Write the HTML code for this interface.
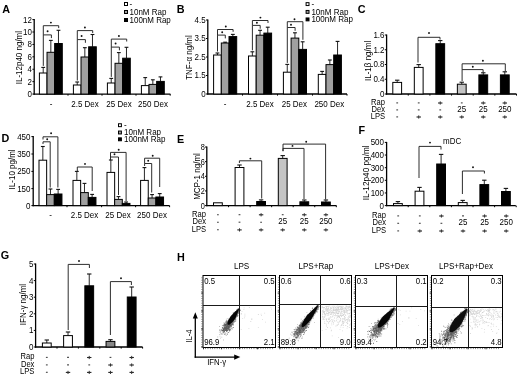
<!DOCTYPE html>
<html><head><meta charset="utf-8"><style>
html,body{margin:0;padding:0;background:#fff;width:520px;height:374px;overflow:hidden}
svg{display:block;font-family:"Liberation Sans",sans-serif;will-change:transform}
</style></head><body>
<svg width="520" height="374" viewBox="0 0 520 374" font-family="Liberation Sans, sans-serif" fill="#000"><text transform="translate(2.20,12.60) scale(1,1.0)" font-size="10.8" text-anchor="start" font-weight="bold" >A</text>
<line x1="34.20" y1="19.10" x2="34.20" y2="94.66" stroke="#000" stroke-width="1.3"/>
<line x1="32.40" y1="19.60" x2="34.20" y2="19.60" stroke="#000" stroke-width="1"/>
<text transform="translate(31.90,22.50) scale(1,1.15)" font-size="8" text-anchor="end" >12</text>
<line x1="32.40" y1="32.01" x2="34.20" y2="32.01" stroke="#000" stroke-width="1"/>
<text transform="translate(31.90,34.91) scale(1,1.15)" font-size="8" text-anchor="end" >10</text>
<line x1="32.40" y1="44.42" x2="34.20" y2="44.42" stroke="#000" stroke-width="1"/>
<text transform="translate(31.90,47.32) scale(1,1.15)" font-size="8" text-anchor="end" >8</text>
<line x1="32.40" y1="56.83" x2="34.20" y2="56.83" stroke="#000" stroke-width="1"/>
<text transform="translate(31.90,59.73) scale(1,1.15)" font-size="8" text-anchor="end" >6</text>
<line x1="32.40" y1="69.24" x2="34.20" y2="69.24" stroke="#000" stroke-width="1"/>
<text transform="translate(31.90,72.14) scale(1,1.15)" font-size="8" text-anchor="end" >4</text>
<line x1="32.40" y1="81.65" x2="34.20" y2="81.65" stroke="#000" stroke-width="1"/>
<text transform="translate(31.90,84.55) scale(1,1.15)" font-size="8" text-anchor="end" >2</text>
<line x1="32.40" y1="94.06" x2="34.20" y2="94.06" stroke="#000" stroke-width="1"/>
<text transform="translate(31.90,96.96) scale(1,1.15)" font-size="8" text-anchor="end" >0</text>
<line x1="33.60" y1="94.06" x2="170.40" y2="94.06" stroke="#000" stroke-width="1.3"/>
<line x1="68.00" y1="94.06" x2="68.00" y2="95.66" stroke="#000" stroke-width="1"/>
<line x1="102.00" y1="94.06" x2="102.00" y2="95.66" stroke="#000" stroke-width="1"/>
<line x1="136.00" y1="94.06" x2="136.00" y2="95.66" stroke="#000" stroke-width="1"/>
<line x1="170.20" y1="94.06" x2="170.20" y2="95.66" stroke="#000" stroke-width="1"/>
<line x1="43.21" y1="73.00" x2="43.21" y2="67.40" stroke="#111" stroke-width="0.9"/>
<line x1="41.31" y1="67.40" x2="45.12" y2="67.40" stroke="#111" stroke-width="1.1"/>
<rect x="39.40" y="73.00" width="7.63" height="21.06" fill="#fff" stroke="#000" stroke-width="1"/>
<line x1="50.84" y1="52.30" x2="50.84" y2="40.40" stroke="#111" stroke-width="0.9"/>
<line x1="48.94" y1="40.40" x2="52.75" y2="40.40" stroke="#111" stroke-width="1.1"/>
<rect x="47.03" y="52.30" width="7.63" height="41.76" fill="#a0a0a0" stroke="#000" stroke-width="1"/>
<line x1="58.47" y1="43.50" x2="58.47" y2="30.30" stroke="#111" stroke-width="0.9"/>
<line x1="56.57" y1="30.30" x2="60.38" y2="30.30" stroke="#111" stroke-width="1.1"/>
<rect x="54.66" y="43.50" width="7.63" height="50.56" fill="#000" stroke="#000" stroke-width="1"/>
<line x1="77.22" y1="85.00" x2="77.22" y2="82.00" stroke="#111" stroke-width="0.9"/>
<line x1="75.31" y1="82.00" x2="79.12" y2="82.00" stroke="#111" stroke-width="1.1"/>
<rect x="73.40" y="85.00" width="7.63" height="9.06" fill="#fff" stroke="#000" stroke-width="1"/>
<line x1="84.84" y1="57.00" x2="84.84" y2="47.70" stroke="#111" stroke-width="0.9"/>
<line x1="82.94" y1="47.70" x2="86.75" y2="47.70" stroke="#111" stroke-width="1.1"/>
<rect x="81.03" y="57.00" width="7.63" height="37.06" fill="#a0a0a0" stroke="#000" stroke-width="1"/>
<line x1="92.48" y1="46.80" x2="92.48" y2="34.50" stroke="#111" stroke-width="0.9"/>
<line x1="90.57" y1="34.50" x2="94.38" y2="34.50" stroke="#111" stroke-width="1.1"/>
<rect x="88.66" y="46.80" width="7.63" height="47.26" fill="#000" stroke="#000" stroke-width="1"/>
<line x1="111.22" y1="83.00" x2="111.22" y2="78.40" stroke="#111" stroke-width="0.9"/>
<line x1="109.31" y1="78.40" x2="113.12" y2="78.40" stroke="#111" stroke-width="1.1"/>
<rect x="107.40" y="83.00" width="7.63" height="11.06" fill="#fff" stroke="#000" stroke-width="1"/>
<line x1="118.84" y1="63.30" x2="118.84" y2="52.60" stroke="#111" stroke-width="0.9"/>
<line x1="116.94" y1="52.60" x2="120.75" y2="52.60" stroke="#111" stroke-width="1.1"/>
<rect x="115.03" y="63.30" width="7.63" height="30.76" fill="#a0a0a0" stroke="#000" stroke-width="1"/>
<line x1="126.48" y1="58.20" x2="126.48" y2="47.30" stroke="#111" stroke-width="0.9"/>
<line x1="124.57" y1="47.30" x2="128.38" y2="47.30" stroke="#111" stroke-width="1.1"/>
<rect x="122.66" y="58.20" width="7.63" height="35.86" fill="#000" stroke="#000" stroke-width="1"/>
<line x1="145.22" y1="85.60" x2="145.22" y2="77.60" stroke="#111" stroke-width="0.9"/>
<line x1="143.31" y1="77.60" x2="147.12" y2="77.60" stroke="#111" stroke-width="1.1"/>
<rect x="141.40" y="85.60" width="7.63" height="8.46" fill="#fff" stroke="#000" stroke-width="1"/>
<line x1="152.84" y1="84.40" x2="152.84" y2="79.80" stroke="#111" stroke-width="0.9"/>
<line x1="150.94" y1="79.80" x2="154.75" y2="79.80" stroke="#111" stroke-width="1.1"/>
<rect x="149.03" y="84.40" width="7.63" height="9.66" fill="#a0a0a0" stroke="#000" stroke-width="1"/>
<line x1="160.47" y1="81.40" x2="160.47" y2="76.90" stroke="#111" stroke-width="0.9"/>
<line x1="158.57" y1="76.90" x2="162.38" y2="76.90" stroke="#111" stroke-width="1.1"/>
<rect x="156.66" y="81.40" width="7.63" height="12.66" fill="#000" stroke="#000" stroke-width="1"/>
<polyline points="43.30,65.90 43.30,34.90 51.40,34.90 51.40,38.10" fill="none" stroke="#222" stroke-width="0.95"/>
<circle cx="47.60" cy="31.30" r="0.95" fill="#111"/>
<polyline points="43.30,34.90 43.30,25.70 58.70,25.70 58.70,28.10" fill="none" stroke="#222" stroke-width="0.95"/>
<circle cx="50.90" cy="22.60" r="0.95" fill="#111"/>
<polyline points="77.30,80.50 77.30,39.60 85.40,39.60 85.40,42.80" fill="none" stroke="#222" stroke-width="0.95"/>
<circle cx="81.60" cy="36.00" r="0.95" fill="#111"/>
<polyline points="77.30,39.60 77.30,30.60 92.70,30.60 92.70,33.00" fill="none" stroke="#222" stroke-width="0.95"/>
<circle cx="84.90" cy="27.50" r="0.95" fill="#111"/>
<polyline points="111.30,76.90 111.30,47.10 119.40,47.10 119.40,50.30" fill="none" stroke="#222" stroke-width="0.95"/>
<circle cx="115.60" cy="43.50" r="0.95" fill="#111"/>
<polyline points="111.30,47.10 111.30,39.10 126.70,39.10 126.70,41.50" fill="none" stroke="#222" stroke-width="0.95"/>
<circle cx="118.90" cy="36.00" r="0.95" fill="#111"/>
<text transform="translate(51.00,107.30) scale(1,1.15)" font-size="8" text-anchor="middle" >-</text>
<text transform="translate(85.00,107.30) scale(1,1.15)" font-size="8" text-anchor="middle" >2.5 Dex</text>
<text transform="translate(119.00,107.30) scale(1,1.15)" font-size="8" text-anchor="middle" >25 Dex</text>
<text transform="translate(153.00,107.30) scale(1,1.15)" font-size="8" text-anchor="middle" >250 Dex</text>
<text x="0" y="0" font-size="8" text-anchor="middle" transform="translate(18.30,57.60) rotate(-90) scale(1,1.15)" dominant-baseline="central">IL-12p40 ng/ml</text>
<rect x="124.50" y="2.50" width="3" height="3" fill="#fff" stroke="#000" stroke-width="1"/>
<text transform="translate(129.50,6.90) scale(1,1.15)" font-size="8" text-anchor="start" >-</text>
<rect x="124.50" y="10.50" width="3" height="3" fill="#a0a0a0" stroke="#000" stroke-width="1"/>
<text transform="translate(129.50,14.90) scale(1,1.15)" font-size="8" text-anchor="start" >10nM Rap</text>
<rect x="124.50" y="18.50" width="3" height="3" fill="#000" stroke="#000" stroke-width="1"/>
<text transform="translate(129.50,22.90) scale(1,1.15)" font-size="8" text-anchor="start" >100nM Rap</text>
<text transform="translate(176.80,13.30) scale(1,1.0)" font-size="10.8" text-anchor="start" font-weight="bold" >B</text>
<line x1="207.80" y1="19.50" x2="207.80" y2="94.60" stroke="#000" stroke-width="1.3"/>
<line x1="206.00" y1="20.00" x2="207.80" y2="20.00" stroke="#000" stroke-width="1"/>
<text transform="translate(205.70,22.90) scale(1,1.15)" font-size="8" text-anchor="end" >4.5</text>
<line x1="206.00" y1="38.50" x2="207.80" y2="38.50" stroke="#000" stroke-width="1"/>
<text transform="translate(205.70,41.40) scale(1,1.15)" font-size="8" text-anchor="end" >3.5</text>
<line x1="206.00" y1="57.00" x2="207.80" y2="57.00" stroke="#000" stroke-width="1"/>
<text transform="translate(205.70,59.90) scale(1,1.15)" font-size="8" text-anchor="end" >2.5</text>
<line x1="206.00" y1="75.50" x2="207.80" y2="75.50" stroke="#000" stroke-width="1"/>
<text transform="translate(205.70,78.40) scale(1,1.15)" font-size="8" text-anchor="end" >1.5</text>
<line x1="206.00" y1="94.00" x2="207.80" y2="94.00" stroke="#000" stroke-width="1"/>
<text transform="translate(205.70,96.90) scale(1,1.15)" font-size="8" text-anchor="end" >0</text>
<line x1="207.20" y1="94.00" x2="347.00" y2="94.00" stroke="#000" stroke-width="1.3"/>
<line x1="242.50" y1="94.00" x2="242.50" y2="95.60" stroke="#000" stroke-width="1"/>
<line x1="277.50" y1="94.00" x2="277.50" y2="95.60" stroke="#000" stroke-width="1"/>
<line x1="312.50" y1="94.00" x2="312.50" y2="95.60" stroke="#000" stroke-width="1"/>
<line x1="347.00" y1="94.00" x2="347.00" y2="95.60" stroke="#000" stroke-width="1"/>
<line x1="217.45" y1="55.00" x2="217.45" y2="53.00" stroke="#111" stroke-width="0.9"/>
<line x1="215.52" y1="53.00" x2="219.38" y2="53.00" stroke="#111" stroke-width="1.1"/>
<rect x="213.60" y="55.00" width="7.70" height="39.00" fill="#fff" stroke="#000" stroke-width="1"/>
<line x1="225.15" y1="43.00" x2="225.15" y2="42.20" stroke="#111" stroke-width="0.9"/>
<line x1="223.22" y1="42.20" x2="227.07" y2="42.20" stroke="#111" stroke-width="1.1"/>
<rect x="221.30" y="43.00" width="7.70" height="51.00" fill="#a0a0a0" stroke="#000" stroke-width="1"/>
<line x1="232.85" y1="36.60" x2="232.85" y2="34.40" stroke="#111" stroke-width="0.9"/>
<line x1="230.92" y1="34.40" x2="234.78" y2="34.40" stroke="#111" stroke-width="1.1"/>
<rect x="229.00" y="36.60" width="7.70" height="57.40" fill="#000" stroke="#000" stroke-width="1"/>
<line x1="252.35" y1="56.00" x2="252.35" y2="51.80" stroke="#111" stroke-width="0.9"/>
<line x1="250.42" y1="51.80" x2="254.28" y2="51.80" stroke="#111" stroke-width="1.1"/>
<rect x="248.50" y="56.00" width="7.70" height="38.00" fill="#fff" stroke="#000" stroke-width="1"/>
<line x1="260.05" y1="35.20" x2="260.05" y2="30.30" stroke="#111" stroke-width="0.9"/>
<line x1="258.12" y1="30.30" x2="261.98" y2="30.30" stroke="#111" stroke-width="1.1"/>
<rect x="256.20" y="35.20" width="7.70" height="58.80" fill="#a0a0a0" stroke="#000" stroke-width="1"/>
<line x1="267.75" y1="33.10" x2="267.75" y2="27.20" stroke="#111" stroke-width="0.9"/>
<line x1="265.82" y1="27.20" x2="269.68" y2="27.20" stroke="#111" stroke-width="1.1"/>
<rect x="263.90" y="33.10" width="7.70" height="60.90" fill="#000" stroke="#000" stroke-width="1"/>
<line x1="287.25" y1="72.20" x2="287.25" y2="64.40" stroke="#111" stroke-width="0.9"/>
<line x1="285.32" y1="64.40" x2="289.18" y2="64.40" stroke="#111" stroke-width="1.1"/>
<rect x="283.40" y="72.20" width="7.70" height="21.80" fill="#fff" stroke="#000" stroke-width="1"/>
<line x1="294.95" y1="38.10" x2="294.95" y2="32.80" stroke="#111" stroke-width="0.9"/>
<line x1="293.02" y1="32.80" x2="296.88" y2="32.80" stroke="#111" stroke-width="1.1"/>
<rect x="291.10" y="38.10" width="7.70" height="55.90" fill="#a0a0a0" stroke="#000" stroke-width="1"/>
<line x1="302.65" y1="49.40" x2="302.65" y2="41.80" stroke="#111" stroke-width="0.9"/>
<line x1="300.72" y1="41.80" x2="304.57" y2="41.80" stroke="#111" stroke-width="1.1"/>
<rect x="298.80" y="49.40" width="7.70" height="44.60" fill="#000" stroke="#000" stroke-width="1"/>
<line x1="322.15" y1="74.40" x2="322.15" y2="71.40" stroke="#111" stroke-width="0.9"/>
<line x1="320.22" y1="71.40" x2="324.07" y2="71.40" stroke="#111" stroke-width="1.1"/>
<rect x="318.30" y="74.40" width="7.70" height="19.60" fill="#fff" stroke="#000" stroke-width="1"/>
<line x1="329.85" y1="64.60" x2="329.85" y2="60.00" stroke="#111" stroke-width="0.9"/>
<line x1="327.92" y1="60.00" x2="331.77" y2="60.00" stroke="#111" stroke-width="1.1"/>
<rect x="326.00" y="64.60" width="7.70" height="29.40" fill="#a0a0a0" stroke="#000" stroke-width="1"/>
<line x1="337.55" y1="55.00" x2="337.55" y2="41.40" stroke="#111" stroke-width="0.9"/>
<line x1="335.62" y1="41.40" x2="339.47" y2="41.40" stroke="#111" stroke-width="1.1"/>
<rect x="333.70" y="55.00" width="7.70" height="39.00" fill="#000" stroke="#000" stroke-width="1"/>
<polyline points="217.50,51.50 217.50,35.10 225.30,35.10 225.30,38.40" fill="none" stroke="#222" stroke-width="0.95"/>
<circle cx="222.20" cy="32.20" r="0.95" fill="#111"/>
<polyline points="217.50,35.10 217.50,29.50 233.10,29.50 233.10,31.80" fill="none" stroke="#222" stroke-width="0.95"/>
<circle cx="225.80" cy="26.50" r="0.95" fill="#111"/>
<polyline points="252.40,50.30 252.40,25.40 260.20,25.40 260.20,28.70" fill="none" stroke="#222" stroke-width="0.95"/>
<circle cx="256.90" cy="22.70" r="0.95" fill="#111"/>
<polyline points="252.40,25.40 252.40,20.50 268.00,20.50 268.00,23.00" fill="none" stroke="#222" stroke-width="0.95"/>
<circle cx="260.40" cy="17.60" r="0.95" fill="#111"/>
<polyline points="287.30,62.90 287.30,27.50 295.10,27.50 295.10,30.80" fill="none" stroke="#222" stroke-width="0.95"/>
<circle cx="291.00" cy="24.80" r="0.95" fill="#111"/>
<polyline points="287.30,27.50 287.30,21.70 302.90,21.70 302.90,39.80" fill="none" stroke="#222" stroke-width="0.95"/>
<circle cx="294.50" cy="19.20" r="0.95" fill="#111"/>
<text transform="translate(225.00,106.80) scale(1,1.15)" font-size="8" text-anchor="middle" >-</text>
<text transform="translate(260.00,106.80) scale(1,1.15)" font-size="8" text-anchor="middle" >2.5 Dex</text>
<text transform="translate(294.40,106.80) scale(1,1.15)" font-size="8" text-anchor="middle" >25 Dex</text>
<text transform="translate(329.30,106.80) scale(1,1.15)" font-size="8" text-anchor="middle" >250 Dex</text>
<text x="0" y="0" font-size="8" text-anchor="middle" transform="translate(188.70,57.50) rotate(-90) scale(1,1.15)" dominant-baseline="central">TNF-α ng/ml</text>
<rect x="306.10" y="2.65" width="2.9" height="2.9" fill="#fff" stroke="#000" stroke-width="1"/>
<text transform="translate(311.40,7.00) scale(1,1.15)" font-size="8.05" text-anchor="start" >-</text>
<rect x="306.10" y="10.45" width="2.9" height="2.9" fill="#a0a0a0" stroke="#000" stroke-width="1"/>
<text transform="translate(311.40,14.80) scale(1,1.15)" font-size="8.05" text-anchor="start" >10nM Rap</text>
<rect x="306.10" y="17.95" width="2.9" height="2.9" fill="#000" stroke="#000" stroke-width="1"/>
<text transform="translate(311.40,22.30) scale(1,1.15)" font-size="8.05" text-anchor="start" >100nM Rap</text>
<text transform="translate(357.80,12.80) scale(1,1.0)" font-size="10.8" text-anchor="start" font-weight="bold" >C</text>
<line x1="386.60" y1="34.50" x2="386.60" y2="94.60" stroke="#000" stroke-width="1.3"/>
<line x1="384.80" y1="35.00" x2="386.60" y2="35.00" stroke="#000" stroke-width="1"/>
<text transform="translate(384.50,37.90) scale(1,1.15)" font-size="8" text-anchor="end" >1.6</text>
<line x1="384.80" y1="49.75" x2="386.60" y2="49.75" stroke="#000" stroke-width="1"/>
<text transform="translate(384.50,52.65) scale(1,1.15)" font-size="8" text-anchor="end" >1.2</text>
<line x1="384.80" y1="64.50" x2="386.60" y2="64.50" stroke="#000" stroke-width="1"/>
<text transform="translate(384.50,67.40) scale(1,1.15)" font-size="8" text-anchor="end" >0.8</text>
<line x1="384.80" y1="79.25" x2="386.60" y2="79.25" stroke="#000" stroke-width="1"/>
<text transform="translate(384.50,82.15) scale(1,1.15)" font-size="8" text-anchor="end" >0.4</text>
<line x1="384.80" y1="94.00" x2="386.60" y2="94.00" stroke="#000" stroke-width="1"/>
<text transform="translate(384.50,96.90) scale(1,1.15)" font-size="8" text-anchor="end" >0</text>
<line x1="386.00" y1="94.00" x2="516.50" y2="94.00" stroke="#000" stroke-width="1.3"/>
<line x1="408.25" y1="94.00" x2="408.25" y2="95.60" stroke="#000" stroke-width="1"/>
<line x1="429.90" y1="94.00" x2="429.90" y2="95.60" stroke="#000" stroke-width="1"/>
<line x1="451.55" y1="94.00" x2="451.55" y2="95.60" stroke="#000" stroke-width="1"/>
<line x1="473.20" y1="94.00" x2="473.20" y2="95.60" stroke="#000" stroke-width="1"/>
<line x1="494.85" y1="94.00" x2="494.85" y2="95.60" stroke="#000" stroke-width="1"/>
<line x1="516.50" y1="94.00" x2="516.50" y2="95.60" stroke="#000" stroke-width="1"/>
<line x1="397.20" y1="82.40" x2="397.20" y2="80.20" stroke="#111" stroke-width="0.9"/>
<line x1="395.00" y1="80.20" x2="399.40" y2="80.20" stroke="#111" stroke-width="1.1"/>
<rect x="392.80" y="82.40" width="8.80" height="11.60" fill="#fff" stroke="#000" stroke-width="1"/>
<line x1="418.72" y1="67.40" x2="418.72" y2="64.60" stroke="#111" stroke-width="0.9"/>
<line x1="416.52" y1="64.60" x2="420.92" y2="64.60" stroke="#111" stroke-width="1.1"/>
<rect x="414.32" y="67.40" width="8.80" height="26.60" fill="#fff" stroke="#000" stroke-width="1"/>
<line x1="440.24" y1="43.70" x2="440.24" y2="40.60" stroke="#111" stroke-width="0.9"/>
<line x1="438.04" y1="40.60" x2="442.44" y2="40.60" stroke="#111" stroke-width="1.1"/>
<rect x="435.84" y="43.70" width="8.80" height="50.30" fill="#000" stroke="#000" stroke-width="1"/>
<line x1="461.76" y1="84.20" x2="461.76" y2="82.20" stroke="#111" stroke-width="0.9"/>
<line x1="459.56" y1="82.20" x2="463.96" y2="82.20" stroke="#111" stroke-width="1.1"/>
<rect x="457.36" y="84.20" width="8.80" height="9.80" fill="#c4c4c4" stroke="#000" stroke-width="1"/>
<line x1="483.28" y1="74.90" x2="483.28" y2="72.80" stroke="#111" stroke-width="0.9"/>
<line x1="481.08" y1="72.80" x2="485.48" y2="72.80" stroke="#111" stroke-width="1.1"/>
<rect x="478.88" y="74.90" width="8.80" height="19.10" fill="#000" stroke="#000" stroke-width="1"/>
<line x1="504.80" y1="74.90" x2="504.80" y2="71.80" stroke="#111" stroke-width="0.9"/>
<line x1="502.60" y1="71.80" x2="507.00" y2="71.80" stroke="#111" stroke-width="1.1"/>
<rect x="500.40" y="74.90" width="8.80" height="19.10" fill="#000" stroke="#000" stroke-width="1"/>
<polyline points="418.00,62.50 418.00,37.30 440.00,37.30 440.00,39.60" fill="none" stroke="#222" stroke-width="0.95"/>
<circle cx="429.00" cy="33.00" r="0.95" fill="#111"/>
<polyline points="462.10,81.00 462.10,69.60 483.10,69.60 483.10,72.60" fill="none" stroke="#222" stroke-width="0.95"/>
<circle cx="472.80" cy="66.70" r="0.95" fill="#111"/>
<polyline points="462.10,69.60 462.10,63.80 505.30,63.80 505.30,71.20" fill="none" stroke="#222" stroke-width="0.95"/>
<circle cx="482.90" cy="60.70" r="0.95" fill="#111"/>
<text transform="translate(385.00,104.80) scale(1,1.15)" font-size="7.6" text-anchor="end" >Rap</text>
<text transform="translate(385.00,111.80) scale(1,1.15)" font-size="7.6" text-anchor="end" >Dex</text>
<text transform="translate(385.00,118.80) scale(1,1.15)" font-size="7.6" text-anchor="end" >LPS</text>
<line x1="396.30" y1="102.90" x2="398.10" y2="102.90" stroke="#444" stroke-width="1.1"/>
<line x1="417.82" y1="102.90" x2="419.62" y2="102.90" stroke="#444" stroke-width="1.1"/>
<line x1="438.04" y1="103.00" x2="442.44" y2="103.00" stroke="#222" stroke-width="1.1"/>
<line x1="440.24" y1="101.40" x2="440.24" y2="104.60" stroke="#333" stroke-width="1.0"/>
<line x1="460.86" y1="102.90" x2="462.66" y2="102.90" stroke="#444" stroke-width="1.1"/>
<line x1="481.08" y1="103.00" x2="485.48" y2="103.00" stroke="#222" stroke-width="1.1"/>
<line x1="483.28" y1="101.40" x2="483.28" y2="104.60" stroke="#333" stroke-width="1.0"/>
<line x1="502.60" y1="103.00" x2="507.00" y2="103.00" stroke="#222" stroke-width="1.1"/>
<line x1="504.80" y1="101.40" x2="504.80" y2="104.60" stroke="#333" stroke-width="1.0"/>
<line x1="396.30" y1="109.90" x2="398.10" y2="109.90" stroke="#444" stroke-width="1.1"/>
<line x1="417.82" y1="109.90" x2="419.62" y2="109.90" stroke="#444" stroke-width="1.1"/>
<line x1="439.34" y1="109.90" x2="441.14" y2="109.90" stroke="#444" stroke-width="1.1"/>
<text transform="translate(461.76,111.90) scale(1,1.15)" font-size="8.0" text-anchor="middle" >25</text>
<text transform="translate(483.28,111.90) scale(1,1.15)" font-size="8.0" text-anchor="middle" >25</text>
<text transform="translate(504.80,111.90) scale(1,1.15)" font-size="8.0" text-anchor="middle" >250</text>
<line x1="396.30" y1="116.90" x2="398.10" y2="116.90" stroke="#444" stroke-width="1.1"/>
<line x1="416.52" y1="117.00" x2="420.92" y2="117.00" stroke="#222" stroke-width="1.1"/>
<line x1="418.72" y1="115.40" x2="418.72" y2="118.60" stroke="#333" stroke-width="1.0"/>
<line x1="438.04" y1="117.00" x2="442.44" y2="117.00" stroke="#222" stroke-width="1.1"/>
<line x1="440.24" y1="115.40" x2="440.24" y2="118.60" stroke="#333" stroke-width="1.0"/>
<line x1="459.56" y1="117.00" x2="463.96" y2="117.00" stroke="#222" stroke-width="1.1"/>
<line x1="461.76" y1="115.40" x2="461.76" y2="118.60" stroke="#333" stroke-width="1.0"/>
<line x1="481.08" y1="117.00" x2="485.48" y2="117.00" stroke="#222" stroke-width="1.1"/>
<line x1="483.28" y1="115.40" x2="483.28" y2="118.60" stroke="#333" stroke-width="1.0"/>
<line x1="502.60" y1="117.00" x2="507.00" y2="117.00" stroke="#222" stroke-width="1.1"/>
<line x1="504.80" y1="115.40" x2="504.80" y2="118.60" stroke="#333" stroke-width="1.0"/>
<text x="0" y="0" font-size="8" text-anchor="middle" transform="translate(367.80,60.90) rotate(-90) scale(1,1.15)" dominant-baseline="central">IL-1β ng/ml</text>
<text transform="translate(1.50,141.50) scale(1,1.0)" font-size="10.8" text-anchor="start" font-weight="bold" >D</text>
<line x1="33.20" y1="136.10" x2="33.20" y2="206.20" stroke="#000" stroke-width="1.3"/>
<line x1="31.40" y1="136.60" x2="33.20" y2="136.60" stroke="#000" stroke-width="1"/>
<text transform="translate(30.50,139.50) scale(1,1.15)" font-size="8" text-anchor="end" >450</text>
<line x1="31.40" y1="154.00" x2="33.20" y2="154.00" stroke="#000" stroke-width="1"/>
<text transform="translate(30.50,156.90) scale(1,1.15)" font-size="8" text-anchor="end" >350</text>
<line x1="31.40" y1="171.40" x2="33.20" y2="171.40" stroke="#000" stroke-width="1"/>
<text transform="translate(30.50,174.30) scale(1,1.15)" font-size="8" text-anchor="end" >250</text>
<line x1="31.40" y1="188.60" x2="33.20" y2="188.60" stroke="#000" stroke-width="1"/>
<text transform="translate(30.50,191.50) scale(1,1.15)" font-size="8" text-anchor="end" >150</text>
<line x1="31.40" y1="205.60" x2="33.20" y2="205.60" stroke="#000" stroke-width="1"/>
<text transform="translate(30.50,208.50) scale(1,1.15)" font-size="8" text-anchor="end" >0</text>
<line x1="32.60" y1="205.60" x2="169.60" y2="205.60" stroke="#000" stroke-width="1.3"/>
<line x1="67.00" y1="205.60" x2="67.00" y2="207.20" stroke="#000" stroke-width="1"/>
<line x1="101.60" y1="205.60" x2="101.60" y2="207.20" stroke="#000" stroke-width="1"/>
<line x1="135.60" y1="205.60" x2="135.60" y2="207.20" stroke="#000" stroke-width="1"/>
<line x1="169.60" y1="205.60" x2="169.60" y2="207.20" stroke="#000" stroke-width="1"/>
<line x1="42.83" y1="160.20" x2="42.83" y2="146.50" stroke="#111" stroke-width="0.9"/>
<line x1="40.91" y1="146.50" x2="44.74" y2="146.50" stroke="#111" stroke-width="1.1"/>
<rect x="39.00" y="160.20" width="7.65" height="45.40" fill="#fff" stroke="#000" stroke-width="1"/>
<line x1="50.48" y1="194.60" x2="50.48" y2="189.00" stroke="#111" stroke-width="0.9"/>
<line x1="48.56" y1="189.00" x2="52.39" y2="189.00" stroke="#111" stroke-width="1.1"/>
<rect x="46.65" y="194.60" width="7.65" height="11.00" fill="#a0a0a0" stroke="#000" stroke-width="1"/>
<line x1="58.12" y1="194.00" x2="58.12" y2="189.40" stroke="#111" stroke-width="0.9"/>
<line x1="56.21" y1="189.40" x2="60.04" y2="189.40" stroke="#111" stroke-width="1.1"/>
<rect x="54.30" y="194.00" width="7.65" height="11.60" fill="#000" stroke="#000" stroke-width="1"/>
<line x1="76.83" y1="180.40" x2="76.83" y2="171.40" stroke="#111" stroke-width="0.9"/>
<line x1="74.91" y1="171.40" x2="78.74" y2="171.40" stroke="#111" stroke-width="1.1"/>
<rect x="73.00" y="180.40" width="7.65" height="25.20" fill="#fff" stroke="#000" stroke-width="1"/>
<line x1="84.48" y1="192.60" x2="84.48" y2="183.40" stroke="#111" stroke-width="0.9"/>
<line x1="82.56" y1="183.40" x2="86.39" y2="183.40" stroke="#111" stroke-width="1.1"/>
<rect x="80.65" y="192.60" width="7.65" height="13.00" fill="#a0a0a0" stroke="#000" stroke-width="1"/>
<line x1="92.12" y1="197.40" x2="92.12" y2="194.40" stroke="#111" stroke-width="0.9"/>
<line x1="90.21" y1="194.40" x2="94.04" y2="194.40" stroke="#111" stroke-width="1.1"/>
<rect x="88.30" y="197.40" width="7.65" height="8.20" fill="#000" stroke="#000" stroke-width="1"/>
<line x1="110.83" y1="172.40" x2="110.83" y2="160.00" stroke="#111" stroke-width="0.9"/>
<line x1="108.91" y1="160.00" x2="112.74" y2="160.00" stroke="#111" stroke-width="1.1"/>
<rect x="107.00" y="172.40" width="7.65" height="33.20" fill="#fff" stroke="#000" stroke-width="1"/>
<line x1="118.48" y1="199.40" x2="118.48" y2="196.60" stroke="#111" stroke-width="0.9"/>
<line x1="116.56" y1="196.60" x2="120.39" y2="196.60" stroke="#111" stroke-width="1.1"/>
<rect x="114.65" y="199.40" width="7.65" height="6.20" fill="#a0a0a0" stroke="#000" stroke-width="1"/>
<line x1="126.12" y1="203.40" x2="126.12" y2="202.00" stroke="#111" stroke-width="0.9"/>
<line x1="124.21" y1="202.00" x2="128.04" y2="202.00" stroke="#111" stroke-width="1.1"/>
<rect x="122.30" y="203.40" width="7.65" height="2.20" fill="#000" stroke="#000" stroke-width="1"/>
<line x1="144.42" y1="180.40" x2="144.42" y2="167.60" stroke="#111" stroke-width="0.9"/>
<line x1="142.51" y1="167.60" x2="146.34" y2="167.60" stroke="#111" stroke-width="1.1"/>
<rect x="140.60" y="180.40" width="7.65" height="25.20" fill="#fff" stroke="#000" stroke-width="1"/>
<line x1="152.07" y1="198.00" x2="152.07" y2="194.60" stroke="#111" stroke-width="0.9"/>
<line x1="150.16" y1="194.60" x2="153.99" y2="194.60" stroke="#111" stroke-width="1.1"/>
<rect x="148.25" y="198.00" width="7.65" height="7.60" fill="#a0a0a0" stroke="#000" stroke-width="1"/>
<line x1="159.72" y1="197.00" x2="159.72" y2="193.60" stroke="#111" stroke-width="0.9"/>
<line x1="157.81" y1="193.60" x2="161.64" y2="193.60" stroke="#111" stroke-width="1.1"/>
<rect x="155.90" y="197.00" width="7.65" height="8.60" fill="#000" stroke="#000" stroke-width="1"/>
<polyline points="43.00,144.00 43.00,141.80 50.20,141.80 50.20,187.50" fill="none" stroke="#222" stroke-width="0.95"/>
<circle cx="47.20" cy="139.30" r="0.95" fill="#111"/>
<polyline points="43.00,139.50 43.00,136.80 57.90,136.80 57.90,187.50" fill="none" stroke="#222" stroke-width="0.95"/>
<circle cx="51.10" cy="133.30" r="0.95" fill="#111"/>
<polyline points="77.30,171.00 77.30,167.00 92.20,167.00 92.20,191.00" fill="none" stroke="#222" stroke-width="0.95"/>
<circle cx="85.00" cy="163.90" r="0.95" fill="#111"/>
<polyline points="110.50,160.00 110.50,157.00 118.50,157.00 118.50,195.00" fill="none" stroke="#222" stroke-width="0.95"/>
<circle cx="114.50" cy="154.30" r="0.95" fill="#111"/>
<polyline points="110.50,157.00 110.50,152.40 126.10,152.40 126.10,201.00" fill="none" stroke="#222" stroke-width="0.95"/>
<circle cx="118.70" cy="149.80" r="0.95" fill="#111"/>
<polyline points="144.60,166.00 144.60,163.50 151.70,163.50 151.70,192.50" fill="none" stroke="#222" stroke-width="0.95"/>
<circle cx="148.20" cy="160.80" r="0.95" fill="#111"/>
<polyline points="144.60,163.50 144.60,158.20 159.70,158.20 159.70,187.00" fill="none" stroke="#222" stroke-width="0.95"/>
<circle cx="152.70" cy="155.80" r="0.95" fill="#111"/>
<text transform="translate(50.50,217.80) scale(1,1.15)" font-size="8" text-anchor="middle" >-</text>
<text transform="translate(84.50,217.80) scale(1,1.15)" font-size="8" text-anchor="middle" >2.5 Dex</text>
<text transform="translate(118.00,217.80) scale(1,1.15)" font-size="8" text-anchor="middle" >25 Dex</text>
<text transform="translate(152.00,217.80) scale(1,1.15)" font-size="8" text-anchor="middle" >250 Dex</text>
<text x="0" y="0" font-size="8" text-anchor="middle" transform="translate(11.50,169.40) rotate(-90) scale(1,1.15)" dominant-baseline="central">IL-10 pg/ml</text>
<rect x="118.50" y="123.75" width="2.9" height="2.9" fill="#fff" stroke="#000" stroke-width="1"/>
<text transform="translate(124.00,128.10) scale(1,1.15)" font-size="8.05" text-anchor="start" >-</text>
<rect x="118.50" y="131.05" width="2.9" height="2.9" fill="#a0a0a0" stroke="#000" stroke-width="1"/>
<text transform="translate(124.00,135.40) scale(1,1.15)" font-size="8.05" text-anchor="start" >10nM Rap</text>
<rect x="118.50" y="137.85" width="2.9" height="2.9" fill="#000" stroke="#000" stroke-width="1"/>
<text transform="translate(124.00,142.20) scale(1,1.15)" font-size="8.05" text-anchor="start" >100nM Rap</text>
<text transform="translate(177.00,142.50) scale(1,1.0)" font-size="10.8" text-anchor="start" font-weight="bold" >E</text>
<line x1="206.80" y1="146.50" x2="206.80" y2="206.20" stroke="#000" stroke-width="1.3"/>
<line x1="205.00" y1="147.00" x2="206.80" y2="147.00" stroke="#000" stroke-width="1"/>
<text transform="translate(204.90,149.90) scale(1,1.15)" font-size="7.4" text-anchor="end" >8</text>
<line x1="205.00" y1="161.65" x2="206.80" y2="161.65" stroke="#000" stroke-width="1"/>
<text transform="translate(204.90,164.55) scale(1,1.15)" font-size="7.4" text-anchor="end" >6</text>
<line x1="205.00" y1="176.30" x2="206.80" y2="176.30" stroke="#000" stroke-width="1"/>
<text transform="translate(204.90,179.20) scale(1,1.15)" font-size="7.4" text-anchor="end" >4</text>
<line x1="205.00" y1="190.95" x2="206.80" y2="190.95" stroke="#000" stroke-width="1"/>
<text transform="translate(204.90,193.85) scale(1,1.15)" font-size="7.4" text-anchor="end" >2</text>
<line x1="205.00" y1="205.60" x2="206.80" y2="205.60" stroke="#000" stroke-width="1"/>
<text transform="translate(204.90,208.50) scale(1,1.15)" font-size="7.4" text-anchor="end" >0</text>
<line x1="206.20" y1="205.60" x2="336.50" y2="205.60" stroke="#000" stroke-width="1.3"/>
<line x1="228.55" y1="205.60" x2="228.55" y2="207.20" stroke="#000" stroke-width="1"/>
<line x1="250.10" y1="205.60" x2="250.10" y2="207.20" stroke="#000" stroke-width="1"/>
<line x1="271.65" y1="205.60" x2="271.65" y2="207.20" stroke="#000" stroke-width="1"/>
<line x1="293.20" y1="205.60" x2="293.20" y2="207.20" stroke="#000" stroke-width="1"/>
<line x1="314.75" y1="205.60" x2="314.75" y2="207.20" stroke="#000" stroke-width="1"/>
<line x1="336.30" y1="205.60" x2="336.30" y2="207.20" stroke="#000" stroke-width="1"/>
<rect x="213.50" y="202.80" width="8.80" height="2.80" fill="#fff" stroke="#000" stroke-width="1"/>
<line x1="239.50" y1="167.50" x2="239.50" y2="165.00" stroke="#111" stroke-width="0.9"/>
<line x1="237.30" y1="165.00" x2="241.70" y2="165.00" stroke="#111" stroke-width="1.1"/>
<rect x="235.10" y="167.50" width="8.80" height="38.10" fill="#fff" stroke="#000" stroke-width="1"/>
<line x1="261.10" y1="201.50" x2="261.10" y2="199.90" stroke="#111" stroke-width="0.9"/>
<line x1="258.90" y1="199.90" x2="263.30" y2="199.90" stroke="#111" stroke-width="1.1"/>
<rect x="256.70" y="201.50" width="8.80" height="4.10" fill="#000" stroke="#000" stroke-width="1"/>
<line x1="282.70" y1="158.40" x2="282.70" y2="155.60" stroke="#111" stroke-width="0.9"/>
<line x1="280.50" y1="155.60" x2="284.90" y2="155.60" stroke="#111" stroke-width="1.1"/>
<rect x="278.30" y="158.40" width="8.80" height="47.20" fill="#c4c4c4" stroke="#000" stroke-width="1"/>
<line x1="304.30" y1="201.80" x2="304.30" y2="200.00" stroke="#111" stroke-width="0.9"/>
<line x1="302.10" y1="200.00" x2="306.50" y2="200.00" stroke="#111" stroke-width="1.1"/>
<rect x="299.90" y="201.80" width="8.80" height="3.80" fill="#000" stroke="#000" stroke-width="1"/>
<line x1="325.90" y1="202.00" x2="325.90" y2="200.00" stroke="#111" stroke-width="0.9"/>
<line x1="323.70" y1="200.00" x2="328.10" y2="200.00" stroke="#111" stroke-width="1.1"/>
<rect x="321.50" y="202.00" width="8.80" height="3.60" fill="#000" stroke="#000" stroke-width="1"/>
<polyline points="239.40,163.00 239.40,160.80 261.70,160.80 261.70,198.50" fill="none" stroke="#222" stroke-width="0.95"/>
<circle cx="250.40" cy="158.60" r="0.95" fill="#111"/>
<polyline points="283.00,151.00 283.00,148.40 304.00,148.40 304.00,199.00" fill="none" stroke="#222" stroke-width="0.95"/>
<circle cx="292.50" cy="145.90" r="0.95" fill="#111"/>
<polyline points="283.00,151.30 283.00,144.10 325.60,144.10 325.60,199.50" fill="none" stroke="#222" stroke-width="0.95"/>
<circle cx="306.20" cy="141.70" r="0.95" fill="#111"/>
<text transform="translate(206.00,216.60) scale(1,1.15)" font-size="7.6" text-anchor="end" >Rap</text>
<text transform="translate(206.00,224.10) scale(1,1.15)" font-size="7.6" text-anchor="end" >Dex</text>
<text transform="translate(206.00,231.70) scale(1,1.15)" font-size="7.6" text-anchor="end" >LPS</text>
<line x1="217.00" y1="214.70" x2="218.80" y2="214.70" stroke="#444" stroke-width="1.1"/>
<line x1="238.60" y1="214.70" x2="240.40" y2="214.70" stroke="#444" stroke-width="1.1"/>
<line x1="258.90" y1="214.80" x2="263.30" y2="214.80" stroke="#222" stroke-width="1.1"/>
<line x1="261.10" y1="213.20" x2="261.10" y2="216.40" stroke="#333" stroke-width="1.0"/>
<line x1="281.80" y1="214.70" x2="283.60" y2="214.70" stroke="#444" stroke-width="1.1"/>
<line x1="302.10" y1="214.80" x2="306.50" y2="214.80" stroke="#222" stroke-width="1.1"/>
<line x1="304.30" y1="213.20" x2="304.30" y2="216.40" stroke="#333" stroke-width="1.0"/>
<line x1="323.70" y1="214.80" x2="328.10" y2="214.80" stroke="#222" stroke-width="1.1"/>
<line x1="325.90" y1="213.20" x2="325.90" y2="216.40" stroke="#333" stroke-width="1.0"/>
<line x1="217.00" y1="222.20" x2="218.80" y2="222.20" stroke="#444" stroke-width="1.1"/>
<line x1="238.60" y1="222.20" x2="240.40" y2="222.20" stroke="#444" stroke-width="1.1"/>
<line x1="260.20" y1="222.20" x2="262.00" y2="222.20" stroke="#444" stroke-width="1.1"/>
<text transform="translate(282.70,224.20) scale(1,1.15)" font-size="8.0" text-anchor="middle" >25</text>
<text transform="translate(304.30,224.20) scale(1,1.15)" font-size="8.0" text-anchor="middle" >25</text>
<text transform="translate(325.90,224.20) scale(1,1.15)" font-size="8.0" text-anchor="middle" >250</text>
<line x1="217.00" y1="229.80" x2="218.80" y2="229.80" stroke="#444" stroke-width="1.1"/>
<line x1="237.30" y1="229.90" x2="241.70" y2="229.90" stroke="#222" stroke-width="1.1"/>
<line x1="239.50" y1="228.30" x2="239.50" y2="231.50" stroke="#333" stroke-width="1.0"/>
<line x1="258.90" y1="229.90" x2="263.30" y2="229.90" stroke="#222" stroke-width="1.1"/>
<line x1="261.10" y1="228.30" x2="261.10" y2="231.50" stroke="#333" stroke-width="1.0"/>
<line x1="280.50" y1="229.90" x2="284.90" y2="229.90" stroke="#222" stroke-width="1.1"/>
<line x1="282.70" y1="228.30" x2="282.70" y2="231.50" stroke="#333" stroke-width="1.0"/>
<line x1="302.10" y1="229.90" x2="306.50" y2="229.90" stroke="#222" stroke-width="1.1"/>
<line x1="304.30" y1="228.30" x2="304.30" y2="231.50" stroke="#333" stroke-width="1.0"/>
<line x1="323.70" y1="229.90" x2="328.10" y2="229.90" stroke="#222" stroke-width="1.1"/>
<line x1="325.90" y1="228.30" x2="325.90" y2="231.50" stroke="#333" stroke-width="1.0"/>
<text x="0" y="0" font-size="8" text-anchor="middle" transform="translate(197.10,176.50) rotate(-90) scale(1,1.15)" dominant-baseline="central">MCP-1 ng/ml</text>
<text transform="translate(358.50,134.00) scale(1,1.0)" font-size="10.8" text-anchor="start" font-weight="bold" >F</text>
<line x1="386.60" y1="141.90" x2="386.60" y2="206.20" stroke="#000" stroke-width="1.3"/>
<line x1="384.80" y1="142.40" x2="386.60" y2="142.40" stroke="#000" stroke-width="1"/>
<text transform="translate(384.00,145.30) scale(1,1.15)" font-size="8" text-anchor="end" >500</text>
<line x1="384.80" y1="155.04" x2="386.60" y2="155.04" stroke="#000" stroke-width="1"/>
<text transform="translate(384.00,157.94) scale(1,1.15)" font-size="8" text-anchor="end" >400</text>
<line x1="384.80" y1="167.68" x2="386.60" y2="167.68" stroke="#000" stroke-width="1"/>
<text transform="translate(384.00,170.58) scale(1,1.15)" font-size="8" text-anchor="end" >300</text>
<line x1="384.80" y1="180.32" x2="386.60" y2="180.32" stroke="#000" stroke-width="1"/>
<text transform="translate(384.00,183.22) scale(1,1.15)" font-size="8" text-anchor="end" >200</text>
<line x1="384.80" y1="192.96" x2="386.60" y2="192.96" stroke="#000" stroke-width="1"/>
<text transform="translate(384.00,195.86) scale(1,1.15)" font-size="8" text-anchor="end" >100</text>
<line x1="384.80" y1="205.60" x2="386.60" y2="205.60" stroke="#000" stroke-width="1"/>
<text transform="translate(384.00,208.50) scale(1,1.15)" font-size="8" text-anchor="end" >0</text>
<line x1="386.00" y1="205.60" x2="515.80" y2="205.60" stroke="#000" stroke-width="1.3"/>
<line x1="408.20" y1="205.60" x2="408.20" y2="207.20" stroke="#000" stroke-width="1"/>
<line x1="429.80" y1="205.60" x2="429.80" y2="207.20" stroke="#000" stroke-width="1"/>
<line x1="451.40" y1="205.60" x2="451.40" y2="207.20" stroke="#000" stroke-width="1"/>
<line x1="473.00" y1="205.60" x2="473.00" y2="207.20" stroke="#000" stroke-width="1"/>
<line x1="494.60" y1="205.60" x2="494.60" y2="207.20" stroke="#000" stroke-width="1"/>
<line x1="516.20" y1="205.60" x2="516.20" y2="207.20" stroke="#000" stroke-width="1"/>
<line x1="397.90" y1="203.60" x2="397.90" y2="201.60" stroke="#111" stroke-width="0.9"/>
<line x1="395.70" y1="201.60" x2="400.10" y2="201.60" stroke="#111" stroke-width="1.1"/>
<rect x="393.50" y="203.60" width="8.80" height="2.00" fill="#fff" stroke="#000" stroke-width="1"/>
<line x1="419.50" y1="191.20" x2="419.50" y2="187.40" stroke="#111" stroke-width="0.9"/>
<line x1="417.30" y1="187.40" x2="421.70" y2="187.40" stroke="#111" stroke-width="1.1"/>
<rect x="415.10" y="191.20" width="8.80" height="14.40" fill="#fff" stroke="#000" stroke-width="1"/>
<line x1="441.10" y1="164.00" x2="441.10" y2="154.40" stroke="#111" stroke-width="0.9"/>
<line x1="438.90" y1="154.40" x2="443.30" y2="154.40" stroke="#111" stroke-width="1.1"/>
<rect x="436.70" y="164.00" width="8.80" height="41.60" fill="#000" stroke="#000" stroke-width="1"/>
<line x1="462.70" y1="202.60" x2="462.70" y2="200.40" stroke="#111" stroke-width="0.9"/>
<line x1="460.50" y1="200.40" x2="464.90" y2="200.40" stroke="#111" stroke-width="1.1"/>
<rect x="458.30" y="202.60" width="8.80" height="3.00" fill="#fff" stroke="#000" stroke-width="1"/>
<line x1="484.30" y1="184.60" x2="484.30" y2="180.20" stroke="#111" stroke-width="0.9"/>
<line x1="482.10" y1="180.20" x2="486.50" y2="180.20" stroke="#111" stroke-width="1.1"/>
<rect x="479.90" y="184.60" width="8.80" height="21.00" fill="#000" stroke="#000" stroke-width="1"/>
<line x1="505.90" y1="191.50" x2="505.90" y2="188.40" stroke="#111" stroke-width="0.9"/>
<line x1="503.70" y1="188.40" x2="508.10" y2="188.40" stroke="#111" stroke-width="1.1"/>
<rect x="501.50" y="191.50" width="8.80" height="14.10" fill="#000" stroke="#000" stroke-width="1"/>
<polyline points="419.00,178.00 419.00,146.40 441.00,146.40 441.00,149.50" fill="none" stroke="#222" stroke-width="0.95"/>
<circle cx="430.00" cy="142.60" r="0.95" fill="#111"/>
<polyline points="462.40,194.00 462.40,171.00 484.40,171.00 484.40,173.50" fill="none" stroke="#222" stroke-width="0.95"/>
<circle cx="473.00" cy="167.20" r="0.95" fill="#111"/>
<text transform="translate(443.00,144.20) scale(1,1.15)" font-size="8" text-anchor="start" >mDC</text>
<text transform="translate(386.00,217.80) scale(1,1.15)" font-size="7.6" text-anchor="end" >Rap</text>
<text transform="translate(386.00,225.20) scale(1,1.15)" font-size="7.6" text-anchor="end" >Dex</text>
<text transform="translate(386.00,232.80) scale(1,1.15)" font-size="7.6" text-anchor="end" >LPS</text>
<line x1="397.30" y1="215.90" x2="399.10" y2="215.90" stroke="#444" stroke-width="1.1"/>
<line x1="418.90" y1="215.90" x2="420.70" y2="215.90" stroke="#444" stroke-width="1.1"/>
<line x1="439.20" y1="216.00" x2="443.60" y2="216.00" stroke="#222" stroke-width="1.1"/>
<line x1="441.40" y1="214.40" x2="441.40" y2="217.60" stroke="#333" stroke-width="1.0"/>
<line x1="462.10" y1="215.90" x2="463.90" y2="215.90" stroke="#444" stroke-width="1.1"/>
<line x1="482.40" y1="216.00" x2="486.80" y2="216.00" stroke="#222" stroke-width="1.1"/>
<line x1="484.60" y1="214.40" x2="484.60" y2="217.60" stroke="#333" stroke-width="1.0"/>
<line x1="504.00" y1="216.00" x2="508.40" y2="216.00" stroke="#222" stroke-width="1.1"/>
<line x1="506.20" y1="214.40" x2="506.20" y2="217.60" stroke="#333" stroke-width="1.0"/>
<line x1="397.30" y1="223.30" x2="399.10" y2="223.30" stroke="#444" stroke-width="1.1"/>
<line x1="418.90" y1="223.30" x2="420.70" y2="223.30" stroke="#444" stroke-width="1.1"/>
<line x1="440.50" y1="223.30" x2="442.30" y2="223.30" stroke="#444" stroke-width="1.1"/>
<text transform="translate(463.00,225.30) scale(1,1.15)" font-size="8.0" text-anchor="middle" >25</text>
<text transform="translate(484.60,225.30) scale(1,1.15)" font-size="8.0" text-anchor="middle" >25</text>
<text transform="translate(506.20,225.30) scale(1,1.15)" font-size="8.0" text-anchor="middle" >250</text>
<line x1="397.30" y1="230.90" x2="399.10" y2="230.90" stroke="#444" stroke-width="1.1"/>
<line x1="417.60" y1="231.00" x2="422.00" y2="231.00" stroke="#222" stroke-width="1.1"/>
<line x1="419.80" y1="229.40" x2="419.80" y2="232.60" stroke="#333" stroke-width="1.0"/>
<line x1="439.20" y1="231.00" x2="443.60" y2="231.00" stroke="#222" stroke-width="1.1"/>
<line x1="441.40" y1="229.40" x2="441.40" y2="232.60" stroke="#333" stroke-width="1.0"/>
<line x1="460.80" y1="231.00" x2="465.20" y2="231.00" stroke="#222" stroke-width="1.1"/>
<line x1="463.00" y1="229.40" x2="463.00" y2="232.60" stroke="#333" stroke-width="1.0"/>
<line x1="482.40" y1="231.00" x2="486.80" y2="231.00" stroke="#222" stroke-width="1.1"/>
<line x1="484.60" y1="229.40" x2="484.60" y2="232.60" stroke="#333" stroke-width="1.0"/>
<line x1="504.00" y1="231.00" x2="508.40" y2="231.00" stroke="#222" stroke-width="1.1"/>
<line x1="506.20" y1="229.40" x2="506.20" y2="232.60" stroke="#333" stroke-width="1.0"/>
<text x="0" y="0" font-size="8.25" text-anchor="middle" transform="translate(365.40,172.80) rotate(-90) scale(1,1.15)" dominant-baseline="central">IL-12p40 pg/ml</text>
<text transform="translate(0.80,259.00) scale(1,1.0)" font-size="10.8" text-anchor="start" font-weight="bold" >G</text>
<line x1="35.60" y1="263.50" x2="35.60" y2="347.60" stroke="#000" stroke-width="1.3"/>
<line x1="33.80" y1="264.00" x2="35.60" y2="264.00" stroke="#000" stroke-width="1"/>
<text transform="translate(33.50,266.90) scale(1,1.15)" font-size="8" text-anchor="end" >5</text>
<line x1="33.80" y1="280.60" x2="35.60" y2="280.60" stroke="#000" stroke-width="1"/>
<text transform="translate(33.50,283.50) scale(1,1.15)" font-size="8" text-anchor="end" >4</text>
<line x1="33.80" y1="297.20" x2="35.60" y2="297.20" stroke="#000" stroke-width="1"/>
<text transform="translate(33.50,300.10) scale(1,1.15)" font-size="8" text-anchor="end" >3</text>
<line x1="33.80" y1="313.80" x2="35.60" y2="313.80" stroke="#000" stroke-width="1"/>
<text transform="translate(33.50,316.70) scale(1,1.15)" font-size="8" text-anchor="end" >2</text>
<line x1="33.80" y1="330.40" x2="35.60" y2="330.40" stroke="#000" stroke-width="1"/>
<text transform="translate(33.50,333.30) scale(1,1.15)" font-size="8" text-anchor="end" >1</text>
<line x1="33.80" y1="347.00" x2="35.60" y2="347.00" stroke="#000" stroke-width="1"/>
<text transform="translate(33.50,349.90) scale(1,1.15)" font-size="8" text-anchor="end" >0</text>
<line x1="35.00" y1="347.00" x2="142.60" y2="347.00" stroke="#000" stroke-width="1.3"/>
<line x1="57.00" y1="347.00" x2="57.00" y2="348.60" stroke="#000" stroke-width="1"/>
<line x1="78.40" y1="347.00" x2="78.40" y2="348.60" stroke="#000" stroke-width="1"/>
<line x1="99.80" y1="347.00" x2="99.80" y2="348.60" stroke="#000" stroke-width="1"/>
<line x1="121.20" y1="347.00" x2="121.20" y2="348.60" stroke="#000" stroke-width="1"/>
<line x1="142.60" y1="347.00" x2="142.60" y2="348.60" stroke="#000" stroke-width="1"/>
<line x1="46.80" y1="343.00" x2="46.80" y2="340.00" stroke="#111" stroke-width="0.9"/>
<line x1="44.60" y1="340.00" x2="49.00" y2="340.00" stroke="#111" stroke-width="1.1"/>
<rect x="42.40" y="343.00" width="8.80" height="4.00" fill="#fff" stroke="#000" stroke-width="1"/>
<line x1="68.02" y1="335.60" x2="68.02" y2="332.00" stroke="#111" stroke-width="0.9"/>
<line x1="65.82" y1="332.00" x2="70.22" y2="332.00" stroke="#111" stroke-width="1.1"/>
<rect x="63.62" y="335.60" width="8.80" height="11.40" fill="#fff" stroke="#000" stroke-width="1"/>
<line x1="89.24" y1="285.80" x2="89.24" y2="274.00" stroke="#111" stroke-width="0.9"/>
<line x1="87.04" y1="274.00" x2="91.44" y2="274.00" stroke="#111" stroke-width="1.1"/>
<rect x="84.84" y="285.80" width="8.80" height="61.20" fill="#000" stroke="#000" stroke-width="1"/>
<line x1="110.46" y1="341.40" x2="110.46" y2="339.70" stroke="#111" stroke-width="0.9"/>
<line x1="108.26" y1="339.70" x2="112.66" y2="339.70" stroke="#111" stroke-width="1.1"/>
<rect x="106.06" y="341.40" width="8.80" height="5.60" fill="#888" stroke="#000" stroke-width="1"/>
<line x1="131.68" y1="297.00" x2="131.68" y2="287.00" stroke="#111" stroke-width="0.9"/>
<line x1="129.48" y1="287.00" x2="133.88" y2="287.00" stroke="#111" stroke-width="1.1"/>
<rect x="127.28" y="297.00" width="8.80" height="50.00" fill="#000" stroke="#000" stroke-width="1"/>
<polyline points="68.20,330.00 68.20,264.40 89.40,264.40 89.40,268.00" fill="none" stroke="#222" stroke-width="0.95"/>
<circle cx="79.00" cy="261.00" r="0.95" fill="#111"/>
<polyline points="110.40,335.00 110.40,281.60 131.40,281.60 131.40,285.00" fill="none" stroke="#222" stroke-width="0.95"/>
<circle cx="121.00" cy="278.20" r="0.95" fill="#111"/>
<text transform="translate(34.40,359.30) scale(1,1.15)" font-size="7.6" text-anchor="end" >Rap</text>
<text transform="translate(34.40,366.80) scale(1,1.15)" font-size="7.6" text-anchor="end" >Dex</text>
<text transform="translate(34.40,374.20) scale(1,1.15)" font-size="7.6" text-anchor="end" >LPS</text>
<line x1="45.90" y1="357.40" x2="47.70" y2="357.40" stroke="#444" stroke-width="1.1"/>
<line x1="67.12" y1="357.40" x2="68.92" y2="357.40" stroke="#444" stroke-width="1.1"/>
<line x1="87.04" y1="357.50" x2="91.44" y2="357.50" stroke="#222" stroke-width="1.1"/>
<line x1="89.24" y1="355.90" x2="89.24" y2="359.10" stroke="#333" stroke-width="1.0"/>
<line x1="109.56" y1="357.40" x2="111.36" y2="357.40" stroke="#444" stroke-width="1.1"/>
<line x1="129.48" y1="357.50" x2="133.88" y2="357.50" stroke="#222" stroke-width="1.1"/>
<line x1="131.68" y1="355.90" x2="131.68" y2="359.10" stroke="#333" stroke-width="1.0"/>
<line x1="45.90" y1="364.90" x2="47.70" y2="364.90" stroke="#444" stroke-width="1.1"/>
<line x1="67.12" y1="364.90" x2="68.92" y2="364.90" stroke="#444" stroke-width="1.1"/>
<line x1="88.34" y1="364.90" x2="90.14" y2="364.90" stroke="#444" stroke-width="1.1"/>
<line x1="108.26" y1="365.00" x2="112.66" y2="365.00" stroke="#222" stroke-width="1.1"/>
<line x1="110.46" y1="363.40" x2="110.46" y2="366.60" stroke="#333" stroke-width="1.0"/>
<line x1="129.48" y1="365.00" x2="133.88" y2="365.00" stroke="#222" stroke-width="1.1"/>
<line x1="131.68" y1="363.40" x2="131.68" y2="366.60" stroke="#333" stroke-width="1.0"/>
<line x1="45.90" y1="372.30" x2="47.70" y2="372.30" stroke="#444" stroke-width="1.1"/>
<line x1="65.82" y1="372.40" x2="70.22" y2="372.40" stroke="#222" stroke-width="1.1"/>
<line x1="68.02" y1="370.80" x2="68.02" y2="374.00" stroke="#333" stroke-width="1.0"/>
<line x1="87.04" y1="372.40" x2="91.44" y2="372.40" stroke="#222" stroke-width="1.1"/>
<line x1="89.24" y1="370.80" x2="89.24" y2="374.00" stroke="#333" stroke-width="1.0"/>
<line x1="108.26" y1="372.40" x2="112.66" y2="372.40" stroke="#222" stroke-width="1.1"/>
<line x1="110.46" y1="370.80" x2="110.46" y2="374.00" stroke="#333" stroke-width="1.0"/>
<line x1="129.48" y1="372.40" x2="133.88" y2="372.40" stroke="#222" stroke-width="1.1"/>
<line x1="131.68" y1="370.80" x2="131.68" y2="374.00" stroke="#333" stroke-width="1.0"/>
<text x="0" y="0" font-size="8" text-anchor="middle" transform="translate(23.20,304.50) rotate(-90) scale(1,1.15)" dominant-baseline="central">IFN-γ ng/ml</text>
<text transform="translate(177.00,260.50) scale(1,1.0)" font-size="10.8" text-anchor="start" font-weight="bold" >H</text>
<defs><filter id="bl" x="-50%" y="-50%" width="200%" height="200%"><feGaussianBlur stdDeviation="0.55"/></filter></defs>
<path d="M227.5 327.7h0.8v0.8h-0.8zM226.6 326.7h0.8v0.8h-0.8zM229.0 322.4h0.8v0.8h-0.8zM228.2 320.5h0.8v0.8h-0.8zM223.9 327.0h0.8v0.8h-0.8zM224.5 328.6h0.8v0.8h-0.8zM232.0 319.7h0.8v0.8h-0.8zM227.8 326.4h0.8v0.8h-0.8zM227.9 325.7h0.8v0.8h-0.8zM230.0 324.5h0.8v0.8h-0.8zM230.4 324.6h0.8v0.8h-0.8zM223.4 330.2h0.8v0.8h-0.8zM224.3 327.1h0.8v0.8h-0.8zM226.6 322.9h0.8v0.8h-0.8zM233.7 318.2h0.8v0.8h-0.8zM224.4 324.1h0.8v0.8h-0.8zM222.3 330.0h0.8v0.8h-0.8zM225.5 329.8h0.8v0.8h-0.8zM228.6 325.7h0.8v0.8h-0.8zM228.7 327.4h0.8v0.8h-0.8zM228.9 324.8h0.8v0.8h-0.8zM226.6 328.5h0.8v0.8h-0.8zM225.3 326.8h0.8v0.8h-0.8zM224.3 327.2h0.8v0.8h-0.8zM229.9 321.4h0.8v0.8h-0.8zM226.0 323.9h0.8v0.8h-0.8zM228.1 323.3h0.8v0.8h-0.8zM231.8 319.9h0.8v0.8h-0.8zM229.5 322.4h0.8v0.8h-0.8zM229.2 322.9h0.8v0.8h-0.8zM228.0 327.8h0.8v0.8h-0.8zM225.7 329.7h0.8v0.8h-0.8zM219.0 333.9h0.8v0.8h-0.8zM225.0 328.6h0.8v0.8h-0.8zM222.5 331.5h0.8v0.8h-0.8zM231.2 317.6h0.8v0.8h-0.8zM230.0 329.4h0.8v0.8h-0.8zM230.6 316.3h0.8v0.8h-0.8zM227.2 328.0h0.8v0.8h-0.8zM234.4 318.6h0.8v0.8h-0.8zM225.8 335.1h0.8v0.8h-0.8zM221.9 325.5h0.8v0.8h-0.8zM228.2 327.3h0.8v0.8h-0.8zM224.6 327.4h0.8v0.8h-0.8zM226.3 327.6h0.8v0.8h-0.8zM231.3 317.9h0.8v0.8h-0.8zM224.2 328.6h0.8v0.8h-0.8zM225.4 327.8h0.8v0.8h-0.8zM219.1 326.1h0.8v0.8h-0.8zM228.5 322.8h0.8v0.8h-0.8zM233.6 322.2h0.8v0.8h-0.8zM225.0 324.2h0.8v0.8h-0.8zM231.0 321.7h0.8v0.8h-0.8zM231.1 324.7h0.8v0.8h-0.8zM231.6 319.0h0.8v0.8h-0.8zM229.0 323.8h0.8v0.8h-0.8zM228.1 319.8h0.8v0.8h-0.8zM221.4 336.8h0.8v0.8h-0.8zM230.1 317.3h0.8v0.8h-0.8zM219.6 330.0h0.8v0.8h-0.8zM230.1 321.7h0.8v0.8h-0.8zM232.8 316.2h0.8v0.8h-0.8zM234.1 321.5h0.8v0.8h-0.8zM224.2 328.6h0.8v0.8h-0.8zM234.9 317.1h0.8v0.8h-0.8zM223.2 339.6h0.8v0.8h-0.8zM225.8 321.2h0.8v0.8h-0.8zM221.4 333.6h0.8v0.8h-0.8zM229.1 321.7h0.8v0.8h-0.8zM228.8 322.3h0.8v0.8h-0.8zM223.8 330.4h0.8v0.8h-0.8zM221.6 329.7h0.8v0.8h-0.8zM230.4 321.9h0.8v0.8h-0.8zM229.9 320.6h0.8v0.8h-0.8zM234.5 318.4h0.8v0.8h-0.8zM233.6 314.8h0.8v0.8h-0.8zM228.3 320.0h0.8v0.8h-0.8zM224.1 328.6h0.8v0.8h-0.8zM232.3 323.6h0.8v0.8h-0.8zM230.7 320.5h0.8v0.8h-0.8zM227.9 325.3h0.8v0.8h-0.8zM225.1 324.1h0.8v0.8h-0.8zM225.4 332.4h0.8v0.8h-0.8zM226.5 329.6h0.8v0.8h-0.8zM226.2 326.5h0.8v0.8h-0.8zM223.2 329.0h0.8v0.8h-0.8zM231.2 320.3h0.8v0.8h-0.8zM226.3 327.7h0.8v0.8h-0.8zM224.5 334.3h0.8v0.8h-0.8zM225.3 327.8h0.8v0.8h-0.8zM229.0 323.5h0.8v0.8h-0.8zM227.7 324.0h0.8v0.8h-0.8zM229.7 323.2h0.8v0.8h-0.8zM220.0 337.8h0.8v0.8h-0.8zM223.9 327.0h0.8v0.8h-0.8zM228.9 320.6h0.8v0.8h-0.8zM233.2 325.3h0.8v0.8h-0.8zM232.0 328.8h0.8v0.8h-0.8zM226.6 324.2h0.8v0.8h-0.8zM220.6 333.1h0.8v0.8h-0.8zM223.0 329.8h0.8v0.8h-0.8zM225.7 324.5h0.8v0.8h-0.8zM228.1 323.5h0.8v0.8h-0.8zM230.0 322.5h0.8v0.8h-0.8zM229.1 329.3h0.8v0.8h-0.8zM230.9 323.6h0.8v0.8h-0.8zM224.6 323.1h0.8v0.8h-0.8zM230.6 321.5h0.8v0.8h-0.8zM229.6 324.8h0.8v0.8h-0.8zM228.4 321.0h0.8v0.8h-0.8zM229.3 325.2h0.8v0.8h-0.8zM232.6 320.9h0.8v0.8h-0.8zM226.1 330.6h0.8v0.8h-0.8zM235.1 317.4h0.8v0.8h-0.8zM226.8 325.3h0.8v0.8h-0.8zM226.3 324.5h0.8v0.8h-0.8zM233.1 320.5h0.8v0.8h-0.8zM228.5 323.7h0.8v0.8h-0.8zM234.5 315.9h0.8v0.8h-0.8zM231.3 316.9h0.8v0.8h-0.8zM224.2 324.7h0.8v0.8h-0.8zM220.6 333.9h0.8v0.8h-0.8zM230.2 325.1h0.8v0.8h-0.8zM228.0 321.3h0.8v0.8h-0.8zM226.4 327.0h0.8v0.8h-0.8zM232.5 319.2h0.8v0.8h-0.8zM222.4 333.8h0.8v0.8h-0.8zM227.2 333.9h0.8v0.8h-0.8zM224.7 333.0h0.8v0.8h-0.8zM232.7 319.2h0.8v0.8h-0.8zM227.8 319.8h0.8v0.8h-0.8zM229.0 324.2h0.8v0.8h-0.8zM228.7 321.3h0.8v0.8h-0.8zM222.4 329.9h0.8v0.8h-0.8zM232.9 318.5h0.8v0.8h-0.8zM229.1 329.9h0.8v0.8h-0.8zM226.6 323.7h0.8v0.8h-0.8zM222.2 331.7h0.8v0.8h-0.8zM223.6 328.3h0.8v0.8h-0.8zM229.5 329.0h0.8v0.8h-0.8zM220.7 333.1h0.8v0.8h-0.8zM229.2 325.8h0.8v0.8h-0.8zM219.6 335.8h0.8v0.8h-0.8zM225.3 330.0h0.8v0.8h-0.8zM226.8 326.5h0.8v0.8h-0.8zM227.1 332.4h0.8v0.8h-0.8zM221.9 333.6h0.8v0.8h-0.8zM223.7 327.7h0.8v0.8h-0.8zM228.1 322.0h0.8v0.8h-0.8zM231.0 319.7h0.8v0.8h-0.8zM228.6 320.5h0.8v0.8h-0.8zM224.8 333.4h0.8v0.8h-0.8zM227.8 327.6h0.8v0.8h-0.8zM232.3 318.8h0.8v0.8h-0.8zM222.6 328.8h0.8v0.8h-0.8zM229.8 323.1h0.8v0.8h-0.8zM223.0 332.1h0.8v0.8h-0.8zM218.9 331.7h0.8v0.8h-0.8zM227.1 328.8h0.8v0.8h-0.8zM227.4 323.0h0.8v0.8h-0.8zM228.2 324.2h0.8v0.8h-0.8zM228.6 329.1h0.8v0.8h-0.8zM229.7 323.7h0.8v0.8h-0.8zM230.1 321.0h0.8v0.8h-0.8zM229.6 324.0h0.8v0.8h-0.8zM220.8 330.4h0.8v0.8h-0.8zM229.2 324.9h0.8v0.8h-0.8zM235.5 320.0h0.8v0.8h-0.8zM222.7 332.5h0.8v0.8h-0.8zM232.5 322.8h0.8v0.8h-0.8zM224.2 331.3h0.8v0.8h-0.8zM224.3 327.1h0.8v0.8h-0.8zM232.5 323.0h0.8v0.8h-0.8zM227.3 324.2h0.8v0.8h-0.8zM228.6 324.3h0.8v0.8h-0.8zM227.9 328.1h0.8v0.8h-0.8zM223.9 327.5h0.8v0.8h-0.8zM232.6 320.9h0.8v0.8h-0.8zM230.0 324.1h0.8v0.8h-0.8zM226.9 322.8h0.8v0.8h-0.8zM231.6 318.4h0.8v0.8h-0.8zM230.1 324.1h0.8v0.8h-0.8zM235.4 320.9h0.8v0.8h-0.8zM225.3 324.1h0.8v0.8h-0.8zM229.5 320.3h0.8v0.8h-0.8zM230.9 319.0h0.8v0.8h-0.8zM229.2 324.3h0.8v0.8h-0.8zM233.1 319.2h0.8v0.8h-0.8zM227.1 321.8h0.8v0.8h-0.8zM224.9 327.8h0.8v0.8h-0.8zM229.4 322.0h0.8v0.8h-0.8zM223.1 327.5h0.8v0.8h-0.8zM221.8 327.6h0.8v0.8h-0.8zM229.8 325.3h0.8v0.8h-0.8zM220.8 329.4h0.8v0.8h-0.8zM224.7 329.6h0.8v0.8h-0.8zM227.7 326.3h0.8v0.8h-0.8zM228.7 323.8h0.8v0.8h-0.8zM228.1 328.5h0.8v0.8h-0.8zM225.8 327.5h0.8v0.8h-0.8zM227.8 324.1h0.8v0.8h-0.8zM228.4 323.3h0.8v0.8h-0.8zM223.6 332.6h0.8v0.8h-0.8zM225.9 329.8h0.8v0.8h-0.8zM228.0 324.0h0.8v0.8h-0.8zM227.9 321.4h0.8v0.8h-0.8zM232.7 318.6h0.8v0.8h-0.8zM227.4 325.3h0.8v0.8h-0.8zM229.7 325.6h0.8v0.8h-0.8zM225.4 324.0h0.8v0.8h-0.8zM225.9 328.4h0.8v0.8h-0.8zM233.1 320.4h0.8v0.8h-0.8zM226.0 329.5h0.8v0.8h-0.8zM225.1 321.4h0.8v0.8h-0.8zM233.9 313.2h0.8v0.8h-0.8zM237.3 315.8h0.8v0.8h-0.8zM217.4 336.6h0.8v0.8h-0.8zM224.6 327.1h0.8v0.8h-0.8zM225.7 330.1h0.8v0.8h-0.8zM233.3 319.8h0.8v0.8h-0.8zM225.9 326.4h0.8v0.8h-0.8zM224.5 330.2h0.8v0.8h-0.8zM225.4 328.7h0.8v0.8h-0.8zM232.2 320.6h0.8v0.8h-0.8zM226.8 327.0h0.8v0.8h-0.8zM229.6 322.7h0.8v0.8h-0.8zM224.5 332.5h0.8v0.8h-0.8zM235.7 313.5h0.8v0.8h-0.8zM233.0 312.6h0.8v0.8h-0.8zM229.9 322.0h0.8v0.8h-0.8zM228.4 323.9h0.8v0.8h-0.8zM225.2 325.2h0.8v0.8h-0.8zM232.1 320.4h0.8v0.8h-0.8zM229.7 323.3h0.8v0.8h-0.8zM229.1 330.0h0.8v0.8h-0.8zM234.9 314.9h0.8v0.8h-0.8zM225.7 326.4h0.8v0.8h-0.8zM222.3 327.9h0.8v0.8h-0.8zM231.5 321.0h0.8v0.8h-0.8zM226.2 325.7h0.8v0.8h-0.8zM225.9 327.1h0.8v0.8h-0.8zM227.5 318.0h0.8v0.8h-0.8zM227.2 324.6h0.8v0.8h-0.8zM230.5 320.2h0.8v0.8h-0.8zM227.3 322.3h0.8v0.8h-0.8zM225.8 330.1h0.8v0.8h-0.8zM227.4 325.4h0.8v0.8h-0.8zM224.6 325.1h0.8v0.8h-0.8zM225.9 318.7h0.8v0.8h-0.8zM232.7 322.7h0.8v0.8h-0.8zM227.4 330.0h0.8v0.8h-0.8zM222.9 331.0h0.8v0.8h-0.8zM227.7 322.7h0.8v0.8h-0.8zM228.5 326.7h0.8v0.8h-0.8zM226.0 321.2h0.8v0.8h-0.8zM226.6 325.8h0.8v0.8h-0.8zM227.7 318.3h0.8v0.8h-0.8zM226.1 328.6h0.8v0.8h-0.8zM228.6 325.9h0.8v0.8h-0.8zM221.9 330.5h0.8v0.8h-0.8z" fill="#000" fill-opacity="0.3"/>
<path d="M257.9 314.1h0.8v0.8h-0.8zM243.7 307.4h0.8v0.8h-0.8zM248.5 328.2h0.8v0.8h-0.8zM241.6 310.9h0.8v0.8h-0.8zM243.5 309.3h0.8v0.8h-0.8zM251.0 318.7h0.8v0.8h-0.8zM260.7 313.8h0.8v0.8h-0.8zM250.4 321.1h0.8v0.8h-0.8zM240.9 313.1h0.8v0.8h-0.8zM251.5 318.6h0.8v0.8h-0.8zM261.0 315.3h0.8v0.8h-0.8zM244.5 315.6h0.8v0.8h-0.8zM251.5 318.9h0.8v0.8h-0.8zM242.3 317.9h0.8v0.8h-0.8zM241.0 313.8h0.8v0.8h-0.8zM244.5 313.7h0.8v0.8h-0.8zM248.9 307.1h0.8v0.8h-0.8zM264.3 312.8h0.8v0.8h-0.8zM262.2 319.2h0.8v0.8h-0.8zM240.8 329.2h0.8v0.8h-0.8zM265.0 321.7h0.8v0.8h-0.8zM240.8 313.6h0.8v0.8h-0.8zM271.0 308.7h0.8v0.8h-0.8zM244.0 317.4h0.8v0.8h-0.8zM257.9 326.9h0.8v0.8h-0.8zM270.5 307.0h0.8v0.8h-0.8z" fill="#000" fill-opacity="0.18"/>
<polygon points="239.20,308.30 238.56,308.67 238.01,309.10 237.47,309.54 236.95,309.99 236.44,310.45 235.93,310.91 235.43,311.37 234.93,311.84 234.44,312.31 233.95,312.79 233.47,313.26 232.98,313.74 232.50,314.21 232.02,314.69 231.54,315.17 231.09,315.68 230.72,316.23 230.36,316.79 230.01,317.36 229.68,317.94 229.35,318.52 229.03,319.12 228.73,319.72 228.45,320.33 228.18,320.96 227.94,321.60 227.73,322.27 227.56,322.96 227.48,323.71 227.86,324.79 227.86,324.79 229.00,324.76 229.67,324.41 230.26,324.01 230.80,323.57 231.32,323.11 231.81,322.64 232.28,322.16 232.73,321.66 233.18,321.16 233.60,320.64 234.02,320.12 234.43,319.59 234.83,319.05 235.21,318.51 235.52,317.91 235.80,317.29 236.07,316.67 236.35,316.05 236.62,315.43 236.89,314.80 237.15,314.18 237.42,313.55 237.68,312.92 237.93,312.29 238.18,311.65 238.43,311.01 238.66,310.36 238.88,309.70 239.08,309.03 239.20,308.30" fill="#0a0a0a" filter="url(#bl)"/>
<path d="M237.5 311.0h0.9v0.9h-0.9zM235.4 314.4h0.9v0.9h-0.9zM232.7 315.8h0.9v0.9h-0.9zM237.9 309.9h0.9v0.9h-0.9zM229.6 320.9h0.9v0.9h-0.9zM225.0 325.1h0.9v0.9h-0.9zM229.2 324.0h0.9v0.9h-0.9zM230.1 321.9h0.9v0.9h-0.9zM235.3 313.1h0.9v0.9h-0.9zM224.9 325.3h0.9v0.9h-0.9zM228.6 321.3h0.9v0.9h-0.9zM238.1 309.4h0.9v0.9h-0.9zM234.6 312.7h0.9v0.9h-0.9zM234.7 315.9h0.9v0.9h-0.9zM224.1 330.0h0.9v0.9h-0.9zM228.1 321.0h0.9v0.9h-0.9zM225.9 320.3h0.9v0.9h-0.9zM234.5 315.0h0.9v0.9h-0.9zM238.9 309.4h0.9v0.9h-0.9zM229.4 326.4h0.9v0.9h-0.9zM227.4 321.7h0.9v0.9h-0.9zM234.6 318.8h0.9v0.9h-0.9zM228.9 327.9h0.9v0.9h-0.9zM231.3 319.2h0.9v0.9h-0.9zM224.0 330.7h0.9v0.9h-0.9zM235.0 314.6h0.9v0.9h-0.9zM237.3 311.3h0.9v0.9h-0.9zM238.3 309.5h0.9v0.9h-0.9zM235.3 314.9h0.9v0.9h-0.9zM225.0 327.2h0.9v0.9h-0.9zM228.6 321.5h0.9v0.9h-0.9zM236.1 316.0h0.9v0.9h-0.9zM228.9 321.7h0.9v0.9h-0.9zM236.6 312.3h0.9v0.9h-0.9zM234.4 316.5h0.9v0.9h-0.9zM234.9 315.3h0.9v0.9h-0.9zM231.6 316.4h0.9v0.9h-0.9zM232.9 318.4h0.9v0.9h-0.9zM222.3 330.3h0.9v0.9h-0.9zM227.2 330.1h0.9v0.9h-0.9zM233.8 314.1h0.9v0.9h-0.9zM237.8 309.3h0.9v0.9h-0.9zM237.4 311.2h0.9v0.9h-0.9zM237.2 310.8h0.9v0.9h-0.9zM233.6 313.1h0.9v0.9h-0.9zM226.5 325.4h0.9v0.9h-0.9zM234.7 313.9h0.9v0.9h-0.9zM228.7 320.7h0.9v0.9h-0.9zM238.1 310.0h0.9v0.9h-0.9zM235.5 314.0h0.9v0.9h-0.9zM237.8 308.3h0.9v0.9h-0.9zM229.2 323.1h0.9v0.9h-0.9zM240.0 309.9h0.9v0.9h-0.9zM229.2 323.5h0.9v0.9h-0.9zM237.7 311.5h0.9v0.9h-0.9zM231.9 319.7h0.9v0.9h-0.9zM235.9 311.6h0.9v0.9h-0.9zM233.1 316.0h0.9v0.9h-0.9zM231.4 319.2h0.9v0.9h-0.9zM238.1 308.7h0.9v0.9h-0.9zM236.1 313.0h0.9v0.9h-0.9zM228.2 332.1h0.9v0.9h-0.9zM224.8 326.2h0.9v0.9h-0.9zM236.8 312.2h0.9v0.9h-0.9zM237.8 312.4h0.9v0.9h-0.9zM232.7 321.1h0.9v0.9h-0.9zM225.7 324.1h0.9v0.9h-0.9zM225.7 326.8h0.9v0.9h-0.9zM238.1 312.1h0.9v0.9h-0.9zM227.9 320.7h0.9v0.9h-0.9zM228.8 321.7h0.9v0.9h-0.9zM228.9 325.0h0.9v0.9h-0.9zM236.5 310.3h0.9v0.9h-0.9zM231.4 322.2h0.9v0.9h-0.9zM230.0 323.9h0.9v0.9h-0.9zM236.1 309.6h0.9v0.9h-0.9zM230.6 327.8h0.9v0.9h-0.9zM230.2 322.4h0.9v0.9h-0.9zM226.4 324.6h0.9v0.9h-0.9zM236.9 312.6h0.9v0.9h-0.9zM237.8 310.8h0.9v0.9h-0.9zM228.2 321.9h0.9v0.9h-0.9zM231.9 324.2h0.9v0.9h-0.9zM232.4 316.1h0.9v0.9h-0.9zM239.1 309.1h0.9v0.9h-0.9zM230.3 320.7h0.9v0.9h-0.9zM234.1 316.0h0.9v0.9h-0.9zM234.7 317.4h0.9v0.9h-0.9zM229.5 319.9h0.9v0.9h-0.9zM235.5 312.5h0.9v0.9h-0.9zM230.7 320.8h0.9v0.9h-0.9zM226.7 328.3h0.9v0.9h-0.9zM230.5 321.1h0.9v0.9h-0.9zM230.0 320.8h0.9v0.9h-0.9zM229.8 323.7h0.9v0.9h-0.9zM232.1 318.7h0.9v0.9h-0.9zM224.6 328.5h0.9v0.9h-0.9zM234.7 315.7h0.9v0.9h-0.9zM235.5 311.7h0.9v0.9h-0.9zM225.7 326.4h0.9v0.9h-0.9zM229.0 324.0h0.9v0.9h-0.9zM228.0 322.7h0.9v0.9h-0.9zM229.4 325.2h0.9v0.9h-0.9zM225.9 326.6h0.9v0.9h-0.9zM234.0 316.9h0.9v0.9h-0.9zM237.3 311.9h0.9v0.9h-0.9zM231.7 316.2h0.9v0.9h-0.9zM239.1 309.1h0.9v0.9h-0.9zM237.7 309.2h0.9v0.9h-0.9zM230.4 329.4h0.9v0.9h-0.9zM235.0 311.9h0.9v0.9h-0.9zM237.4 310.4h0.9v0.9h-0.9zM228.9 322.4h0.9v0.9h-0.9zM230.1 323.4h0.9v0.9h-0.9zM231.3 319.2h0.9v0.9h-0.9zM228.0 325.7h0.9v0.9h-0.9zM229.2 326.5h0.9v0.9h-0.9zM231.5 322.9h0.9v0.9h-0.9zM230.9 322.6h0.9v0.9h-0.9zM228.8 322.6h0.9v0.9h-0.9zM238.0 310.9h0.9v0.9h-0.9zM237.4 311.1h0.9v0.9h-0.9zM237.1 311.9h0.9v0.9h-0.9zM226.6 327.6h0.9v0.9h-0.9zM234.4 313.4h0.9v0.9h-0.9zM235.2 311.7h0.9v0.9h-0.9zM236.9 311.5h0.9v0.9h-0.9zM227.2 321.7h0.9v0.9h-0.9zM232.7 315.5h0.9v0.9h-0.9zM229.0 321.2h0.9v0.9h-0.9zM226.0 327.8h0.9v0.9h-0.9zM230.5 324.8h0.9v0.9h-0.9zM234.9 313.7h0.9v0.9h-0.9zM230.9 319.9h0.9v0.9h-0.9zM236.3 310.4h0.9v0.9h-0.9zM226.4 328.3h0.9v0.9h-0.9zM236.4 313.5h0.9v0.9h-0.9zM237.8 311.3h0.9v0.9h-0.9zM225.5 324.4h0.9v0.9h-0.9zM229.0 323.7h0.9v0.9h-0.9zM234.5 313.6h0.9v0.9h-0.9zM233.7 316.3h0.9v0.9h-0.9zM232.9 315.9h0.9v0.9h-0.9zM234.7 314.7h0.9v0.9h-0.9zM238.9 309.0h0.9v0.9h-0.9zM232.7 316.3h0.9v0.9h-0.9zM231.4 323.2h0.9v0.9h-0.9zM228.6 322.1h0.9v0.9h-0.9zM223.8 326.4h0.9v0.9h-0.9zM223.0 329.9h0.9v0.9h-0.9zM231.7 322.2h0.9v0.9h-0.9zM224.8 326.3h0.9v0.9h-0.9zM229.4 320.9h0.9v0.9h-0.9zM231.7 323.9h0.9v0.9h-0.9zM229.3 324.6h0.9v0.9h-0.9zM237.7 310.8h0.9v0.9h-0.9zM229.0 327.2h0.9v0.9h-0.9zM229.6 323.6h0.9v0.9h-0.9zM231.8 321.7h0.9v0.9h-0.9zM230.6 320.9h0.9v0.9h-0.9zM223.5 328.7h0.9v0.9h-0.9zM238.3 309.8h0.9v0.9h-0.9zM229.4 318.8h0.9v0.9h-0.9zM229.9 321.7h0.9v0.9h-0.9zM231.6 319.0h0.9v0.9h-0.9zM230.3 320.1h0.9v0.9h-0.9zM230.8 319.8h0.9v0.9h-0.9zM232.6 317.1h0.9v0.9h-0.9zM231.8 318.9h0.9v0.9h-0.9zM229.6 324.3h0.9v0.9h-0.9zM234.5 316.1h0.9v0.9h-0.9zM226.4 324.3h0.9v0.9h-0.9zM220.2 331.6h0.9v0.9h-0.9zM226.1 324.1h0.9v0.9h-0.9zM236.9 311.9h0.9v0.9h-0.9zM225.3 324.5h0.9v0.9h-0.9zM233.0 316.4h0.9v0.9h-0.9zM231.0 326.2h0.9v0.9h-0.9zM227.8 324.2h0.9v0.9h-0.9zM237.7 308.3h0.9v0.9h-0.9zM234.5 316.7h0.9v0.9h-0.9zM235.1 313.8h0.9v0.9h-0.9zM228.1 320.2h0.9v0.9h-0.9zM225.5 323.3h0.9v0.9h-0.9zM223.4 328.9h0.9v0.9h-0.9zM235.2 314.9h0.9v0.9h-0.9zM230.2 322.7h0.9v0.9h-0.9zM235.8 312.6h0.9v0.9h-0.9zM228.3 325.7h0.9v0.9h-0.9zM234.6 311.6h0.9v0.9h-0.9zM238.1 312.3h0.9v0.9h-0.9zM223.1 329.8h0.9v0.9h-0.9zM229.3 319.8h0.9v0.9h-0.9zM226.8 322.0h0.9v0.9h-0.9zM230.5 319.8h0.9v0.9h-0.9zM227.6 324.3h0.9v0.9h-0.9zM224.9 326.4h0.9v0.9h-0.9zM236.0 313.3h0.9v0.9h-0.9zM234.9 320.6h0.9v0.9h-0.9zM233.5 317.5h0.9v0.9h-0.9zM236.5 311.6h0.9v0.9h-0.9zM229.4 322.6h0.9v0.9h-0.9zM225.5 328.2h0.9v0.9h-0.9zM236.5 311.2h0.9v0.9h-0.9zM236.1 312.1h0.9v0.9h-0.9zM231.7 316.5h0.9v0.9h-0.9zM235.5 315.6h0.9v0.9h-0.9zM235.1 314.5h0.9v0.9h-0.9zM228.3 323.2h0.9v0.9h-0.9zM234.9 317.2h0.9v0.9h-0.9zM237.1 313.5h0.9v0.9h-0.9zM236.7 316.1h0.9v0.9h-0.9zM225.8 327.2h0.9v0.9h-0.9zM231.6 319.6h0.9v0.9h-0.9zM230.4 320.5h0.9v0.9h-0.9zM233.5 313.7h0.9v0.9h-0.9zM228.7 321.6h0.9v0.9h-0.9zM237.4 311.0h0.9v0.9h-0.9zM230.2 318.0h0.9v0.9h-0.9zM229.0 322.9h0.9v0.9h-0.9zM239.1 309.6h0.9v0.9h-0.9zM224.2 323.4h0.9v0.9h-0.9zM227.6 323.8h0.9v0.9h-0.9zM232.4 318.5h0.9v0.9h-0.9zM233.9 317.0h0.9v0.9h-0.9zM234.7 314.5h0.9v0.9h-0.9zM234.8 312.6h0.9v0.9h-0.9zM230.5 324.5h0.9v0.9h-0.9zM237.6 313.0h0.9v0.9h-0.9zM229.1 323.6h0.9v0.9h-0.9zM234.4 316.8h0.9v0.9h-0.9zM228.9 322.3h0.9v0.9h-0.9zM227.0 327.1h0.9v0.9h-0.9zM236.4 314.5h0.9v0.9h-0.9zM229.7 320.3h0.9v0.9h-0.9zM229.3 322.7h0.9v0.9h-0.9zM227.2 321.1h0.9v0.9h-0.9zM236.6 312.0h0.9v0.9h-0.9zM230.5 322.7h0.9v0.9h-0.9zM234.6 315.0h0.9v0.9h-0.9zM227.0 326.6h0.9v0.9h-0.9zM236.4 311.6h0.9v0.9h-0.9zM238.4 309.6h0.9v0.9h-0.9zM228.0 321.4h0.9v0.9h-0.9zM229.2 320.7h0.9v0.9h-0.9zM229.6 323.3h0.9v0.9h-0.9zM224.3 329.0h0.9v0.9h-0.9zM235.3 314.5h0.9v0.9h-0.9zM235.6 312.7h0.9v0.9h-0.9zM226.5 321.7h0.9v0.9h-0.9zM233.8 313.1h0.9v0.9h-0.9zM228.3 327.2h0.9v0.9h-0.9zM235.3 316.8h0.9v0.9h-0.9zM233.9 313.4h0.9v0.9h-0.9zM225.4 327.7h0.9v0.9h-0.9zM228.2 325.2h0.9v0.9h-0.9zM238.0 309.3h0.9v0.9h-0.9zM227.7 323.0h0.9v0.9h-0.9zM229.6 323.8h0.9v0.9h-0.9zM226.0 322.9h0.9v0.9h-0.9zM234.9 312.0h0.9v0.9h-0.9zM230.0 326.4h0.9v0.9h-0.9zM237.7 313.0h0.9v0.9h-0.9zM227.6 322.5h0.9v0.9h-0.9zM234.7 315.4h0.9v0.9h-0.9zM228.2 322.2h0.9v0.9h-0.9zM223.0 329.1h0.9v0.9h-0.9zM231.7 320.2h0.9v0.9h-0.9zM229.8 320.0h0.9v0.9h-0.9zM236.9 311.6h0.9v0.9h-0.9zM239.0 309.4h0.9v0.9h-0.9zM234.0 312.6h0.9v0.9h-0.9zM228.5 324.0h0.9v0.9h-0.9zM233.3 316.0h0.9v0.9h-0.9zM229.1 322.4h0.9v0.9h-0.9zM233.2 318.7h0.9v0.9h-0.9zM231.3 320.4h0.9v0.9h-0.9zM229.3 323.7h0.9v0.9h-0.9zM229.8 319.0h0.9v0.9h-0.9zM236.4 312.4h0.9v0.9h-0.9zM227.8 327.4h0.9v0.9h-0.9zM229.0 324.3h0.9v0.9h-0.9zM236.2 311.9h0.9v0.9h-0.9zM229.8 319.8h0.9v0.9h-0.9zM224.6 325.7h0.9v0.9h-0.9zM237.2 314.1h0.9v0.9h-0.9zM236.2 311.0h0.9v0.9h-0.9zM230.2 325.4h0.9v0.9h-0.9zM235.2 311.9h0.9v0.9h-0.9zM227.1 326.3h0.9v0.9h-0.9zM232.2 318.0h0.9v0.9h-0.9zM236.2 311.3h0.9v0.9h-0.9zM233.0 318.1h0.9v0.9h-0.9zM235.9 313.9h0.9v0.9h-0.9zM226.0 325.1h0.9v0.9h-0.9zM231.0 321.1h0.9v0.9h-0.9zM234.9 314.8h0.9v0.9h-0.9zM231.7 318.1h0.9v0.9h-0.9zM228.1 326.5h0.9v0.9h-0.9zM228.3 322.9h0.9v0.9h-0.9zM233.6 317.8h0.9v0.9h-0.9zM224.7 326.3h0.9v0.9h-0.9zM231.3 319.8h0.9v0.9h-0.9zM238.5 308.4h0.9v0.9h-0.9zM231.4 324.4h0.9v0.9h-0.9zM236.6 310.6h0.9v0.9h-0.9zM234.5 318.0h0.9v0.9h-0.9zM234.1 319.4h0.9v0.9h-0.9zM233.2 316.1h0.9v0.9h-0.9zM228.4 322.3h0.9v0.9h-0.9zM233.0 315.6h0.9v0.9h-0.9zM239.1 311.5h0.9v0.9h-0.9zM225.7 328.5h0.9v0.9h-0.9zM231.3 324.3h0.9v0.9h-0.9zM224.4 328.9h0.9v0.9h-0.9zM228.8 323.0h0.9v0.9h-0.9zM225.2 327.6h0.9v0.9h-0.9zM235.2 315.1h0.9v0.9h-0.9zM234.5 314.2h0.9v0.9h-0.9zM226.4 326.2h0.9v0.9h-0.9zM231.2 320.4h0.9v0.9h-0.9zM228.9 320.7h0.9v0.9h-0.9zM231.4 317.6h0.9v0.9h-0.9zM235.3 315.6h0.9v0.9h-0.9zM230.3 324.0h0.9v0.9h-0.9zM232.1 317.9h0.9v0.9h-0.9zM236.4 312.2h0.9v0.9h-0.9zM238.2 312.1h0.9v0.9h-0.9zM237.4 310.0h0.9v0.9h-0.9zM233.7 315.0h0.9v0.9h-0.9zM238.7 309.3h0.9v0.9h-0.9zM228.3 323.6h0.9v0.9h-0.9zM234.7 317.1h0.9v0.9h-0.9zM227.2 322.1h0.9v0.9h-0.9zM225.0 329.7h0.9v0.9h-0.9zM231.0 325.4h0.9v0.9h-0.9zM228.2 322.9h0.9v0.9h-0.9zM228.1 323.5h0.9v0.9h-0.9zM231.2 320.4h0.9v0.9h-0.9zM229.9 322.7h0.9v0.9h-0.9zM232.0 315.2h0.9v0.9h-0.9zM226.4 324.7h0.9v0.9h-0.9zM235.1 313.2h0.9v0.9h-0.9zM228.9 322.9h0.9v0.9h-0.9zM227.4 326.7h0.9v0.9h-0.9zM224.6 326.8h0.9v0.9h-0.9zM228.9 319.5h0.9v0.9h-0.9zM232.5 317.3h0.9v0.9h-0.9zM229.5 324.4h0.9v0.9h-0.9zM229.8 322.7h0.9v0.9h-0.9zM232.8 312.5h0.9v0.9h-0.9zM228.8 322.8h0.9v0.9h-0.9zM223.1 329.7h0.9v0.9h-0.9zM230.9 317.5h0.9v0.9h-0.9zM228.2 324.4h0.9v0.9h-0.9zM237.4 310.9h0.9v0.9h-0.9zM229.6 321.0h0.9v0.9h-0.9zM226.0 325.8h0.9v0.9h-0.9zM227.7 325.0h0.9v0.9h-0.9zM238.1 310.4h0.9v0.9h-0.9zM232.2 317.3h0.9v0.9h-0.9zM232.9 318.6h0.9v0.9h-0.9zM227.6 325.0h0.9v0.9h-0.9zM231.7 318.0h0.9v0.9h-0.9zM228.8 326.4h0.9v0.9h-0.9zM239.2 309.0h0.9v0.9h-0.9zM233.2 319.3h0.9v0.9h-0.9zM229.2 323.1h0.9v0.9h-0.9zM228.0 321.4h0.9v0.9h-0.9zM236.2 312.1h0.9v0.9h-0.9zM229.3 319.6h0.9v0.9h-0.9zM227.1 324.7h0.9v0.9h-0.9zM228.8 327.9h0.9v0.9h-0.9zM227.5 324.2h0.9v0.9h-0.9zM238.1 309.1h0.9v0.9h-0.9zM229.4 327.3h0.9v0.9h-0.9zM230.1 321.6h0.9v0.9h-0.9zM231.1 321.8h0.9v0.9h-0.9zM236.4 312.1h0.9v0.9h-0.9zM235.4 313.8h0.9v0.9h-0.9zM231.4 320.1h0.9v0.9h-0.9zM235.0 315.8h0.9v0.9h-0.9zM229.7 322.4h0.9v0.9h-0.9zM226.6 327.1h0.9v0.9h-0.9zM226.1 327.1h0.9v0.9h-0.9zM229.4 318.9h0.9v0.9h-0.9zM230.4 322.6h0.9v0.9h-0.9zM235.7 311.7h0.9v0.9h-0.9zM231.3 323.6h0.9v0.9h-0.9zM233.0 323.5h0.9v0.9h-0.9zM227.7 327.8h0.9v0.9h-0.9zM230.0 322.7h0.9v0.9h-0.9zM230.4 316.9h0.9v0.9h-0.9zM238.2 308.7h0.9v0.9h-0.9zM229.5 323.2h0.9v0.9h-0.9zM238.3 309.1h0.9v0.9h-0.9zM231.5 322.5h0.9v0.9h-0.9zM224.4 328.0h0.9v0.9h-0.9zM229.3 320.5h0.9v0.9h-0.9zM232.1 323.6h0.9v0.9h-0.9zM227.1 326.4h0.9v0.9h-0.9zM236.7 309.6h0.9v0.9h-0.9zM228.8 327.3h0.9v0.9h-0.9zM231.0 320.5h0.9v0.9h-0.9zM230.5 319.9h0.9v0.9h-0.9zM235.7 313.6h0.9v0.9h-0.9zM235.9 312.9h0.9v0.9h-0.9zM228.3 322.4h0.9v0.9h-0.9zM232.1 318.7h0.9v0.9h-0.9zM225.4 327.8h0.9v0.9h-0.9zM231.8 321.2h0.9v0.9h-0.9zM235.9 311.4h0.9v0.9h-0.9zM222.8 328.5h0.9v0.9h-0.9zM238.7 308.5h0.9v0.9h-0.9zM222.4 328.5h0.9v0.9h-0.9zM230.5 320.8h0.9v0.9h-0.9zM234.7 316.9h0.9v0.9h-0.9zM227.0 321.8h0.9v0.9h-0.9zM236.9 312.1h0.9v0.9h-0.9zM233.4 319.2h0.9v0.9h-0.9zM231.3 321.2h0.9v0.9h-0.9zM232.1 320.0h0.9v0.9h-0.9zM228.6 321.6h0.9v0.9h-0.9zM228.8 321.7h0.9v0.9h-0.9zM229.3 322.4h0.9v0.9h-0.9zM234.5 314.2h0.9v0.9h-0.9zM233.8 317.1h0.9v0.9h-0.9zM229.8 326.2h0.9v0.9h-0.9zM234.7 313.1h0.9v0.9h-0.9zM224.5 329.8h0.9v0.9h-0.9zM231.5 321.0h0.9v0.9h-0.9zM238.8 311.3h0.9v0.9h-0.9zM236.6 311.3h0.9v0.9h-0.9zM231.2 319.2h0.9v0.9h-0.9zM236.7 312.6h0.9v0.9h-0.9zM233.0 316.3h0.9v0.9h-0.9zM227.7 322.9h0.9v0.9h-0.9zM220.8 329.4h0.9v0.9h-0.9zM233.5 313.6h0.9v0.9h-0.9zM229.1 324.8h0.9v0.9h-0.9zM226.5 325.1h0.9v0.9h-0.9zM238.4 309.0h0.9v0.9h-0.9zM231.1 321.1h0.9v0.9h-0.9zM230.9 321.8h0.9v0.9h-0.9zM229.5 326.5h0.9v0.9h-0.9zM227.7 328.9h0.9v0.9h-0.9zM227.6 327.2h0.9v0.9h-0.9zM225.3 324.6h0.9v0.9h-0.9zM229.4 320.4h0.9v0.9h-0.9zM231.4 321.7h0.9v0.9h-0.9zM226.1 324.7h0.9v0.9h-0.9zM227.0 327.0h0.9v0.9h-0.9zM235.6 315.9h0.9v0.9h-0.9zM233.7 319.1h0.9v0.9h-0.9zM225.2 326.7h0.9v0.9h-0.9zM226.4 330.0h0.9v0.9h-0.9zM224.4 325.9h0.9v0.9h-0.9zM230.4 320.4h0.9v0.9h-0.9zM228.9 323.4h0.9v0.9h-0.9zM233.5 317.1h0.9v0.9h-0.9zM229.7 320.6h0.9v0.9h-0.9zM230.3 324.1h0.9v0.9h-0.9zM233.1 320.1h0.9v0.9h-0.9zM227.2 322.8h0.9v0.9h-0.9zM238.5 309.5h0.9v0.9h-0.9zM233.7 314.5h0.9v0.9h-0.9zM232.1 319.7h0.9v0.9h-0.9zM230.4 319.5h0.9v0.9h-0.9zM229.5 322.7h0.9v0.9h-0.9zM228.5 322.7h0.9v0.9h-0.9zM230.2 320.2h0.9v0.9h-0.9zM234.3 318.1h0.9v0.9h-0.9zM229.9 324.2h0.9v0.9h-0.9zM224.7 327.9h0.9v0.9h-0.9zM234.1 317.7h0.9v0.9h-0.9zM231.6 322.4h0.9v0.9h-0.9zM233.8 313.6h0.9v0.9h-0.9zM234.5 315.2h0.9v0.9h-0.9zM227.9 325.1h0.9v0.9h-0.9zM233.3 315.5h0.9v0.9h-0.9zM232.8 318.8h0.9v0.9h-0.9zM229.3 322.1h0.9v0.9h-0.9zM226.5 322.6h0.9v0.9h-0.9zM231.3 322.2h0.9v0.9h-0.9zM227.5 325.2h0.9v0.9h-0.9zM229.6 324.0h0.9v0.9h-0.9zM237.4 310.7h0.9v0.9h-0.9zM236.3 310.3h0.9v0.9h-0.9zM228.3 325.8h0.9v0.9h-0.9zM232.0 321.4h0.9v0.9h-0.9zM226.6 330.4h0.9v0.9h-0.9zM224.6 324.9h0.9v0.9h-0.9zM233.3 321.5h0.9v0.9h-0.9zM235.6 312.3h0.9v0.9h-0.9zM237.7 310.9h0.9v0.9h-0.9zM237.4 310.8h0.9v0.9h-0.9zM235.4 317.5h0.9v0.9h-0.9zM230.7 322.0h0.9v0.9h-0.9zM234.0 317.9h0.9v0.9h-0.9zM235.9 316.0h0.9v0.9h-0.9zM224.1 328.0h0.9v0.9h-0.9zM224.5 328.8h0.9v0.9h-0.9zM226.7 327.7h0.9v0.9h-0.9zM230.4 321.2h0.9v0.9h-0.9zM223.9 329.3h0.9v0.9h-0.9zM228.1 320.1h0.9v0.9h-0.9zM235.4 316.9h0.9v0.9h-0.9zM234.6 315.5h0.9v0.9h-0.9zM232.8 316.9h0.9v0.9h-0.9zM230.7 323.3h0.9v0.9h-0.9zM233.0 316.0h0.9v0.9h-0.9zM231.8 322.9h0.9v0.9h-0.9zM235.9 313.7h0.9v0.9h-0.9zM225.0 328.7h0.9v0.9h-0.9zM227.2 323.0h0.9v0.9h-0.9zM236.4 313.6h0.9v0.9h-0.9zM236.2 311.0h0.9v0.9h-0.9zM228.6 322.3h0.9v0.9h-0.9zM233.5 318.8h0.9v0.9h-0.9zM231.4 322.9h0.9v0.9h-0.9zM232.8 319.5h0.9v0.9h-0.9zM230.3 320.0h0.9v0.9h-0.9zM230.4 320.2h0.9v0.9h-0.9zM230.0 323.8h0.9v0.9h-0.9zM229.0 326.9h0.9v0.9h-0.9zM236.3 313.6h0.9v0.9h-0.9zM231.8 318.2h0.9v0.9h-0.9zM224.5 328.1h0.9v0.9h-0.9zM237.5 310.3h0.9v0.9h-0.9zM230.7 321.1h0.9v0.9h-0.9zM232.7 317.7h0.9v0.9h-0.9zM225.6 328.5h0.9v0.9h-0.9zM238.1 310.3h0.9v0.9h-0.9zM239.1 309.0h0.9v0.9h-0.9zM229.8 317.8h0.9v0.9h-0.9zM227.6 320.5h0.9v0.9h-0.9zM238.9 308.9h0.9v0.9h-0.9zM229.3 322.4h0.9v0.9h-0.9zM227.9 326.2h0.9v0.9h-0.9zM230.7 317.9h0.9v0.9h-0.9zM229.7 329.3h0.9v0.9h-0.9zM228.0 322.9h0.9v0.9h-0.9zM227.5 325.3h0.9v0.9h-0.9zM228.0 325.7h0.9v0.9h-0.9zM230.2 319.1h0.9v0.9h-0.9zM237.5 308.9h0.9v0.9h-0.9zM234.2 318.4h0.9v0.9h-0.9zM229.9 320.4h0.9v0.9h-0.9zM232.9 319.0h0.9v0.9h-0.9zM231.5 321.3h0.9v0.9h-0.9zM229.1 326.9h0.9v0.9h-0.9zM237.5 309.0h0.9v0.9h-0.9zM229.3 324.6h0.9v0.9h-0.9zM224.2 327.8h0.9v0.9h-0.9zM235.4 315.9h0.9v0.9h-0.9zM228.9 320.5h0.9v0.9h-0.9zM226.5 330.6h0.9v0.9h-0.9zM239.0 308.7h0.9v0.9h-0.9zM229.1 320.3h0.9v0.9h-0.9zM223.1 329.9h0.9v0.9h-0.9zM227.5 328.6h0.9v0.9h-0.9zM229.3 321.3h0.9v0.9h-0.9zM231.2 320.5h0.9v0.9h-0.9zM230.1 320.6h0.9v0.9h-0.9zM230.3 319.6h0.9v0.9h-0.9zM229.2 324.3h0.9v0.9h-0.9zM237.0 313.0h0.9v0.9h-0.9zM228.8 326.7h0.9v0.9h-0.9zM230.3 320.9h0.9v0.9h-0.9zM230.4 323.0h0.9v0.9h-0.9zM230.5 321.4h0.9v0.9h-0.9zM236.8 311.4h0.9v0.9h-0.9zM227.8 327.5h0.9v0.9h-0.9zM232.6 316.0h0.9v0.9h-0.9zM238.0 309.0h0.9v0.9h-0.9zM232.3 318.4h0.9v0.9h-0.9zM224.5 326.0h0.9v0.9h-0.9zM233.2 316.4h0.9v0.9h-0.9zM226.7 324.2h0.9v0.9h-0.9zM236.8 313.0h0.9v0.9h-0.9zM231.5 317.3h0.9v0.9h-0.9zM229.2 330.7h0.9v0.9h-0.9zM238.5 309.1h0.9v0.9h-0.9zM238.1 309.2h0.9v0.9h-0.9zM232.6 324.0h0.9v0.9h-0.9zM224.7 325.5h0.9v0.9h-0.9zM237.4 310.3h0.9v0.9h-0.9zM226.2 323.4h0.9v0.9h-0.9zM225.4 329.7h0.9v0.9h-0.9zM233.0 314.7h0.9v0.9h-0.9zM223.0 331.6h0.9v0.9h-0.9zM235.0 313.9h0.9v0.9h-0.9zM226.2 331.0h0.9v0.9h-0.9zM231.1 321.0h0.9v0.9h-0.9zM230.3 320.0h0.9v0.9h-0.9zM225.5 324.0h0.9v0.9h-0.9zM233.3 318.1h0.9v0.9h-0.9zM225.5 326.4h0.9v0.9h-0.9zM238.0 310.8h0.9v0.9h-0.9zM237.4 310.8h0.9v0.9h-0.9zM224.2 329.6h0.9v0.9h-0.9zM238.3 309.0h0.9v0.9h-0.9zM226.7 322.5h0.9v0.9h-0.9zM235.6 316.4h0.9v0.9h-0.9zM228.2 322.2h0.9v0.9h-0.9zM236.3 314.5h0.9v0.9h-0.9zM230.6 320.3h0.9v0.9h-0.9zM235.7 311.4h0.9v0.9h-0.9zM237.1 310.6h0.9v0.9h-0.9zM226.7 323.5h0.9v0.9h-0.9zM235.8 312.6h0.9v0.9h-0.9zM234.5 316.6h0.9v0.9h-0.9zM226.8 320.7h0.9v0.9h-0.9zM227.2 320.8h0.9v0.9h-0.9zM225.7 324.6h0.9v0.9h-0.9zM236.1 312.4h0.9v0.9h-0.9zM222.4 325.2h0.9v0.9h-0.9zM235.9 313.1h0.9v0.9h-0.9zM223.7 328.9h0.9v0.9h-0.9zM226.3 322.0h0.9v0.9h-0.9zM237.4 310.7h0.9v0.9h-0.9zM230.9 321.9h0.9v0.9h-0.9zM229.5 322.7h0.9v0.9h-0.9zM232.5 317.1h0.9v0.9h-0.9zM227.1 326.5h0.9v0.9h-0.9zM238.4 310.2h0.9v0.9h-0.9zM229.6 322.3h0.9v0.9h-0.9zM233.0 318.4h0.9v0.9h-0.9zM238.0 312.5h0.9v0.9h-0.9zM232.7 320.9h0.9v0.9h-0.9zM229.4 320.4h0.9v0.9h-0.9zM229.2 320.9h0.9v0.9h-0.9zM230.5 323.4h0.9v0.9h-0.9zM229.8 322.1h0.9v0.9h-0.9zM227.1 327.2h0.9v0.9h-0.9zM232.3 317.5h0.9v0.9h-0.9zM234.5 317.3h0.9v0.9h-0.9zM231.0 319.3h0.9v0.9h-0.9zM227.6 327.3h0.9v0.9h-0.9zM229.2 320.0h0.9v0.9h-0.9zM228.4 321.1h0.9v0.9h-0.9zM233.7 317.0h0.9v0.9h-0.9zM238.4 308.7h0.9v0.9h-0.9zM238.0 310.2h0.9v0.9h-0.9zM229.8 320.8h0.9v0.9h-0.9zM227.6 325.0h0.9v0.9h-0.9zM232.7 317.4h0.9v0.9h-0.9zM229.8 318.2h0.9v0.9h-0.9zM224.4 328.1h0.9v0.9h-0.9zM233.6 316.2h0.9v0.9h-0.9zM237.9 310.7h0.9v0.9h-0.9zM229.5 321.6h0.9v0.9h-0.9zM232.9 317.4h0.9v0.9h-0.9zM228.0 322.1h0.9v0.9h-0.9zM230.5 321.8h0.9v0.9h-0.9zM233.5 313.8h0.9v0.9h-0.9zM236.9 312.6h0.9v0.9h-0.9zM232.9 314.3h0.9v0.9h-0.9zM227.3 323.4h0.9v0.9h-0.9zM235.1 317.7h0.9v0.9h-0.9zM226.8 327.3h0.9v0.9h-0.9zM233.1 318.9h0.9v0.9h-0.9zM233.6 314.7h0.9v0.9h-0.9zM237.9 308.4h0.9v0.9h-0.9zM221.2 329.6h0.9v0.9h-0.9zM227.0 321.7h0.9v0.9h-0.9zM233.6 319.5h0.9v0.9h-0.9zM232.0 319.2h0.9v0.9h-0.9zM226.1 329.3h0.9v0.9h-0.9zM234.8 315.6h0.9v0.9h-0.9zM227.2 323.4h0.9v0.9h-0.9zM224.3 326.9h0.9v0.9h-0.9zM229.6 322.4h0.9v0.9h-0.9zM233.0 316.6h0.9v0.9h-0.9zM235.6 312.9h0.9v0.9h-0.9zM235.9 313.0h0.9v0.9h-0.9zM229.6 321.2h0.9v0.9h-0.9zM231.4 321.2h0.9v0.9h-0.9zM232.8 320.5h0.9v0.9h-0.9zM228.4 326.6h0.9v0.9h-0.9zM236.5 311.9h0.9v0.9h-0.9zM235.0 314.6h0.9v0.9h-0.9zM230.0 321.9h0.9v0.9h-0.9zM233.9 317.7h0.9v0.9h-0.9zM228.4 325.4h0.9v0.9h-0.9zM237.4 309.1h0.9v0.9h-0.9zM228.4 323.6h0.9v0.9h-0.9zM234.4 315.4h0.9v0.9h-0.9zM229.5 323.8h0.9v0.9h-0.9zM225.7 325.6h0.9v0.9h-0.9zM233.4 320.1h0.9v0.9h-0.9zM232.5 322.0h0.9v0.9h-0.9zM228.2 324.1h0.9v0.9h-0.9zM231.0 321.7h0.9v0.9h-0.9zM232.4 323.8h0.9v0.9h-0.9zM232.0 321.2h0.9v0.9h-0.9zM230.4 323.7h0.9v0.9h-0.9zM227.6 322.5h0.9v0.9h-0.9zM235.0 316.2h0.9v0.9h-0.9zM231.6 319.9h0.9v0.9h-0.9zM234.1 314.0h0.9v0.9h-0.9zM229.9 320.2h0.9v0.9h-0.9zM237.6 311.9h0.9v0.9h-0.9zM238.1 311.3h0.9v0.9h-0.9zM230.0 323.3h0.9v0.9h-0.9zM228.5 320.5h0.9v0.9h-0.9zM236.3 316.4h0.9v0.9h-0.9zM227.2 325.7h0.9v0.9h-0.9zM232.4 315.3h0.9v0.9h-0.9zM229.5 324.7h0.9v0.9h-0.9zM233.9 316.8h0.9v0.9h-0.9zM233.6 318.4h0.9v0.9h-0.9zM229.7 323.7h0.9v0.9h-0.9zM235.9 315.0h0.9v0.9h-0.9zM234.8 318.5h0.9v0.9h-0.9zM231.2 322.8h0.9v0.9h-0.9zM226.4 324.2h0.9v0.9h-0.9zM230.4 321.2h0.9v0.9h-0.9zM234.2 312.6h0.9v0.9h-0.9zM238.0 310.4h0.9v0.9h-0.9zM231.5 324.1h0.9v0.9h-0.9zM227.2 328.0h0.9v0.9h-0.9zM236.8 313.7h0.9v0.9h-0.9zM237.1 311.5h0.9v0.9h-0.9zM230.2 322.9h0.9v0.9h-0.9zM228.6 324.4h0.9v0.9h-0.9zM231.3 321.2h0.9v0.9h-0.9zM234.7 312.6h0.9v0.9h-0.9zM231.5 321.4h0.9v0.9h-0.9zM234.4 316.7h0.9v0.9h-0.9zM232.9 327.0h0.9v0.9h-0.9zM235.2 315.3h0.9v0.9h-0.9zM237.3 311.0h0.9v0.9h-0.9zM237.5 311.4h0.9v0.9h-0.9zM231.9 322.4h0.9v0.9h-0.9zM239.4 309.2h0.9v0.9h-0.9zM227.6 321.4h0.9v0.9h-0.9zM237.2 311.2h0.9v0.9h-0.9zM228.1 327.0h0.9v0.9h-0.9zM235.3 314.8h0.9v0.9h-0.9zM232.3 324.2h0.9v0.9h-0.9zM233.7 319.0h0.9v0.9h-0.9zM237.6 308.7h0.9v0.9h-0.9zM230.5 323.2h0.9v0.9h-0.9zM227.2 322.2h0.9v0.9h-0.9zM233.1 317.1h0.9v0.9h-0.9zM235.0 314.7h0.9v0.9h-0.9zM230.6 322.7h0.9v0.9h-0.9zM230.6 320.8h0.9v0.9h-0.9zM236.6 311.2h0.9v0.9h-0.9zM226.9 322.6h0.9v0.9h-0.9zM234.0 317.3h0.9v0.9h-0.9zM237.3 310.2h0.9v0.9h-0.9zM228.0 322.8h0.9v0.9h-0.9zM236.0 313.0h0.9v0.9h-0.9zM227.7 325.9h0.9v0.9h-0.9zM225.8 325.7h0.9v0.9h-0.9zM225.8 325.4h0.9v0.9h-0.9zM225.9 327.0h0.9v0.9h-0.9zM231.9 320.1h0.9v0.9h-0.9zM228.0 322.8h0.9v0.9h-0.9zM235.0 311.0h0.9v0.9h-0.9zM237.7 310.7h0.9v0.9h-0.9zM230.5 323.1h0.9v0.9h-0.9zM233.0 318.3h0.9v0.9h-0.9zM228.7 321.3h0.9v0.9h-0.9zM235.5 312.4h0.9v0.9h-0.9zM229.1 320.6h0.9v0.9h-0.9zM235.9 313.6h0.9v0.9h-0.9zM229.7 321.5h0.9v0.9h-0.9zM230.9 318.1h0.9v0.9h-0.9zM233.0 315.8h0.9v0.9h-0.9zM238.4 309.7h0.9v0.9h-0.9zM230.7 319.1h0.9v0.9h-0.9zM233.5 314.0h0.9v0.9h-0.9zM229.5 321.6h0.9v0.9h-0.9zM238.9 309.2h0.9v0.9h-0.9zM229.9 324.0h0.9v0.9h-0.9zM232.3 318.9h0.9v0.9h-0.9zM230.5 323.3h0.9v0.9h-0.9zM237.1 309.9h0.9v0.9h-0.9zM230.3 325.7h0.9v0.9h-0.9zM238.4 309.1h0.9v0.9h-0.9zM234.5 314.2h0.9v0.9h-0.9zM236.0 313.6h0.9v0.9h-0.9zM230.8 324.6h0.9v0.9h-0.9zM235.0 315.7h0.9v0.9h-0.9zM227.9 324.7h0.9v0.9h-0.9zM228.7 326.0h0.9v0.9h-0.9zM230.2 322.0h0.9v0.9h-0.9zM237.9 310.4h0.9v0.9h-0.9zM223.5 324.3h0.9v0.9h-0.9zM223.7 328.0h0.9v0.9h-0.9zM230.6 319.8h0.9v0.9h-0.9zM229.9 323.8h0.9v0.9h-0.9zM229.9 323.4h0.9v0.9h-0.9zM232.0 320.6h0.9v0.9h-0.9zM232.4 319.9h0.9v0.9h-0.9zM233.1 316.2h0.9v0.9h-0.9zM226.3 322.7h0.9v0.9h-0.9zM227.1 326.2h0.9v0.9h-0.9zM226.5 329.6h0.9v0.9h-0.9zM238.8 309.9h0.9v0.9h-0.9zM234.4 314.8h0.9v0.9h-0.9zM230.6 318.9h0.9v0.9h-0.9zM226.7 324.3h0.9v0.9h-0.9zM233.5 315.0h0.9v0.9h-0.9zM230.1 322.5h0.9v0.9h-0.9zM233.9 317.9h0.9v0.9h-0.9zM229.1 319.1h0.9v0.9h-0.9zM232.9 319.5h0.9v0.9h-0.9zM229.0 322.5h0.9v0.9h-0.9zM235.5 314.4h0.9v0.9h-0.9zM238.4 309.6h0.9v0.9h-0.9zM227.1 327.3h0.9v0.9h-0.9zM233.9 315.7h0.9v0.9h-0.9zM237.1 311.1h0.9v0.9h-0.9zM227.7 325.0h0.9v0.9h-0.9zM227.1 322.3h0.9v0.9h-0.9zM234.0 316.2h0.9v0.9h-0.9zM237.1 311.6h0.9v0.9h-0.9zM229.1 325.5h0.9v0.9h-0.9zM230.8 321.7h0.9v0.9h-0.9zM237.9 311.0h0.9v0.9h-0.9zM230.3 320.2h0.9v0.9h-0.9zM233.0 318.9h0.9v0.9h-0.9zM227.1 326.8h0.9v0.9h-0.9zM228.3 328.8h0.9v0.9h-0.9zM236.8 311.3h0.9v0.9h-0.9zM233.9 317.6h0.9v0.9h-0.9zM230.2 321.4h0.9v0.9h-0.9zM232.0 318.1h0.9v0.9h-0.9zM231.8 324.7h0.9v0.9h-0.9zM230.4 321.1h0.9v0.9h-0.9zM236.1 313.4h0.9v0.9h-0.9zM227.5 323.6h0.9v0.9h-0.9zM225.5 327.4h0.9v0.9h-0.9zM236.9 311.5h0.9v0.9h-0.9zM223.7 330.8h0.9v0.9h-0.9zM228.8 326.5h0.9v0.9h-0.9zM233.1 319.5h0.9v0.9h-0.9zM234.4 315.4h0.9v0.9h-0.9zM228.7 330.0h0.9v0.9h-0.9zM236.7 313.8h0.9v0.9h-0.9zM236.6 311.4h0.9v0.9h-0.9zM237.5 314.9h0.9v0.9h-0.9zM223.8 325.0h0.9v0.9h-0.9zM233.6 319.4h0.9v0.9h-0.9zM233.1 319.9h0.9v0.9h-0.9zM227.0 322.5h0.9v0.9h-0.9zM230.8 320.1h0.9v0.9h-0.9zM235.2 313.8h0.9v0.9h-0.9zM232.0 319.2h0.9v0.9h-0.9zM238.4 310.1h0.9v0.9h-0.9zM235.3 315.5h0.9v0.9h-0.9zM233.4 317.6h0.9v0.9h-0.9zM229.2 322.1h0.9v0.9h-0.9zM237.5 310.2h0.9v0.9h-0.9zM233.9 317.2h0.9v0.9h-0.9zM234.4 316.6h0.9v0.9h-0.9zM237.9 310.4h0.9v0.9h-0.9zM231.9 317.1h0.9v0.9h-0.9zM233.9 315.1h0.9v0.9h-0.9zM231.7 320.4h0.9v0.9h-0.9zM219.3 329.5h0.9v0.9h-0.9zM222.7 328.2h0.9v0.9h-0.9zM236.4 310.7h0.9v0.9h-0.9zM227.1 322.8h0.9v0.9h-0.9zM235.6 311.7h0.9v0.9h-0.9zM239.1 309.0h0.9v0.9h-0.9zM231.9 319.8h0.9v0.9h-0.9zM231.4 323.5h0.9v0.9h-0.9zM231.0 323.9h0.9v0.9h-0.9zM223.9 325.8h0.9v0.9h-0.9zM231.8 321.0h0.9v0.9h-0.9zM236.4 315.3h0.9v0.9h-0.9zM225.4 330.1h0.9v0.9h-0.9zM231.6 317.2h0.9v0.9h-0.9zM223.7 325.3h0.9v0.9h-0.9zM224.7 329.5h0.9v0.9h-0.9zM229.3 321.0h0.9v0.9h-0.9zM237.5 310.2h0.9v0.9h-0.9zM227.0 324.5h0.9v0.9h-0.9zM230.5 318.3h0.9v0.9h-0.9zM236.9 310.5h0.9v0.9h-0.9zM228.7 321.3h0.9v0.9h-0.9zM237.1 315.1h0.9v0.9h-0.9zM232.5 315.6h0.9v0.9h-0.9zM237.9 312.0h0.9v0.9h-0.9zM230.0 324.3h0.9v0.9h-0.9zM237.0 310.8h0.9v0.9h-0.9zM230.0 322.4h0.9v0.9h-0.9zM236.9 312.1h0.9v0.9h-0.9zM228.6 324.1h0.9v0.9h-0.9zM236.2 314.9h0.9v0.9h-0.9zM235.0 313.9h0.9v0.9h-0.9zM233.0 317.6h0.9v0.9h-0.9zM228.3 323.6h0.9v0.9h-0.9zM237.7 311.0h0.9v0.9h-0.9zM234.3 316.7h0.9v0.9h-0.9zM235.3 319.0h0.9v0.9h-0.9zM227.2 322.3h0.9v0.9h-0.9zM225.6 324.5h0.9v0.9h-0.9zM231.3 321.4h0.9v0.9h-0.9zM231.4 321.4h0.9v0.9h-0.9zM225.8 329.8h0.9v0.9h-0.9zM231.0 320.4h0.9v0.9h-0.9zM231.3 321.6h0.9v0.9h-0.9zM237.8 309.2h0.9v0.9h-0.9zM234.7 313.0h0.9v0.9h-0.9zM236.5 312.4h0.9v0.9h-0.9zM235.2 313.9h0.9v0.9h-0.9zM229.1 326.1h0.9v0.9h-0.9zM235.6 313.1h0.9v0.9h-0.9zM238.4 309.7h0.9v0.9h-0.9zM229.5 329.7h0.9v0.9h-0.9zM230.2 323.4h0.9v0.9h-0.9zM237.8 309.6h0.9v0.9h-0.9zM227.0 329.7h0.9v0.9h-0.9zM228.1 320.8h0.9v0.9h-0.9zM233.3 315.7h0.9v0.9h-0.9zM239.0 309.1h0.9v0.9h-0.9zM236.3 312.8h0.9v0.9h-0.9zM237.3 312.0h0.9v0.9h-0.9zM227.5 328.9h0.9v0.9h-0.9zM229.8 318.9h0.9v0.9h-0.9zM230.8 321.3h0.9v0.9h-0.9zM227.9 323.4h0.9v0.9h-0.9zM232.4 316.2h0.9v0.9h-0.9zM229.8 321.4h0.9v0.9h-0.9zM226.9 328.1h0.9v0.9h-0.9zM229.9 322.4h0.9v0.9h-0.9zM238.4 309.2h0.9v0.9h-0.9zM227.9 322.0h0.9v0.9h-0.9zM236.4 312.6h0.9v0.9h-0.9zM231.6 327.5h0.9v0.9h-0.9zM233.6 318.9h0.9v0.9h-0.9zM227.8 323.8h0.9v0.9h-0.9zM237.4 310.8h0.9v0.9h-0.9zM230.2 324.4h0.9v0.9h-0.9zM232.6 316.8h0.9v0.9h-0.9zM230.1 323.0h0.9v0.9h-0.9zM225.9 323.1h0.9v0.9h-0.9zM228.7 326.0h0.9v0.9h-0.9zM225.8 328.4h0.9v0.9h-0.9zM233.0 316.4h0.9v0.9h-0.9zM234.1 316.1h0.9v0.9h-0.9zM228.9 326.1h0.9v0.9h-0.9zM225.0 323.9h0.9v0.9h-0.9zM238.6 309.0h0.9v0.9h-0.9zM232.9 317.0h0.9v0.9h-0.9zM229.5 323.4h0.9v0.9h-0.9zM230.7 319.6h0.9v0.9h-0.9zM227.3 325.0h0.9v0.9h-0.9zM223.6 322.5h0.9v0.9h-0.9zM233.3 319.1h0.9v0.9h-0.9zM234.4 312.8h0.9v0.9h-0.9zM223.5 327.6h0.9v0.9h-0.9zM233.8 319.7h0.9v0.9h-0.9zM231.9 316.5h0.9v0.9h-0.9zM227.6 321.6h0.9v0.9h-0.9zM236.6 312.7h0.9v0.9h-0.9zM234.3 315.2h0.9v0.9h-0.9zM227.2 327.4h0.9v0.9h-0.9zM228.9 322.5h0.9v0.9h-0.9zM228.3 320.8h0.9v0.9h-0.9zM226.0 322.7h0.9v0.9h-0.9zM227.1 323.4h0.9v0.9h-0.9zM228.6 321.6h0.9v0.9h-0.9zM233.1 314.8h0.9v0.9h-0.9zM229.0 321.8h0.9v0.9h-0.9zM228.4 319.0h0.9v0.9h-0.9zM223.3 325.5h0.9v0.9h-0.9zM227.7 324.4h0.9v0.9h-0.9zM225.8 321.6h0.9v0.9h-0.9zM231.1 319.8h0.9v0.9h-0.9zM237.3 311.3h0.9v0.9h-0.9zM229.8 323.1h0.9v0.9h-0.9zM226.7 333.5h0.9v0.9h-0.9zM236.2 312.0h0.9v0.9h-0.9zM235.0 317.3h0.9v0.9h-0.9zM234.3 315.1h0.9v0.9h-0.9zM228.8 326.0h0.9v0.9h-0.9zM232.2 315.0h0.9v0.9h-0.9zM233.9 314.8h0.9v0.9h-0.9zM229.7 318.9h0.9v0.9h-0.9zM238.2 310.6h0.9v0.9h-0.9zM226.5 328.1h0.9v0.9h-0.9zM224.9 325.3h0.9v0.9h-0.9zM237.8 311.8h0.9v0.9h-0.9zM237.7 309.3h0.9v0.9h-0.9zM232.8 317.0h0.9v0.9h-0.9zM239.1 309.0h0.9v0.9h-0.9zM234.4 317.9h0.9v0.9h-0.9zM223.9 331.4h0.9v0.9h-0.9zM228.7 322.1h0.9v0.9h-0.9zM229.7 324.3h0.9v0.9h-0.9zM237.1 310.6h0.9v0.9h-0.9zM224.8 329.0h0.9v0.9h-0.9zM226.1 323.4h0.9v0.9h-0.9zM236.3 312.2h0.9v0.9h-0.9zM226.2 325.8h0.9v0.9h-0.9zM233.9 320.9h0.9v0.9h-0.9zM233.0 319.1h0.9v0.9h-0.9zM226.2 322.4h0.9v0.9h-0.9zM229.7 326.1h0.9v0.9h-0.9zM227.9 324.4h0.9v0.9h-0.9zM226.7 330.5h0.9v0.9h-0.9zM232.4 316.0h0.9v0.9h-0.9zM229.7 324.3h0.9v0.9h-0.9zM229.6 322.8h0.9v0.9h-0.9zM225.4 322.1h0.9v0.9h-0.9zM232.6 320.6h0.9v0.9h-0.9zM237.6 310.9h0.9v0.9h-0.9zM230.7 321.2h0.9v0.9h-0.9zM230.3 321.1h0.9v0.9h-0.9zM228.6 328.1h0.9v0.9h-0.9zM224.8 324.3h0.9v0.9h-0.9zM235.9 315.2h0.9v0.9h-0.9zM228.1 325.9h0.9v0.9h-0.9zM235.8 312.1h0.9v0.9h-0.9zM228.2 327.7h0.9v0.9h-0.9zM234.9 314.8h0.9v0.9h-0.9zM230.0 324.6h0.9v0.9h-0.9zM230.5 320.9h0.9v0.9h-0.9zM230.1 323.7h0.9v0.9h-0.9zM234.4 313.8h0.9v0.9h-0.9zM234.4 314.1h0.9v0.9h-0.9zM238.3 309.5h0.9v0.9h-0.9zM231.5 319.8h0.9v0.9h-0.9zM229.1 320.7h0.9v0.9h-0.9zM231.8 318.1h0.9v0.9h-0.9zM231.2 321.2h0.9v0.9h-0.9zM228.0 323.9h0.9v0.9h-0.9zM235.3 314.4h0.9v0.9h-0.9zM233.0 319.2h0.9v0.9h-0.9zM228.1 322.2h0.9v0.9h-0.9zM228.0 322.0h0.9v0.9h-0.9zM224.4 333.9h0.9v0.9h-0.9zM237.7 309.3h0.9v0.9h-0.9zM228.8 321.3h0.9v0.9h-0.9zM229.4 322.5h0.9v0.9h-0.9zM234.3 315.9h0.9v0.9h-0.9zM231.3 322.3h0.9v0.9h-0.9zM228.2 327.7h0.9v0.9h-0.9zM229.7 321.0h0.9v0.9h-0.9zM229.4 325.5h0.9v0.9h-0.9zM233.5 320.2h0.9v0.9h-0.9zM228.4 322.5h0.9v0.9h-0.9zM229.8 320.8h0.9v0.9h-0.9zM238.0 310.0h0.9v0.9h-0.9zM233.1 320.0h0.9v0.9h-0.9zM228.5 323.7h0.9v0.9h-0.9zM229.6 320.6h0.9v0.9h-0.9zM228.9 329.3h0.9v0.9h-0.9zM235.5 313.8h0.9v0.9h-0.9zM228.1 324.9h0.9v0.9h-0.9zM235.8 312.2h0.9v0.9h-0.9zM230.8 321.6h0.9v0.9h-0.9zM238.8 309.6h0.9v0.9h-0.9zM223.0 330.2h0.9v0.9h-0.9zM238.7 309.6h0.9v0.9h-0.9zM235.9 315.0h0.9v0.9h-0.9zM234.9 314.1h0.9v0.9h-0.9zM223.2 324.7h0.9v0.9h-0.9zM238.7 309.6h0.9v0.9h-0.9zM231.9 316.6h0.9v0.9h-0.9zM235.9 312.7h0.9v0.9h-0.9zM229.0 321.9h0.9v0.9h-0.9zM230.7 324.1h0.9v0.9h-0.9zM228.5 321.3h0.9v0.9h-0.9zM224.3 324.1h0.9v0.9h-0.9zM232.1 317.4h0.9v0.9h-0.9zM231.3 324.3h0.9v0.9h-0.9zM232.6 319.5h0.9v0.9h-0.9zM227.4 323.6h0.9v0.9h-0.9zM222.0 327.1h0.9v0.9h-0.9zM237.1 309.6h0.9v0.9h-0.9zM227.7 329.2h0.9v0.9h-0.9zM228.5 321.9h0.9v0.9h-0.9zM227.0 325.1h0.9v0.9h-0.9zM223.1 330.0h0.9v0.9h-0.9zM237.0 312.5h0.9v0.9h-0.9zM237.6 311.2h0.9v0.9h-0.9zM227.6 320.6h0.9v0.9h-0.9zM229.4 320.1h0.9v0.9h-0.9zM235.1 314.5h0.9v0.9h-0.9zM225.7 324.2h0.9v0.9h-0.9zM234.2 315.8h0.9v0.9h-0.9zM228.4 320.3h0.9v0.9h-0.9zM227.6 321.7h0.9v0.9h-0.9zM226.1 328.8h0.9v0.9h-0.9zM235.3 314.0h0.9v0.9h-0.9zM229.3 320.3h0.9v0.9h-0.9zM228.0 327.8h0.9v0.9h-0.9zM237.9 311.1h0.9v0.9h-0.9zM229.0 322.0h0.9v0.9h-0.9zM227.5 321.8h0.9v0.9h-0.9zM229.2 327.0h0.9v0.9h-0.9zM222.1 330.0h0.9v0.9h-0.9z" fill="#000" fill-opacity="0.5"/>
<rect x="203.00" y="275.50" width="72.50" height="72.00" fill="none" stroke="#000" stroke-width="1"/>
<line x1="239.50" y1="275.50" x2="239.50" y2="347.50" stroke="#1a1a1a" stroke-width="1"/>
<line x1="203.00" y1="305.50" x2="275.50" y2="305.50" stroke="#1a1a1a" stroke-width="1"/>
<line x1="201.90" y1="277.50" x2="201.90" y2="347.50" stroke="#333" stroke-width="0.9" stroke-dasharray="0.7 1.6"/>
<line x1="203.00" y1="348.60" x2="273.50" y2="348.60" stroke="#333" stroke-width="0.9" stroke-dasharray="0.7 1.6"/>
<line x1="201.20" y1="347.00" x2="203.00" y2="347.00" stroke="#222" stroke-width="0.9"/>
<line x1="203.50" y1="347.50" x2="203.50" y2="349.30" stroke="#222" stroke-width="0.9"/>
<line x1="201.20" y1="329.00" x2="203.00" y2="329.00" stroke="#222" stroke-width="0.9"/>
<line x1="221.50" y1="347.50" x2="221.50" y2="349.30" stroke="#222" stroke-width="0.9"/>
<line x1="201.20" y1="311.00" x2="203.00" y2="311.00" stroke="#222" stroke-width="0.9"/>
<line x1="239.50" y1="347.50" x2="239.50" y2="349.30" stroke="#222" stroke-width="0.9"/>
<line x1="201.20" y1="293.00" x2="203.00" y2="293.00" stroke="#222" stroke-width="0.9"/>
<line x1="257.50" y1="347.50" x2="257.50" y2="349.30" stroke="#222" stroke-width="0.9"/>
<text transform="translate(241.60,269.30) scale(1,1.15)" font-size="8.1" text-anchor="middle" >LPS</text>
<text transform="translate(204.20,283.80) scale(1,1.15)" font-size="7.8" text-anchor="start" >0.5</text>
<text transform="translate(274.70,283.80) scale(1,1.15)" font-size="7.8" text-anchor="end" >0.5</text>
<text transform="translate(204.20,344.80) scale(1,1.15)" font-size="7.8" text-anchor="start" >96.9</text>
<text transform="translate(274.70,344.80) scale(1,1.15)" font-size="7.8" text-anchor="end" >2.1</text>
<path d="M304.0 319.1h0.8v0.8h-0.8zM296.9 333.1h0.8v0.8h-0.8zM299.6 335.7h0.8v0.8h-0.8zM287.5 342.7h0.8v0.8h-0.8zM295.2 327.6h0.8v0.8h-0.8zM291.8 345.7h0.8v0.8h-0.8zM303.7 330.5h0.8v0.8h-0.8zM302.9 327.4h0.8v0.8h-0.8zM296.9 333.7h0.8v0.8h-0.8zM307.3 317.5h0.8v0.8h-0.8zM302.1 323.4h0.8v0.8h-0.8zM308.9 320.8h0.8v0.8h-0.8zM303.8 325.7h0.8v0.8h-0.8zM300.6 326.2h0.8v0.8h-0.8zM298.3 330.9h0.8v0.8h-0.8zM300.5 329.9h0.8v0.8h-0.8zM309.4 318.7h0.8v0.8h-0.8zM303.7 325.7h0.8v0.8h-0.8zM310.6 317.2h0.8v0.8h-0.8zM304.9 326.2h0.8v0.8h-0.8zM303.0 325.7h0.8v0.8h-0.8zM296.8 330.5h0.8v0.8h-0.8zM305.1 320.7h0.8v0.8h-0.8zM302.4 326.6h0.8v0.8h-0.8zM294.1 334.6h0.8v0.8h-0.8zM301.4 331.4h0.8v0.8h-0.8zM300.5 324.9h0.8v0.8h-0.8zM305.8 324.7h0.8v0.8h-0.8zM305.5 321.5h0.8v0.8h-0.8zM300.8 318.7h0.8v0.8h-0.8zM300.7 328.0h0.8v0.8h-0.8zM302.5 324.3h0.8v0.8h-0.8zM299.3 331.3h0.8v0.8h-0.8zM301.2 323.9h0.8v0.8h-0.8zM299.0 328.1h0.8v0.8h-0.8zM301.7 328.9h0.8v0.8h-0.8zM297.6 330.0h0.8v0.8h-0.8zM300.9 328.1h0.8v0.8h-0.8zM298.2 334.7h0.8v0.8h-0.8zM298.9 331.3h0.8v0.8h-0.8zM298.8 328.1h0.8v0.8h-0.8zM307.8 319.4h0.8v0.8h-0.8zM300.6 327.8h0.8v0.8h-0.8zM292.0 342.4h0.8v0.8h-0.8zM298.7 328.1h0.8v0.8h-0.8zM308.6 315.0h0.8v0.8h-0.8zM297.9 333.8h0.8v0.8h-0.8zM302.9 327.7h0.8v0.8h-0.8zM296.1 336.8h0.8v0.8h-0.8zM308.1 321.1h0.8v0.8h-0.8zM303.9 323.7h0.8v0.8h-0.8zM298.9 327.3h0.8v0.8h-0.8zM308.6 316.9h0.8v0.8h-0.8zM302.0 326.6h0.8v0.8h-0.8zM304.5 324.7h0.8v0.8h-0.8zM296.5 330.1h0.8v0.8h-0.8zM307.0 318.5h0.8v0.8h-0.8zM303.9 321.8h0.8v0.8h-0.8zM304.7 327.9h0.8v0.8h-0.8zM304.0 323.7h0.8v0.8h-0.8zM294.0 332.4h0.8v0.8h-0.8zM295.7 334.5h0.8v0.8h-0.8zM299.1 331.5h0.8v0.8h-0.8zM295.7 338.0h0.8v0.8h-0.8zM303.7 321.0h0.8v0.8h-0.8zM306.8 319.3h0.8v0.8h-0.8zM294.7 335.2h0.8v0.8h-0.8zM297.5 331.9h0.8v0.8h-0.8zM301.5 331.6h0.8v0.8h-0.8zM293.4 339.0h0.8v0.8h-0.8zM302.3 325.5h0.8v0.8h-0.8zM295.2 336.7h0.8v0.8h-0.8zM299.4 326.5h0.8v0.8h-0.8zM298.2 333.0h0.8v0.8h-0.8zM302.0 326.4h0.8v0.8h-0.8zM306.2 324.8h0.8v0.8h-0.8zM306.3 325.6h0.8v0.8h-0.8zM292.7 342.0h0.8v0.8h-0.8zM301.1 334.4h0.8v0.8h-0.8zM300.4 322.9h0.8v0.8h-0.8zM304.2 329.2h0.8v0.8h-0.8zM305.5 327.7h0.8v0.8h-0.8zM307.4 313.9h0.8v0.8h-0.8zM302.0 325.8h0.8v0.8h-0.8zM296.1 336.9h0.8v0.8h-0.8zM299.5 329.6h0.8v0.8h-0.8zM304.8 324.1h0.8v0.8h-0.8zM308.7 322.8h0.8v0.8h-0.8zM298.5 333.1h0.8v0.8h-0.8zM312.2 307.0h0.8v0.8h-0.8zM301.3 328.2h0.8v0.8h-0.8zM297.9 340.4h0.8v0.8h-0.8zM302.2 329.6h0.8v0.8h-0.8zM297.7 328.6h0.8v0.8h-0.8zM301.6 330.3h0.8v0.8h-0.8zM300.3 325.9h0.8v0.8h-0.8zM296.8 331.9h0.8v0.8h-0.8zM301.2 330.8h0.8v0.8h-0.8zM301.6 331.6h0.8v0.8h-0.8zM301.7 328.6h0.8v0.8h-0.8zM297.3 328.7h0.8v0.8h-0.8zM299.0 328.0h0.8v0.8h-0.8zM302.6 327.8h0.8v0.8h-0.8zM297.8 332.6h0.8v0.8h-0.8zM306.5 320.7h0.8v0.8h-0.8zM300.7 326.9h0.8v0.8h-0.8zM299.8 332.1h0.8v0.8h-0.8zM300.8 335.2h0.8v0.8h-0.8zM294.9 340.4h0.8v0.8h-0.8zM296.4 329.4h0.8v0.8h-0.8zM305.2 328.0h0.8v0.8h-0.8zM306.2 321.6h0.8v0.8h-0.8zM297.9 328.1h0.8v0.8h-0.8zM303.1 326.5h0.8v0.8h-0.8zM301.9 327.0h0.8v0.8h-0.8zM306.4 322.6h0.8v0.8h-0.8zM302.7 323.0h0.8v0.8h-0.8zM303.8 325.6h0.8v0.8h-0.8zM290.9 341.1h0.8v0.8h-0.8zM302.0 336.5h0.8v0.8h-0.8zM299.1 328.9h0.8v0.8h-0.8zM298.7 330.8h0.8v0.8h-0.8zM305.3 327.6h0.8v0.8h-0.8zM297.5 334.3h0.8v0.8h-0.8zM306.6 315.3h0.8v0.8h-0.8zM296.2 338.4h0.8v0.8h-0.8zM297.7 339.7h0.8v0.8h-0.8zM300.5 331.4h0.8v0.8h-0.8zM299.4 327.9h0.8v0.8h-0.8zM295.6 333.4h0.8v0.8h-0.8zM298.6 328.1h0.8v0.8h-0.8zM304.8 321.8h0.8v0.8h-0.8zM304.9 326.8h0.8v0.8h-0.8zM299.3 328.2h0.8v0.8h-0.8zM296.3 329.4h0.8v0.8h-0.8zM306.9 325.0h0.8v0.8h-0.8zM298.7 325.6h0.8v0.8h-0.8zM310.5 316.4h0.8v0.8h-0.8zM301.2 326.4h0.8v0.8h-0.8zM303.0 325.3h0.8v0.8h-0.8zM300.6 333.2h0.8v0.8h-0.8zM303.3 328.8h0.8v0.8h-0.8zM298.0 328.6h0.8v0.8h-0.8zM296.6 336.9h0.8v0.8h-0.8zM300.0 325.4h0.8v0.8h-0.8zM306.5 312.0h0.8v0.8h-0.8zM306.0 318.4h0.8v0.8h-0.8zM300.3 331.6h0.8v0.8h-0.8zM300.0 329.7h0.8v0.8h-0.8zM310.0 313.5h0.8v0.8h-0.8zM293.3 331.3h0.8v0.8h-0.8zM303.8 326.0h0.8v0.8h-0.8zM302.3 330.5h0.8v0.8h-0.8zM299.2 330.0h0.8v0.8h-0.8zM304.9 324.8h0.8v0.8h-0.8zM285.3 344.3h0.8v0.8h-0.8zM298.2 327.0h0.8v0.8h-0.8zM299.9 336.5h0.8v0.8h-0.8zM295.5 334.3h0.8v0.8h-0.8zM291.4 340.8h0.8v0.8h-0.8zM299.0 329.6h0.8v0.8h-0.8zM303.4 332.0h0.8v0.8h-0.8zM294.5 340.2h0.8v0.8h-0.8zM293.1 334.5h0.8v0.8h-0.8zM300.5 330.3h0.8v0.8h-0.8zM303.1 328.6h0.8v0.8h-0.8zM305.0 325.9h0.8v0.8h-0.8zM293.4 338.8h0.8v0.8h-0.8zM302.8 324.8h0.8v0.8h-0.8zM300.3 329.5h0.8v0.8h-0.8zM290.0 333.8h0.8v0.8h-0.8zM302.9 324.4h0.8v0.8h-0.8zM302.1 325.1h0.8v0.8h-0.8zM314.2 321.9h0.8v0.8h-0.8zM299.0 332.2h0.8v0.8h-0.8zM302.2 326.1h0.8v0.8h-0.8zM300.4 332.7h0.8v0.8h-0.8zM305.1 322.3h0.8v0.8h-0.8zM297.1 324.0h0.8v0.8h-0.8zM300.3 329.2h0.8v0.8h-0.8zM296.8 332.6h0.8v0.8h-0.8zM301.8 325.1h0.8v0.8h-0.8zM312.9 316.7h0.8v0.8h-0.8zM301.2 323.1h0.8v0.8h-0.8zM302.9 330.0h0.8v0.8h-0.8zM307.2 321.6h0.8v0.8h-0.8zM300.9 327.5h0.8v0.8h-0.8zM293.5 336.6h0.8v0.8h-0.8zM300.0 329.5h0.8v0.8h-0.8zM294.1 340.5h0.8v0.8h-0.8zM300.2 324.8h0.8v0.8h-0.8zM302.3 326.1h0.8v0.8h-0.8zM293.9 335.5h0.8v0.8h-0.8zM306.6 324.8h0.8v0.8h-0.8zM296.2 329.6h0.8v0.8h-0.8zM300.6 326.7h0.8v0.8h-0.8zM296.2 336.3h0.8v0.8h-0.8zM296.3 334.6h0.8v0.8h-0.8zM303.4 327.9h0.8v0.8h-0.8zM303.7 329.7h0.8v0.8h-0.8zM308.4 323.0h0.8v0.8h-0.8zM300.0 330.1h0.8v0.8h-0.8zM299.5 334.3h0.8v0.8h-0.8zM300.9 327.3h0.8v0.8h-0.8zM294.6 339.8h0.8v0.8h-0.8zM301.1 328.2h0.8v0.8h-0.8zM288.8 337.7h0.8v0.8h-0.8zM307.5 319.5h0.8v0.8h-0.8zM299.5 330.7h0.8v0.8h-0.8zM300.2 325.9h0.8v0.8h-0.8zM307.6 321.3h0.8v0.8h-0.8zM297.1 334.2h0.8v0.8h-0.8zM305.5 326.2h0.8v0.8h-0.8zM295.7 337.1h0.8v0.8h-0.8zM305.8 319.8h0.8v0.8h-0.8zM299.0 330.8h0.8v0.8h-0.8zM301.2 330.7h0.8v0.8h-0.8zM303.9 320.4h0.8v0.8h-0.8zM302.2 323.2h0.8v0.8h-0.8zM305.0 325.6h0.8v0.8h-0.8zM305.3 330.4h0.8v0.8h-0.8zM298.6 331.5h0.8v0.8h-0.8zM301.7 328.6h0.8v0.8h-0.8zM299.9 332.5h0.8v0.8h-0.8zM308.7 325.7h0.8v0.8h-0.8zM299.3 330.3h0.8v0.8h-0.8zM300.5 323.5h0.8v0.8h-0.8zM301.6 331.5h0.8v0.8h-0.8zM305.4 323.2h0.8v0.8h-0.8zM304.0 330.4h0.8v0.8h-0.8zM298.7 332.0h0.8v0.8h-0.8zM299.3 325.0h0.8v0.8h-0.8zM294.7 338.4h0.8v0.8h-0.8zM302.8 327.8h0.8v0.8h-0.8zM309.8 313.1h0.8v0.8h-0.8zM305.9 321.1h0.8v0.8h-0.8zM305.9 327.8h0.8v0.8h-0.8zM299.6 331.1h0.8v0.8h-0.8zM297.1 329.8h0.8v0.8h-0.8zM305.9 320.3h0.8v0.8h-0.8zM304.8 331.1h0.8v0.8h-0.8zM307.7 324.5h0.8v0.8h-0.8zM305.8 318.1h0.8v0.8h-0.8zM296.6 332.7h0.8v0.8h-0.8zM296.1 332.4h0.8v0.8h-0.8zM294.4 332.0h0.8v0.8h-0.8zM301.2 332.4h0.8v0.8h-0.8zM309.1 317.2h0.8v0.8h-0.8zM301.5 324.6h0.8v0.8h-0.8zM303.6 321.0h0.8v0.8h-0.8zM300.9 323.5h0.8v0.8h-0.8zM295.2 331.2h0.8v0.8h-0.8zM305.0 325.9h0.8v0.8h-0.8zM302.2 329.4h0.8v0.8h-0.8zM308.7 320.6h0.8v0.8h-0.8zM302.4 331.1h0.8v0.8h-0.8zM297.3 332.8h0.8v0.8h-0.8zM300.7 333.6h0.8v0.8h-0.8zM299.1 328.1h0.8v0.8h-0.8z" fill="#000" fill-opacity="0.3"/>
<path d="M349.8 308.7h0.8v0.8h-0.8zM330.3 306.7h0.8v0.8h-0.8zM324.7 314.0h0.8v0.8h-0.8zM336.7 317.3h0.8v0.8h-0.8zM323.4 318.2h0.8v0.8h-0.8zM342.6 313.8h0.8v0.8h-0.8zM341.6 313.4h0.8v0.8h-0.8zM337.6 311.8h0.8v0.8h-0.8zM326.1 319.6h0.8v0.8h-0.8zM331.6 313.2h0.8v0.8h-0.8zM337.4 315.9h0.8v0.8h-0.8zM342.8 315.3h0.8v0.8h-0.8zM338.5 306.0h0.8v0.8h-0.8zM322.4 307.2h0.8v0.8h-0.8zM350.4 307.8h0.8v0.8h-0.8zM348.1 308.8h0.8v0.8h-0.8zM346.7 310.3h0.8v0.8h-0.8zM330.8 310.4h0.8v0.8h-0.8zM339.9 319.2h0.8v0.8h-0.8zM343.7 307.6h0.8v0.8h-0.8zM338.2 324.3h0.8v0.8h-0.8zM344.1 309.6h0.8v0.8h-0.8zM334.5 312.0h0.8v0.8h-0.8zM333.1 323.6h0.8v0.8h-0.8zM342.1 315.0h0.8v0.8h-0.8zM336.8 325.3h0.8v0.8h-0.8zM324.1 311.3h0.8v0.8h-0.8zM333.0 310.3h0.8v0.8h-0.8zM337.0 316.9h0.8v0.8h-0.8zM330.1 308.0h0.8v0.8h-0.8zM332.5 320.2h0.8v0.8h-0.8zM348.9 327.1h0.8v0.8h-0.8zM330.6 320.8h0.8v0.8h-0.8zM337.4 313.0h0.8v0.8h-0.8zM324.3 311.3h0.8v0.8h-0.8zM337.1 321.8h0.8v0.8h-0.8zM333.2 310.0h0.8v0.8h-0.8zM330.6 308.5h0.8v0.8h-0.8zM346.4 306.9h0.8v0.8h-0.8zM346.7 327.8h0.8v0.8h-0.8zM341.1 315.8h0.8v0.8h-0.8zM333.9 317.7h0.8v0.8h-0.8zM337.8 311.7h0.8v0.8h-0.8zM347.0 312.5h0.8v0.8h-0.8zM321.9 310.9h0.8v0.8h-0.8zM344.7 314.2h0.8v0.8h-0.8zM324.3 317.2h0.8v0.8h-0.8zM324.3 313.1h0.8v0.8h-0.8zM336.3 311.2h0.8v0.8h-0.8zM349.8 310.3h0.8v0.8h-0.8zM323.9 318.9h0.8v0.8h-0.8zM338.7 305.9h0.8v0.8h-0.8zM344.1 311.3h0.8v0.8h-0.8zM349.7 313.6h0.8v0.8h-0.8zM349.1 321.2h0.8v0.8h-0.8zM343.0 323.3h0.8v0.8h-0.8zM345.4 311.0h0.8v0.8h-0.8zM340.6 308.6h0.8v0.8h-0.8zM332.4 311.0h0.8v0.8h-0.8zM332.1 316.5h0.8v0.8h-0.8zM331.0 319.0h0.8v0.8h-0.8zM350.3 308.8h0.8v0.8h-0.8zM332.1 306.8h0.8v0.8h-0.8zM324.4 314.5h0.8v0.8h-0.8zM333.9 308.4h0.8v0.8h-0.8zM346.7 319.3h0.8v0.8h-0.8zM335.3 308.4h0.8v0.8h-0.8zM335.9 313.3h0.8v0.8h-0.8zM337.7 307.6h0.8v0.8h-0.8zM336.4 309.1h0.8v0.8h-0.8zM337.2 309.9h0.8v0.8h-0.8zM345.2 308.7h0.8v0.8h-0.8zM348.8 306.9h0.8v0.8h-0.8zM326.4 307.8h0.8v0.8h-0.8zM341.2 307.5h0.8v0.8h-0.8zM326.6 306.2h0.8v0.8h-0.8zM344.0 315.9h0.8v0.8h-0.8zM335.2 314.3h0.8v0.8h-0.8zM337.6 310.5h0.8v0.8h-0.8zM330.7 311.7h0.8v0.8h-0.8zM326.2 307.4h0.8v0.8h-0.8zM338.4 315.0h0.8v0.8h-0.8zM323.1 318.4h0.8v0.8h-0.8zM341.9 320.6h0.8v0.8h-0.8zM331.3 322.7h0.8v0.8h-0.8zM335.2 310.6h0.8v0.8h-0.8zM330.8 316.8h0.8v0.8h-0.8zM341.7 318.8h0.8v0.8h-0.8zM331.1 313.8h0.8v0.8h-0.8zM335.8 320.4h0.8v0.8h-0.8zM341.2 311.1h0.8v0.8h-0.8zM335.0 309.7h0.8v0.8h-0.8zM326.7 308.0h0.8v0.8h-0.8zM327.8 311.5h0.8v0.8h-0.8zM332.5 319.0h0.8v0.8h-0.8zM348.1 306.3h0.8v0.8h-0.8zM327.8 313.0h0.8v0.8h-0.8zM326.6 310.9h0.8v0.8h-0.8zM329.9 317.5h0.8v0.8h-0.8zM345.5 310.3h0.8v0.8h-0.8zM340.0 314.9h0.8v0.8h-0.8zM341.4 309.6h0.8v0.8h-0.8zM333.2 307.1h0.8v0.8h-0.8zM349.1 315.5h0.8v0.8h-0.8zM324.8 315.7h0.8v0.8h-0.8zM344.5 311.9h0.8v0.8h-0.8zM333.4 312.8h0.8v0.8h-0.8zM337.4 305.6h0.8v0.8h-0.8zM326.1 312.4h0.8v0.8h-0.8zM342.2 330.5h0.8v0.8h-0.8zM349.5 307.0h0.8v0.8h-0.8zM347.2 323.4h0.8v0.8h-0.8zM322.5 312.0h0.8v0.8h-0.8zM326.1 325.6h0.8v0.8h-0.8zM340.2 308.6h0.8v0.8h-0.8zM340.3 315.2h0.8v0.8h-0.8zM326.6 309.6h0.8v0.8h-0.8zM338.4 306.3h0.8v0.8h-0.8zM347.1 310.5h0.8v0.8h-0.8zM339.1 311.4h0.8v0.8h-0.8zM339.2 311.4h0.8v0.8h-0.8zM330.6 308.8h0.8v0.8h-0.8zM341.1 311.5h0.8v0.8h-0.8zM338.6 307.4h0.8v0.8h-0.8zM336.7 309.1h0.8v0.8h-0.8zM337.7 308.3h0.8v0.8h-0.8zM327.9 311.6h0.8v0.8h-0.8zM331.5 307.9h0.8v0.8h-0.8zM340.7 312.4h0.8v0.8h-0.8zM322.8 319.2h0.8v0.8h-0.8zM337.0 313.2h0.8v0.8h-0.8zM325.6 328.9h0.8v0.8h-0.8zM334.0 309.5h0.8v0.8h-0.8zM338.6 315.9h0.8v0.8h-0.8zM323.2 311.2h0.8v0.8h-0.8zM347.4 313.6h0.8v0.8h-0.8zM330.9 309.9h0.8v0.8h-0.8zM327.9 323.0h0.8v0.8h-0.8zM333.6 313.3h0.8v0.8h-0.8zM339.9 311.8h0.8v0.8h-0.8zM322.9 307.7h0.8v0.8h-0.8zM343.5 312.2h0.8v0.8h-0.8zM322.2 316.5h0.8v0.8h-0.8zM322.4 313.0h0.8v0.8h-0.8zM340.2 318.0h0.8v0.8h-0.8zM350.3 312.0h0.8v0.8h-0.8zM322.1 315.8h0.8v0.8h-0.8zM349.4 325.2h0.8v0.8h-0.8zM323.2 306.9h0.8v0.8h-0.8zM346.2 312.4h0.8v0.8h-0.8zM334.4 306.6h0.8v0.8h-0.8zM324.3 311.6h0.8v0.8h-0.8zM342.6 308.9h0.8v0.8h-0.8zM327.5 310.6h0.8v0.8h-0.8zM342.9 318.4h0.8v0.8h-0.8zM349.2 309.8h0.8v0.8h-0.8zM334.1 320.0h0.8v0.8h-0.8zM347.7 313.2h0.8v0.8h-0.8zM339.8 320.6h0.8v0.8h-0.8zM330.2 327.5h0.8v0.8h-0.8zM349.2 319.9h0.8v0.8h-0.8zM332.4 312.1h0.8v0.8h-0.8zM346.3 319.1h0.8v0.8h-0.8zM345.3 315.1h0.8v0.8h-0.8zM345.1 308.3h0.8v0.8h-0.8zM341.3 325.2h0.8v0.8h-0.8zM322.8 310.5h0.8v0.8h-0.8zM322.1 309.9h0.8v0.8h-0.8zM346.3 306.5h0.8v0.8h-0.8zM324.8 310.8h0.8v0.8h-0.8zM326.3 310.3h0.8v0.8h-0.8zM344.0 310.0h0.8v0.8h-0.8zM339.7 314.7h0.8v0.8h-0.8zM338.5 316.8h0.8v0.8h-0.8zM338.1 309.3h0.8v0.8h-0.8zM336.0 318.5h0.8v0.8h-0.8zM325.5 313.6h0.8v0.8h-0.8zM342.3 320.7h0.8v0.8h-0.8zM338.2 312.8h0.8v0.8h-0.8zM332.9 309.1h0.8v0.8h-0.8zM338.1 308.0h0.8v0.8h-0.8zM347.4 309.7h0.8v0.8h-0.8zM343.9 310.2h0.8v0.8h-0.8zM345.4 325.1h0.8v0.8h-0.8zM327.9 308.0h0.8v0.8h-0.8zM332.4 321.5h0.8v0.8h-0.8zM335.6 306.9h0.8v0.8h-0.8zM331.4 312.2h0.8v0.8h-0.8zM334.8 312.9h0.8v0.8h-0.8zM329.0 321.1h0.8v0.8h-0.8zM333.1 307.2h0.8v0.8h-0.8zM341.5 307.0h0.8v0.8h-0.8zM349.5 305.6h0.8v0.8h-0.8zM331.0 329.7h0.8v0.8h-0.8zM328.5 312.7h0.8v0.8h-0.8zM323.9 307.1h0.8v0.8h-0.8zM346.6 311.0h0.8v0.8h-0.8zM337.5 313.2h0.8v0.8h-0.8zM337.4 307.6h0.8v0.8h-0.8zM327.5 313.0h0.8v0.8h-0.8zM335.5 325.8h0.8v0.8h-0.8zM329.3 309.5h0.8v0.8h-0.8zM337.6 308.3h0.8v0.8h-0.8zM341.1 316.2h0.8v0.8h-0.8zM331.6 312.2h0.8v0.8h-0.8zM343.7 321.9h0.8v0.8h-0.8zM340.0 320.1h0.8v0.8h-0.8zM327.8 311.6h0.8v0.8h-0.8zM345.5 319.8h0.8v0.8h-0.8zM323.9 312.6h0.8v0.8h-0.8zM336.1 309.6h0.8v0.8h-0.8zM347.1 320.9h0.8v0.8h-0.8zM344.3 311.5h0.8v0.8h-0.8zM330.7 312.6h0.8v0.8h-0.8zM336.3 312.1h0.8v0.8h-0.8zM337.9 308.5h0.8v0.8h-0.8zM346.2 310.8h0.8v0.8h-0.8zM327.1 313.0h0.8v0.8h-0.8zM350.1 323.4h0.8v0.8h-0.8zM333.3 308.1h0.8v0.8h-0.8zM349.3 306.3h0.8v0.8h-0.8zM328.3 322.0h0.8v0.8h-0.8zM327.1 309.2h0.8v0.8h-0.8zM343.9 310.6h0.8v0.8h-0.8zM333.0 305.7h0.8v0.8h-0.8zM324.6 314.6h0.8v0.8h-0.8zM343.6 307.2h0.8v0.8h-0.8zM336.8 324.3h0.8v0.8h-0.8zM327.4 309.7h0.8v0.8h-0.8zM348.3 315.7h0.8v0.8h-0.8zM337.8 313.4h0.8v0.8h-0.8zM327.4 308.5h0.8v0.8h-0.8zM328.2 311.9h0.8v0.8h-0.8zM340.2 313.2h0.8v0.8h-0.8zM339.1 320.7h0.8v0.8h-0.8zM345.9 322.0h0.8v0.8h-0.8zM337.3 315.6h0.8v0.8h-0.8zM340.7 306.6h0.8v0.8h-0.8zM334.4 320.9h0.8v0.8h-0.8zM343.1 310.2h0.8v0.8h-0.8zM331.3 308.3h0.8v0.8h-0.8zM343.9 319.6h0.8v0.8h-0.8zM338.3 306.9h0.8v0.8h-0.8zM342.9 310.9h0.8v0.8h-0.8zM336.4 315.5h0.8v0.8h-0.8zM343.9 316.2h0.8v0.8h-0.8zM330.1 310.8h0.8v0.8h-0.8zM339.5 305.9h0.8v0.8h-0.8zM329.3 312.3h0.8v0.8h-0.8zM347.7 319.0h0.8v0.8h-0.8zM343.5 321.1h0.8v0.8h-0.8zM330.4 306.7h0.8v0.8h-0.8zM348.7 305.9h0.8v0.8h-0.8zM340.7 314.7h0.8v0.8h-0.8zM336.9 313.4h0.8v0.8h-0.8zM341.7 310.9h0.8v0.8h-0.8zM340.4 326.8h0.8v0.8h-0.8zM324.2 314.2h0.8v0.8h-0.8zM331.4 324.4h0.8v0.8h-0.8zM342.8 318.7h0.8v0.8h-0.8zM324.2 321.4h0.8v0.8h-0.8zM346.2 305.7h0.8v0.8h-0.8zM342.2 323.5h0.8v0.8h-0.8zM336.1 320.2h0.8v0.8h-0.8zM350.4 315.9h0.8v0.8h-0.8zM349.4 320.1h0.8v0.8h-0.8zM341.7 312.7h0.8v0.8h-0.8zM334.2 317.4h0.8v0.8h-0.8zM328.8 305.6h0.8v0.8h-0.8zM330.2 316.3h0.8v0.8h-0.8zM342.5 321.5h0.8v0.8h-0.8zM342.2 318.5h0.8v0.8h-0.8zM341.6 306.3h0.8v0.8h-0.8zM321.8 330.3h0.8v0.8h-0.8zM328.5 314.7h0.8v0.8h-0.8zM336.1 312.3h0.8v0.8h-0.8zM345.9 309.1h0.8v0.8h-0.8zM322.8 310.9h0.8v0.8h-0.8zM347.0 322.6h0.8v0.8h-0.8zM330.0 314.3h0.8v0.8h-0.8zM335.6 309.5h0.8v0.8h-0.8zM349.2 320.0h0.8v0.8h-0.8zM325.5 309.7h0.8v0.8h-0.8zM321.7 305.9h0.8v0.8h-0.8zM345.9 310.2h0.8v0.8h-0.8zM329.8 320.0h0.8v0.8h-0.8zM328.1 309.5h0.8v0.8h-0.8zM342.8 310.6h0.8v0.8h-0.8zM324.3 316.6h0.8v0.8h-0.8zM346.1 308.6h0.8v0.8h-0.8zM342.3 318.3h0.8v0.8h-0.8zM332.5 311.7h0.8v0.8h-0.8zM343.6 311.9h0.8v0.8h-0.8zM338.8 310.4h0.8v0.8h-0.8zM336.3 311.1h0.8v0.8h-0.8zM322.1 316.0h0.8v0.8h-0.8zM326.2 308.5h0.8v0.8h-0.8zM347.6 317.0h0.8v0.8h-0.8zM345.1 317.5h0.8v0.8h-0.8zM331.8 335.5h0.8v0.8h-0.8zM340.3 313.6h0.8v0.8h-0.8zM333.8 313.2h0.8v0.8h-0.8zM349.3 306.7h0.8v0.8h-0.8zM331.6 313.2h0.8v0.8h-0.8zM341.2 309.6h0.8v0.8h-0.8zM347.4 307.9h0.8v0.8h-0.8zM350.2 311.4h0.8v0.8h-0.8zM343.2 325.0h0.8v0.8h-0.8zM325.4 306.3h0.8v0.8h-0.8zM339.8 309.4h0.8v0.8h-0.8zM341.8 322.4h0.8v0.8h-0.8zM323.9 313.3h0.8v0.8h-0.8zM340.0 306.6h0.8v0.8h-0.8zM334.1 317.5h0.8v0.8h-0.8zM339.5 308.9h0.8v0.8h-0.8zM347.6 307.1h0.8v0.8h-0.8zM327.8 313.4h0.8v0.8h-0.8zM325.6 318.6h0.8v0.8h-0.8zM326.0 323.7h0.8v0.8h-0.8zM333.1 322.0h0.8v0.8h-0.8zM349.9 316.8h0.8v0.8h-0.8zM350.3 306.7h0.8v0.8h-0.8zM329.8 309.0h0.8v0.8h-0.8zM337.1 313.1h0.8v0.8h-0.8zM336.3 306.2h0.8v0.8h-0.8zM342.0 308.4h0.8v0.8h-0.8zM332.2 309.7h0.8v0.8h-0.8zM324.8 308.9h0.8v0.8h-0.8zM345.2 308.7h0.8v0.8h-0.8zM347.3 322.9h0.8v0.8h-0.8zM346.4 310.3h0.8v0.8h-0.8zM341.2 311.2h0.8v0.8h-0.8zM324.5 323.1h0.8v0.8h-0.8zM323.3 312.3h0.8v0.8h-0.8zM348.3 307.5h0.8v0.8h-0.8zM344.0 309.8h0.8v0.8h-0.8zM341.1 306.8h0.8v0.8h-0.8zM326.6 313.0h0.8v0.8h-0.8zM329.3 318.4h0.8v0.8h-0.8zM336.4 310.3h0.8v0.8h-0.8zM340.7 325.2h0.8v0.8h-0.8zM342.3 308.1h0.8v0.8h-0.8zM347.5 308.0h0.8v0.8h-0.8zM344.7 318.8h0.8v0.8h-0.8zM336.8 306.8h0.8v0.8h-0.8zM344.0 313.4h0.8v0.8h-0.8zM337.5 307.2h0.8v0.8h-0.8zM328.7 317.6h0.8v0.8h-0.8zM347.1 305.9h0.8v0.8h-0.8zM343.1 308.5h0.8v0.8h-0.8zM339.4 317.0h0.8v0.8h-0.8zM339.2 317.1h0.8v0.8h-0.8zM342.2 308.5h0.8v0.8h-0.8zM347.4 322.9h0.8v0.8h-0.8zM342.0 307.2h0.8v0.8h-0.8zM325.8 306.0h0.8v0.8h-0.8zM332.9 314.2h0.8v0.8h-0.8zM336.8 315.2h0.8v0.8h-0.8zM343.5 339.2h0.8v0.8h-0.8zM333.4 312.5h0.8v0.8h-0.8zM327.1 327.1h0.8v0.8h-0.8zM340.6 314.9h0.8v0.8h-0.8zM347.3 308.0h0.8v0.8h-0.8zM345.3 307.9h0.8v0.8h-0.8zM345.4 310.6h0.8v0.8h-0.8zM334.7 312.1h0.8v0.8h-0.8zM343.3 314.5h0.8v0.8h-0.8zM347.7 320.3h0.8v0.8h-0.8zM327.6 314.0h0.8v0.8h-0.8zM333.3 312.2h0.8v0.8h-0.8zM332.5 305.8h0.8v0.8h-0.8zM327.6 310.8h0.8v0.8h-0.8zM341.3 306.3h0.8v0.8h-0.8zM334.5 305.8h0.8v0.8h-0.8zM332.1 320.7h0.8v0.8h-0.8zM322.5 314.3h0.8v0.8h-0.8zM347.3 319.7h0.8v0.8h-0.8zM331.1 306.8h0.8v0.8h-0.8zM326.6 320.9h0.8v0.8h-0.8zM349.6 312.7h0.8v0.8h-0.8zM323.5 315.9h0.8v0.8h-0.8zM330.8 330.4h0.8v0.8h-0.8zM326.6 318.5h0.8v0.8h-0.8zM339.6 329.0h0.8v0.8h-0.8zM343.8 318.0h0.8v0.8h-0.8zM345.6 305.5h0.8v0.8h-0.8zM329.6 311.8h0.8v0.8h-0.8zM323.1 309.4h0.8v0.8h-0.8zM328.0 306.8h0.8v0.8h-0.8zM327.5 321.0h0.8v0.8h-0.8zM330.9 314.0h0.8v0.8h-0.8zM349.7 308.5h0.8v0.8h-0.8zM333.7 310.1h0.8v0.8h-0.8zM345.4 319.9h0.8v0.8h-0.8zM338.3 315.7h0.8v0.8h-0.8zM345.2 307.0h0.8v0.8h-0.8zM325.1 308.0h0.8v0.8h-0.8zM343.2 322.5h0.8v0.8h-0.8zM328.3 306.2h0.8v0.8h-0.8zM330.7 310.2h0.8v0.8h-0.8zM342.6 324.4h0.8v0.8h-0.8zM326.9 305.9h0.8v0.8h-0.8zM336.1 308.3h0.8v0.8h-0.8zM330.0 307.0h0.8v0.8h-0.8zM342.1 321.4h0.8v0.8h-0.8zM328.2 319.3h0.8v0.8h-0.8zM342.4 309.3h0.8v0.8h-0.8zM321.9 316.8h0.8v0.8h-0.8zM333.1 323.6h0.8v0.8h-0.8zM337.6 318.8h0.8v0.8h-0.8zM341.2 324.0h0.8v0.8h-0.8zM337.5 306.9h0.8v0.8h-0.8zM322.8 317.0h0.8v0.8h-0.8zM338.4 313.2h0.8v0.8h-0.8zM334.0 310.2h0.8v0.8h-0.8zM329.0 311.8h0.8v0.8h-0.8zM347.5 320.8h0.8v0.8h-0.8zM335.8 308.4h0.8v0.8h-0.8zM337.5 309.8h0.8v0.8h-0.8zM343.7 307.4h0.8v0.8h-0.8zM327.3 315.2h0.8v0.8h-0.8zM349.5 316.8h0.8v0.8h-0.8zM332.7 314.7h0.8v0.8h-0.8zM325.6 314.7h0.8v0.8h-0.8zM347.6 309.9h0.8v0.8h-0.8zM341.5 306.0h0.8v0.8h-0.8zM344.0 318.5h0.8v0.8h-0.8zM326.2 318.7h0.8v0.8h-0.8zM339.7 305.8h0.8v0.8h-0.8zM328.0 318.6h0.8v0.8h-0.8zM343.2 314.0h0.8v0.8h-0.8zM341.6 305.8h0.8v0.8h-0.8zM344.4 317.0h0.8v0.8h-0.8zM340.9 309.1h0.8v0.8h-0.8zM344.6 307.8h0.8v0.8h-0.8zM322.1 314.2h0.8v0.8h-0.8zM324.3 314.2h0.8v0.8h-0.8zM334.8 315.4h0.8v0.8h-0.8zM324.4 323.0h0.8v0.8h-0.8zM337.3 306.9h0.8v0.8h-0.8zM347.7 310.3h0.8v0.8h-0.8zM348.9 309.3h0.8v0.8h-0.8zM326.6 311.2h0.8v0.8h-0.8zM328.9 319.2h0.8v0.8h-0.8zM348.8 313.1h0.8v0.8h-0.8zM338.7 315.6h0.8v0.8h-0.8zM341.4 308.6h0.8v0.8h-0.8zM321.5 307.4h0.8v0.8h-0.8zM326.2 306.6h0.8v0.8h-0.8zM345.5 311.9h0.8v0.8h-0.8zM337.8 311.1h0.8v0.8h-0.8zM337.7 310.3h0.8v0.8h-0.8zM341.9 306.4h0.8v0.8h-0.8zM334.3 315.0h0.8v0.8h-0.8zM333.4 311.7h0.8v0.8h-0.8zM350.5 311.5h0.8v0.8h-0.8zM324.3 307.4h0.8v0.8h-0.8zM338.5 322.3h0.8v0.8h-0.8zM325.5 309.8h0.8v0.8h-0.8zM338.1 322.8h0.8v0.8h-0.8zM342.7 326.9h0.8v0.8h-0.8zM339.9 305.9h0.8v0.8h-0.8zM337.8 316.2h0.8v0.8h-0.8zM333.6 309.5h0.8v0.8h-0.8zM334.8 307.2h0.8v0.8h-0.8zM350.2 315.1h0.8v0.8h-0.8zM344.0 312.5h0.8v0.8h-0.8zM345.6 306.3h0.8v0.8h-0.8zM342.9 315.3h0.8v0.8h-0.8zM328.3 306.8h0.8v0.8h-0.8zM328.1 306.7h0.8v0.8h-0.8zM327.5 315.3h0.8v0.8h-0.8zM322.4 318.6h0.8v0.8h-0.8zM347.3 326.1h0.8v0.8h-0.8zM349.2 318.9h0.8v0.8h-0.8zM340.2 318.3h0.8v0.8h-0.8zM335.6 325.5h0.8v0.8h-0.8zM346.7 322.5h0.8v0.8h-0.8zM341.1 309.3h0.8v0.8h-0.8zM344.6 308.0h0.8v0.8h-0.8zM337.7 308.9h0.8v0.8h-0.8zM340.0 307.9h0.8v0.8h-0.8zM338.9 311.3h0.8v0.8h-0.8zM349.7 305.9h0.8v0.8h-0.8zM349.5 324.0h0.8v0.8h-0.8zM341.8 315.2h0.8v0.8h-0.8zM336.1 309.3h0.8v0.8h-0.8zM326.0 312.7h0.8v0.8h-0.8zM327.5 309.2h0.8v0.8h-0.8zM347.9 318.7h0.8v0.8h-0.8zM338.8 321.0h0.8v0.8h-0.8zM347.8 318.1h0.8v0.8h-0.8zM335.6 315.0h0.8v0.8h-0.8zM329.6 313.4h0.8v0.8h-0.8zM346.0 308.9h0.8v0.8h-0.8zM323.2 311.4h0.8v0.8h-0.8zM334.8 312.4h0.8v0.8h-0.8zM338.2 337.0h0.8v0.8h-0.8zM333.0 309.0h0.8v0.8h-0.8zM349.4 317.3h0.8v0.8h-0.8zM338.8 308.9h0.8v0.8h-0.8zM328.2 308.3h0.8v0.8h-0.8zM344.2 316.7h0.8v0.8h-0.8zM348.5 316.5h0.8v0.8h-0.8zM338.4 316.3h0.8v0.8h-0.8zM326.2 309.0h0.8v0.8h-0.8zM327.7 306.4h0.8v0.8h-0.8zM350.0 309.4h0.8v0.8h-0.8zM335.2 309.2h0.8v0.8h-0.8zM323.8 311.1h0.8v0.8h-0.8zM328.8 310.0h0.8v0.8h-0.8zM340.8 307.0h0.8v0.8h-0.8zM342.9 306.2h0.8v0.8h-0.8zM339.3 315.9h0.8v0.8h-0.8zM322.0 306.4h0.8v0.8h-0.8zM332.8 314.4h0.8v0.8h-0.8zM350.3 306.8h0.8v0.8h-0.8zM332.5 315.8h0.8v0.8h-0.8zM345.1 320.5h0.8v0.8h-0.8zM336.8 324.8h0.8v0.8h-0.8z" fill="#000" fill-opacity="0.18"/>
<polygon points="318.40,305.00 317.56,305.52 316.82,306.11 316.09,306.72 315.39,307.34 314.69,307.96 314.00,308.59 313.31,309.23 312.63,309.87 311.95,310.51 311.28,311.15 310.60,311.80 309.94,312.44 309.27,313.09 308.61,313.75 307.94,314.40 307.32,315.08 306.77,315.82 306.24,316.57 305.72,317.33 305.21,318.09 304.71,318.87 304.22,319.66 303.76,320.46 303.31,321.27 302.87,322.10 302.47,322.94 302.10,323.81 301.77,324.72 301.54,325.70 301.81,327.05 301.81,327.05 303.19,326.93 304.06,326.44 304.84,325.88 305.57,325.28 306.28,324.65 306.95,324.01 307.61,323.35 308.24,322.68 308.87,322.00 309.47,321.31 310.07,320.60 310.65,319.89 311.23,319.17 311.79,318.44 312.27,317.65 312.71,316.83 313.15,316.02 313.59,315.20 314.03,314.37 314.46,313.55 314.90,312.72 315.32,311.89 315.75,311.06 316.17,310.23 316.58,309.39 316.99,308.54 317.39,307.69 317.77,306.83 318.13,305.95 318.40,305.00" fill="#0a0a0a" filter="url(#bl)"/>
<path d="M305.7 320.5h0.9v0.9h-0.9zM303.2 325.6h0.9v0.9h-0.9zM302.9 323.8h0.9v0.9h-0.9zM304.6 320.7h0.9v0.9h-0.9zM301.7 327.3h0.9v0.9h-0.9zM308.1 320.3h0.9v0.9h-0.9zM310.1 319.4h0.9v0.9h-0.9zM317.8 307.0h0.9v0.9h-0.9zM313.7 311.5h0.9v0.9h-0.9zM298.8 325.2h0.9v0.9h-0.9zM301.7 328.8h0.9v0.9h-0.9zM301.0 327.3h0.9v0.9h-0.9zM301.5 324.4h0.9v0.9h-0.9zM311.5 311.8h0.9v0.9h-0.9zM298.5 330.5h0.9v0.9h-0.9zM313.7 311.9h0.9v0.9h-0.9zM297.4 329.1h0.9v0.9h-0.9zM301.9 327.2h0.9v0.9h-0.9zM316.6 308.0h0.9v0.9h-0.9zM312.2 315.7h0.9v0.9h-0.9zM310.1 319.1h0.9v0.9h-0.9zM306.7 319.0h0.9v0.9h-0.9zM308.6 318.2h0.9v0.9h-0.9zM301.7 325.3h0.9v0.9h-0.9zM303.2 322.4h0.9v0.9h-0.9zM304.6 318.1h0.9v0.9h-0.9zM313.8 311.9h0.9v0.9h-0.9zM310.6 314.0h0.9v0.9h-0.9zM308.3 323.3h0.9v0.9h-0.9zM301.5 337.8h0.9v0.9h-0.9zM301.1 325.7h0.9v0.9h-0.9zM317.6 305.8h0.9v0.9h-0.9zM296.8 336.9h0.9v0.9h-0.9zM294.6 331.5h0.9v0.9h-0.9zM317.1 308.1h0.9v0.9h-0.9zM301.7 323.4h0.9v0.9h-0.9zM309.2 316.0h0.9v0.9h-0.9zM308.2 318.9h0.9v0.9h-0.9zM306.1 326.7h0.9v0.9h-0.9zM297.2 331.6h0.9v0.9h-0.9zM313.7 311.4h0.9v0.9h-0.9zM299.3 330.2h0.9v0.9h-0.9zM299.9 329.7h0.9v0.9h-0.9zM308.1 320.1h0.9v0.9h-0.9zM306.7 320.6h0.9v0.9h-0.9zM306.5 319.0h0.9v0.9h-0.9zM313.0 310.0h0.9v0.9h-0.9zM308.3 319.2h0.9v0.9h-0.9zM307.5 319.8h0.9v0.9h-0.9zM317.7 305.6h0.9v0.9h-0.9zM315.3 307.9h0.9v0.9h-0.9zM299.9 330.6h0.9v0.9h-0.9zM303.9 323.7h0.9v0.9h-0.9zM311.4 313.6h0.9v0.9h-0.9zM305.9 320.2h0.9v0.9h-0.9zM305.1 325.7h0.9v0.9h-0.9zM303.2 320.9h0.9v0.9h-0.9zM304.2 322.5h0.9v0.9h-0.9zM318.7 306.2h0.9v0.9h-0.9zM303.0 323.2h0.9v0.9h-0.9zM306.5 318.0h0.9v0.9h-0.9zM314.4 307.3h0.9v0.9h-0.9zM306.2 317.5h0.9v0.9h-0.9zM314.5 309.9h0.9v0.9h-0.9zM298.9 325.3h0.9v0.9h-0.9zM304.7 318.6h0.9v0.9h-0.9zM305.9 321.6h0.9v0.9h-0.9zM315.8 307.3h0.9v0.9h-0.9zM306.0 322.0h0.9v0.9h-0.9zM298.6 330.9h0.9v0.9h-0.9zM311.6 312.9h0.9v0.9h-0.9zM310.4 320.3h0.9v0.9h-0.9zM307.4 318.8h0.9v0.9h-0.9zM301.4 326.9h0.9v0.9h-0.9zM317.2 308.5h0.9v0.9h-0.9zM316.0 307.7h0.9v0.9h-0.9zM315.3 308.9h0.9v0.9h-0.9zM316.4 306.4h0.9v0.9h-0.9zM309.7 314.2h0.9v0.9h-0.9zM315.0 310.3h0.9v0.9h-0.9zM308.6 319.9h0.9v0.9h-0.9zM301.4 328.8h0.9v0.9h-0.9zM304.3 324.1h0.9v0.9h-0.9zM304.6 323.1h0.9v0.9h-0.9zM303.2 324.0h0.9v0.9h-0.9zM305.6 319.6h0.9v0.9h-0.9zM314.6 309.4h0.9v0.9h-0.9zM302.3 325.3h0.9v0.9h-0.9zM303.7 324.3h0.9v0.9h-0.9zM308.2 319.0h0.9v0.9h-0.9zM306.6 320.7h0.9v0.9h-0.9zM315.4 311.0h0.9v0.9h-0.9zM300.1 325.8h0.9v0.9h-0.9zM297.5 333.2h0.9v0.9h-0.9zM306.8 326.0h0.9v0.9h-0.9zM315.8 311.0h0.9v0.9h-0.9zM315.6 310.5h0.9v0.9h-0.9zM310.9 314.2h0.9v0.9h-0.9zM303.5 331.6h0.9v0.9h-0.9zM308.9 320.4h0.9v0.9h-0.9zM303.2 324.8h0.9v0.9h-0.9zM301.8 323.7h0.9v0.9h-0.9zM303.5 326.4h0.9v0.9h-0.9zM301.7 323.8h0.9v0.9h-0.9zM311.9 308.0h0.9v0.9h-0.9zM301.9 324.2h0.9v0.9h-0.9zM306.6 318.4h0.9v0.9h-0.9zM305.1 322.3h0.9v0.9h-0.9zM308.7 318.0h0.9v0.9h-0.9zM305.8 319.1h0.9v0.9h-0.9zM313.0 309.4h0.9v0.9h-0.9zM314.9 307.4h0.9v0.9h-0.9zM308.8 317.2h0.9v0.9h-0.9zM315.6 309.0h0.9v0.9h-0.9zM312.7 316.0h0.9v0.9h-0.9zM295.5 329.7h0.9v0.9h-0.9zM306.2 326.8h0.9v0.9h-0.9zM317.1 306.3h0.9v0.9h-0.9zM313.8 311.5h0.9v0.9h-0.9zM302.1 324.6h0.9v0.9h-0.9zM305.9 323.6h0.9v0.9h-0.9zM305.3 325.2h0.9v0.9h-0.9zM314.8 310.8h0.9v0.9h-0.9zM302.7 320.4h0.9v0.9h-0.9zM317.8 307.6h0.9v0.9h-0.9zM304.0 324.9h0.9v0.9h-0.9zM300.8 326.1h0.9v0.9h-0.9zM310.1 316.3h0.9v0.9h-0.9zM304.1 326.4h0.9v0.9h-0.9zM304.3 323.7h0.9v0.9h-0.9zM307.7 319.5h0.9v0.9h-0.9zM303.7 326.0h0.9v0.9h-0.9zM302.4 328.5h0.9v0.9h-0.9zM302.9 324.8h0.9v0.9h-0.9zM297.7 330.5h0.9v0.9h-0.9zM304.5 326.3h0.9v0.9h-0.9zM297.4 331.2h0.9v0.9h-0.9zM313.6 310.6h0.9v0.9h-0.9zM316.5 308.6h0.9v0.9h-0.9zM308.5 316.9h0.9v0.9h-0.9zM305.0 324.0h0.9v0.9h-0.9zM303.3 324.4h0.9v0.9h-0.9zM317.9 305.9h0.9v0.9h-0.9zM303.9 325.8h0.9v0.9h-0.9zM301.5 331.7h0.9v0.9h-0.9zM307.5 326.5h0.9v0.9h-0.9zM306.5 321.4h0.9v0.9h-0.9zM302.1 332.0h0.9v0.9h-0.9zM306.2 322.7h0.9v0.9h-0.9zM310.2 316.7h0.9v0.9h-0.9zM301.4 326.4h0.9v0.9h-0.9zM315.4 309.0h0.9v0.9h-0.9zM314.0 310.9h0.9v0.9h-0.9zM301.2 327.9h0.9v0.9h-0.9zM302.8 324.1h0.9v0.9h-0.9zM310.1 316.2h0.9v0.9h-0.9zM312.3 314.5h0.9v0.9h-0.9zM316.7 307.1h0.9v0.9h-0.9zM317.3 307.8h0.9v0.9h-0.9zM307.2 322.7h0.9v0.9h-0.9zM302.5 323.4h0.9v0.9h-0.9zM304.1 324.9h0.9v0.9h-0.9zM307.5 319.8h0.9v0.9h-0.9zM306.7 320.0h0.9v0.9h-0.9zM294.2 333.0h0.9v0.9h-0.9zM306.3 319.3h0.9v0.9h-0.9zM302.3 328.6h0.9v0.9h-0.9zM308.4 319.5h0.9v0.9h-0.9zM309.3 317.6h0.9v0.9h-0.9zM308.2 318.4h0.9v0.9h-0.9zM309.1 315.8h0.9v0.9h-0.9zM296.3 333.2h0.9v0.9h-0.9zM314.3 312.0h0.9v0.9h-0.9zM304.8 321.6h0.9v0.9h-0.9zM308.3 319.4h0.9v0.9h-0.9zM315.5 308.5h0.9v0.9h-0.9zM297.4 334.9h0.9v0.9h-0.9zM309.9 316.9h0.9v0.9h-0.9zM297.1 328.8h0.9v0.9h-0.9zM317.1 306.2h0.9v0.9h-0.9zM314.5 307.6h0.9v0.9h-0.9zM315.6 309.9h0.9v0.9h-0.9zM311.2 316.5h0.9v0.9h-0.9zM304.7 328.4h0.9v0.9h-0.9zM317.2 307.0h0.9v0.9h-0.9zM310.6 315.4h0.9v0.9h-0.9zM312.0 311.1h0.9v0.9h-0.9zM306.9 320.0h0.9v0.9h-0.9zM305.0 325.5h0.9v0.9h-0.9zM303.4 325.9h0.9v0.9h-0.9zM308.3 318.6h0.9v0.9h-0.9zM300.3 327.7h0.9v0.9h-0.9zM308.8 318.4h0.9v0.9h-0.9zM317.0 306.8h0.9v0.9h-0.9zM317.8 307.9h0.9v0.9h-0.9zM316.4 307.2h0.9v0.9h-0.9zM306.3 321.3h0.9v0.9h-0.9zM316.1 307.4h0.9v0.9h-0.9zM304.9 322.3h0.9v0.9h-0.9zM315.3 308.9h0.9v0.9h-0.9zM316.8 308.4h0.9v0.9h-0.9zM302.2 324.8h0.9v0.9h-0.9zM297.5 327.2h0.9v0.9h-0.9zM305.2 326.5h0.9v0.9h-0.9zM301.1 324.7h0.9v0.9h-0.9zM302.8 327.4h0.9v0.9h-0.9zM301.2 323.6h0.9v0.9h-0.9zM313.4 309.9h0.9v0.9h-0.9zM310.3 314.7h0.9v0.9h-0.9zM302.3 327.2h0.9v0.9h-0.9zM300.6 329.8h0.9v0.9h-0.9zM304.7 321.8h0.9v0.9h-0.9zM302.3 326.6h0.9v0.9h-0.9zM308.7 321.2h0.9v0.9h-0.9zM302.4 321.5h0.9v0.9h-0.9zM300.7 325.6h0.9v0.9h-0.9zM312.9 312.9h0.9v0.9h-0.9zM303.5 323.8h0.9v0.9h-0.9zM306.8 317.4h0.9v0.9h-0.9zM305.3 325.5h0.9v0.9h-0.9zM296.9 333.9h0.9v0.9h-0.9zM302.0 329.1h0.9v0.9h-0.9zM304.6 320.0h0.9v0.9h-0.9zM310.7 317.2h0.9v0.9h-0.9zM303.0 321.2h0.9v0.9h-0.9zM301.2 329.2h0.9v0.9h-0.9zM304.2 328.5h0.9v0.9h-0.9zM294.6 334.3h0.9v0.9h-0.9zM311.9 315.5h0.9v0.9h-0.9zM296.3 332.6h0.9v0.9h-0.9zM314.6 310.8h0.9v0.9h-0.9zM311.6 311.1h0.9v0.9h-0.9zM316.8 306.7h0.9v0.9h-0.9zM306.2 320.4h0.9v0.9h-0.9zM304.3 320.9h0.9v0.9h-0.9zM301.6 323.5h0.9v0.9h-0.9zM308.0 317.9h0.9v0.9h-0.9zM301.7 321.9h0.9v0.9h-0.9zM317.4 308.3h0.9v0.9h-0.9zM311.5 316.1h0.9v0.9h-0.9zM304.9 323.9h0.9v0.9h-0.9zM313.0 313.3h0.9v0.9h-0.9zM303.1 326.9h0.9v0.9h-0.9zM297.2 332.1h0.9v0.9h-0.9zM307.4 320.5h0.9v0.9h-0.9zM305.1 322.1h0.9v0.9h-0.9zM302.4 324.6h0.9v0.9h-0.9zM302.1 328.8h0.9v0.9h-0.9zM298.5 331.6h0.9v0.9h-0.9zM306.4 319.5h0.9v0.9h-0.9zM313.2 312.4h0.9v0.9h-0.9zM298.4 327.7h0.9v0.9h-0.9zM306.0 317.8h0.9v0.9h-0.9zM298.7 337.6h0.9v0.9h-0.9zM304.9 324.8h0.9v0.9h-0.9zM305.5 320.5h0.9v0.9h-0.9zM303.9 324.1h0.9v0.9h-0.9zM303.9 323.7h0.9v0.9h-0.9zM298.8 332.3h0.9v0.9h-0.9zM303.7 325.1h0.9v0.9h-0.9zM302.3 329.7h0.9v0.9h-0.9zM300.8 326.0h0.9v0.9h-0.9zM310.6 316.3h0.9v0.9h-0.9zM312.7 312.4h0.9v0.9h-0.9zM302.9 327.8h0.9v0.9h-0.9zM309.5 315.6h0.9v0.9h-0.9zM297.3 331.6h0.9v0.9h-0.9zM297.8 332.4h0.9v0.9h-0.9zM307.1 320.7h0.9v0.9h-0.9zM291.6 331.8h0.9v0.9h-0.9zM316.3 306.9h0.9v0.9h-0.9zM306.1 322.0h0.9v0.9h-0.9zM308.7 319.0h0.9v0.9h-0.9zM302.6 321.9h0.9v0.9h-0.9zM314.6 309.2h0.9v0.9h-0.9zM299.4 331.0h0.9v0.9h-0.9zM316.4 306.9h0.9v0.9h-0.9zM313.7 312.3h0.9v0.9h-0.9zM311.3 314.5h0.9v0.9h-0.9zM309.2 316.8h0.9v0.9h-0.9zM315.3 309.7h0.9v0.9h-0.9zM317.1 307.1h0.9v0.9h-0.9zM299.0 331.5h0.9v0.9h-0.9zM312.3 314.8h0.9v0.9h-0.9zM314.9 308.0h0.9v0.9h-0.9zM302.2 326.7h0.9v0.9h-0.9zM303.6 327.5h0.9v0.9h-0.9zM299.8 331.4h0.9v0.9h-0.9zM314.6 312.4h0.9v0.9h-0.9zM302.6 324.4h0.9v0.9h-0.9zM305.1 323.1h0.9v0.9h-0.9zM306.8 322.5h0.9v0.9h-0.9zM304.8 325.9h0.9v0.9h-0.9zM316.5 307.9h0.9v0.9h-0.9zM301.9 327.6h0.9v0.9h-0.9zM311.6 316.0h0.9v0.9h-0.9zM302.8 328.0h0.9v0.9h-0.9zM299.9 332.2h0.9v0.9h-0.9zM312.8 314.0h0.9v0.9h-0.9zM302.4 328.7h0.9v0.9h-0.9zM313.3 314.3h0.9v0.9h-0.9zM312.5 310.1h0.9v0.9h-0.9zM304.3 321.5h0.9v0.9h-0.9zM314.2 308.7h0.9v0.9h-0.9zM305.1 321.6h0.9v0.9h-0.9zM313.6 310.5h0.9v0.9h-0.9zM306.2 327.6h0.9v0.9h-0.9zM309.4 318.6h0.9v0.9h-0.9zM304.6 325.1h0.9v0.9h-0.9zM300.0 327.4h0.9v0.9h-0.9zM305.6 324.2h0.9v0.9h-0.9zM310.6 318.9h0.9v0.9h-0.9zM317.1 306.5h0.9v0.9h-0.9zM301.9 328.1h0.9v0.9h-0.9zM315.5 309.3h0.9v0.9h-0.9zM308.7 324.1h0.9v0.9h-0.9zM304.2 326.5h0.9v0.9h-0.9zM314.2 310.0h0.9v0.9h-0.9zM297.0 333.7h0.9v0.9h-0.9zM314.9 308.9h0.9v0.9h-0.9zM297.5 328.8h0.9v0.9h-0.9zM298.7 327.7h0.9v0.9h-0.9zM302.6 329.1h0.9v0.9h-0.9zM304.4 325.7h0.9v0.9h-0.9zM304.2 325.4h0.9v0.9h-0.9zM299.4 332.5h0.9v0.9h-0.9zM316.1 309.6h0.9v0.9h-0.9zM304.4 321.0h0.9v0.9h-0.9zM302.2 326.6h0.9v0.9h-0.9zM304.9 321.0h0.9v0.9h-0.9zM309.3 322.3h0.9v0.9h-0.9zM295.3 331.2h0.9v0.9h-0.9zM312.8 313.6h0.9v0.9h-0.9zM303.5 323.5h0.9v0.9h-0.9zM305.4 318.6h0.9v0.9h-0.9zM306.5 321.1h0.9v0.9h-0.9zM307.5 317.1h0.9v0.9h-0.9zM312.6 310.1h0.9v0.9h-0.9zM293.3 333.8h0.9v0.9h-0.9zM296.3 329.5h0.9v0.9h-0.9zM305.3 325.0h0.9v0.9h-0.9zM301.5 323.2h0.9v0.9h-0.9zM313.1 310.6h0.9v0.9h-0.9zM306.6 324.9h0.9v0.9h-0.9zM306.1 319.9h0.9v0.9h-0.9zM297.7 330.2h0.9v0.9h-0.9zM298.6 326.7h0.9v0.9h-0.9zM310.6 311.7h0.9v0.9h-0.9zM306.9 323.3h0.9v0.9h-0.9zM299.9 329.4h0.9v0.9h-0.9zM307.9 324.3h0.9v0.9h-0.9zM315.4 307.2h0.9v0.9h-0.9zM296.9 329.4h0.9v0.9h-0.9zM305.1 327.5h0.9v0.9h-0.9zM308.7 318.9h0.9v0.9h-0.9zM314.2 310.5h0.9v0.9h-0.9zM316.9 307.3h0.9v0.9h-0.9zM301.4 328.1h0.9v0.9h-0.9zM311.1 315.3h0.9v0.9h-0.9zM305.8 326.3h0.9v0.9h-0.9zM315.8 308.1h0.9v0.9h-0.9zM310.8 316.1h0.9v0.9h-0.9zM314.9 308.3h0.9v0.9h-0.9zM303.3 325.0h0.9v0.9h-0.9zM301.0 321.8h0.9v0.9h-0.9zM297.0 334.6h0.9v0.9h-0.9zM308.3 319.3h0.9v0.9h-0.9zM315.6 306.7h0.9v0.9h-0.9zM304.8 323.2h0.9v0.9h-0.9zM306.3 323.1h0.9v0.9h-0.9zM300.6 329.6h0.9v0.9h-0.9zM305.3 323.3h0.9v0.9h-0.9zM316.7 308.8h0.9v0.9h-0.9zM312.2 312.8h0.9v0.9h-0.9zM306.9 321.6h0.9v0.9h-0.9zM305.3 327.6h0.9v0.9h-0.9zM294.3 333.7h0.9v0.9h-0.9zM300.2 332.5h0.9v0.9h-0.9zM317.2 305.7h0.9v0.9h-0.9zM316.4 308.1h0.9v0.9h-0.9zM301.5 323.5h0.9v0.9h-0.9zM304.6 318.7h0.9v0.9h-0.9zM308.5 319.4h0.9v0.9h-0.9zM303.2 322.3h0.9v0.9h-0.9zM302.9 325.3h0.9v0.9h-0.9zM316.6 304.6h0.9v0.9h-0.9zM315.2 309.9h0.9v0.9h-0.9zM303.0 327.8h0.9v0.9h-0.9zM304.1 320.1h0.9v0.9h-0.9zM301.6 326.4h0.9v0.9h-0.9zM303.1 325.4h0.9v0.9h-0.9zM308.2 316.3h0.9v0.9h-0.9zM304.0 329.1h0.9v0.9h-0.9zM315.6 310.1h0.9v0.9h-0.9zM302.8 320.7h0.9v0.9h-0.9zM302.6 322.1h0.9v0.9h-0.9zM312.3 311.5h0.9v0.9h-0.9zM300.0 324.3h0.9v0.9h-0.9zM297.3 328.7h0.9v0.9h-0.9zM315.1 308.0h0.9v0.9h-0.9zM304.4 316.4h0.9v0.9h-0.9zM306.1 324.2h0.9v0.9h-0.9zM308.1 321.3h0.9v0.9h-0.9zM312.0 312.4h0.9v0.9h-0.9zM315.9 308.9h0.9v0.9h-0.9zM308.8 317.4h0.9v0.9h-0.9zM309.8 317.7h0.9v0.9h-0.9zM311.8 314.0h0.9v0.9h-0.9zM311.6 314.2h0.9v0.9h-0.9zM306.2 320.9h0.9v0.9h-0.9zM315.6 306.5h0.9v0.9h-0.9zM312.8 314.0h0.9v0.9h-0.9zM306.0 318.0h0.9v0.9h-0.9zM304.9 322.0h0.9v0.9h-0.9zM303.9 325.3h0.9v0.9h-0.9zM316.9 307.2h0.9v0.9h-0.9zM301.8 329.5h0.9v0.9h-0.9zM303.0 324.3h0.9v0.9h-0.9zM315.9 308.8h0.9v0.9h-0.9zM299.7 330.9h0.9v0.9h-0.9zM317.9 306.8h0.9v0.9h-0.9zM305.4 323.2h0.9v0.9h-0.9zM301.7 323.9h0.9v0.9h-0.9zM316.2 307.3h0.9v0.9h-0.9zM304.3 327.3h0.9v0.9h-0.9zM309.2 320.3h0.9v0.9h-0.9zM303.3 323.4h0.9v0.9h-0.9zM315.0 310.3h0.9v0.9h-0.9zM307.0 319.2h0.9v0.9h-0.9zM302.1 324.6h0.9v0.9h-0.9zM299.7 326.6h0.9v0.9h-0.9zM303.1 324.6h0.9v0.9h-0.9zM307.4 314.9h0.9v0.9h-0.9zM310.4 315.9h0.9v0.9h-0.9zM315.5 309.7h0.9v0.9h-0.9zM305.8 323.3h0.9v0.9h-0.9zM295.8 337.3h0.9v0.9h-0.9zM316.1 308.0h0.9v0.9h-0.9zM304.9 326.6h0.9v0.9h-0.9zM296.2 332.8h0.9v0.9h-0.9zM298.8 329.2h0.9v0.9h-0.9zM309.2 317.5h0.9v0.9h-0.9zM306.1 324.3h0.9v0.9h-0.9zM301.3 324.3h0.9v0.9h-0.9zM317.3 305.0h0.9v0.9h-0.9zM299.7 331.2h0.9v0.9h-0.9zM303.3 325.3h0.9v0.9h-0.9zM308.2 319.7h0.9v0.9h-0.9zM318.1 306.8h0.9v0.9h-0.9zM298.3 335.1h0.9v0.9h-0.9zM293.9 334.2h0.9v0.9h-0.9zM306.9 324.3h0.9v0.9h-0.9zM316.4 310.5h0.9v0.9h-0.9zM311.1 315.7h0.9v0.9h-0.9zM308.1 316.9h0.9v0.9h-0.9zM314.7 311.8h0.9v0.9h-0.9zM307.8 319.1h0.9v0.9h-0.9zM310.1 316.6h0.9v0.9h-0.9zM296.0 333.8h0.9v0.9h-0.9zM305.4 325.7h0.9v0.9h-0.9zM312.5 313.3h0.9v0.9h-0.9zM297.9 330.6h0.9v0.9h-0.9zM304.8 322.4h0.9v0.9h-0.9zM312.5 311.1h0.9v0.9h-0.9zM306.5 321.0h0.9v0.9h-0.9zM306.8 322.2h0.9v0.9h-0.9zM305.6 325.7h0.9v0.9h-0.9zM301.4 326.4h0.9v0.9h-0.9zM317.0 305.6h0.9v0.9h-0.9zM300.2 323.9h0.9v0.9h-0.9zM313.2 312.6h0.9v0.9h-0.9zM305.9 321.9h0.9v0.9h-0.9zM314.8 311.6h0.9v0.9h-0.9zM305.2 318.7h0.9v0.9h-0.9zM306.8 323.0h0.9v0.9h-0.9zM302.4 325.1h0.9v0.9h-0.9zM315.9 308.9h0.9v0.9h-0.9zM296.6 337.7h0.9v0.9h-0.9zM297.5 335.0h0.9v0.9h-0.9zM301.5 328.7h0.9v0.9h-0.9zM302.1 329.7h0.9v0.9h-0.9zM313.9 310.5h0.9v0.9h-0.9zM312.1 313.5h0.9v0.9h-0.9zM306.2 321.0h0.9v0.9h-0.9zM308.1 319.8h0.9v0.9h-0.9zM308.2 319.7h0.9v0.9h-0.9zM301.4 325.6h0.9v0.9h-0.9zM300.5 330.1h0.9v0.9h-0.9zM309.3 317.3h0.9v0.9h-0.9zM307.8 318.5h0.9v0.9h-0.9zM303.5 324.9h0.9v0.9h-0.9zM313.9 312.3h0.9v0.9h-0.9zM296.8 326.4h0.9v0.9h-0.9zM302.3 321.1h0.9v0.9h-0.9zM309.2 317.7h0.9v0.9h-0.9zM300.7 327.5h0.9v0.9h-0.9zM308.1 326.9h0.9v0.9h-0.9zM311.9 313.0h0.9v0.9h-0.9zM308.0 318.0h0.9v0.9h-0.9zM313.7 314.6h0.9v0.9h-0.9zM299.1 329.1h0.9v0.9h-0.9zM310.0 313.9h0.9v0.9h-0.9zM310.9 314.9h0.9v0.9h-0.9zM316.6 307.3h0.9v0.9h-0.9zM312.1 314.9h0.9v0.9h-0.9zM306.1 330.0h0.9v0.9h-0.9zM310.5 316.1h0.9v0.9h-0.9zM311.9 312.8h0.9v0.9h-0.9zM304.3 325.4h0.9v0.9h-0.9zM300.8 330.9h0.9v0.9h-0.9zM303.7 325.4h0.9v0.9h-0.9zM316.7 308.1h0.9v0.9h-0.9zM313.8 312.8h0.9v0.9h-0.9zM302.3 323.8h0.9v0.9h-0.9zM302.8 323.5h0.9v0.9h-0.9zM308.5 319.5h0.9v0.9h-0.9zM315.2 310.7h0.9v0.9h-0.9zM307.0 319.0h0.9v0.9h-0.9zM305.9 319.9h0.9v0.9h-0.9zM302.4 328.3h0.9v0.9h-0.9zM312.1 316.1h0.9v0.9h-0.9zM316.0 309.5h0.9v0.9h-0.9zM309.5 319.7h0.9v0.9h-0.9zM308.0 317.6h0.9v0.9h-0.9zM308.5 315.9h0.9v0.9h-0.9zM311.0 315.7h0.9v0.9h-0.9zM308.0 319.7h0.9v0.9h-0.9zM308.3 317.9h0.9v0.9h-0.9zM312.4 315.4h0.9v0.9h-0.9zM307.5 321.2h0.9v0.9h-0.9zM309.4 313.4h0.9v0.9h-0.9zM301.4 324.4h0.9v0.9h-0.9zM302.4 323.7h0.9v0.9h-0.9zM303.3 327.5h0.9v0.9h-0.9zM296.4 328.4h0.9v0.9h-0.9zM317.4 305.4h0.9v0.9h-0.9zM304.6 324.7h0.9v0.9h-0.9zM304.6 321.7h0.9v0.9h-0.9zM316.6 305.1h0.9v0.9h-0.9zM316.3 306.2h0.9v0.9h-0.9zM315.2 308.4h0.9v0.9h-0.9zM312.3 310.1h0.9v0.9h-0.9zM303.7 321.6h0.9v0.9h-0.9zM302.7 327.3h0.9v0.9h-0.9zM294.9 336.6h0.9v0.9h-0.9zM304.7 325.2h0.9v0.9h-0.9zM308.2 317.7h0.9v0.9h-0.9zM305.6 327.1h0.9v0.9h-0.9zM314.8 309.3h0.9v0.9h-0.9zM300.5 323.9h0.9v0.9h-0.9zM299.4 325.4h0.9v0.9h-0.9zM314.3 309.8h0.9v0.9h-0.9zM307.8 314.1h0.9v0.9h-0.9zM317.7 306.0h0.9v0.9h-0.9zM307.5 320.5h0.9v0.9h-0.9zM306.1 320.0h0.9v0.9h-0.9zM304.1 322.1h0.9v0.9h-0.9zM305.5 325.5h0.9v0.9h-0.9zM300.4 327.3h0.9v0.9h-0.9zM303.6 320.7h0.9v0.9h-0.9zM314.4 311.5h0.9v0.9h-0.9zM310.0 318.0h0.9v0.9h-0.9zM309.7 313.2h0.9v0.9h-0.9zM305.2 322.5h0.9v0.9h-0.9zM309.2 318.1h0.9v0.9h-0.9zM303.7 326.1h0.9v0.9h-0.9zM297.2 336.3h0.9v0.9h-0.9zM309.5 320.7h0.9v0.9h-0.9zM300.6 327.3h0.9v0.9h-0.9zM309.8 315.6h0.9v0.9h-0.9zM300.7 330.0h0.9v0.9h-0.9zM308.8 317.0h0.9v0.9h-0.9zM311.7 315.9h0.9v0.9h-0.9zM305.5 322.9h0.9v0.9h-0.9zM303.6 324.5h0.9v0.9h-0.9zM302.7 329.5h0.9v0.9h-0.9zM306.6 322.0h0.9v0.9h-0.9zM306.6 320.2h0.9v0.9h-0.9zM299.1 333.5h0.9v0.9h-0.9zM307.2 318.0h0.9v0.9h-0.9zM297.8 328.8h0.9v0.9h-0.9zM294.9 332.0h0.9v0.9h-0.9zM299.2 329.8h0.9v0.9h-0.9zM313.4 310.1h0.9v0.9h-0.9zM313.0 311.2h0.9v0.9h-0.9zM312.0 312.8h0.9v0.9h-0.9zM315.7 310.9h0.9v0.9h-0.9zM312.0 311.5h0.9v0.9h-0.9zM297.6 330.3h0.9v0.9h-0.9zM306.4 321.0h0.9v0.9h-0.9zM304.6 325.3h0.9v0.9h-0.9zM302.6 324.4h0.9v0.9h-0.9zM312.7 315.6h0.9v0.9h-0.9zM300.7 330.6h0.9v0.9h-0.9zM304.2 323.7h0.9v0.9h-0.9zM309.0 319.9h0.9v0.9h-0.9zM314.6 310.7h0.9v0.9h-0.9zM303.6 322.4h0.9v0.9h-0.9zM300.1 328.8h0.9v0.9h-0.9zM303.8 328.4h0.9v0.9h-0.9zM316.9 308.8h0.9v0.9h-0.9zM307.2 320.2h0.9v0.9h-0.9zM305.0 325.1h0.9v0.9h-0.9zM312.4 315.4h0.9v0.9h-0.9zM309.1 317.9h0.9v0.9h-0.9zM301.0 329.4h0.9v0.9h-0.9zM307.9 315.3h0.9v0.9h-0.9zM296.1 330.7h0.9v0.9h-0.9zM301.4 323.0h0.9v0.9h-0.9zM315.1 309.0h0.9v0.9h-0.9zM310.8 316.1h0.9v0.9h-0.9zM313.2 311.4h0.9v0.9h-0.9zM303.4 323.0h0.9v0.9h-0.9zM304.0 326.0h0.9v0.9h-0.9zM300.0 334.2h0.9v0.9h-0.9zM315.8 307.2h0.9v0.9h-0.9zM310.7 314.3h0.9v0.9h-0.9zM306.9 321.6h0.9v0.9h-0.9zM316.4 309.1h0.9v0.9h-0.9zM301.3 325.9h0.9v0.9h-0.9zM312.0 314.3h0.9v0.9h-0.9zM310.5 314.1h0.9v0.9h-0.9zM307.6 320.4h0.9v0.9h-0.9zM302.9 323.8h0.9v0.9h-0.9zM298.6 328.1h0.9v0.9h-0.9zM310.6 315.1h0.9v0.9h-0.9zM315.7 308.5h0.9v0.9h-0.9zM314.8 309.2h0.9v0.9h-0.9zM315.7 308.0h0.9v0.9h-0.9zM315.0 310.9h0.9v0.9h-0.9zM296.0 333.0h0.9v0.9h-0.9zM305.0 326.0h0.9v0.9h-0.9zM299.0 329.8h0.9v0.9h-0.9zM303.2 329.5h0.9v0.9h-0.9zM311.2 316.3h0.9v0.9h-0.9zM311.6 314.6h0.9v0.9h-0.9zM312.8 310.3h0.9v0.9h-0.9zM295.3 332.3h0.9v0.9h-0.9zM313.9 309.6h0.9v0.9h-0.9zM306.0 319.5h0.9v0.9h-0.9zM311.1 313.5h0.9v0.9h-0.9zM300.1 322.4h0.9v0.9h-0.9zM307.9 319.1h0.9v0.9h-0.9zM294.2 333.4h0.9v0.9h-0.9zM290.3 340.2h0.9v0.9h-0.9zM306.3 324.4h0.9v0.9h-0.9zM314.4 311.0h0.9v0.9h-0.9zM307.6 320.5h0.9v0.9h-0.9zM306.8 318.3h0.9v0.9h-0.9zM299.8 330.1h0.9v0.9h-0.9zM303.6 325.5h0.9v0.9h-0.9zM312.5 314.9h0.9v0.9h-0.9zM299.4 332.4h0.9v0.9h-0.9zM310.9 316.6h0.9v0.9h-0.9zM301.0 323.2h0.9v0.9h-0.9zM305.7 327.5h0.9v0.9h-0.9zM306.1 320.3h0.9v0.9h-0.9zM297.6 335.4h0.9v0.9h-0.9zM299.9 324.3h0.9v0.9h-0.9zM314.2 312.6h0.9v0.9h-0.9zM296.2 331.5h0.9v0.9h-0.9zM316.5 309.2h0.9v0.9h-0.9zM315.0 309.9h0.9v0.9h-0.9zM306.5 319.8h0.9v0.9h-0.9zM306.2 323.8h0.9v0.9h-0.9zM312.7 310.0h0.9v0.9h-0.9zM318.4 306.0h0.9v0.9h-0.9zM304.2 322.8h0.9v0.9h-0.9zM317.7 305.2h0.9v0.9h-0.9zM317.8 306.0h0.9v0.9h-0.9zM308.3 320.9h0.9v0.9h-0.9zM314.1 311.7h0.9v0.9h-0.9zM306.1 316.5h0.9v0.9h-0.9zM295.0 331.0h0.9v0.9h-0.9zM306.4 319.6h0.9v0.9h-0.9zM307.3 323.5h0.9v0.9h-0.9zM309.8 316.6h0.9v0.9h-0.9zM305.9 319.1h0.9v0.9h-0.9zM307.2 322.3h0.9v0.9h-0.9zM304.2 322.5h0.9v0.9h-0.9zM305.4 325.8h0.9v0.9h-0.9zM317.0 307.9h0.9v0.9h-0.9zM299.1 333.9h0.9v0.9h-0.9zM305.3 322.0h0.9v0.9h-0.9zM307.6 322.0h0.9v0.9h-0.9zM317.2 308.3h0.9v0.9h-0.9zM308.9 320.6h0.9v0.9h-0.9zM300.0 328.2h0.9v0.9h-0.9zM310.3 310.3h0.9v0.9h-0.9zM307.1 322.7h0.9v0.9h-0.9zM293.8 329.1h0.9v0.9h-0.9zM317.0 307.1h0.9v0.9h-0.9zM311.7 313.9h0.9v0.9h-0.9zM305.9 319.2h0.9v0.9h-0.9zM304.3 324.8h0.9v0.9h-0.9zM311.6 316.4h0.9v0.9h-0.9zM312.4 311.5h0.9v0.9h-0.9zM299.7 329.9h0.9v0.9h-0.9zM317.8 305.6h0.9v0.9h-0.9zM304.9 322.5h0.9v0.9h-0.9zM296.7 335.4h0.9v0.9h-0.9zM308.1 316.6h0.9v0.9h-0.9zM308.4 318.1h0.9v0.9h-0.9zM310.5 317.2h0.9v0.9h-0.9zM316.0 307.2h0.9v0.9h-0.9zM302.5 330.3h0.9v0.9h-0.9zM306.6 316.1h0.9v0.9h-0.9zM306.4 316.5h0.9v0.9h-0.9zM300.6 329.9h0.9v0.9h-0.9zM293.7 335.5h0.9v0.9h-0.9zM312.6 313.5h0.9v0.9h-0.9zM307.1 321.7h0.9v0.9h-0.9zM304.5 325.1h0.9v0.9h-0.9zM307.8 327.2h0.9v0.9h-0.9zM312.1 315.8h0.9v0.9h-0.9zM305.2 319.1h0.9v0.9h-0.9zM308.6 318.7h0.9v0.9h-0.9zM307.0 319.8h0.9v0.9h-0.9zM304.6 323.5h0.9v0.9h-0.9zM304.1 320.3h0.9v0.9h-0.9zM300.8 328.1h0.9v0.9h-0.9zM306.0 319.1h0.9v0.9h-0.9zM309.4 318.4h0.9v0.9h-0.9zM297.3 331.4h0.9v0.9h-0.9zM312.5 317.8h0.9v0.9h-0.9zM312.6 312.4h0.9v0.9h-0.9zM306.8 321.9h0.9v0.9h-0.9zM299.2 330.2h0.9v0.9h-0.9zM302.2 323.7h0.9v0.9h-0.9zM307.9 315.4h0.9v0.9h-0.9zM298.6 330.1h0.9v0.9h-0.9zM316.3 308.4h0.9v0.9h-0.9zM315.3 307.2h0.9v0.9h-0.9zM303.6 324.7h0.9v0.9h-0.9zM301.8 329.1h0.9v0.9h-0.9zM302.0 329.0h0.9v0.9h-0.9zM304.4 323.1h0.9v0.9h-0.9zM302.8 325.1h0.9v0.9h-0.9zM305.2 320.3h0.9v0.9h-0.9zM300.9 325.8h0.9v0.9h-0.9zM304.2 326.1h0.9v0.9h-0.9zM315.2 312.1h0.9v0.9h-0.9zM308.4 315.6h0.9v0.9h-0.9zM297.0 333.2h0.9v0.9h-0.9zM294.7 331.8h0.9v0.9h-0.9zM298.3 332.3h0.9v0.9h-0.9zM305.6 320.9h0.9v0.9h-0.9zM305.1 322.0h0.9v0.9h-0.9zM303.9 323.1h0.9v0.9h-0.9zM316.9 306.9h0.9v0.9h-0.9zM302.3 324.5h0.9v0.9h-0.9zM299.5 327.8h0.9v0.9h-0.9zM318.0 306.4h0.9v0.9h-0.9zM314.1 310.2h0.9v0.9h-0.9zM308.5 322.0h0.9v0.9h-0.9zM312.4 313.5h0.9v0.9h-0.9zM313.8 311.3h0.9v0.9h-0.9zM314.2 311.6h0.9v0.9h-0.9zM305.3 324.8h0.9v0.9h-0.9zM302.4 323.3h0.9v0.9h-0.9zM305.3 323.6h0.9v0.9h-0.9zM313.4 310.2h0.9v0.9h-0.9zM298.6 329.3h0.9v0.9h-0.9zM300.6 332.0h0.9v0.9h-0.9zM300.3 326.7h0.9v0.9h-0.9zM308.9 319.0h0.9v0.9h-0.9zM298.9 333.4h0.9v0.9h-0.9zM310.4 316.2h0.9v0.9h-0.9zM302.5 323.1h0.9v0.9h-0.9zM299.4 332.0h0.9v0.9h-0.9zM294.2 330.8h0.9v0.9h-0.9zM300.8 331.0h0.9v0.9h-0.9zM295.2 334.7h0.9v0.9h-0.9zM304.3 320.3h0.9v0.9h-0.9zM307.7 321.8h0.9v0.9h-0.9zM305.4 321.7h0.9v0.9h-0.9zM291.5 334.7h0.9v0.9h-0.9zM313.2 313.9h0.9v0.9h-0.9zM297.5 328.2h0.9v0.9h-0.9zM316.7 307.8h0.9v0.9h-0.9zM311.0 316.8h0.9v0.9h-0.9zM304.6 325.6h0.9v0.9h-0.9zM315.1 308.7h0.9v0.9h-0.9zM306.0 323.3h0.9v0.9h-0.9zM314.6 310.8h0.9v0.9h-0.9zM301.4 324.4h0.9v0.9h-0.9zM314.5 309.4h0.9v0.9h-0.9zM305.7 321.3h0.9v0.9h-0.9zM298.7 325.7h0.9v0.9h-0.9zM310.1 316.7h0.9v0.9h-0.9zM307.8 319.2h0.9v0.9h-0.9zM305.2 318.8h0.9v0.9h-0.9zM301.7 326.2h0.9v0.9h-0.9zM307.9 318.8h0.9v0.9h-0.9zM317.4 306.0h0.9v0.9h-0.9zM304.4 325.3h0.9v0.9h-0.9zM314.3 310.1h0.9v0.9h-0.9zM302.4 331.3h0.9v0.9h-0.9zM305.0 321.6h0.9v0.9h-0.9zM309.1 319.7h0.9v0.9h-0.9zM301.9 324.6h0.9v0.9h-0.9zM306.6 321.4h0.9v0.9h-0.9zM312.7 312.2h0.9v0.9h-0.9zM309.4 313.2h0.9v0.9h-0.9zM303.2 330.2h0.9v0.9h-0.9zM314.7 310.3h0.9v0.9h-0.9zM305.7 324.7h0.9v0.9h-0.9zM303.7 320.9h0.9v0.9h-0.9zM306.3 316.5h0.9v0.9h-0.9zM302.9 322.2h0.9v0.9h-0.9zM305.9 321.0h0.9v0.9h-0.9zM314.7 309.6h0.9v0.9h-0.9zM306.1 322.1h0.9v0.9h-0.9zM301.4 326.9h0.9v0.9h-0.9zM313.2 310.1h0.9v0.9h-0.9zM303.6 329.2h0.9v0.9h-0.9zM307.1 320.8h0.9v0.9h-0.9zM309.5 318.2h0.9v0.9h-0.9zM299.7 327.3h0.9v0.9h-0.9zM317.2 307.8h0.9v0.9h-0.9zM314.5 308.3h0.9v0.9h-0.9zM296.0 330.8h0.9v0.9h-0.9zM316.6 307.4h0.9v0.9h-0.9zM302.8 322.4h0.9v0.9h-0.9zM300.6 323.8h0.9v0.9h-0.9zM304.4 324.4h0.9v0.9h-0.9zM301.4 327.8h0.9v0.9h-0.9zM312.8 311.8h0.9v0.9h-0.9zM295.5 328.9h0.9v0.9h-0.9zM317.7 305.6h0.9v0.9h-0.9zM301.1 325.9h0.9v0.9h-0.9zM312.0 312.7h0.9v0.9h-0.9zM308.7 317.0h0.9v0.9h-0.9zM314.7 312.7h0.9v0.9h-0.9zM304.5 327.2h0.9v0.9h-0.9zM297.9 336.3h0.9v0.9h-0.9zM316.3 308.4h0.9v0.9h-0.9zM303.3 325.9h0.9v0.9h-0.9zM301.4 328.1h0.9v0.9h-0.9zM299.6 326.0h0.9v0.9h-0.9zM302.7 323.2h0.9v0.9h-0.9zM298.1 327.6h0.9v0.9h-0.9zM302.0 325.0h0.9v0.9h-0.9zM312.7 310.2h0.9v0.9h-0.9zM316.2 308.8h0.9v0.9h-0.9zM300.5 325.3h0.9v0.9h-0.9zM298.5 329.8h0.9v0.9h-0.9zM303.9 331.9h0.9v0.9h-0.9zM311.5 313.3h0.9v0.9h-0.9zM303.8 319.0h0.9v0.9h-0.9zM298.7 327.3h0.9v0.9h-0.9zM294.9 331.3h0.9v0.9h-0.9zM303.9 328.6h0.9v0.9h-0.9zM301.3 323.7h0.9v0.9h-0.9zM299.6 332.3h0.9v0.9h-0.9zM304.8 319.6h0.9v0.9h-0.9zM305.5 326.0h0.9v0.9h-0.9zM304.0 321.0h0.9v0.9h-0.9zM308.5 315.8h0.9v0.9h-0.9zM304.5 322.9h0.9v0.9h-0.9zM308.2 316.0h0.9v0.9h-0.9zM300.7 328.9h0.9v0.9h-0.9zM304.4 327.7h0.9v0.9h-0.9zM305.5 325.7h0.9v0.9h-0.9zM300.3 329.2h0.9v0.9h-0.9zM301.1 328.1h0.9v0.9h-0.9zM302.3 325.6h0.9v0.9h-0.9zM300.5 327.0h0.9v0.9h-0.9zM305.5 325.4h0.9v0.9h-0.9zM311.6 313.9h0.9v0.9h-0.9zM317.2 306.6h0.9v0.9h-0.9zM292.8 333.2h0.9v0.9h-0.9zM302.4 327.2h0.9v0.9h-0.9zM305.4 322.1h0.9v0.9h-0.9zM310.0 315.8h0.9v0.9h-0.9zM304.4 325.7h0.9v0.9h-0.9zM310.6 314.6h0.9v0.9h-0.9zM308.8 319.8h0.9v0.9h-0.9zM309.5 315.5h0.9v0.9h-0.9zM313.0 312.2h0.9v0.9h-0.9zM316.3 308.1h0.9v0.9h-0.9zM304.5 329.9h0.9v0.9h-0.9zM301.5 328.1h0.9v0.9h-0.9zM308.8 321.9h0.9v0.9h-0.9zM311.0 317.9h0.9v0.9h-0.9zM313.6 313.1h0.9v0.9h-0.9zM303.2 334.2h0.9v0.9h-0.9zM313.9 309.1h0.9v0.9h-0.9zM300.4 332.6h0.9v0.9h-0.9zM310.8 318.1h0.9v0.9h-0.9zM306.1 324.6h0.9v0.9h-0.9zM310.4 315.5h0.9v0.9h-0.9zM312.7 315.1h0.9v0.9h-0.9zM312.2 314.9h0.9v0.9h-0.9zM311.8 314.4h0.9v0.9h-0.9zM302.8 325.3h0.9v0.9h-0.9zM302.8 328.5h0.9v0.9h-0.9zM311.8 312.5h0.9v0.9h-0.9zM317.0 305.1h0.9v0.9h-0.9zM312.5 316.2h0.9v0.9h-0.9zM316.4 306.0h0.9v0.9h-0.9zM315.0 311.3h0.9v0.9h-0.9zM302.5 329.7h0.9v0.9h-0.9zM314.0 309.9h0.9v0.9h-0.9zM306.7 318.2h0.9v0.9h-0.9zM299.4 331.1h0.9v0.9h-0.9zM317.8 307.1h0.9v0.9h-0.9zM295.2 333.0h0.9v0.9h-0.9zM308.0 318.0h0.9v0.9h-0.9zM303.3 325.9h0.9v0.9h-0.9zM311.6 314.1h0.9v0.9h-0.9zM293.5 335.9h0.9v0.9h-0.9zM308.7 316.8h0.9v0.9h-0.9zM311.1 314.3h0.9v0.9h-0.9zM305.3 325.8h0.9v0.9h-0.9zM296.4 336.8h0.9v0.9h-0.9zM310.7 313.1h0.9v0.9h-0.9zM304.6 325.3h0.9v0.9h-0.9zM316.5 308.2h0.9v0.9h-0.9zM308.8 318.3h0.9v0.9h-0.9zM304.3 323.9h0.9v0.9h-0.9zM313.7 311.0h0.9v0.9h-0.9zM311.8 314.8h0.9v0.9h-0.9zM299.9 327.8h0.9v0.9h-0.9zM315.1 310.1h0.9v0.9h-0.9zM300.6 331.9h0.9v0.9h-0.9zM305.3 320.8h0.9v0.9h-0.9zM307.0 317.8h0.9v0.9h-0.9zM305.1 327.2h0.9v0.9h-0.9zM314.1 311.1h0.9v0.9h-0.9zM305.7 324.6h0.9v0.9h-0.9zM308.7 315.4h0.9v0.9h-0.9zM315.9 309.5h0.9v0.9h-0.9zM317.4 305.0h0.9v0.9h-0.9zM302.7 325.4h0.9v0.9h-0.9zM314.4 309.5h0.9v0.9h-0.9zM315.1 311.2h0.9v0.9h-0.9zM314.5 311.8h0.9v0.9h-0.9zM298.4 334.1h0.9v0.9h-0.9zM307.8 318.6h0.9v0.9h-0.9zM313.9 310.6h0.9v0.9h-0.9zM306.5 323.2h0.9v0.9h-0.9zM303.7 326.2h0.9v0.9h-0.9zM302.0 326.1h0.9v0.9h-0.9zM299.2 324.6h0.9v0.9h-0.9zM309.4 320.0h0.9v0.9h-0.9zM315.5 306.8h0.9v0.9h-0.9zM303.8 320.6h0.9v0.9h-0.9zM302.7 326.4h0.9v0.9h-0.9zM301.7 324.8h0.9v0.9h-0.9zM309.0 318.3h0.9v0.9h-0.9zM303.0 324.0h0.9v0.9h-0.9zM316.2 309.3h0.9v0.9h-0.9zM316.0 309.7h0.9v0.9h-0.9zM299.7 328.6h0.9v0.9h-0.9zM311.4 316.9h0.9v0.9h-0.9zM299.9 326.8h0.9v0.9h-0.9zM306.1 323.2h0.9v0.9h-0.9zM312.5 311.5h0.9v0.9h-0.9zM297.5 330.8h0.9v0.9h-0.9zM300.2 329.8h0.9v0.9h-0.9zM302.8 324.9h0.9v0.9h-0.9zM309.0 319.8h0.9v0.9h-0.9zM315.7 307.9h0.9v0.9h-0.9zM311.4 312.8h0.9v0.9h-0.9zM311.0 317.9h0.9v0.9h-0.9zM312.1 311.6h0.9v0.9h-0.9zM300.2 335.6h0.9v0.9h-0.9zM307.7 320.2h0.9v0.9h-0.9zM316.3 307.8h0.9v0.9h-0.9zM301.1 329.5h0.9v0.9h-0.9zM316.0 307.1h0.9v0.9h-0.9zM302.9 331.2h0.9v0.9h-0.9zM301.8 325.5h0.9v0.9h-0.9zM304.2 326.6h0.9v0.9h-0.9zM315.4 308.3h0.9v0.9h-0.9zM305.5 323.5h0.9v0.9h-0.9zM305.6 320.1h0.9v0.9h-0.9zM303.1 321.9h0.9v0.9h-0.9zM304.6 323.1h0.9v0.9h-0.9zM314.8 311.8h0.9v0.9h-0.9zM302.2 329.1h0.9v0.9h-0.9zM314.9 309.3h0.9v0.9h-0.9zM303.9 328.2h0.9v0.9h-0.9zM311.9 314.0h0.9v0.9h-0.9zM316.5 307.1h0.9v0.9h-0.9zM307.9 319.5h0.9v0.9h-0.9zM302.4 331.0h0.9v0.9h-0.9zM301.3 327.6h0.9v0.9h-0.9zM305.1 320.8h0.9v0.9h-0.9zM297.5 330.4h0.9v0.9h-0.9zM298.6 331.3h0.9v0.9h-0.9zM314.6 311.7h0.9v0.9h-0.9zM303.1 330.1h0.9v0.9h-0.9zM308.9 322.1h0.9v0.9h-0.9zM304.2 323.4h0.9v0.9h-0.9zM305.2 321.5h0.9v0.9h-0.9zM310.2 316.9h0.9v0.9h-0.9zM304.5 324.1h0.9v0.9h-0.9zM304.7 321.8h0.9v0.9h-0.9zM298.8 329.6h0.9v0.9h-0.9zM304.8 323.6h0.9v0.9h-0.9zM317.0 307.1h0.9v0.9h-0.9zM313.2 312.1h0.9v0.9h-0.9zM302.5 323.0h0.9v0.9h-0.9zM305.5 323.2h0.9v0.9h-0.9zM310.4 319.1h0.9v0.9h-0.9zM295.3 336.8h0.9v0.9h-0.9zM317.3 308.8h0.9v0.9h-0.9zM317.7 309.2h0.9v0.9h-0.9zM296.3 331.9h0.9v0.9h-0.9zM317.8 306.0h0.9v0.9h-0.9zM317.7 306.9h0.9v0.9h-0.9zM304.1 327.8h0.9v0.9h-0.9zM307.3 321.0h0.9v0.9h-0.9zM304.2 327.2h0.9v0.9h-0.9zM312.8 310.7h0.9v0.9h-0.9zM299.7 327.3h0.9v0.9h-0.9zM294.0 333.2h0.9v0.9h-0.9zM316.3 309.8h0.9v0.9h-0.9zM306.1 320.2h0.9v0.9h-0.9zM312.7 312.7h0.9v0.9h-0.9zM307.3 316.5h0.9v0.9h-0.9zM302.3 322.8h0.9v0.9h-0.9zM312.4 311.0h0.9v0.9h-0.9zM302.3 320.2h0.9v0.9h-0.9zM310.0 316.8h0.9v0.9h-0.9zM310.1 314.5h0.9v0.9h-0.9zM303.9 332.5h0.9v0.9h-0.9zM318.0 306.2h0.9v0.9h-0.9zM300.3 325.2h0.9v0.9h-0.9zM306.8 315.6h0.9v0.9h-0.9zM305.0 323.0h0.9v0.9h-0.9zM310.0 312.7h0.9v0.9h-0.9zM300.5 325.9h0.9v0.9h-0.9zM314.7 310.5h0.9v0.9h-0.9zM305.8 325.8h0.9v0.9h-0.9zM307.7 320.0h0.9v0.9h-0.9zM302.0 325.5h0.9v0.9h-0.9zM306.7 319.4h0.9v0.9h-0.9zM299.3 332.4h0.9v0.9h-0.9zM308.5 314.9h0.9v0.9h-0.9zM301.6 325.6h0.9v0.9h-0.9zM306.1 323.7h0.9v0.9h-0.9zM303.2 321.9h0.9v0.9h-0.9zM315.7 308.3h0.9v0.9h-0.9zM303.4 324.3h0.9v0.9h-0.9zM309.0 317.6h0.9v0.9h-0.9zM307.0 320.1h0.9v0.9h-0.9zM313.6 310.3h0.9v0.9h-0.9zM307.6 319.2h0.9v0.9h-0.9zM302.7 328.3h0.9v0.9h-0.9zM311.9 314.7h0.9v0.9h-0.9zM308.3 317.0h0.9v0.9h-0.9zM307.4 319.8h0.9v0.9h-0.9zM316.6 311.5h0.9v0.9h-0.9zM312.3 311.3h0.9v0.9h-0.9zM316.4 309.4h0.9v0.9h-0.9zM304.6 321.0h0.9v0.9h-0.9zM317.0 307.9h0.9v0.9h-0.9zM302.5 322.4h0.9v0.9h-0.9zM299.2 331.8h0.9v0.9h-0.9zM300.5 328.6h0.9v0.9h-0.9zM308.8 320.5h0.9v0.9h-0.9zM303.2 324.4h0.9v0.9h-0.9zM306.9 314.7h0.9v0.9h-0.9zM314.6 313.4h0.9v0.9h-0.9zM308.4 318.4h0.9v0.9h-0.9zM302.8 322.9h0.9v0.9h-0.9zM303.8 328.5h0.9v0.9h-0.9zM299.6 329.1h0.9v0.9h-0.9zM297.7 329.8h0.9v0.9h-0.9zM306.1 320.4h0.9v0.9h-0.9zM298.7 333.5h0.9v0.9h-0.9zM316.4 306.4h0.9v0.9h-0.9zM309.7 316.1h0.9v0.9h-0.9zM296.9 327.2h0.9v0.9h-0.9zM304.5 326.1h0.9v0.9h-0.9zM313.2 310.2h0.9v0.9h-0.9zM299.4 330.2h0.9v0.9h-0.9zM304.8 323.8h0.9v0.9h-0.9zM308.6 318.0h0.9v0.9h-0.9zM295.6 331.2h0.9v0.9h-0.9zM310.9 316.9h0.9v0.9h-0.9zM297.1 326.8h0.9v0.9h-0.9zM305.5 322.6h0.9v0.9h-0.9zM305.9 323.0h0.9v0.9h-0.9zM304.6 325.2h0.9v0.9h-0.9zM304.1 324.6h0.9v0.9h-0.9zM312.7 312.6h0.9v0.9h-0.9zM300.8 323.9h0.9v0.9h-0.9zM312.6 314.7h0.9v0.9h-0.9zM306.1 319.8h0.9v0.9h-0.9zM306.9 320.0h0.9v0.9h-0.9zM304.9 322.6h0.9v0.9h-0.9zM304.2 324.1h0.9v0.9h-0.9zM298.8 329.0h0.9v0.9h-0.9zM305.0 327.2h0.9v0.9h-0.9zM303.3 333.9h0.9v0.9h-0.9zM303.5 318.9h0.9v0.9h-0.9z" fill="#000" fill-opacity="0.5"/>
<rect x="279.50" y="275.50" width="72.00" height="72.00" fill="none" stroke="#000" stroke-width="1"/>
<line x1="320.50" y1="275.50" x2="320.50" y2="347.50" stroke="#1a1a1a" stroke-width="1"/>
<line x1="279.50" y1="304.50" x2="351.50" y2="304.50" stroke="#1a1a1a" stroke-width="1"/>
<line x1="278.40" y1="277.50" x2="278.40" y2="347.50" stroke="#333" stroke-width="0.9" stroke-dasharray="0.7 1.6"/>
<line x1="279.50" y1="348.60" x2="349.50" y2="348.60" stroke="#333" stroke-width="0.9" stroke-dasharray="0.7 1.6"/>
<line x1="277.70" y1="347.00" x2="279.50" y2="347.00" stroke="#222" stroke-width="0.9"/>
<line x1="280.00" y1="347.50" x2="280.00" y2="349.30" stroke="#222" stroke-width="0.9"/>
<line x1="277.70" y1="329.00" x2="279.50" y2="329.00" stroke="#222" stroke-width="0.9"/>
<line x1="298.00" y1="347.50" x2="298.00" y2="349.30" stroke="#222" stroke-width="0.9"/>
<line x1="277.70" y1="311.00" x2="279.50" y2="311.00" stroke="#222" stroke-width="0.9"/>
<line x1="316.00" y1="347.50" x2="316.00" y2="349.30" stroke="#222" stroke-width="0.9"/>
<line x1="277.70" y1="293.00" x2="279.50" y2="293.00" stroke="#222" stroke-width="0.9"/>
<line x1="334.00" y1="347.50" x2="334.00" y2="349.30" stroke="#222" stroke-width="0.9"/>
<text transform="translate(315.90,269.30) scale(1,1.15)" font-size="8.1" text-anchor="middle" >LPS+Rap</text>
<text transform="translate(280.70,283.80) scale(1,1.15)" font-size="7.8" text-anchor="start" >0.6</text>
<text transform="translate(350.70,283.80) scale(1,1.15)" font-size="7.8" text-anchor="end" >0.6</text>
<text transform="translate(280.70,344.80) scale(1,1.15)" font-size="7.8" text-anchor="start" >89.8</text>
<text transform="translate(350.70,344.80) scale(1,1.15)" font-size="7.8" text-anchor="end" >9.0</text>
<path d="M379.6 327.6h0.8v0.8h-0.8zM380.0 325.5h0.8v0.8h-0.8zM375.7 332.0h0.8v0.8h-0.8zM369.3 341.5h0.8v0.8h-0.8zM373.8 333.2h0.8v0.8h-0.8zM378.7 328.0h0.8v0.8h-0.8zM370.6 337.5h0.8v0.8h-0.8zM374.5 331.3h0.8v0.8h-0.8zM372.8 331.7h0.8v0.8h-0.8zM370.8 338.8h0.8v0.8h-0.8zM378.3 321.1h0.8v0.8h-0.8zM371.2 335.5h0.8v0.8h-0.8zM378.3 326.3h0.8v0.8h-0.8zM372.5 336.8h0.8v0.8h-0.8zM370.6 336.7h0.8v0.8h-0.8zM379.8 326.8h0.8v0.8h-0.8zM386.8 315.9h0.8v0.8h-0.8zM384.6 321.6h0.8v0.8h-0.8zM381.2 322.8h0.8v0.8h-0.8zM373.9 332.3h0.8v0.8h-0.8zM375.8 328.8h0.8v0.8h-0.8zM368.7 336.6h0.8v0.8h-0.8zM370.0 337.3h0.8v0.8h-0.8zM376.8 331.2h0.8v0.8h-0.8zM376.0 332.9h0.8v0.8h-0.8zM376.2 331.9h0.8v0.8h-0.8zM376.9 324.5h0.8v0.8h-0.8zM375.3 328.0h0.8v0.8h-0.8zM381.7 329.6h0.8v0.8h-0.8zM370.7 337.0h0.8v0.8h-0.8zM378.8 323.2h0.8v0.8h-0.8zM384.1 322.9h0.8v0.8h-0.8zM373.1 335.8h0.8v0.8h-0.8zM372.5 335.2h0.8v0.8h-0.8zM378.3 327.0h0.8v0.8h-0.8zM377.9 323.9h0.8v0.8h-0.8zM372.0 334.4h0.8v0.8h-0.8zM373.5 331.0h0.8v0.8h-0.8zM372.1 340.2h0.8v0.8h-0.8zM370.9 332.8h0.8v0.8h-0.8zM378.8 326.5h0.8v0.8h-0.8zM376.9 324.5h0.8v0.8h-0.8zM381.8 320.9h0.8v0.8h-0.8zM370.3 334.8h0.8v0.8h-0.8zM380.4 326.2h0.8v0.8h-0.8zM389.2 317.7h0.8v0.8h-0.8zM373.8 335.9h0.8v0.8h-0.8zM385.6 319.3h0.8v0.8h-0.8zM383.7 319.1h0.8v0.8h-0.8zM379.9 321.9h0.8v0.8h-0.8zM380.4 329.6h0.8v0.8h-0.8zM382.1 324.8h0.8v0.8h-0.8zM379.2 321.7h0.8v0.8h-0.8zM381.5 322.0h0.8v0.8h-0.8zM379.1 324.1h0.8v0.8h-0.8zM386.9 322.4h0.8v0.8h-0.8zM372.5 329.2h0.8v0.8h-0.8zM384.5 320.8h0.8v0.8h-0.8zM381.4 326.7h0.8v0.8h-0.8zM372.7 333.7h0.8v0.8h-0.8zM384.3 320.7h0.8v0.8h-0.8zM372.2 336.9h0.8v0.8h-0.8zM381.2 326.5h0.8v0.8h-0.8zM377.5 330.0h0.8v0.8h-0.8zM374.6 334.6h0.8v0.8h-0.8zM383.5 319.3h0.8v0.8h-0.8zM394.1 311.5h0.8v0.8h-0.8zM375.6 329.5h0.8v0.8h-0.8zM380.9 325.6h0.8v0.8h-0.8zM368.5 325.9h0.8v0.8h-0.8zM381.5 323.9h0.8v0.8h-0.8zM378.6 324.9h0.8v0.8h-0.8zM376.4 327.5h0.8v0.8h-0.8zM370.1 338.0h0.8v0.8h-0.8zM378.1 326.1h0.8v0.8h-0.8zM368.0 340.8h0.8v0.8h-0.8zM367.3 336.2h0.8v0.8h-0.8zM392.1 314.1h0.8v0.8h-0.8zM381.3 322.1h0.8v0.8h-0.8zM370.9 335.8h0.8v0.8h-0.8zM372.8 326.1h0.8v0.8h-0.8zM372.0 327.2h0.8v0.8h-0.8zM378.8 320.8h0.8v0.8h-0.8zM383.9 328.9h0.8v0.8h-0.8zM382.1 324.2h0.8v0.8h-0.8zM376.3 327.0h0.8v0.8h-0.8zM373.2 331.5h0.8v0.8h-0.8zM377.8 321.5h0.8v0.8h-0.8zM371.6 335.1h0.8v0.8h-0.8zM380.2 325.1h0.8v0.8h-0.8zM379.6 328.0h0.8v0.8h-0.8zM378.5 329.2h0.8v0.8h-0.8zM375.4 332.9h0.8v0.8h-0.8zM374.5 330.6h0.8v0.8h-0.8zM375.7 328.5h0.8v0.8h-0.8zM377.8 318.7h0.8v0.8h-0.8zM379.4 323.3h0.8v0.8h-0.8zM378.0 329.0h0.8v0.8h-0.8zM367.2 336.7h0.8v0.8h-0.8zM377.7 325.9h0.8v0.8h-0.8zM371.4 329.9h0.8v0.8h-0.8zM372.8 334.3h0.8v0.8h-0.8zM380.6 328.5h0.8v0.8h-0.8zM374.6 328.6h0.8v0.8h-0.8zM378.1 325.1h0.8v0.8h-0.8zM377.5 329.7h0.8v0.8h-0.8zM381.2 319.7h0.8v0.8h-0.8zM364.3 342.0h0.8v0.8h-0.8zM384.3 323.6h0.8v0.8h-0.8zM375.0 328.8h0.8v0.8h-0.8zM374.3 340.5h0.8v0.8h-0.8zM368.2 338.7h0.8v0.8h-0.8zM376.0 328.5h0.8v0.8h-0.8zM379.5 326.7h0.8v0.8h-0.8zM375.3 336.8h0.8v0.8h-0.8zM376.9 326.9h0.8v0.8h-0.8zM385.5 319.1h0.8v0.8h-0.8zM369.4 336.5h0.8v0.8h-0.8zM372.7 331.4h0.8v0.8h-0.8zM375.7 329.1h0.8v0.8h-0.8zM381.6 324.0h0.8v0.8h-0.8zM370.7 340.7h0.8v0.8h-0.8zM380.3 329.2h0.8v0.8h-0.8zM381.2 326.4h0.8v0.8h-0.8zM382.8 321.0h0.8v0.8h-0.8zM380.9 322.2h0.8v0.8h-0.8zM373.1 342.4h0.8v0.8h-0.8zM381.7 330.4h0.8v0.8h-0.8zM377.3 327.1h0.8v0.8h-0.8zM374.2 327.8h0.8v0.8h-0.8zM379.6 331.7h0.8v0.8h-0.8zM371.8 338.3h0.8v0.8h-0.8zM377.2 327.3h0.8v0.8h-0.8zM381.4 323.2h0.8v0.8h-0.8zM373.1 339.3h0.8v0.8h-0.8zM386.0 319.4h0.8v0.8h-0.8zM380.3 329.2h0.8v0.8h-0.8zM386.7 313.8h0.8v0.8h-0.8zM377.8 332.5h0.8v0.8h-0.8zM374.7 331.7h0.8v0.8h-0.8zM378.9 331.2h0.8v0.8h-0.8zM377.5 326.4h0.8v0.8h-0.8zM387.5 319.8h0.8v0.8h-0.8zM369.2 331.0h0.8v0.8h-0.8zM374.3 332.2h0.8v0.8h-0.8zM383.2 322.7h0.8v0.8h-0.8zM377.8 326.3h0.8v0.8h-0.8zM374.2 323.3h0.8v0.8h-0.8zM374.8 339.1h0.8v0.8h-0.8zM382.9 321.7h0.8v0.8h-0.8zM371.9 333.4h0.8v0.8h-0.8zM393.3 315.0h0.8v0.8h-0.8zM369.8 335.2h0.8v0.8h-0.8zM363.7 341.9h0.8v0.8h-0.8zM372.4 328.8h0.8v0.8h-0.8zM380.4 326.6h0.8v0.8h-0.8zM381.7 322.2h0.8v0.8h-0.8zM373.6 329.5h0.8v0.8h-0.8zM369.3 335.8h0.8v0.8h-0.8zM371.9 335.8h0.8v0.8h-0.8zM380.6 321.8h0.8v0.8h-0.8zM370.1 332.2h0.8v0.8h-0.8zM378.9 328.1h0.8v0.8h-0.8zM378.4 325.8h0.8v0.8h-0.8zM377.9 328.4h0.8v0.8h-0.8zM376.6 330.3h0.8v0.8h-0.8zM376.7 331.2h0.8v0.8h-0.8zM385.2 320.0h0.8v0.8h-0.8zM369.7 340.4h0.8v0.8h-0.8zM370.6 331.7h0.8v0.8h-0.8zM379.5 324.9h0.8v0.8h-0.8zM387.2 314.4h0.8v0.8h-0.8zM369.6 336.9h0.8v0.8h-0.8zM387.8 317.8h0.8v0.8h-0.8zM380.7 323.9h0.8v0.8h-0.8zM376.7 330.6h0.8v0.8h-0.8zM380.2 327.8h0.8v0.8h-0.8zM374.2 331.4h0.8v0.8h-0.8zM376.5 331.1h0.8v0.8h-0.8zM375.5 331.7h0.8v0.8h-0.8zM376.2 330.3h0.8v0.8h-0.8zM382.4 326.2h0.8v0.8h-0.8zM388.6 319.7h0.8v0.8h-0.8zM369.4 326.3h0.8v0.8h-0.8zM386.6 320.1h0.8v0.8h-0.8zM371.1 323.1h0.8v0.8h-0.8zM380.3 328.9h0.8v0.8h-0.8zM371.6 327.7h0.8v0.8h-0.8zM392.7 314.0h0.8v0.8h-0.8zM373.4 337.2h0.8v0.8h-0.8zM378.9 328.7h0.8v0.8h-0.8zM376.2 334.9h0.8v0.8h-0.8zM375.4 329.9h0.8v0.8h-0.8zM373.9 331.0h0.8v0.8h-0.8zM379.7 331.9h0.8v0.8h-0.8zM380.5 327.9h0.8v0.8h-0.8zM375.2 331.8h0.8v0.8h-0.8zM374.6 327.6h0.8v0.8h-0.8zM374.9 325.3h0.8v0.8h-0.8zM375.9 335.4h0.8v0.8h-0.8zM378.0 323.3h0.8v0.8h-0.8zM377.6 323.8h0.8v0.8h-0.8zM380.2 325.3h0.8v0.8h-0.8zM375.2 336.6h0.8v0.8h-0.8zM377.7 329.5h0.8v0.8h-0.8zM373.5 326.9h0.8v0.8h-0.8zM377.3 333.2h0.8v0.8h-0.8zM373.5 334.6h0.8v0.8h-0.8zM374.5 327.6h0.8v0.8h-0.8zM377.1 325.2h0.8v0.8h-0.8zM378.0 330.7h0.8v0.8h-0.8zM381.2 328.6h0.8v0.8h-0.8zM371.4 334.9h0.8v0.8h-0.8zM374.6 335.6h0.8v0.8h-0.8zM375.4 335.0h0.8v0.8h-0.8zM376.0 330.0h0.8v0.8h-0.8zM379.6 324.6h0.8v0.8h-0.8zM378.7 329.9h0.8v0.8h-0.8zM383.2 326.1h0.8v0.8h-0.8zM370.5 336.0h0.8v0.8h-0.8zM377.8 325.3h0.8v0.8h-0.8zM383.5 325.2h0.8v0.8h-0.8zM372.8 328.1h0.8v0.8h-0.8zM375.6 329.9h0.8v0.8h-0.8zM371.7 340.7h0.8v0.8h-0.8zM380.0 330.0h0.8v0.8h-0.8zM383.5 321.8h0.8v0.8h-0.8zM367.3 343.8h0.8v0.8h-0.8zM379.8 324.5h0.8v0.8h-0.8zM382.6 322.9h0.8v0.8h-0.8zM377.3 336.3h0.8v0.8h-0.8zM379.3 327.1h0.8v0.8h-0.8zM380.0 325.6h0.8v0.8h-0.8zM386.7 318.7h0.8v0.8h-0.8zM381.6 326.9h0.8v0.8h-0.8zM367.7 332.7h0.8v0.8h-0.8zM375.0 334.3h0.8v0.8h-0.8zM369.6 335.8h0.8v0.8h-0.8zM380.1 322.8h0.8v0.8h-0.8zM379.1 324.2h0.8v0.8h-0.8zM370.9 332.0h0.8v0.8h-0.8zM382.6 322.6h0.8v0.8h-0.8zM379.5 330.2h0.8v0.8h-0.8zM374.1 329.8h0.8v0.8h-0.8zM384.9 321.3h0.8v0.8h-0.8zM384.8 323.9h0.8v0.8h-0.8zM380.0 320.3h0.8v0.8h-0.8zM381.2 325.2h0.8v0.8h-0.8zM370.8 332.6h0.8v0.8h-0.8zM374.3 339.5h0.8v0.8h-0.8zM376.8 335.3h0.8v0.8h-0.8zM381.1 325.4h0.8v0.8h-0.8zM376.5 322.2h0.8v0.8h-0.8zM376.0 325.7h0.8v0.8h-0.8zM378.3 327.5h0.8v0.8h-0.8zM374.1 330.7h0.8v0.8h-0.8zM378.0 333.8h0.8v0.8h-0.8zM374.3 330.8h0.8v0.8h-0.8zM374.5 331.9h0.8v0.8h-0.8z" fill="#000" fill-opacity="0.3"/>
<path d="M418.2 324.9h0.8v0.8h-0.8zM415.8 318.0h0.8v0.8h-0.8zM398.4 309.4h0.8v0.8h-0.8zM397.7 323.2h0.8v0.8h-0.8zM424.0 310.4h0.8v0.8h-0.8zM408.5 318.3h0.8v0.8h-0.8zM409.5 310.8h0.8v0.8h-0.8zM420.4 309.1h0.8v0.8h-0.8zM408.5 317.1h0.8v0.8h-0.8zM399.9 314.4h0.8v0.8h-0.8zM405.7 310.7h0.8v0.8h-0.8zM399.4 323.9h0.8v0.8h-0.8zM402.0 321.3h0.8v0.8h-0.8zM399.8 310.3h0.8v0.8h-0.8zM411.3 307.5h0.8v0.8h-0.8z" fill="#000" fill-opacity="0.18"/>
<polygon points="394.80,307.40 393.92,307.80 393.15,308.29 392.40,308.80 391.67,309.32 390.94,309.85 390.23,310.39 389.52,310.93 388.82,311.48 388.12,312.03 387.43,312.58 386.74,313.14 386.05,313.70 385.37,314.26 384.68,314.82 384.00,315.39 383.36,315.99 382.81,316.66 382.28,317.35 381.76,318.05 381.25,318.76 380.76,319.48 380.28,320.21 379.82,320.96 379.38,321.72 378.96,322.51 378.57,323.32 378.22,324.16 377.92,325.04 377.73,326.01 378.10,327.45 378.10,327.45 379.59,327.56 380.51,327.20 381.33,326.74 382.09,326.25 382.81,325.72 383.51,325.16 384.18,324.59 384.83,324.00 385.47,323.40 386.09,322.78 386.69,322.16 387.29,321.52 387.87,320.87 388.43,320.21 388.90,319.47 389.33,318.70 389.77,317.92 390.19,317.15 390.62,316.37 391.04,315.59 391.46,314.81 391.88,314.02 392.29,313.23 392.69,312.44 393.09,311.64 393.48,310.83 393.86,310.02 394.23,309.19 394.56,308.34 394.80,307.40" fill="#0a0a0a" filter="url(#bl)"/>
<path d="M391.0 312.0h0.9v0.9h-0.9zM389.4 319.2h0.9v0.9h-0.9zM377.6 331.7h0.9v0.9h-0.9zM381.8 321.1h0.9v0.9h-0.9zM391.7 310.8h0.9v0.9h-0.9zM387.3 316.9h0.9v0.9h-0.9zM375.4 328.5h0.9v0.9h-0.9zM379.0 320.6h0.9v0.9h-0.9zM391.4 312.7h0.9v0.9h-0.9zM381.6 318.5h0.9v0.9h-0.9zM373.0 334.8h0.9v0.9h-0.9zM386.8 316.7h0.9v0.9h-0.9zM382.3 321.0h0.9v0.9h-0.9zM392.5 310.3h0.9v0.9h-0.9zM376.9 328.8h0.9v0.9h-0.9zM380.7 322.3h0.9v0.9h-0.9zM391.6 311.4h0.9v0.9h-0.9zM382.3 324.5h0.9v0.9h-0.9zM381.1 324.4h0.9v0.9h-0.9zM377.3 328.8h0.9v0.9h-0.9zM392.3 310.4h0.9v0.9h-0.9zM383.3 324.9h0.9v0.9h-0.9zM387.9 321.2h0.9v0.9h-0.9zM378.7 329.9h0.9v0.9h-0.9zM376.9 322.3h0.9v0.9h-0.9zM377.7 332.9h0.9v0.9h-0.9zM384.7 319.6h0.9v0.9h-0.9zM394.1 310.0h0.9v0.9h-0.9zM379.4 325.4h0.9v0.9h-0.9zM390.5 312.9h0.9v0.9h-0.9zM371.7 335.3h0.9v0.9h-0.9zM389.4 317.8h0.9v0.9h-0.9zM388.6 314.2h0.9v0.9h-0.9zM386.1 323.4h0.9v0.9h-0.9zM394.8 308.3h0.9v0.9h-0.9zM381.6 328.6h0.9v0.9h-0.9zM378.1 322.7h0.9v0.9h-0.9zM370.2 330.0h0.9v0.9h-0.9zM391.0 313.6h0.9v0.9h-0.9zM389.1 312.7h0.9v0.9h-0.9zM385.0 319.9h0.9v0.9h-0.9zM383.4 325.7h0.9v0.9h-0.9zM391.6 309.5h0.9v0.9h-0.9zM390.8 311.9h0.9v0.9h-0.9zM393.0 306.7h0.9v0.9h-0.9zM373.9 327.6h0.9v0.9h-0.9zM385.4 317.3h0.9v0.9h-0.9zM385.4 323.8h0.9v0.9h-0.9zM377.2 329.5h0.9v0.9h-0.9zM378.1 321.3h0.9v0.9h-0.9zM373.6 334.3h0.9v0.9h-0.9zM386.2 317.5h0.9v0.9h-0.9zM386.0 318.7h0.9v0.9h-0.9zM378.7 323.1h0.9v0.9h-0.9zM380.2 322.0h0.9v0.9h-0.9zM379.4 323.1h0.9v0.9h-0.9zM381.6 323.6h0.9v0.9h-0.9zM383.3 319.1h0.9v0.9h-0.9zM381.9 328.3h0.9v0.9h-0.9zM394.1 308.3h0.9v0.9h-0.9zM382.8 316.2h0.9v0.9h-0.9zM385.7 315.0h0.9v0.9h-0.9zM391.3 312.9h0.9v0.9h-0.9zM385.6 315.7h0.9v0.9h-0.9zM386.2 318.8h0.9v0.9h-0.9zM382.1 323.5h0.9v0.9h-0.9zM381.8 328.6h0.9v0.9h-0.9zM379.6 329.8h0.9v0.9h-0.9zM382.4 318.3h0.9v0.9h-0.9zM383.1 324.5h0.9v0.9h-0.9zM388.3 314.5h0.9v0.9h-0.9zM384.0 321.0h0.9v0.9h-0.9zM380.3 325.5h0.9v0.9h-0.9zM390.7 313.9h0.9v0.9h-0.9zM378.7 325.0h0.9v0.9h-0.9zM391.9 311.0h0.9v0.9h-0.9zM390.9 313.8h0.9v0.9h-0.9zM395.2 309.2h0.9v0.9h-0.9zM389.0 313.1h0.9v0.9h-0.9zM382.1 320.5h0.9v0.9h-0.9zM375.1 331.6h0.9v0.9h-0.9zM373.2 329.4h0.9v0.9h-0.9zM377.4 329.6h0.9v0.9h-0.9zM381.3 325.4h0.9v0.9h-0.9zM386.8 321.0h0.9v0.9h-0.9zM382.7 321.3h0.9v0.9h-0.9zM384.2 322.5h0.9v0.9h-0.9zM381.3 325.6h0.9v0.9h-0.9zM380.5 321.9h0.9v0.9h-0.9zM379.3 326.7h0.9v0.9h-0.9zM388.2 316.6h0.9v0.9h-0.9zM377.3 336.4h0.9v0.9h-0.9zM387.5 315.4h0.9v0.9h-0.9zM373.5 334.3h0.9v0.9h-0.9zM378.6 334.6h0.9v0.9h-0.9zM381.5 324.0h0.9v0.9h-0.9zM386.3 317.7h0.9v0.9h-0.9zM379.4 328.7h0.9v0.9h-0.9zM386.8 312.8h0.9v0.9h-0.9zM382.4 326.5h0.9v0.9h-0.9zM392.5 309.0h0.9v0.9h-0.9zM387.5 319.7h0.9v0.9h-0.9zM381.7 323.1h0.9v0.9h-0.9zM383.1 321.7h0.9v0.9h-0.9zM382.6 325.3h0.9v0.9h-0.9zM378.9 323.3h0.9v0.9h-0.9zM379.2 329.5h0.9v0.9h-0.9zM387.9 316.1h0.9v0.9h-0.9zM380.3 325.4h0.9v0.9h-0.9zM385.4 328.4h0.9v0.9h-0.9zM383.4 322.0h0.9v0.9h-0.9zM393.8 310.9h0.9v0.9h-0.9zM376.6 333.6h0.9v0.9h-0.9zM387.7 318.0h0.9v0.9h-0.9zM387.4 316.4h0.9v0.9h-0.9zM386.7 322.2h0.9v0.9h-0.9zM372.8 328.0h0.9v0.9h-0.9zM387.0 320.5h0.9v0.9h-0.9zM384.7 321.2h0.9v0.9h-0.9zM384.3 324.1h0.9v0.9h-0.9zM378.0 327.7h0.9v0.9h-0.9zM380.2 329.9h0.9v0.9h-0.9zM377.6 325.6h0.9v0.9h-0.9zM382.0 326.7h0.9v0.9h-0.9zM376.2 332.5h0.9v0.9h-0.9zM388.4 313.6h0.9v0.9h-0.9zM377.1 320.2h0.9v0.9h-0.9zM377.1 333.9h0.9v0.9h-0.9zM383.3 322.7h0.9v0.9h-0.9zM379.7 323.1h0.9v0.9h-0.9zM389.9 311.9h0.9v0.9h-0.9zM385.9 321.0h0.9v0.9h-0.9zM394.9 308.2h0.9v0.9h-0.9zM384.9 316.9h0.9v0.9h-0.9zM390.4 312.7h0.9v0.9h-0.9zM381.1 323.9h0.9v0.9h-0.9zM382.8 324.7h0.9v0.9h-0.9zM386.0 319.1h0.9v0.9h-0.9zM378.0 319.9h0.9v0.9h-0.9zM380.8 330.6h0.9v0.9h-0.9zM374.5 332.2h0.9v0.9h-0.9zM380.2 328.7h0.9v0.9h-0.9zM373.5 328.1h0.9v0.9h-0.9zM389.4 311.5h0.9v0.9h-0.9zM392.9 309.9h0.9v0.9h-0.9zM373.5 331.5h0.9v0.9h-0.9zM383.6 319.0h0.9v0.9h-0.9zM383.8 320.1h0.9v0.9h-0.9zM382.9 321.1h0.9v0.9h-0.9zM393.8 308.8h0.9v0.9h-0.9zM379.5 326.5h0.9v0.9h-0.9zM394.0 309.1h0.9v0.9h-0.9zM387.5 313.1h0.9v0.9h-0.9zM384.1 322.6h0.9v0.9h-0.9zM385.5 321.1h0.9v0.9h-0.9zM387.8 314.9h0.9v0.9h-0.9zM384.8 321.3h0.9v0.9h-0.9zM378.6 324.0h0.9v0.9h-0.9zM392.1 312.4h0.9v0.9h-0.9zM385.5 315.5h0.9v0.9h-0.9zM385.4 318.5h0.9v0.9h-0.9zM391.9 311.6h0.9v0.9h-0.9zM380.1 327.1h0.9v0.9h-0.9zM390.7 314.2h0.9v0.9h-0.9zM371.6 334.1h0.9v0.9h-0.9zM392.1 312.2h0.9v0.9h-0.9zM378.3 324.5h0.9v0.9h-0.9zM380.5 322.9h0.9v0.9h-0.9zM385.3 315.6h0.9v0.9h-0.9zM381.3 322.2h0.9v0.9h-0.9zM379.5 328.4h0.9v0.9h-0.9zM382.5 316.7h0.9v0.9h-0.9zM377.6 331.7h0.9v0.9h-0.9zM385.8 318.1h0.9v0.9h-0.9zM376.5 328.3h0.9v0.9h-0.9zM383.2 320.4h0.9v0.9h-0.9zM378.2 325.3h0.9v0.9h-0.9zM386.1 319.4h0.9v0.9h-0.9zM382.5 323.7h0.9v0.9h-0.9zM388.6 318.9h0.9v0.9h-0.9zM383.2 316.9h0.9v0.9h-0.9zM391.9 310.6h0.9v0.9h-0.9zM383.8 322.2h0.9v0.9h-0.9zM385.2 323.1h0.9v0.9h-0.9zM388.6 313.5h0.9v0.9h-0.9zM393.3 307.7h0.9v0.9h-0.9zM392.6 311.7h0.9v0.9h-0.9zM394.5 308.1h0.9v0.9h-0.9zM390.3 312.3h0.9v0.9h-0.9zM388.1 315.1h0.9v0.9h-0.9zM386.4 315.7h0.9v0.9h-0.9zM374.0 333.1h0.9v0.9h-0.9zM374.8 326.9h0.9v0.9h-0.9zM379.7 333.5h0.9v0.9h-0.9zM383.0 321.0h0.9v0.9h-0.9zM375.6 335.4h0.9v0.9h-0.9zM385.9 316.8h0.9v0.9h-0.9zM394.5 308.8h0.9v0.9h-0.9zM391.7 309.9h0.9v0.9h-0.9zM379.9 326.5h0.9v0.9h-0.9zM379.2 325.6h0.9v0.9h-0.9zM389.1 312.5h0.9v0.9h-0.9zM379.2 326.2h0.9v0.9h-0.9zM374.4 326.3h0.9v0.9h-0.9zM389.4 312.5h0.9v0.9h-0.9zM384.9 316.4h0.9v0.9h-0.9zM378.4 324.3h0.9v0.9h-0.9zM379.7 326.2h0.9v0.9h-0.9zM385.7 322.2h0.9v0.9h-0.9zM376.9 327.4h0.9v0.9h-0.9zM384.2 316.5h0.9v0.9h-0.9zM377.0 324.8h0.9v0.9h-0.9zM379.5 324.9h0.9v0.9h-0.9zM383.4 317.8h0.9v0.9h-0.9zM395.1 309.0h0.9v0.9h-0.9zM382.0 327.1h0.9v0.9h-0.9zM378.8 331.5h0.9v0.9h-0.9zM369.1 331.0h0.9v0.9h-0.9zM375.9 328.9h0.9v0.9h-0.9zM377.3 321.6h0.9v0.9h-0.9zM389.5 319.0h0.9v0.9h-0.9zM380.7 324.5h0.9v0.9h-0.9zM386.3 320.1h0.9v0.9h-0.9zM380.3 329.2h0.9v0.9h-0.9zM391.3 312.1h0.9v0.9h-0.9zM380.3 326.7h0.9v0.9h-0.9zM373.8 329.2h0.9v0.9h-0.9zM387.7 319.1h0.9v0.9h-0.9zM375.4 333.1h0.9v0.9h-0.9zM379.7 324.0h0.9v0.9h-0.9zM376.7 327.2h0.9v0.9h-0.9zM370.8 331.6h0.9v0.9h-0.9zM375.4 337.4h0.9v0.9h-0.9zM387.8 320.2h0.9v0.9h-0.9zM377.4 328.9h0.9v0.9h-0.9zM384.0 321.4h0.9v0.9h-0.9zM392.3 311.2h0.9v0.9h-0.9zM392.8 309.6h0.9v0.9h-0.9zM372.2 326.1h0.9v0.9h-0.9zM385.2 320.0h0.9v0.9h-0.9zM381.9 327.2h0.9v0.9h-0.9zM387.5 317.1h0.9v0.9h-0.9zM380.7 326.0h0.9v0.9h-0.9zM379.2 322.9h0.9v0.9h-0.9zM387.4 315.5h0.9v0.9h-0.9zM392.4 309.4h0.9v0.9h-0.9zM388.4 317.0h0.9v0.9h-0.9zM392.7 308.9h0.9v0.9h-0.9zM390.9 314.9h0.9v0.9h-0.9zM391.0 315.0h0.9v0.9h-0.9zM381.6 323.9h0.9v0.9h-0.9zM379.2 326.6h0.9v0.9h-0.9zM382.1 318.8h0.9v0.9h-0.9zM392.6 308.0h0.9v0.9h-0.9zM380.4 322.5h0.9v0.9h-0.9zM393.0 310.3h0.9v0.9h-0.9zM374.9 330.1h0.9v0.9h-0.9zM388.9 317.8h0.9v0.9h-0.9zM375.3 327.8h0.9v0.9h-0.9zM377.4 328.3h0.9v0.9h-0.9zM381.5 322.6h0.9v0.9h-0.9zM373.1 330.5h0.9v0.9h-0.9zM383.0 322.2h0.9v0.9h-0.9zM384.0 323.3h0.9v0.9h-0.9zM383.8 322.4h0.9v0.9h-0.9zM375.3 325.5h0.9v0.9h-0.9zM375.2 323.7h0.9v0.9h-0.9zM383.3 328.8h0.9v0.9h-0.9zM382.1 322.2h0.9v0.9h-0.9zM386.5 319.7h0.9v0.9h-0.9zM382.6 319.2h0.9v0.9h-0.9zM385.9 317.2h0.9v0.9h-0.9zM393.4 308.4h0.9v0.9h-0.9zM386.6 320.8h0.9v0.9h-0.9zM382.4 319.4h0.9v0.9h-0.9zM388.8 313.5h0.9v0.9h-0.9zM376.3 326.5h0.9v0.9h-0.9zM382.7 319.3h0.9v0.9h-0.9zM378.6 335.9h0.9v0.9h-0.9zM383.6 316.6h0.9v0.9h-0.9zM377.1 325.6h0.9v0.9h-0.9zM378.8 321.5h0.9v0.9h-0.9zM375.9 333.5h0.9v0.9h-0.9zM388.7 315.9h0.9v0.9h-0.9zM382.0 321.2h0.9v0.9h-0.9zM377.4 327.9h0.9v0.9h-0.9zM372.9 327.3h0.9v0.9h-0.9zM390.1 311.3h0.9v0.9h-0.9zM393.6 308.8h0.9v0.9h-0.9zM388.9 312.3h0.9v0.9h-0.9zM389.3 316.3h0.9v0.9h-0.9zM383.7 321.3h0.9v0.9h-0.9zM390.0 311.6h0.9v0.9h-0.9zM383.3 322.2h0.9v0.9h-0.9zM385.6 318.5h0.9v0.9h-0.9zM389.3 315.8h0.9v0.9h-0.9zM381.4 324.6h0.9v0.9h-0.9zM378.7 323.4h0.9v0.9h-0.9zM387.4 314.8h0.9v0.9h-0.9zM377.1 330.8h0.9v0.9h-0.9zM390.6 310.9h0.9v0.9h-0.9zM382.1 324.7h0.9v0.9h-0.9zM380.0 332.7h0.9v0.9h-0.9zM390.0 314.9h0.9v0.9h-0.9zM376.3 332.0h0.9v0.9h-0.9zM372.8 330.2h0.9v0.9h-0.9zM383.9 321.0h0.9v0.9h-0.9zM382.4 320.6h0.9v0.9h-0.9zM376.3 331.7h0.9v0.9h-0.9zM382.0 323.0h0.9v0.9h-0.9zM385.9 314.7h0.9v0.9h-0.9zM391.0 312.0h0.9v0.9h-0.9zM381.0 322.7h0.9v0.9h-0.9zM380.3 321.8h0.9v0.9h-0.9zM393.6 308.8h0.9v0.9h-0.9zM373.6 328.8h0.9v0.9h-0.9zM389.3 315.6h0.9v0.9h-0.9zM383.9 320.1h0.9v0.9h-0.9zM367.7 334.0h0.9v0.9h-0.9zM391.2 312.1h0.9v0.9h-0.9zM379.0 323.5h0.9v0.9h-0.9zM386.2 319.1h0.9v0.9h-0.9zM388.1 316.6h0.9v0.9h-0.9zM379.5 329.8h0.9v0.9h-0.9zM388.5 314.1h0.9v0.9h-0.9zM385.8 320.8h0.9v0.9h-0.9zM384.6 320.1h0.9v0.9h-0.9zM381.8 324.4h0.9v0.9h-0.9zM387.0 318.4h0.9v0.9h-0.9zM388.1 313.4h0.9v0.9h-0.9zM387.0 326.6h0.9v0.9h-0.9zM388.6 317.7h0.9v0.9h-0.9zM381.9 318.9h0.9v0.9h-0.9zM386.3 318.2h0.9v0.9h-0.9zM376.1 322.7h0.9v0.9h-0.9zM391.2 315.9h0.9v0.9h-0.9zM379.5 323.9h0.9v0.9h-0.9zM380.0 321.6h0.9v0.9h-0.9zM374.5 333.9h0.9v0.9h-0.9zM381.6 326.0h0.9v0.9h-0.9zM378.2 326.6h0.9v0.9h-0.9zM383.3 322.1h0.9v0.9h-0.9zM379.2 322.4h0.9v0.9h-0.9zM387.6 317.9h0.9v0.9h-0.9zM379.6 323.6h0.9v0.9h-0.9zM383.6 324.2h0.9v0.9h-0.9zM388.3 315.3h0.9v0.9h-0.9zM383.4 317.8h0.9v0.9h-0.9zM379.0 325.5h0.9v0.9h-0.9zM383.0 324.7h0.9v0.9h-0.9zM392.7 309.6h0.9v0.9h-0.9zM379.2 323.5h0.9v0.9h-0.9zM385.2 318.3h0.9v0.9h-0.9zM386.8 321.8h0.9v0.9h-0.9zM391.8 315.0h0.9v0.9h-0.9zM389.9 313.2h0.9v0.9h-0.9zM377.8 328.8h0.9v0.9h-0.9zM372.8 333.6h0.9v0.9h-0.9zM381.5 324.0h0.9v0.9h-0.9zM381.7 325.1h0.9v0.9h-0.9zM381.3 324.2h0.9v0.9h-0.9zM386.5 316.1h0.9v0.9h-0.9zM373.9 332.9h0.9v0.9h-0.9zM382.7 322.3h0.9v0.9h-0.9zM387.2 317.7h0.9v0.9h-0.9zM394.9 308.7h0.9v0.9h-0.9zM373.8 328.2h0.9v0.9h-0.9zM380.4 319.0h0.9v0.9h-0.9zM371.6 333.4h0.9v0.9h-0.9zM381.4 327.2h0.9v0.9h-0.9zM378.6 334.8h0.9v0.9h-0.9zM385.8 315.3h0.9v0.9h-0.9zM370.8 329.3h0.9v0.9h-0.9zM380.2 324.0h0.9v0.9h-0.9zM390.4 312.0h0.9v0.9h-0.9zM391.6 311.7h0.9v0.9h-0.9zM383.0 321.1h0.9v0.9h-0.9zM393.1 309.2h0.9v0.9h-0.9zM386.0 319.7h0.9v0.9h-0.9zM383.7 325.3h0.9v0.9h-0.9zM388.7 312.2h0.9v0.9h-0.9zM377.7 330.9h0.9v0.9h-0.9zM381.5 326.1h0.9v0.9h-0.9zM391.1 309.4h0.9v0.9h-0.9zM378.0 324.1h0.9v0.9h-0.9zM386.9 317.1h0.9v0.9h-0.9zM388.3 314.9h0.9v0.9h-0.9zM380.2 324.4h0.9v0.9h-0.9zM375.3 330.2h0.9v0.9h-0.9zM386.5 314.1h0.9v0.9h-0.9zM389.8 311.7h0.9v0.9h-0.9zM384.7 319.2h0.9v0.9h-0.9zM382.7 321.4h0.9v0.9h-0.9zM377.1 323.8h0.9v0.9h-0.9zM388.3 315.4h0.9v0.9h-0.9zM388.3 315.1h0.9v0.9h-0.9zM387.1 318.7h0.9v0.9h-0.9zM379.7 326.9h0.9v0.9h-0.9zM390.6 311.8h0.9v0.9h-0.9zM382.3 325.4h0.9v0.9h-0.9zM386.6 315.4h0.9v0.9h-0.9zM384.5 320.0h0.9v0.9h-0.9zM386.7 321.3h0.9v0.9h-0.9zM382.0 320.4h0.9v0.9h-0.9zM384.2 321.3h0.9v0.9h-0.9zM389.1 313.6h0.9v0.9h-0.9zM384.1 323.5h0.9v0.9h-0.9zM377.9 326.1h0.9v0.9h-0.9zM374.0 325.4h0.9v0.9h-0.9zM378.6 325.2h0.9v0.9h-0.9zM379.8 323.9h0.9v0.9h-0.9zM384.7 324.0h0.9v0.9h-0.9zM376.9 328.9h0.9v0.9h-0.9zM383.8 324.4h0.9v0.9h-0.9zM379.8 325.2h0.9v0.9h-0.9zM382.6 323.6h0.9v0.9h-0.9zM384.9 317.7h0.9v0.9h-0.9zM379.2 326.3h0.9v0.9h-0.9zM383.3 317.3h0.9v0.9h-0.9zM371.3 333.9h0.9v0.9h-0.9zM391.0 312.7h0.9v0.9h-0.9zM374.0 331.7h0.9v0.9h-0.9zM384.2 319.3h0.9v0.9h-0.9zM382.8 322.2h0.9v0.9h-0.9zM392.9 311.1h0.9v0.9h-0.9zM380.4 326.5h0.9v0.9h-0.9zM368.4 330.5h0.9v0.9h-0.9zM380.6 325.5h0.9v0.9h-0.9zM381.2 326.1h0.9v0.9h-0.9zM380.0 324.9h0.9v0.9h-0.9zM381.9 327.9h0.9v0.9h-0.9zM383.6 318.5h0.9v0.9h-0.9zM378.4 325.3h0.9v0.9h-0.9zM386.4 316.5h0.9v0.9h-0.9zM373.8 327.6h0.9v0.9h-0.9zM383.2 320.9h0.9v0.9h-0.9zM387.0 316.7h0.9v0.9h-0.9zM378.5 328.9h0.9v0.9h-0.9zM377.7 331.1h0.9v0.9h-0.9zM387.1 314.7h0.9v0.9h-0.9zM378.6 333.2h0.9v0.9h-0.9zM377.4 327.1h0.9v0.9h-0.9zM385.5 320.9h0.9v0.9h-0.9zM378.5 326.1h0.9v0.9h-0.9zM391.3 309.6h0.9v0.9h-0.9zM372.8 327.7h0.9v0.9h-0.9zM380.7 323.1h0.9v0.9h-0.9zM392.5 310.6h0.9v0.9h-0.9zM389.6 315.4h0.9v0.9h-0.9zM391.9 310.8h0.9v0.9h-0.9zM382.5 325.5h0.9v0.9h-0.9zM390.3 311.6h0.9v0.9h-0.9zM370.4 327.9h0.9v0.9h-0.9zM375.8 328.4h0.9v0.9h-0.9zM393.6 310.0h0.9v0.9h-0.9zM381.6 324.7h0.9v0.9h-0.9zM370.4 334.6h0.9v0.9h-0.9zM381.9 323.7h0.9v0.9h-0.9zM389.6 311.5h0.9v0.9h-0.9zM391.1 311.6h0.9v0.9h-0.9zM383.6 318.8h0.9v0.9h-0.9zM374.1 334.2h0.9v0.9h-0.9zM389.7 313.1h0.9v0.9h-0.9zM384.4 321.9h0.9v0.9h-0.9zM383.6 321.7h0.9v0.9h-0.9zM379.0 323.1h0.9v0.9h-0.9zM388.0 317.2h0.9v0.9h-0.9zM379.9 326.3h0.9v0.9h-0.9zM388.1 315.6h0.9v0.9h-0.9zM387.3 319.1h0.9v0.9h-0.9zM382.6 326.2h0.9v0.9h-0.9zM382.5 325.5h0.9v0.9h-0.9zM384.5 322.6h0.9v0.9h-0.9zM387.1 315.4h0.9v0.9h-0.9zM373.9 330.2h0.9v0.9h-0.9zM383.0 328.2h0.9v0.9h-0.9zM394.8 308.7h0.9v0.9h-0.9zM376.3 329.6h0.9v0.9h-0.9zM376.2 327.3h0.9v0.9h-0.9zM391.1 309.2h0.9v0.9h-0.9zM381.9 321.8h0.9v0.9h-0.9zM390.4 309.1h0.9v0.9h-0.9zM386.3 322.4h0.9v0.9h-0.9zM394.6 309.3h0.9v0.9h-0.9zM389.8 315.0h0.9v0.9h-0.9zM376.8 330.3h0.9v0.9h-0.9zM388.7 312.0h0.9v0.9h-0.9zM376.8 326.2h0.9v0.9h-0.9zM384.0 321.3h0.9v0.9h-0.9zM386.3 319.8h0.9v0.9h-0.9zM385.9 318.1h0.9v0.9h-0.9zM381.8 323.2h0.9v0.9h-0.9zM375.5 329.2h0.9v0.9h-0.9zM382.8 324.5h0.9v0.9h-0.9zM376.8 321.7h0.9v0.9h-0.9zM383.2 317.5h0.9v0.9h-0.9zM381.4 328.4h0.9v0.9h-0.9zM372.3 335.6h0.9v0.9h-0.9zM372.2 333.6h0.9v0.9h-0.9zM378.8 334.3h0.9v0.9h-0.9zM388.5 317.0h0.9v0.9h-0.9zM389.7 312.5h0.9v0.9h-0.9zM379.2 324.8h0.9v0.9h-0.9zM395.2 308.4h0.9v0.9h-0.9zM378.0 320.3h0.9v0.9h-0.9zM380.9 326.2h0.9v0.9h-0.9zM387.3 313.4h0.9v0.9h-0.9zM381.5 323.8h0.9v0.9h-0.9zM390.0 312.4h0.9v0.9h-0.9zM385.9 318.7h0.9v0.9h-0.9zM376.2 330.0h0.9v0.9h-0.9zM385.8 318.1h0.9v0.9h-0.9zM384.5 317.1h0.9v0.9h-0.9zM378.7 329.1h0.9v0.9h-0.9zM375.7 324.3h0.9v0.9h-0.9zM377.6 325.0h0.9v0.9h-0.9zM388.2 315.7h0.9v0.9h-0.9zM375.9 327.9h0.9v0.9h-0.9zM385.0 317.1h0.9v0.9h-0.9zM388.5 315.1h0.9v0.9h-0.9zM373.6 330.2h0.9v0.9h-0.9zM382.3 324.3h0.9v0.9h-0.9zM371.8 330.0h0.9v0.9h-0.9zM384.6 320.2h0.9v0.9h-0.9zM382.2 326.8h0.9v0.9h-0.9zM383.9 321.7h0.9v0.9h-0.9zM385.2 317.6h0.9v0.9h-0.9zM390.3 313.3h0.9v0.9h-0.9zM377.8 324.8h0.9v0.9h-0.9zM387.1 319.0h0.9v0.9h-0.9zM378.0 332.1h0.9v0.9h-0.9zM391.7 311.4h0.9v0.9h-0.9zM393.1 309.5h0.9v0.9h-0.9zM385.2 318.2h0.9v0.9h-0.9zM384.5 323.5h0.9v0.9h-0.9zM381.5 322.2h0.9v0.9h-0.9zM373.5 329.6h0.9v0.9h-0.9zM383.5 322.3h0.9v0.9h-0.9zM378.3 325.5h0.9v0.9h-0.9zM390.3 312.3h0.9v0.9h-0.9zM387.9 316.0h0.9v0.9h-0.9zM381.2 333.6h0.9v0.9h-0.9zM393.2 309.4h0.9v0.9h-0.9zM384.7 319.3h0.9v0.9h-0.9zM375.2 329.2h0.9v0.9h-0.9zM381.6 324.8h0.9v0.9h-0.9zM393.4 308.7h0.9v0.9h-0.9zM385.1 315.9h0.9v0.9h-0.9zM375.5 330.6h0.9v0.9h-0.9zM385.1 319.3h0.9v0.9h-0.9zM390.6 315.3h0.9v0.9h-0.9zM384.5 318.4h0.9v0.9h-0.9zM386.1 319.3h0.9v0.9h-0.9zM385.4 321.3h0.9v0.9h-0.9zM379.6 327.0h0.9v0.9h-0.9zM373.6 330.8h0.9v0.9h-0.9zM392.6 311.9h0.9v0.9h-0.9zM388.6 316.4h0.9v0.9h-0.9zM385.2 318.2h0.9v0.9h-0.9zM384.4 320.3h0.9v0.9h-0.9zM394.3 308.8h0.9v0.9h-0.9zM385.4 321.6h0.9v0.9h-0.9zM375.3 329.6h0.9v0.9h-0.9zM379.9 325.0h0.9v0.9h-0.9zM380.0 324.3h0.9v0.9h-0.9zM384.3 319.8h0.9v0.9h-0.9zM391.0 313.7h0.9v0.9h-0.9zM379.4 329.4h0.9v0.9h-0.9zM378.4 326.6h0.9v0.9h-0.9zM380.8 324.6h0.9v0.9h-0.9zM388.7 315.5h0.9v0.9h-0.9zM393.4 307.7h0.9v0.9h-0.9zM394.3 308.7h0.9v0.9h-0.9zM380.6 325.7h0.9v0.9h-0.9zM384.5 320.2h0.9v0.9h-0.9zM385.8 319.0h0.9v0.9h-0.9zM389.6 310.6h0.9v0.9h-0.9zM376.1 331.1h0.9v0.9h-0.9zM373.0 330.2h0.9v0.9h-0.9zM378.7 323.3h0.9v0.9h-0.9zM375.7 331.5h0.9v0.9h-0.9zM390.8 314.9h0.9v0.9h-0.9zM367.1 331.2h0.9v0.9h-0.9zM384.3 320.2h0.9v0.9h-0.9zM383.4 318.7h0.9v0.9h-0.9zM377.2 325.4h0.9v0.9h-0.9zM375.7 328.0h0.9v0.9h-0.9zM390.8 308.1h0.9v0.9h-0.9zM386.2 322.0h0.9v0.9h-0.9zM380.1 328.9h0.9v0.9h-0.9zM390.3 312.0h0.9v0.9h-0.9zM389.3 314.8h0.9v0.9h-0.9zM381.8 324.9h0.9v0.9h-0.9zM374.5 334.7h0.9v0.9h-0.9zM385.9 316.1h0.9v0.9h-0.9zM388.7 318.2h0.9v0.9h-0.9zM394.3 308.0h0.9v0.9h-0.9zM375.4 335.8h0.9v0.9h-0.9zM388.7 313.9h0.9v0.9h-0.9zM382.7 321.5h0.9v0.9h-0.9zM380.4 322.5h0.9v0.9h-0.9zM382.0 322.0h0.9v0.9h-0.9zM381.1 329.6h0.9v0.9h-0.9zM374.5 327.8h0.9v0.9h-0.9zM382.0 320.6h0.9v0.9h-0.9zM388.9 315.0h0.9v0.9h-0.9zM373.4 335.2h0.9v0.9h-0.9zM379.7 320.9h0.9v0.9h-0.9zM380.0 330.0h0.9v0.9h-0.9zM381.0 327.4h0.9v0.9h-0.9zM385.9 318.6h0.9v0.9h-0.9zM373.4 329.0h0.9v0.9h-0.9zM386.8 319.4h0.9v0.9h-0.9zM380.6 329.3h0.9v0.9h-0.9zM385.0 320.7h0.9v0.9h-0.9zM381.6 321.8h0.9v0.9h-0.9zM387.2 314.2h0.9v0.9h-0.9zM377.4 329.3h0.9v0.9h-0.9zM374.4 334.9h0.9v0.9h-0.9zM385.4 321.6h0.9v0.9h-0.9zM380.9 327.1h0.9v0.9h-0.9zM379.5 328.0h0.9v0.9h-0.9zM379.6 324.5h0.9v0.9h-0.9zM379.6 332.1h0.9v0.9h-0.9zM386.7 316.2h0.9v0.9h-0.9zM383.2 323.8h0.9v0.9h-0.9zM391.6 312.1h0.9v0.9h-0.9zM384.0 320.9h0.9v0.9h-0.9zM387.0 315.9h0.9v0.9h-0.9zM379.5 323.7h0.9v0.9h-0.9zM380.5 328.2h0.9v0.9h-0.9zM390.4 311.6h0.9v0.9h-0.9zM373.5 329.6h0.9v0.9h-0.9zM384.3 318.3h0.9v0.9h-0.9zM383.8 320.0h0.9v0.9h-0.9zM393.9 309.8h0.9v0.9h-0.9zM384.6 319.2h0.9v0.9h-0.9zM378.4 324.4h0.9v0.9h-0.9zM384.6 320.9h0.9v0.9h-0.9zM389.0 314.8h0.9v0.9h-0.9zM387.0 319.4h0.9v0.9h-0.9zM387.3 316.7h0.9v0.9h-0.9zM382.8 320.3h0.9v0.9h-0.9zM387.3 317.6h0.9v0.9h-0.9zM381.0 323.9h0.9v0.9h-0.9zM383.5 320.7h0.9v0.9h-0.9zM388.7 315.6h0.9v0.9h-0.9zM375.2 329.0h0.9v0.9h-0.9zM388.0 316.9h0.9v0.9h-0.9zM387.1 324.9h0.9v0.9h-0.9zM379.0 324.3h0.9v0.9h-0.9zM382.5 323.5h0.9v0.9h-0.9zM382.9 319.9h0.9v0.9h-0.9zM392.2 308.7h0.9v0.9h-0.9zM381.7 323.4h0.9v0.9h-0.9zM378.8 329.0h0.9v0.9h-0.9zM379.7 323.3h0.9v0.9h-0.9zM391.2 312.2h0.9v0.9h-0.9zM379.7 323.2h0.9v0.9h-0.9zM385.1 317.7h0.9v0.9h-0.9zM381.9 327.5h0.9v0.9h-0.9zM378.0 330.4h0.9v0.9h-0.9zM378.9 327.1h0.9v0.9h-0.9zM386.7 323.4h0.9v0.9h-0.9zM378.0 323.0h0.9v0.9h-0.9zM384.0 327.9h0.9v0.9h-0.9zM380.6 321.5h0.9v0.9h-0.9zM393.0 308.8h0.9v0.9h-0.9zM378.8 329.1h0.9v0.9h-0.9zM382.7 322.4h0.9v0.9h-0.9zM379.8 325.5h0.9v0.9h-0.9zM391.7 314.7h0.9v0.9h-0.9zM378.1 331.6h0.9v0.9h-0.9zM392.8 308.5h0.9v0.9h-0.9zM384.4 319.5h0.9v0.9h-0.9zM377.1 328.1h0.9v0.9h-0.9zM393.0 309.1h0.9v0.9h-0.9zM386.0 319.1h0.9v0.9h-0.9zM389.9 314.5h0.9v0.9h-0.9zM392.8 309.8h0.9v0.9h-0.9zM377.6 326.9h0.9v0.9h-0.9zM386.3 315.0h0.9v0.9h-0.9zM384.1 319.4h0.9v0.9h-0.9zM385.7 321.5h0.9v0.9h-0.9zM389.7 312.9h0.9v0.9h-0.9zM376.8 323.9h0.9v0.9h-0.9zM384.5 318.4h0.9v0.9h-0.9zM384.4 322.2h0.9v0.9h-0.9zM394.4 307.9h0.9v0.9h-0.9zM379.0 323.6h0.9v0.9h-0.9zM372.4 326.0h0.9v0.9h-0.9zM378.6 325.1h0.9v0.9h-0.9zM385.8 319.1h0.9v0.9h-0.9zM383.2 322.1h0.9v0.9h-0.9zM381.1 329.0h0.9v0.9h-0.9zM388.4 315.7h0.9v0.9h-0.9zM376.4 325.9h0.9v0.9h-0.9zM391.4 310.4h0.9v0.9h-0.9zM383.5 324.3h0.9v0.9h-0.9zM385.1 321.2h0.9v0.9h-0.9zM388.3 314.7h0.9v0.9h-0.9zM378.1 323.3h0.9v0.9h-0.9zM389.1 311.8h0.9v0.9h-0.9zM389.4 315.4h0.9v0.9h-0.9zM372.6 329.0h0.9v0.9h-0.9zM379.1 320.5h0.9v0.9h-0.9zM373.8 330.3h0.9v0.9h-0.9zM377.2 327.3h0.9v0.9h-0.9zM381.5 325.4h0.9v0.9h-0.9zM380.0 326.7h0.9v0.9h-0.9zM377.5 328.8h0.9v0.9h-0.9zM384.8 321.4h0.9v0.9h-0.9zM392.5 314.3h0.9v0.9h-0.9zM390.9 312.8h0.9v0.9h-0.9zM378.9 326.0h0.9v0.9h-0.9zM377.4 326.8h0.9v0.9h-0.9zM386.1 316.7h0.9v0.9h-0.9zM375.5 331.3h0.9v0.9h-0.9zM379.2 327.4h0.9v0.9h-0.9zM375.0 322.2h0.9v0.9h-0.9zM382.3 326.2h0.9v0.9h-0.9zM387.0 317.0h0.9v0.9h-0.9zM387.6 318.3h0.9v0.9h-0.9zM378.7 323.3h0.9v0.9h-0.9zM378.9 322.8h0.9v0.9h-0.9zM387.0 316.2h0.9v0.9h-0.9zM382.3 324.5h0.9v0.9h-0.9zM378.6 326.8h0.9v0.9h-0.9zM379.5 324.5h0.9v0.9h-0.9zM391.6 309.8h0.9v0.9h-0.9zM383.3 322.0h0.9v0.9h-0.9zM379.8 327.1h0.9v0.9h-0.9zM388.8 313.9h0.9v0.9h-0.9zM384.2 318.9h0.9v0.9h-0.9zM381.8 324.7h0.9v0.9h-0.9zM386.0 317.4h0.9v0.9h-0.9zM385.9 316.5h0.9v0.9h-0.9zM392.8 309.0h0.9v0.9h-0.9zM382.0 324.1h0.9v0.9h-0.9zM378.2 325.7h0.9v0.9h-0.9zM385.9 317.4h0.9v0.9h-0.9zM388.8 311.9h0.9v0.9h-0.9zM382.1 318.8h0.9v0.9h-0.9zM381.5 322.2h0.9v0.9h-0.9zM382.0 323.3h0.9v0.9h-0.9zM378.1 325.1h0.9v0.9h-0.9zM386.0 316.0h0.9v0.9h-0.9zM379.9 328.3h0.9v0.9h-0.9zM386.3 315.3h0.9v0.9h-0.9zM380.0 324.8h0.9v0.9h-0.9zM380.4 320.2h0.9v0.9h-0.9zM378.8 325.0h0.9v0.9h-0.9zM379.4 332.4h0.9v0.9h-0.9zM381.6 324.1h0.9v0.9h-0.9zM374.8 328.1h0.9v0.9h-0.9zM387.5 314.7h0.9v0.9h-0.9zM382.6 325.2h0.9v0.9h-0.9zM381.5 325.3h0.9v0.9h-0.9zM386.3 320.8h0.9v0.9h-0.9zM383.7 321.3h0.9v0.9h-0.9zM383.6 321.4h0.9v0.9h-0.9zM379.0 324.9h0.9v0.9h-0.9zM381.3 323.5h0.9v0.9h-0.9zM391.7 312.0h0.9v0.9h-0.9zM374.6 324.5h0.9v0.9h-0.9zM391.8 311.7h0.9v0.9h-0.9zM375.4 327.0h0.9v0.9h-0.9zM393.8 308.4h0.9v0.9h-0.9zM378.0 325.4h0.9v0.9h-0.9zM378.2 322.3h0.9v0.9h-0.9zM383.1 324.7h0.9v0.9h-0.9zM383.1 328.4h0.9v0.9h-0.9zM382.9 326.6h0.9v0.9h-0.9zM383.0 319.8h0.9v0.9h-0.9zM390.7 317.0h0.9v0.9h-0.9zM383.1 325.2h0.9v0.9h-0.9zM376.5 330.9h0.9v0.9h-0.9zM375.8 335.8h0.9v0.9h-0.9zM377.9 332.2h0.9v0.9h-0.9zM393.6 313.1h0.9v0.9h-0.9zM377.8 325.1h0.9v0.9h-0.9zM381.0 323.3h0.9v0.9h-0.9zM382.1 321.8h0.9v0.9h-0.9zM373.6 329.3h0.9v0.9h-0.9zM381.4 320.9h0.9v0.9h-0.9zM384.1 320.6h0.9v0.9h-0.9zM380.8 317.6h0.9v0.9h-0.9zM382.2 327.3h0.9v0.9h-0.9zM381.3 319.4h0.9v0.9h-0.9zM390.9 311.1h0.9v0.9h-0.9zM380.9 326.7h0.9v0.9h-0.9zM383.5 319.2h0.9v0.9h-0.9zM391.6 310.8h0.9v0.9h-0.9zM374.4 322.3h0.9v0.9h-0.9zM382.2 322.9h0.9v0.9h-0.9zM381.0 320.6h0.9v0.9h-0.9zM374.8 334.0h0.9v0.9h-0.9zM390.6 312.7h0.9v0.9h-0.9zM378.0 325.2h0.9v0.9h-0.9zM393.7 308.2h0.9v0.9h-0.9zM395.0 309.2h0.9v0.9h-0.9zM379.0 332.2h0.9v0.9h-0.9zM379.9 325.9h0.9v0.9h-0.9zM379.1 327.0h0.9v0.9h-0.9zM381.9 326.7h0.9v0.9h-0.9zM391.8 312.3h0.9v0.9h-0.9zM375.9 329.9h0.9v0.9h-0.9zM384.0 317.6h0.9v0.9h-0.9zM380.4 320.9h0.9v0.9h-0.9zM376.3 330.1h0.9v0.9h-0.9zM383.8 324.0h0.9v0.9h-0.9zM382.2 317.4h0.9v0.9h-0.9zM383.5 321.6h0.9v0.9h-0.9zM374.3 331.0h0.9v0.9h-0.9zM391.6 312.1h0.9v0.9h-0.9zM382.6 326.5h0.9v0.9h-0.9zM375.7 326.2h0.9v0.9h-0.9zM389.6 314.9h0.9v0.9h-0.9zM379.2 325.4h0.9v0.9h-0.9zM374.3 331.0h0.9v0.9h-0.9zM392.8 307.9h0.9v0.9h-0.9zM383.5 319.3h0.9v0.9h-0.9zM383.6 323.3h0.9v0.9h-0.9zM384.3 322.9h0.9v0.9h-0.9zM391.4 312.7h0.9v0.9h-0.9zM393.2 310.2h0.9v0.9h-0.9zM380.8 322.7h0.9v0.9h-0.9zM380.0 324.1h0.9v0.9h-0.9zM391.8 311.8h0.9v0.9h-0.9zM391.0 311.9h0.9v0.9h-0.9zM381.7 322.8h0.9v0.9h-0.9zM377.8 328.9h0.9v0.9h-0.9zM382.1 324.6h0.9v0.9h-0.9zM377.6 331.3h0.9v0.9h-0.9zM392.8 310.0h0.9v0.9h-0.9zM377.6 328.6h0.9v0.9h-0.9zM386.4 317.7h0.9v0.9h-0.9zM389.4 311.9h0.9v0.9h-0.9zM387.7 315.5h0.9v0.9h-0.9zM382.6 323.6h0.9v0.9h-0.9zM387.6 313.0h0.9v0.9h-0.9zM381.1 325.0h0.9v0.9h-0.9zM379.8 322.2h0.9v0.9h-0.9zM382.3 323.5h0.9v0.9h-0.9zM378.4 325.7h0.9v0.9h-0.9zM388.8 310.8h0.9v0.9h-0.9zM379.8 320.9h0.9v0.9h-0.9zM386.0 317.2h0.9v0.9h-0.9zM386.1 313.6h0.9v0.9h-0.9zM376.3 341.1h0.9v0.9h-0.9zM387.4 315.3h0.9v0.9h-0.9zM388.0 317.6h0.9v0.9h-0.9zM390.4 312.5h0.9v0.9h-0.9zM381.3 324.2h0.9v0.9h-0.9zM376.2 328.9h0.9v0.9h-0.9zM382.3 320.9h0.9v0.9h-0.9zM374.2 331.0h0.9v0.9h-0.9zM382.0 322.3h0.9v0.9h-0.9zM375.8 327.5h0.9v0.9h-0.9zM383.5 320.8h0.9v0.9h-0.9zM376.7 336.3h0.9v0.9h-0.9zM390.1 312.0h0.9v0.9h-0.9zM378.5 324.9h0.9v0.9h-0.9zM384.6 315.1h0.9v0.9h-0.9zM381.4 321.3h0.9v0.9h-0.9zM389.6 312.3h0.9v0.9h-0.9zM384.5 317.6h0.9v0.9h-0.9zM376.9 327.0h0.9v0.9h-0.9zM389.2 316.0h0.9v0.9h-0.9zM392.3 309.9h0.9v0.9h-0.9zM383.0 325.0h0.9v0.9h-0.9zM380.3 325.0h0.9v0.9h-0.9zM381.9 323.6h0.9v0.9h-0.9zM387.6 314.0h0.9v0.9h-0.9zM376.9 325.7h0.9v0.9h-0.9zM390.1 311.5h0.9v0.9h-0.9zM388.9 315.7h0.9v0.9h-0.9zM379.0 323.0h0.9v0.9h-0.9zM379.8 320.7h0.9v0.9h-0.9zM389.5 311.8h0.9v0.9h-0.9zM383.2 326.1h0.9v0.9h-0.9zM379.1 326.8h0.9v0.9h-0.9zM392.2 315.3h0.9v0.9h-0.9zM378.2 334.4h0.9v0.9h-0.9zM387.4 315.0h0.9v0.9h-0.9zM392.0 311.1h0.9v0.9h-0.9zM388.8 316.3h0.9v0.9h-0.9zM388.5 313.6h0.9v0.9h-0.9zM395.0 309.9h0.9v0.9h-0.9zM374.0 325.7h0.9v0.9h-0.9zM394.5 308.5h0.9v0.9h-0.9zM384.9 318.1h0.9v0.9h-0.9zM383.7 322.9h0.9v0.9h-0.9zM386.2 315.8h0.9v0.9h-0.9zM382.2 320.1h0.9v0.9h-0.9zM371.0 332.4h0.9v0.9h-0.9zM389.0 316.4h0.9v0.9h-0.9zM392.4 308.3h0.9v0.9h-0.9zM391.9 310.4h0.9v0.9h-0.9zM387.4 316.2h0.9v0.9h-0.9zM391.6 309.7h0.9v0.9h-0.9zM384.1 327.8h0.9v0.9h-0.9zM380.6 325.3h0.9v0.9h-0.9zM381.8 322.4h0.9v0.9h-0.9zM377.7 326.0h0.9v0.9h-0.9zM376.5 330.6h0.9v0.9h-0.9zM380.5 325.1h0.9v0.9h-0.9zM382.6 320.4h0.9v0.9h-0.9zM392.5 310.6h0.9v0.9h-0.9zM391.5 312.4h0.9v0.9h-0.9zM376.9 328.8h0.9v0.9h-0.9zM391.3 310.5h0.9v0.9h-0.9zM392.1 308.6h0.9v0.9h-0.9zM387.0 316.7h0.9v0.9h-0.9zM381.0 325.7h0.9v0.9h-0.9zM388.0 315.9h0.9v0.9h-0.9zM392.0 310.3h0.9v0.9h-0.9zM388.3 313.1h0.9v0.9h-0.9zM385.6 316.6h0.9v0.9h-0.9zM383.3 321.1h0.9v0.9h-0.9zM379.8 324.7h0.9v0.9h-0.9zM384.4 321.4h0.9v0.9h-0.9zM391.2 310.8h0.9v0.9h-0.9zM383.7 319.8h0.9v0.9h-0.9zM376.9 326.5h0.9v0.9h-0.9zM375.4 326.0h0.9v0.9h-0.9zM381.0 323.3h0.9v0.9h-0.9zM376.9 336.1h0.9v0.9h-0.9zM377.4 327.2h0.9v0.9h-0.9zM383.2 327.7h0.9v0.9h-0.9zM379.5 325.1h0.9v0.9h-0.9zM389.7 309.5h0.9v0.9h-0.9zM377.6 325.2h0.9v0.9h-0.9zM382.1 323.6h0.9v0.9h-0.9zM376.8 331.2h0.9v0.9h-0.9zM385.1 316.2h0.9v0.9h-0.9zM379.2 324.8h0.9v0.9h-0.9zM377.7 334.3h0.9v0.9h-0.9zM382.7 326.4h0.9v0.9h-0.9zM378.4 331.2h0.9v0.9h-0.9zM372.8 325.9h0.9v0.9h-0.9zM386.5 322.6h0.9v0.9h-0.9zM381.1 323.6h0.9v0.9h-0.9zM380.4 321.5h0.9v0.9h-0.9zM376.5 329.3h0.9v0.9h-0.9zM385.1 318.7h0.9v0.9h-0.9zM386.4 319.6h0.9v0.9h-0.9zM379.9 324.3h0.9v0.9h-0.9zM390.6 311.9h0.9v0.9h-0.9zM382.0 324.9h0.9v0.9h-0.9zM384.3 320.6h0.9v0.9h-0.9zM377.0 329.8h0.9v0.9h-0.9zM392.7 309.4h0.9v0.9h-0.9zM373.0 329.1h0.9v0.9h-0.9zM389.3 315.4h0.9v0.9h-0.9zM391.0 313.8h0.9v0.9h-0.9zM390.6 313.3h0.9v0.9h-0.9zM382.5 325.2h0.9v0.9h-0.9zM389.8 313.4h0.9v0.9h-0.9zM376.4 324.9h0.9v0.9h-0.9zM394.2 308.6h0.9v0.9h-0.9zM375.1 327.6h0.9v0.9h-0.9zM380.5 327.0h0.9v0.9h-0.9zM376.2 332.1h0.9v0.9h-0.9zM382.4 319.5h0.9v0.9h-0.9zM380.8 322.7h0.9v0.9h-0.9zM387.2 323.0h0.9v0.9h-0.9zM393.6 310.7h0.9v0.9h-0.9zM387.8 312.0h0.9v0.9h-0.9zM373.2 334.2h0.9v0.9h-0.9zM381.5 323.0h0.9v0.9h-0.9zM389.2 314.0h0.9v0.9h-0.9zM383.8 326.2h0.9v0.9h-0.9zM388.1 314.2h0.9v0.9h-0.9zM395.2 309.9h0.9v0.9h-0.9zM375.1 329.5h0.9v0.9h-0.9zM381.8 323.6h0.9v0.9h-0.9zM393.4 308.9h0.9v0.9h-0.9zM378.1 330.0h0.9v0.9h-0.9zM387.4 324.1h0.9v0.9h-0.9zM376.9 327.6h0.9v0.9h-0.9zM378.4 328.3h0.9v0.9h-0.9zM383.6 319.6h0.9v0.9h-0.9zM392.4 309.0h0.9v0.9h-0.9zM386.0 317.9h0.9v0.9h-0.9zM393.4 309.2h0.9v0.9h-0.9zM392.9 311.7h0.9v0.9h-0.9zM372.3 337.5h0.9v0.9h-0.9zM385.4 321.9h0.9v0.9h-0.9zM370.9 331.9h0.9v0.9h-0.9zM392.2 312.3h0.9v0.9h-0.9zM392.7 312.5h0.9v0.9h-0.9zM393.7 313.6h0.9v0.9h-0.9zM387.9 315.9h0.9v0.9h-0.9zM393.4 312.2h0.9v0.9h-0.9zM387.3 319.5h0.9v0.9h-0.9zM377.0 337.2h0.9v0.9h-0.9zM390.8 310.4h0.9v0.9h-0.9zM378.6 323.5h0.9v0.9h-0.9zM391.4 309.4h0.9v0.9h-0.9zM390.1 315.6h0.9v0.9h-0.9zM378.0 332.1h0.9v0.9h-0.9zM388.0 314.5h0.9v0.9h-0.9zM394.4 307.9h0.9v0.9h-0.9zM373.9 334.3h0.9v0.9h-0.9zM392.3 312.0h0.9v0.9h-0.9zM380.4 327.6h0.9v0.9h-0.9zM387.4 317.5h0.9v0.9h-0.9zM389.9 317.2h0.9v0.9h-0.9zM375.7 331.3h0.9v0.9h-0.9zM377.9 324.2h0.9v0.9h-0.9zM385.8 315.8h0.9v0.9h-0.9zM394.2 308.0h0.9v0.9h-0.9zM387.6 317.9h0.9v0.9h-0.9zM389.3 313.7h0.9v0.9h-0.9zM393.3 310.0h0.9v0.9h-0.9zM384.0 321.5h0.9v0.9h-0.9zM388.2 318.4h0.9v0.9h-0.9zM382.2 320.4h0.9v0.9h-0.9zM383.6 324.5h0.9v0.9h-0.9zM385.1 318.6h0.9v0.9h-0.9zM381.5 325.8h0.9v0.9h-0.9zM373.9 330.3h0.9v0.9h-0.9zM393.3 307.9h0.9v0.9h-0.9zM375.7 326.7h0.9v0.9h-0.9zM383.0 327.8h0.9v0.9h-0.9zM387.4 316.5h0.9v0.9h-0.9zM385.7 319.2h0.9v0.9h-0.9zM390.8 314.5h0.9v0.9h-0.9zM376.1 329.6h0.9v0.9h-0.9zM372.7 335.3h0.9v0.9h-0.9zM381.8 327.1h0.9v0.9h-0.9zM379.7 331.0h0.9v0.9h-0.9zM383.7 323.2h0.9v0.9h-0.9zM381.3 318.5h0.9v0.9h-0.9zM385.8 320.8h0.9v0.9h-0.9zM373.0 343.0h0.9v0.9h-0.9zM380.6 319.9h0.9v0.9h-0.9zM374.4 331.5h0.9v0.9h-0.9zM377.0 324.9h0.9v0.9h-0.9zM391.9 309.6h0.9v0.9h-0.9zM382.9 323.5h0.9v0.9h-0.9zM392.2 310.7h0.9v0.9h-0.9zM386.5 316.8h0.9v0.9h-0.9zM382.0 321.5h0.9v0.9h-0.9zM383.1 320.1h0.9v0.9h-0.9zM390.7 311.2h0.9v0.9h-0.9zM381.1 321.9h0.9v0.9h-0.9zM389.2 314.2h0.9v0.9h-0.9zM380.4 326.9h0.9v0.9h-0.9zM377.9 325.2h0.9v0.9h-0.9zM390.8 311.4h0.9v0.9h-0.9zM386.5 321.3h0.9v0.9h-0.9zM373.3 330.8h0.9v0.9h-0.9zM376.9 324.4h0.9v0.9h-0.9zM381.3 321.1h0.9v0.9h-0.9zM393.7 309.2h0.9v0.9h-0.9zM381.2 323.8h0.9v0.9h-0.9zM390.1 312.5h0.9v0.9h-0.9zM378.5 323.1h0.9v0.9h-0.9zM388.2 317.3h0.9v0.9h-0.9zM388.2 314.7h0.9v0.9h-0.9zM391.9 311.8h0.9v0.9h-0.9zM376.4 333.2h0.9v0.9h-0.9zM386.3 317.4h0.9v0.9h-0.9zM393.6 310.7h0.9v0.9h-0.9zM382.7 321.3h0.9v0.9h-0.9zM377.0 328.4h0.9v0.9h-0.9zM385.9 319.8h0.9v0.9h-0.9zM383.6 321.5h0.9v0.9h-0.9zM386.0 317.5h0.9v0.9h-0.9zM393.6 307.2h0.9v0.9h-0.9zM380.4 335.6h0.9v0.9h-0.9zM380.9 327.6h0.9v0.9h-0.9zM384.5 321.8h0.9v0.9h-0.9zM384.5 318.7h0.9v0.9h-0.9zM378.9 328.5h0.9v0.9h-0.9zM382.8 318.2h0.9v0.9h-0.9zM374.4 334.1h0.9v0.9h-0.9zM383.3 322.8h0.9v0.9h-0.9zM386.6 321.8h0.9v0.9h-0.9zM383.1 323.2h0.9v0.9h-0.9zM383.4 324.7h0.9v0.9h-0.9zM393.4 310.3h0.9v0.9h-0.9zM390.5 311.5h0.9v0.9h-0.9zM379.1 327.4h0.9v0.9h-0.9zM388.9 313.4h0.9v0.9h-0.9zM379.7 326.6h0.9v0.9h-0.9zM393.6 310.6h0.9v0.9h-0.9zM383.9 320.3h0.9v0.9h-0.9zM382.2 323.5h0.9v0.9h-0.9zM379.2 323.9h0.9v0.9h-0.9zM379.4 325.4h0.9v0.9h-0.9zM380.7 323.0h0.9v0.9h-0.9zM375.6 325.2h0.9v0.9h-0.9zM380.2 330.5h0.9v0.9h-0.9zM375.3 334.1h0.9v0.9h-0.9zM393.3 309.2h0.9v0.9h-0.9zM385.8 317.2h0.9v0.9h-0.9zM388.8 312.6h0.9v0.9h-0.9z" fill="#000" fill-opacity="0.5"/>
<rect x="355.50" y="275.50" width="72.00" height="72.00" fill="none" stroke="#000" stroke-width="1"/>
<line x1="396.50" y1="275.50" x2="396.50" y2="347.50" stroke="#1a1a1a" stroke-width="1"/>
<line x1="355.50" y1="306.50" x2="427.50" y2="306.50" stroke="#1a1a1a" stroke-width="1"/>
<line x1="354.40" y1="277.50" x2="354.40" y2="347.50" stroke="#333" stroke-width="0.9" stroke-dasharray="0.7 1.6"/>
<line x1="355.50" y1="348.60" x2="425.50" y2="348.60" stroke="#333" stroke-width="0.9" stroke-dasharray="0.7 1.6"/>
<line x1="353.70" y1="347.00" x2="355.50" y2="347.00" stroke="#222" stroke-width="0.9"/>
<line x1="356.00" y1="347.50" x2="356.00" y2="349.30" stroke="#222" stroke-width="0.9"/>
<line x1="353.70" y1="329.00" x2="355.50" y2="329.00" stroke="#222" stroke-width="0.9"/>
<line x1="374.00" y1="347.50" x2="374.00" y2="349.30" stroke="#222" stroke-width="0.9"/>
<line x1="353.70" y1="311.00" x2="355.50" y2="311.00" stroke="#222" stroke-width="0.9"/>
<line x1="392.00" y1="347.50" x2="392.00" y2="349.30" stroke="#222" stroke-width="0.9"/>
<line x1="353.70" y1="293.00" x2="355.50" y2="293.00" stroke="#222" stroke-width="0.9"/>
<line x1="410.00" y1="347.50" x2="410.00" y2="349.30" stroke="#222" stroke-width="0.9"/>
<text transform="translate(391.90,269.30) scale(1,1.15)" font-size="8.1" text-anchor="middle" >LPS+Dex</text>
<text transform="translate(356.70,283.80) scale(1,1.15)" font-size="7.8" text-anchor="start" >0.3</text>
<text transform="translate(426.70,283.80) scale(1,1.15)" font-size="7.8" text-anchor="end" >0.1</text>
<text transform="translate(356.70,344.80) scale(1,1.15)" font-size="7.8" text-anchor="start" >99.4</text>
<text transform="translate(426.70,344.80) scale(1,1.15)" font-size="7.8" text-anchor="end" >0.2</text>
<path d="M446.2 345.8h0.8v0.8h-0.8zM447.5 332.6h0.8v0.8h-0.8zM445.3 327.1h0.8v0.8h-0.8zM446.9 335.0h0.8v0.8h-0.8zM455.3 334.8h0.8v0.8h-0.8zM449.0 338.4h0.8v0.8h-0.8zM452.7 327.4h0.8v0.8h-0.8zM450.4 333.9h0.8v0.8h-0.8zM444.2 333.9h0.8v0.8h-0.8zM451.3 331.4h0.8v0.8h-0.8zM437.1 345.2h0.8v0.8h-0.8zM450.7 328.1h0.8v0.8h-0.8zM453.2 333.8h0.8v0.8h-0.8zM463.4 312.9h0.8v0.8h-0.8zM439.5 342.1h0.8v0.8h-0.8zM458.3 321.5h0.8v0.8h-0.8zM442.4 338.3h0.8v0.8h-0.8zM444.2 337.6h0.8v0.8h-0.8zM451.1 327.9h0.8v0.8h-0.8zM455.5 332.2h0.8v0.8h-0.8zM445.8 333.6h0.8v0.8h-0.8zM461.7 319.4h0.8v0.8h-0.8zM445.3 338.4h0.8v0.8h-0.8zM457.7 320.8h0.8v0.8h-0.8zM450.4 326.1h0.8v0.8h-0.8zM457.5 325.9h0.8v0.8h-0.8zM451.9 330.0h0.8v0.8h-0.8zM451.4 330.8h0.8v0.8h-0.8zM454.2 326.1h0.8v0.8h-0.8zM457.2 325.2h0.8v0.8h-0.8zM447.3 338.8h0.8v0.8h-0.8zM449.6 333.3h0.8v0.8h-0.8zM440.5 341.6h0.8v0.8h-0.8zM449.3 331.6h0.8v0.8h-0.8zM446.9 338.9h0.8v0.8h-0.8zM450.0 337.1h0.8v0.8h-0.8zM432.6 346.0h0.8v0.8h-0.8zM450.0 324.9h0.8v0.8h-0.8zM448.4 327.5h0.8v0.8h-0.8zM452.1 332.1h0.8v0.8h-0.8zM451.3 338.1h0.8v0.8h-0.8zM453.7 314.6h0.8v0.8h-0.8zM457.8 328.8h0.8v0.8h-0.8zM442.9 334.1h0.8v0.8h-0.8zM446.4 331.1h0.8v0.8h-0.8zM461.8 325.8h0.8v0.8h-0.8zM455.5 330.5h0.8v0.8h-0.8zM443.6 344.5h0.8v0.8h-0.8zM446.0 333.7h0.8v0.8h-0.8zM458.9 323.9h0.8v0.8h-0.8zM453.9 327.8h0.8v0.8h-0.8zM455.4 324.4h0.8v0.8h-0.8zM449.1 330.9h0.8v0.8h-0.8zM458.1 320.1h0.8v0.8h-0.8zM446.9 334.0h0.8v0.8h-0.8zM457.7 333.2h0.8v0.8h-0.8zM450.8 329.2h0.8v0.8h-0.8zM439.4 337.4h0.8v0.8h-0.8zM444.0 337.1h0.8v0.8h-0.8zM453.0 327.4h0.8v0.8h-0.8zM450.5 328.4h0.8v0.8h-0.8zM457.8 321.8h0.8v0.8h-0.8zM451.7 332.3h0.8v0.8h-0.8zM441.0 341.8h0.8v0.8h-0.8zM455.4 327.2h0.8v0.8h-0.8zM456.1 327.6h0.8v0.8h-0.8zM449.9 329.4h0.8v0.8h-0.8zM451.4 331.7h0.8v0.8h-0.8zM446.5 340.2h0.8v0.8h-0.8zM451.8 334.4h0.8v0.8h-0.8zM449.7 336.4h0.8v0.8h-0.8zM441.5 334.0h0.8v0.8h-0.8zM447.8 338.1h0.8v0.8h-0.8zM439.4 342.3h0.8v0.8h-0.8zM453.1 332.5h0.8v0.8h-0.8zM440.6 339.5h0.8v0.8h-0.8zM452.2 330.8h0.8v0.8h-0.8zM452.2 331.4h0.8v0.8h-0.8zM445.7 341.1h0.8v0.8h-0.8zM453.7 328.1h0.8v0.8h-0.8zM458.7 320.3h0.8v0.8h-0.8zM441.6 340.3h0.8v0.8h-0.8zM450.8 339.7h0.8v0.8h-0.8zM452.2 326.2h0.8v0.8h-0.8zM443.5 346.4h0.8v0.8h-0.8zM454.4 320.7h0.8v0.8h-0.8zM444.4 334.7h0.8v0.8h-0.8zM443.4 343.0h0.8v0.8h-0.8zM447.4 325.1h0.8v0.8h-0.8zM451.3 333.3h0.8v0.8h-0.8zM446.8 336.0h0.8v0.8h-0.8zM452.5 326.3h0.8v0.8h-0.8zM451.0 328.1h0.8v0.8h-0.8zM454.8 329.5h0.8v0.8h-0.8zM452.2 330.6h0.8v0.8h-0.8zM452.0 332.7h0.8v0.8h-0.8zM449.5 340.7h0.8v0.8h-0.8zM460.1 331.0h0.8v0.8h-0.8zM446.7 332.3h0.8v0.8h-0.8zM444.1 343.3h0.8v0.8h-0.8zM448.5 336.9h0.8v0.8h-0.8zM448.0 340.9h0.8v0.8h-0.8zM447.8 333.1h0.8v0.8h-0.8zM461.1 324.1h0.8v0.8h-0.8zM444.9 340.5h0.8v0.8h-0.8zM447.8 330.5h0.8v0.8h-0.8zM460.2 322.2h0.8v0.8h-0.8zM448.2 322.9h0.8v0.8h-0.8zM457.5 323.5h0.8v0.8h-0.8zM451.8 333.3h0.8v0.8h-0.8zM452.9 335.1h0.8v0.8h-0.8zM447.8 335.0h0.8v0.8h-0.8zM451.2 338.3h0.8v0.8h-0.8zM453.5 336.8h0.8v0.8h-0.8zM444.3 326.6h0.8v0.8h-0.8zM450.8 334.1h0.8v0.8h-0.8zM446.2 340.7h0.8v0.8h-0.8zM447.2 328.2h0.8v0.8h-0.8zM450.1 327.3h0.8v0.8h-0.8zM453.4 333.9h0.8v0.8h-0.8zM447.9 332.1h0.8v0.8h-0.8zM450.1 338.6h0.8v0.8h-0.8zM456.7 318.9h0.8v0.8h-0.8zM450.1 337.4h0.8v0.8h-0.8zM449.8 332.9h0.8v0.8h-0.8zM446.7 337.6h0.8v0.8h-0.8zM448.0 335.5h0.8v0.8h-0.8zM445.1 333.8h0.8v0.8h-0.8zM456.3 328.1h0.8v0.8h-0.8zM450.2 334.1h0.8v0.8h-0.8zM451.0 325.9h0.8v0.8h-0.8zM457.2 321.9h0.8v0.8h-0.8zM448.0 344.7h0.8v0.8h-0.8zM447.0 334.5h0.8v0.8h-0.8zM458.6 328.4h0.8v0.8h-0.8zM451.5 335.9h0.8v0.8h-0.8zM449.3 338.7h0.8v0.8h-0.8zM453.3 321.1h0.8v0.8h-0.8zM451.2 329.3h0.8v0.8h-0.8zM450.4 328.6h0.8v0.8h-0.8zM436.5 345.8h0.8v0.8h-0.8zM447.1 336.2h0.8v0.8h-0.8zM444.9 343.0h0.8v0.8h-0.8zM435.7 344.6h0.8v0.8h-0.8zM441.5 339.1h0.8v0.8h-0.8zM449.6 330.5h0.8v0.8h-0.8zM455.3 324.1h0.8v0.8h-0.8zM442.0 340.3h0.8v0.8h-0.8zM445.0 336.4h0.8v0.8h-0.8zM445.8 333.6h0.8v0.8h-0.8zM451.5 326.6h0.8v0.8h-0.8zM454.4 328.3h0.8v0.8h-0.8zM448.2 343.7h0.8v0.8h-0.8zM437.6 346.2h0.8v0.8h-0.8zM448.1 333.9h0.8v0.8h-0.8zM444.5 341.9h0.8v0.8h-0.8zM451.6 338.3h0.8v0.8h-0.8zM458.0 325.8h0.8v0.8h-0.8zM452.5 332.8h0.8v0.8h-0.8zM447.4 331.9h0.8v0.8h-0.8zM451.3 337.0h0.8v0.8h-0.8zM447.8 344.1h0.8v0.8h-0.8zM442.4 339.6h0.8v0.8h-0.8zM444.6 335.9h0.8v0.8h-0.8zM440.0 342.8h0.8v0.8h-0.8zM447.8 343.6h0.8v0.8h-0.8zM451.6 334.3h0.8v0.8h-0.8zM447.4 330.5h0.8v0.8h-0.8zM449.6 329.6h0.8v0.8h-0.8zM445.1 341.3h0.8v0.8h-0.8zM446.8 331.0h0.8v0.8h-0.8zM448.4 335.6h0.8v0.8h-0.8zM455.1 327.8h0.8v0.8h-0.8zM453.0 329.6h0.8v0.8h-0.8zM463.3 325.2h0.8v0.8h-0.8zM453.7 331.5h0.8v0.8h-0.8zM444.4 335.2h0.8v0.8h-0.8zM448.7 333.4h0.8v0.8h-0.8zM460.2 323.4h0.8v0.8h-0.8zM447.7 336.8h0.8v0.8h-0.8zM455.0 335.2h0.8v0.8h-0.8zM450.0 331.0h0.8v0.8h-0.8zM451.3 337.6h0.8v0.8h-0.8zM451.0 334.8h0.8v0.8h-0.8zM438.8 333.1h0.8v0.8h-0.8zM454.0 323.7h0.8v0.8h-0.8zM450.5 333.4h0.8v0.8h-0.8zM443.1 336.0h0.8v0.8h-0.8zM454.1 328.8h0.8v0.8h-0.8zM448.2 330.9h0.8v0.8h-0.8zM462.0 315.3h0.8v0.8h-0.8zM440.7 335.5h0.8v0.8h-0.8zM448.5 334.1h0.8v0.8h-0.8zM443.9 335.6h0.8v0.8h-0.8zM456.4 327.1h0.8v0.8h-0.8zM446.0 333.5h0.8v0.8h-0.8zM450.8 331.8h0.8v0.8h-0.8zM461.3 327.2h0.8v0.8h-0.8zM442.4 346.3h0.8v0.8h-0.8zM447.3 335.8h0.8v0.8h-0.8zM453.4 338.9h0.8v0.8h-0.8zM446.2 338.2h0.8v0.8h-0.8zM455.3 328.1h0.8v0.8h-0.8zM440.0 344.2h0.8v0.8h-0.8zM453.2 328.0h0.8v0.8h-0.8zM444.5 337.8h0.8v0.8h-0.8zM456.2 327.3h0.8v0.8h-0.8zM455.0 323.5h0.8v0.8h-0.8zM451.7 322.6h0.8v0.8h-0.8zM448.0 334.6h0.8v0.8h-0.8zM455.0 329.4h0.8v0.8h-0.8zM456.0 319.5h0.8v0.8h-0.8zM458.6 318.8h0.8v0.8h-0.8zM452.8 328.7h0.8v0.8h-0.8zM453.9 326.9h0.8v0.8h-0.8zM456.6 325.3h0.8v0.8h-0.8zM449.8 331.5h0.8v0.8h-0.8zM443.1 333.6h0.8v0.8h-0.8zM441.7 339.8h0.8v0.8h-0.8zM454.8 332.1h0.8v0.8h-0.8zM447.9 336.0h0.8v0.8h-0.8zM450.7 330.1h0.8v0.8h-0.8zM446.7 330.9h0.8v0.8h-0.8zM445.8 341.6h0.8v0.8h-0.8zM445.8 343.6h0.8v0.8h-0.8zM455.8 333.6h0.8v0.8h-0.8zM453.8 334.3h0.8v0.8h-0.8zM448.9 342.8h0.8v0.8h-0.8zM453.2 324.6h0.8v0.8h-0.8zM446.2 336.3h0.8v0.8h-0.8zM451.7 335.4h0.8v0.8h-0.8zM450.2 330.8h0.8v0.8h-0.8zM445.2 335.7h0.8v0.8h-0.8zM453.6 332.3h0.8v0.8h-0.8zM452.5 330.9h0.8v0.8h-0.8zM446.1 331.1h0.8v0.8h-0.8zM450.9 332.9h0.8v0.8h-0.8zM459.1 318.4h0.8v0.8h-0.8zM448.1 334.5h0.8v0.8h-0.8zM445.6 336.8h0.8v0.8h-0.8zM443.2 338.5h0.8v0.8h-0.8zM455.6 325.7h0.8v0.8h-0.8zM450.6 322.2h0.8v0.8h-0.8zM451.5 325.1h0.8v0.8h-0.8zM439.7 337.6h0.8v0.8h-0.8zM454.4 331.2h0.8v0.8h-0.8zM449.3 329.9h0.8v0.8h-0.8zM446.5 335.6h0.8v0.8h-0.8zM447.8 334.3h0.8v0.8h-0.8zM457.6 327.2h0.8v0.8h-0.8zM445.8 342.8h0.8v0.8h-0.8zM445.0 336.9h0.8v0.8h-0.8z" fill="#000" fill-opacity="0.3"/>
<path d="M496.1 332.9h0.8v0.8h-0.8zM472.4 310.9h0.8v0.8h-0.8zM488.2 309.6h0.8v0.8h-0.8zM479.4 310.4h0.8v0.8h-0.8zM472.9 321.8h0.8v0.8h-0.8zM481.7 308.8h0.8v0.8h-0.8zM496.9 319.0h0.8v0.8h-0.8zM496.6 311.3h0.8v0.8h-0.8zM469.5 314.8h0.8v0.8h-0.8zM476.2 316.1h0.8v0.8h-0.8zM470.8 312.4h0.8v0.8h-0.8zM480.2 309.6h0.8v0.8h-0.8zM492.3 331.3h0.8v0.8h-0.8zM476.3 312.6h0.8v0.8h-0.8zM470.0 309.5h0.8v0.8h-0.8zM493.2 316.7h0.8v0.8h-0.8zM473.2 313.5h0.8v0.8h-0.8zM472.6 310.0h0.8v0.8h-0.8zM498.4 315.4h0.8v0.8h-0.8zM473.3 312.8h0.8v0.8h-0.8zM498.2 314.5h0.8v0.8h-0.8zM496.6 332.5h0.8v0.8h-0.8zM489.3 310.0h0.8v0.8h-0.8zM496.7 312.5h0.8v0.8h-0.8zM470.2 309.1h0.8v0.8h-0.8zM494.1 318.6h0.8v0.8h-0.8zM496.3 311.1h0.8v0.8h-0.8zM497.1 315.2h0.8v0.8h-0.8zM491.5 324.0h0.8v0.8h-0.8zM487.0 308.9h0.8v0.8h-0.8zM475.6 311.7h0.8v0.8h-0.8zM474.0 317.7h0.8v0.8h-0.8zM477.6 309.8h0.8v0.8h-0.8zM475.1 313.8h0.8v0.8h-0.8zM486.9 314.7h0.8v0.8h-0.8zM474.3 324.4h0.8v0.8h-0.8zM479.5 321.0h0.8v0.8h-0.8zM474.7 320.4h0.8v0.8h-0.8zM493.1 325.7h0.8v0.8h-0.8zM472.6 309.2h0.8v0.8h-0.8zM498.8 311.6h0.8v0.8h-0.8zM474.2 321.8h0.8v0.8h-0.8zM474.5 319.1h0.8v0.8h-0.8zM489.1 318.7h0.8v0.8h-0.8zM469.6 309.6h0.8v0.8h-0.8zM493.3 312.6h0.8v0.8h-0.8zM490.5 326.4h0.8v0.8h-0.8zM470.7 314.0h0.8v0.8h-0.8zM487.6 325.4h0.8v0.8h-0.8zM478.2 312.6h0.8v0.8h-0.8zM476.1 313.0h0.8v0.8h-0.8zM480.5 320.0h0.8v0.8h-0.8zM487.9 325.0h0.8v0.8h-0.8zM482.8 322.1h0.8v0.8h-0.8zM469.9 310.9h0.8v0.8h-0.8zM469.8 318.7h0.8v0.8h-0.8zM495.3 311.4h0.8v0.8h-0.8zM473.1 312.9h0.8v0.8h-0.8zM486.4 314.7h0.8v0.8h-0.8zM492.5 316.5h0.8v0.8h-0.8zM487.5 314.3h0.8v0.8h-0.8zM489.8 309.2h0.8v0.8h-0.8zM489.1 314.5h0.8v0.8h-0.8zM479.2 313.5h0.8v0.8h-0.8zM494.1 312.8h0.8v0.8h-0.8zM497.5 313.2h0.8v0.8h-0.8zM476.0 312.3h0.8v0.8h-0.8zM476.7 313.0h0.8v0.8h-0.8zM478.0 312.7h0.8v0.8h-0.8zM476.7 324.3h0.8v0.8h-0.8zM469.7 311.7h0.8v0.8h-0.8zM473.1 318.6h0.8v0.8h-0.8zM486.2 314.2h0.8v0.8h-0.8zM491.8 309.4h0.8v0.8h-0.8zM501.1 314.4h0.8v0.8h-0.8zM469.6 313.3h0.8v0.8h-0.8zM486.1 321.8h0.8v0.8h-0.8zM477.3 313.1h0.8v0.8h-0.8zM475.1 318.4h0.8v0.8h-0.8zM475.1 312.8h0.8v0.8h-0.8zM488.8 310.6h0.8v0.8h-0.8zM471.7 328.6h0.8v0.8h-0.8zM493.0 319.5h0.8v0.8h-0.8zM493.2 315.6h0.8v0.8h-0.8zM469.5 325.1h0.8v0.8h-0.8zM472.9 310.9h0.8v0.8h-0.8zM500.6 323.4h0.8v0.8h-0.8zM472.6 316.7h0.8v0.8h-0.8zM489.2 308.6h0.8v0.8h-0.8zM469.5 315.5h0.8v0.8h-0.8zM471.9 313.2h0.8v0.8h-0.8zM493.5 310.8h0.8v0.8h-0.8zM495.9 326.0h0.8v0.8h-0.8zM479.3 324.5h0.8v0.8h-0.8zM480.6 316.1h0.8v0.8h-0.8zM473.4 316.6h0.8v0.8h-0.8zM490.8 315.5h0.8v0.8h-0.8zM495.5 309.5h0.8v0.8h-0.8zM482.6 312.1h0.8v0.8h-0.8zM479.1 316.4h0.8v0.8h-0.8zM469.5 310.9h0.8v0.8h-0.8zM488.5 309.9h0.8v0.8h-0.8zM495.3 314.6h0.8v0.8h-0.8zM474.0 314.3h0.8v0.8h-0.8zM485.6 322.1h0.8v0.8h-0.8zM470.2 312.4h0.8v0.8h-0.8zM477.3 326.7h0.8v0.8h-0.8zM474.8 311.2h0.8v0.8h-0.8zM488.7 308.6h0.8v0.8h-0.8zM491.2 317.0h0.8v0.8h-0.8zM487.8 310.3h0.8v0.8h-0.8zM498.6 315.6h0.8v0.8h-0.8zM499.4 317.1h0.8v0.8h-0.8zM482.3 320.5h0.8v0.8h-0.8zM472.1 313.6h0.8v0.8h-0.8zM477.3 326.1h0.8v0.8h-0.8zM482.9 308.9h0.8v0.8h-0.8zM476.0 312.5h0.8v0.8h-0.8zM471.9 309.2h0.8v0.8h-0.8zM476.1 319.6h0.8v0.8h-0.8zM477.6 309.9h0.8v0.8h-0.8zM493.4 310.6h0.8v0.8h-0.8zM470.2 326.3h0.8v0.8h-0.8zM484.1 321.1h0.8v0.8h-0.8zM473.3 313.5h0.8v0.8h-0.8zM472.6 311.2h0.8v0.8h-0.8zM498.2 315.9h0.8v0.8h-0.8zM478.5 321.6h0.8v0.8h-0.8zM489.8 318.0h0.8v0.8h-0.8zM487.1 318.1h0.8v0.8h-0.8zM480.5 309.1h0.8v0.8h-0.8zM497.5 317.3h0.8v0.8h-0.8zM476.2 314.4h0.8v0.8h-0.8zM485.3 316.9h0.8v0.8h-0.8zM480.3 311.1h0.8v0.8h-0.8zM482.3 317.0h0.8v0.8h-0.8zM473.6 310.7h0.8v0.8h-0.8zM474.2 313.5h0.8v0.8h-0.8zM476.6 314.8h0.8v0.8h-0.8zM487.6 311.0h0.8v0.8h-0.8zM470.2 333.1h0.8v0.8h-0.8zM474.6 310.7h0.8v0.8h-0.8zM474.9 322.9h0.8v0.8h-0.8zM474.3 310.6h0.8v0.8h-0.8zM492.6 318.0h0.8v0.8h-0.8zM497.2 317.2h0.8v0.8h-0.8zM473.1 320.7h0.8v0.8h-0.8zM483.1 319.7h0.8v0.8h-0.8zM495.7 317.2h0.8v0.8h-0.8zM475.8 311.2h0.8v0.8h-0.8zM476.4 320.7h0.8v0.8h-0.8zM481.6 308.6h0.8v0.8h-0.8zM484.7 315.3h0.8v0.8h-0.8zM470.7 309.0h0.8v0.8h-0.8zM487.8 312.8h0.8v0.8h-0.8zM471.5 311.4h0.8v0.8h-0.8zM481.5 328.0h0.8v0.8h-0.8zM479.7 314.2h0.8v0.8h-0.8zM491.4 319.1h0.8v0.8h-0.8zM476.4 312.6h0.8v0.8h-0.8zM488.3 313.4h0.8v0.8h-0.8zM480.1 314.9h0.8v0.8h-0.8zM488.8 311.5h0.8v0.8h-0.8zM477.3 311.7h0.8v0.8h-0.8zM475.3 324.1h0.8v0.8h-0.8zM472.8 318.5h0.8v0.8h-0.8zM470.3 311.8h0.8v0.8h-0.8zM500.8 316.1h0.8v0.8h-0.8zM471.0 314.1h0.8v0.8h-0.8zM471.3 310.1h0.8v0.8h-0.8zM482.5 312.0h0.8v0.8h-0.8zM486.1 313.1h0.8v0.8h-0.8zM492.6 314.8h0.8v0.8h-0.8zM490.2 314.7h0.8v0.8h-0.8zM472.4 310.9h0.8v0.8h-0.8zM495.5 308.6h0.8v0.8h-0.8zM473.3 312.1h0.8v0.8h-0.8zM471.6 315.9h0.8v0.8h-0.8zM498.8 316.1h0.8v0.8h-0.8zM494.0 310.3h0.8v0.8h-0.8zM480.9 316.3h0.8v0.8h-0.8zM477.8 310.3h0.8v0.8h-0.8zM495.3 314.8h0.8v0.8h-0.8zM484.0 329.0h0.8v0.8h-0.8zM476.1 324.7h0.8v0.8h-0.8zM491.2 329.1h0.8v0.8h-0.8zM500.7 313.3h0.8v0.8h-0.8zM478.9 311.4h0.8v0.8h-0.8zM474.7 327.2h0.8v0.8h-0.8zM479.3 323.8h0.8v0.8h-0.8zM474.9 316.9h0.8v0.8h-0.8zM491.3 316.0h0.8v0.8h-0.8zM483.4 315.2h0.8v0.8h-0.8zM474.9 321.5h0.8v0.8h-0.8zM484.9 309.4h0.8v0.8h-0.8zM486.7 310.4h0.8v0.8h-0.8zM469.8 311.8h0.8v0.8h-0.8zM482.3 315.1h0.8v0.8h-0.8zM480.8 310.1h0.8v0.8h-0.8zM476.9 310.6h0.8v0.8h-0.8zM481.4 313.4h0.8v0.8h-0.8zM478.3 315.8h0.8v0.8h-0.8zM498.3 329.1h0.8v0.8h-0.8zM499.8 308.5h0.8v0.8h-0.8zM488.1 310.7h0.8v0.8h-0.8zM496.9 313.4h0.8v0.8h-0.8zM492.7 315.3h0.8v0.8h-0.8zM482.7 321.7h0.8v0.8h-0.8zM481.5 317.1h0.8v0.8h-0.8zM493.3 323.8h0.8v0.8h-0.8zM469.5 314.2h0.8v0.8h-0.8zM480.2 318.0h0.8v0.8h-0.8zM487.9 315.0h0.8v0.8h-0.8zM481.9 312.1h0.8v0.8h-0.8zM474.3 310.1h0.8v0.8h-0.8zM471.7 327.2h0.8v0.8h-0.8zM472.2 328.2h0.8v0.8h-0.8zM474.4 308.8h0.8v0.8h-0.8zM488.6 322.1h0.8v0.8h-0.8zM473.6 313.6h0.8v0.8h-0.8zM480.7 318.2h0.8v0.8h-0.8zM476.6 311.0h0.8v0.8h-0.8zM469.7 309.2h0.8v0.8h-0.8zM500.0 310.7h0.8v0.8h-0.8zM500.5 317.5h0.8v0.8h-0.8zM475.0 325.4h0.8v0.8h-0.8zM477.6 319.6h0.8v0.8h-0.8zM486.2 310.1h0.8v0.8h-0.8zM472.8 313.5h0.8v0.8h-0.8zM491.0 322.8h0.8v0.8h-0.8zM489.5 312.1h0.8v0.8h-0.8zM483.4 311.3h0.8v0.8h-0.8zM472.0 314.4h0.8v0.8h-0.8zM478.7 312.4h0.8v0.8h-0.8zM491.5 314.5h0.8v0.8h-0.8zM493.6 308.9h0.8v0.8h-0.8zM471.0 313.3h0.8v0.8h-0.8zM492.8 308.9h0.8v0.8h-0.8zM483.8 310.6h0.8v0.8h-0.8zM488.1 315.5h0.8v0.8h-0.8zM484.3 322.7h0.8v0.8h-0.8zM476.4 315.6h0.8v0.8h-0.8zM479.2 312.0h0.8v0.8h-0.8zM470.7 322.0h0.8v0.8h-0.8zM481.4 315.5h0.8v0.8h-0.8zM476.8 322.1h0.8v0.8h-0.8zM469.8 312.4h0.8v0.8h-0.8zM490.7 323.2h0.8v0.8h-0.8zM486.7 321.9h0.8v0.8h-0.8zM490.8 313.2h0.8v0.8h-0.8zM483.9 331.8h0.8v0.8h-0.8zM482.5 322.9h0.8v0.8h-0.8zM485.6 321.3h0.8v0.8h-0.8zM482.7 321.8h0.8v0.8h-0.8zM501.0 319.9h0.8v0.8h-0.8zM472.3 316.4h0.8v0.8h-0.8zM478.7 310.5h0.8v0.8h-0.8zM489.6 312.0h0.8v0.8h-0.8zM475.0 316.9h0.8v0.8h-0.8zM481.9 318.6h0.8v0.8h-0.8z" fill="#000" fill-opacity="0.18"/>
<polygon points="467.40,308.40 466.39,308.87 465.51,309.44 464.67,310.04 463.86,310.66 463.06,311.29 462.27,311.92 461.48,312.56 460.71,313.21 459.94,313.86 459.18,314.51 458.42,315.17 457.67,315.83 456.92,316.49 456.17,317.16 455.43,317.83 454.74,318.53 454.18,319.33 453.63,320.15 453.11,320.97 452.60,321.81 452.11,322.66 451.65,323.53 451.20,324.42 450.79,325.33 450.41,326.26 450.06,327.21 449.77,328.21 449.55,329.26 449.47,330.41 450.18,332.13 450.18,332.13 452.03,332.27 453.10,331.84 454.04,331.31 454.89,330.72 455.69,330.09 456.46,329.44 457.19,328.77 457.90,328.07 458.58,327.36 459.24,326.63 459.88,325.89 460.50,325.13 461.11,324.36 461.70,323.58 462.15,322.70 462.56,321.79 462.96,320.87 463.35,319.96 463.75,319.03 464.14,318.11 464.53,317.18 464.91,316.25 465.28,315.31 465.65,314.37 466.00,313.42 466.35,312.47 466.68,311.50 466.99,310.52 467.27,309.51 467.40,308.40" fill="#1e1e1e" filter="url(#bl)"/>
<path d="M447.9 333.2h0.9v0.9h-0.9zM448.1 333.1h0.9v0.9h-0.9zM449.9 331.4h0.9v0.9h-0.9zM466.5 309.1h0.9v0.9h-0.9zM449.9 332.9h0.9v0.9h-0.9zM466.9 310.4h0.9v0.9h-0.9zM453.0 326.2h0.9v0.9h-0.9zM455.4 321.7h0.9v0.9h-0.9zM462.7 312.3h0.9v0.9h-0.9zM448.1 329.8h0.9v0.9h-0.9zM446.1 337.9h0.9v0.9h-0.9zM457.3 324.4h0.9v0.9h-0.9zM456.3 328.8h0.9v0.9h-0.9zM461.7 323.4h0.9v0.9h-0.9zM452.0 329.3h0.9v0.9h-0.9zM459.6 316.3h0.9v0.9h-0.9zM452.3 331.7h0.9v0.9h-0.9zM466.7 309.1h0.9v0.9h-0.9zM444.9 334.0h0.9v0.9h-0.9zM452.8 335.1h0.9v0.9h-0.9zM455.8 323.5h0.9v0.9h-0.9zM461.3 318.6h0.9v0.9h-0.9zM454.2 329.6h0.9v0.9h-0.9zM451.0 329.8h0.9v0.9h-0.9zM457.2 321.2h0.9v0.9h-0.9zM460.5 319.8h0.9v0.9h-0.9zM458.0 322.1h0.9v0.9h-0.9zM457.6 318.8h0.9v0.9h-0.9zM449.7 327.8h0.9v0.9h-0.9zM463.4 312.9h0.9v0.9h-0.9zM459.2 316.1h0.9v0.9h-0.9zM459.8 313.8h0.9v0.9h-0.9zM460.8 316.8h0.9v0.9h-0.9zM456.3 328.1h0.9v0.9h-0.9zM455.6 328.8h0.9v0.9h-0.9zM464.5 311.7h0.9v0.9h-0.9zM462.3 311.5h0.9v0.9h-0.9zM453.9 331.7h0.9v0.9h-0.9zM452.7 325.9h0.9v0.9h-0.9zM458.7 316.7h0.9v0.9h-0.9zM457.4 322.9h0.9v0.9h-0.9zM453.1 327.2h0.9v0.9h-0.9zM450.2 335.1h0.9v0.9h-0.9zM449.1 329.4h0.9v0.9h-0.9zM451.7 323.3h0.9v0.9h-0.9zM451.7 327.0h0.9v0.9h-0.9zM451.8 326.8h0.9v0.9h-0.9zM453.6 327.0h0.9v0.9h-0.9zM451.1 328.3h0.9v0.9h-0.9zM451.5 328.6h0.9v0.9h-0.9zM452.5 325.8h0.9v0.9h-0.9zM458.9 324.8h0.9v0.9h-0.9zM453.3 327.2h0.9v0.9h-0.9zM447.7 332.1h0.9v0.9h-0.9zM448.6 334.4h0.9v0.9h-0.9zM451.1 330.9h0.9v0.9h-0.9zM462.4 315.8h0.9v0.9h-0.9zM457.9 323.2h0.9v0.9h-0.9zM444.1 340.9h0.9v0.9h-0.9zM459.7 322.4h0.9v0.9h-0.9zM462.0 318.1h0.9v0.9h-0.9zM454.5 322.3h0.9v0.9h-0.9zM452.2 326.2h0.9v0.9h-0.9zM454.2 327.5h0.9v0.9h-0.9zM446.2 337.5h0.9v0.9h-0.9zM446.9 331.8h0.9v0.9h-0.9zM453.4 326.2h0.9v0.9h-0.9zM457.6 330.7h0.9v0.9h-0.9zM451.1 336.8h0.9v0.9h-0.9zM465.6 309.5h0.9v0.9h-0.9zM466.8 310.2h0.9v0.9h-0.9zM443.6 340.0h0.9v0.9h-0.9zM459.0 318.2h0.9v0.9h-0.9zM452.8 325.7h0.9v0.9h-0.9zM454.9 321.9h0.9v0.9h-0.9zM459.0 319.7h0.9v0.9h-0.9zM466.0 310.5h0.9v0.9h-0.9zM452.8 331.6h0.9v0.9h-0.9zM445.9 332.7h0.9v0.9h-0.9zM451.6 331.1h0.9v0.9h-0.9zM462.0 311.4h0.9v0.9h-0.9zM466.9 310.4h0.9v0.9h-0.9zM442.9 331.5h0.9v0.9h-0.9zM453.2 336.7h0.9v0.9h-0.9zM450.7 335.8h0.9v0.9h-0.9zM444.8 338.8h0.9v0.9h-0.9zM450.7 330.3h0.9v0.9h-0.9zM456.1 329.0h0.9v0.9h-0.9zM464.2 314.4h0.9v0.9h-0.9zM453.6 322.8h0.9v0.9h-0.9zM453.3 329.5h0.9v0.9h-0.9zM458.4 322.2h0.9v0.9h-0.9zM453.2 325.0h0.9v0.9h-0.9zM461.4 315.4h0.9v0.9h-0.9zM464.5 310.7h0.9v0.9h-0.9zM444.6 339.3h0.9v0.9h-0.9zM452.1 329.7h0.9v0.9h-0.9zM452.6 335.5h0.9v0.9h-0.9zM449.7 340.6h0.9v0.9h-0.9zM449.2 335.1h0.9v0.9h-0.9zM449.0 335.3h0.9v0.9h-0.9zM460.3 318.5h0.9v0.9h-0.9zM459.7 321.2h0.9v0.9h-0.9zM448.6 334.5h0.9v0.9h-0.9zM452.0 331.4h0.9v0.9h-0.9zM448.0 335.5h0.9v0.9h-0.9zM461.7 316.0h0.9v0.9h-0.9zM458.1 319.3h0.9v0.9h-0.9zM450.7 332.8h0.9v0.9h-0.9zM453.2 330.8h0.9v0.9h-0.9zM452.2 327.1h0.9v0.9h-0.9zM453.2 325.7h0.9v0.9h-0.9zM447.5 341.7h0.9v0.9h-0.9zM451.1 330.5h0.9v0.9h-0.9zM464.4 311.7h0.9v0.9h-0.9zM466.0 309.7h0.9v0.9h-0.9zM453.2 327.7h0.9v0.9h-0.9zM442.0 334.4h0.9v0.9h-0.9zM466.5 309.4h0.9v0.9h-0.9zM450.8 333.5h0.9v0.9h-0.9zM455.6 327.4h0.9v0.9h-0.9zM466.9 309.8h0.9v0.9h-0.9zM467.8 310.5h0.9v0.9h-0.9zM463.5 316.7h0.9v0.9h-0.9zM463.6 310.3h0.9v0.9h-0.9zM453.8 333.1h0.9v0.9h-0.9zM454.5 325.4h0.9v0.9h-0.9zM462.6 315.8h0.9v0.9h-0.9zM464.3 310.7h0.9v0.9h-0.9zM447.2 334.9h0.9v0.9h-0.9zM467.4 309.9h0.9v0.9h-0.9zM446.1 340.2h0.9v0.9h-0.9zM448.1 333.6h0.9v0.9h-0.9zM458.7 321.3h0.9v0.9h-0.9zM444.0 331.4h0.9v0.9h-0.9zM453.7 339.7h0.9v0.9h-0.9zM453.1 331.5h0.9v0.9h-0.9zM460.4 316.6h0.9v0.9h-0.9zM455.2 330.8h0.9v0.9h-0.9zM453.4 332.0h0.9v0.9h-0.9zM454.1 333.0h0.9v0.9h-0.9zM458.0 325.1h0.9v0.9h-0.9zM460.2 316.3h0.9v0.9h-0.9zM454.5 324.8h0.9v0.9h-0.9zM453.4 338.3h0.9v0.9h-0.9zM459.5 318.3h0.9v0.9h-0.9zM452.3 333.8h0.9v0.9h-0.9zM460.1 317.2h0.9v0.9h-0.9zM453.0 328.2h0.9v0.9h-0.9zM464.2 316.4h0.9v0.9h-0.9zM452.7 330.2h0.9v0.9h-0.9zM452.6 325.2h0.9v0.9h-0.9zM462.0 315.0h0.9v0.9h-0.9zM460.4 315.0h0.9v0.9h-0.9zM464.9 313.7h0.9v0.9h-0.9zM453.4 328.4h0.9v0.9h-0.9zM460.6 318.1h0.9v0.9h-0.9zM459.5 318.3h0.9v0.9h-0.9zM448.1 330.2h0.9v0.9h-0.9zM454.3 330.1h0.9v0.9h-0.9zM453.1 325.3h0.9v0.9h-0.9zM453.0 332.0h0.9v0.9h-0.9zM462.2 313.6h0.9v0.9h-0.9zM462.6 312.5h0.9v0.9h-0.9zM458.5 329.7h0.9v0.9h-0.9zM456.5 320.8h0.9v0.9h-0.9zM454.2 319.5h0.9v0.9h-0.9zM454.3 327.2h0.9v0.9h-0.9zM454.0 326.0h0.9v0.9h-0.9zM464.2 311.9h0.9v0.9h-0.9zM464.7 307.7h0.9v0.9h-0.9zM462.6 325.3h0.9v0.9h-0.9zM447.2 328.5h0.9v0.9h-0.9zM447.8 335.8h0.9v0.9h-0.9zM461.2 325.9h0.9v0.9h-0.9zM452.4 336.9h0.9v0.9h-0.9zM450.1 325.7h0.9v0.9h-0.9zM453.0 331.1h0.9v0.9h-0.9zM445.8 337.6h0.9v0.9h-0.9zM466.1 313.4h0.9v0.9h-0.9zM454.1 321.5h0.9v0.9h-0.9zM463.6 312.9h0.9v0.9h-0.9zM459.0 321.6h0.9v0.9h-0.9zM467.9 312.3h0.9v0.9h-0.9zM458.5 325.1h0.9v0.9h-0.9zM446.3 333.8h0.9v0.9h-0.9zM460.5 319.3h0.9v0.9h-0.9zM439.4 337.7h0.9v0.9h-0.9zM446.0 338.4h0.9v0.9h-0.9zM453.1 327.7h0.9v0.9h-0.9zM466.5 311.4h0.9v0.9h-0.9zM455.4 327.3h0.9v0.9h-0.9zM453.0 322.7h0.9v0.9h-0.9zM466.0 311.0h0.9v0.9h-0.9zM460.6 319.8h0.9v0.9h-0.9zM453.5 329.1h0.9v0.9h-0.9zM459.1 323.4h0.9v0.9h-0.9zM464.6 317.1h0.9v0.9h-0.9zM453.7 324.7h0.9v0.9h-0.9zM441.4 343.2h0.9v0.9h-0.9zM453.0 324.4h0.9v0.9h-0.9zM454.5 327.7h0.9v0.9h-0.9zM465.1 315.6h0.9v0.9h-0.9zM455.5 320.6h0.9v0.9h-0.9zM448.2 331.4h0.9v0.9h-0.9zM463.8 311.6h0.9v0.9h-0.9zM456.8 322.0h0.9v0.9h-0.9zM450.9 328.8h0.9v0.9h-0.9zM444.7 335.0h0.9v0.9h-0.9zM466.6 309.5h0.9v0.9h-0.9zM448.5 327.8h0.9v0.9h-0.9zM460.8 316.1h0.9v0.9h-0.9zM459.7 319.5h0.9v0.9h-0.9zM464.6 317.8h0.9v0.9h-0.9zM467.4 310.6h0.9v0.9h-0.9zM454.0 328.2h0.9v0.9h-0.9zM463.3 313.8h0.9v0.9h-0.9zM462.9 316.6h0.9v0.9h-0.9zM466.1 313.1h0.9v0.9h-0.9zM449.4 340.2h0.9v0.9h-0.9zM453.5 322.5h0.9v0.9h-0.9zM452.2 326.5h0.9v0.9h-0.9zM454.7 324.6h0.9v0.9h-0.9zM448.9 339.0h0.9v0.9h-0.9zM450.8 326.1h0.9v0.9h-0.9zM459.2 318.6h0.9v0.9h-0.9zM450.9 334.2h0.9v0.9h-0.9zM449.9 334.1h0.9v0.9h-0.9zM462.8 312.0h0.9v0.9h-0.9zM454.8 336.2h0.9v0.9h-0.9zM448.2 325.9h0.9v0.9h-0.9zM465.9 313.2h0.9v0.9h-0.9zM465.7 310.9h0.9v0.9h-0.9zM461.8 317.0h0.9v0.9h-0.9zM443.9 338.1h0.9v0.9h-0.9zM449.0 329.2h0.9v0.9h-0.9zM448.5 326.3h0.9v0.9h-0.9zM446.9 331.1h0.9v0.9h-0.9zM461.5 323.6h0.9v0.9h-0.9zM439.6 335.9h0.9v0.9h-0.9zM453.0 333.6h0.9v0.9h-0.9zM460.2 315.6h0.9v0.9h-0.9zM448.4 335.0h0.9v0.9h-0.9zM461.9 318.8h0.9v0.9h-0.9zM454.8 329.7h0.9v0.9h-0.9zM455.5 326.7h0.9v0.9h-0.9zM462.2 325.2h0.9v0.9h-0.9zM449.3 331.8h0.9v0.9h-0.9zM455.4 332.0h0.9v0.9h-0.9zM443.2 331.4h0.9v0.9h-0.9zM447.4 338.4h0.9v0.9h-0.9zM447.8 334.3h0.9v0.9h-0.9zM456.9 324.0h0.9v0.9h-0.9zM444.8 330.0h0.9v0.9h-0.9zM454.1 323.3h0.9v0.9h-0.9zM463.7 314.4h0.9v0.9h-0.9zM461.8 314.4h0.9v0.9h-0.9zM461.2 314.1h0.9v0.9h-0.9zM449.5 328.2h0.9v0.9h-0.9zM463.4 315.0h0.9v0.9h-0.9zM459.2 327.9h0.9v0.9h-0.9zM451.3 331.0h0.9v0.9h-0.9zM457.9 320.6h0.9v0.9h-0.9zM448.7 329.4h0.9v0.9h-0.9zM460.6 316.5h0.9v0.9h-0.9zM440.9 333.4h0.9v0.9h-0.9zM458.9 319.0h0.9v0.9h-0.9zM458.2 325.2h0.9v0.9h-0.9zM457.8 319.3h0.9v0.9h-0.9zM453.1 331.9h0.9v0.9h-0.9zM450.1 334.8h0.9v0.9h-0.9zM463.6 310.3h0.9v0.9h-0.9zM461.5 314.3h0.9v0.9h-0.9zM449.5 333.9h0.9v0.9h-0.9zM463.5 312.7h0.9v0.9h-0.9zM452.9 330.1h0.9v0.9h-0.9zM447.1 337.6h0.9v0.9h-0.9zM450.6 331.2h0.9v0.9h-0.9zM460.0 315.7h0.9v0.9h-0.9zM451.1 328.6h0.9v0.9h-0.9zM465.5 309.5h0.9v0.9h-0.9zM447.5 335.0h0.9v0.9h-0.9zM452.3 329.2h0.9v0.9h-0.9zM450.3 332.9h0.9v0.9h-0.9zM448.5 327.3h0.9v0.9h-0.9zM458.6 326.1h0.9v0.9h-0.9zM457.5 323.7h0.9v0.9h-0.9zM461.9 316.4h0.9v0.9h-0.9zM448.9 333.8h0.9v0.9h-0.9zM466.8 309.4h0.9v0.9h-0.9zM463.5 311.9h0.9v0.9h-0.9zM463.1 314.8h0.9v0.9h-0.9zM447.3 335.9h0.9v0.9h-0.9zM457.7 327.3h0.9v0.9h-0.9zM463.7 310.6h0.9v0.9h-0.9zM465.0 310.3h0.9v0.9h-0.9zM462.5 312.8h0.9v0.9h-0.9zM460.4 321.6h0.9v0.9h-0.9zM448.7 333.7h0.9v0.9h-0.9zM454.1 326.3h0.9v0.9h-0.9zM446.7 333.1h0.9v0.9h-0.9zM455.1 331.4h0.9v0.9h-0.9zM465.7 309.3h0.9v0.9h-0.9zM460.1 325.5h0.9v0.9h-0.9zM452.4 338.4h0.9v0.9h-0.9zM459.4 318.5h0.9v0.9h-0.9zM465.0 312.3h0.9v0.9h-0.9zM451.7 330.2h0.9v0.9h-0.9zM460.7 319.9h0.9v0.9h-0.9zM458.1 323.8h0.9v0.9h-0.9zM453.3 332.5h0.9v0.9h-0.9zM451.7 327.1h0.9v0.9h-0.9zM457.2 321.8h0.9v0.9h-0.9zM445.1 335.2h0.9v0.9h-0.9zM453.5 322.2h0.9v0.9h-0.9zM459.9 316.7h0.9v0.9h-0.9zM456.3 329.5h0.9v0.9h-0.9zM466.5 312.1h0.9v0.9h-0.9zM464.5 309.6h0.9v0.9h-0.9zM459.4 316.4h0.9v0.9h-0.9zM454.3 325.4h0.9v0.9h-0.9zM451.4 330.5h0.9v0.9h-0.9zM459.3 313.7h0.9v0.9h-0.9zM456.6 323.9h0.9v0.9h-0.9zM450.2 331.9h0.9v0.9h-0.9zM454.0 322.8h0.9v0.9h-0.9zM461.3 317.5h0.9v0.9h-0.9zM442.1 341.3h0.9v0.9h-0.9zM449.8 332.6h0.9v0.9h-0.9zM464.5 311.9h0.9v0.9h-0.9zM456.3 332.9h0.9v0.9h-0.9zM464.8 313.8h0.9v0.9h-0.9zM450.7 328.1h0.9v0.9h-0.9zM449.2 330.2h0.9v0.9h-0.9zM462.1 318.6h0.9v0.9h-0.9zM453.8 324.9h0.9v0.9h-0.9zM451.1 329.4h0.9v0.9h-0.9zM454.5 324.1h0.9v0.9h-0.9zM456.5 327.4h0.9v0.9h-0.9zM447.7 335.8h0.9v0.9h-0.9zM456.5 322.8h0.9v0.9h-0.9zM457.5 324.9h0.9v0.9h-0.9zM464.8 316.7h0.9v0.9h-0.9zM454.3 325.9h0.9v0.9h-0.9zM463.4 318.1h0.9v0.9h-0.9zM452.7 327.1h0.9v0.9h-0.9zM451.5 326.8h0.9v0.9h-0.9zM453.5 328.5h0.9v0.9h-0.9zM462.4 313.9h0.9v0.9h-0.9zM452.7 331.9h0.9v0.9h-0.9zM451.2 327.6h0.9v0.9h-0.9zM443.0 325.7h0.9v0.9h-0.9zM448.9 327.9h0.9v0.9h-0.9zM453.1 322.0h0.9v0.9h-0.9zM465.4 312.9h0.9v0.9h-0.9zM450.9 329.0h0.9v0.9h-0.9zM458.1 323.1h0.9v0.9h-0.9zM463.3 313.3h0.9v0.9h-0.9zM453.4 332.0h0.9v0.9h-0.9zM448.2 335.1h0.9v0.9h-0.9zM457.5 329.3h0.9v0.9h-0.9zM447.8 335.4h0.9v0.9h-0.9zM449.8 337.7h0.9v0.9h-0.9zM447.0 334.4h0.9v0.9h-0.9zM451.2 334.2h0.9v0.9h-0.9zM460.1 318.6h0.9v0.9h-0.9zM456.7 327.1h0.9v0.9h-0.9zM451.1 325.7h0.9v0.9h-0.9zM458.5 319.6h0.9v0.9h-0.9zM464.9 310.2h0.9v0.9h-0.9zM462.1 317.2h0.9v0.9h-0.9zM445.4 335.9h0.9v0.9h-0.9zM466.3 311.2h0.9v0.9h-0.9zM453.7 335.4h0.9v0.9h-0.9zM451.0 329.3h0.9v0.9h-0.9zM460.6 317.7h0.9v0.9h-0.9zM466.1 310.9h0.9v0.9h-0.9zM460.4 322.7h0.9v0.9h-0.9zM465.5 315.6h0.9v0.9h-0.9zM464.0 313.0h0.9v0.9h-0.9zM458.4 320.7h0.9v0.9h-0.9zM453.4 329.6h0.9v0.9h-0.9zM455.7 324.3h0.9v0.9h-0.9zM451.9 333.4h0.9v0.9h-0.9zM461.1 319.3h0.9v0.9h-0.9zM466.4 309.2h0.9v0.9h-0.9zM442.6 345.5h0.9v0.9h-0.9zM455.8 323.9h0.9v0.9h-0.9zM461.1 315.8h0.9v0.9h-0.9zM452.8 329.1h0.9v0.9h-0.9zM457.8 320.4h0.9v0.9h-0.9zM454.4 342.3h0.9v0.9h-0.9zM442.9 333.6h0.9v0.9h-0.9zM446.6 340.7h0.9v0.9h-0.9zM448.5 332.4h0.9v0.9h-0.9zM459.0 317.0h0.9v0.9h-0.9zM454.8 328.7h0.9v0.9h-0.9zM455.0 330.4h0.9v0.9h-0.9zM465.6 315.0h0.9v0.9h-0.9zM456.4 326.8h0.9v0.9h-0.9zM466.3 309.8h0.9v0.9h-0.9zM453.7 325.6h0.9v0.9h-0.9zM459.5 319.6h0.9v0.9h-0.9zM448.9 334.4h0.9v0.9h-0.9zM459.2 319.5h0.9v0.9h-0.9zM456.1 324.9h0.9v0.9h-0.9zM462.6 311.7h0.9v0.9h-0.9zM457.3 319.9h0.9v0.9h-0.9zM452.3 334.2h0.9v0.9h-0.9zM449.0 326.8h0.9v0.9h-0.9zM457.3 319.7h0.9v0.9h-0.9zM452.6 330.2h0.9v0.9h-0.9zM451.0 327.3h0.9v0.9h-0.9zM448.0 334.2h0.9v0.9h-0.9zM468.2 310.6h0.9v0.9h-0.9zM456.6 337.0h0.9v0.9h-0.9zM462.0 315.9h0.9v0.9h-0.9zM458.2 322.8h0.9v0.9h-0.9zM451.3 330.1h0.9v0.9h-0.9zM457.5 327.6h0.9v0.9h-0.9zM459.4 320.1h0.9v0.9h-0.9zM460.0 320.7h0.9v0.9h-0.9zM458.1 319.2h0.9v0.9h-0.9zM458.0 317.4h0.9v0.9h-0.9zM456.0 319.1h0.9v0.9h-0.9zM452.0 325.2h0.9v0.9h-0.9zM452.3 330.4h0.9v0.9h-0.9zM448.4 334.2h0.9v0.9h-0.9zM460.6 313.2h0.9v0.9h-0.9zM463.5 313.8h0.9v0.9h-0.9zM463.1 313.4h0.9v0.9h-0.9zM462.2 319.4h0.9v0.9h-0.9zM455.4 323.4h0.9v0.9h-0.9zM455.9 322.9h0.9v0.9h-0.9zM460.1 313.1h0.9v0.9h-0.9zM453.5 335.7h0.9v0.9h-0.9zM449.8 327.8h0.9v0.9h-0.9zM449.9 329.2h0.9v0.9h-0.9zM453.7 331.5h0.9v0.9h-0.9zM460.6 317.2h0.9v0.9h-0.9zM453.7 323.9h0.9v0.9h-0.9zM447.0 340.2h0.9v0.9h-0.9zM460.2 314.0h0.9v0.9h-0.9zM449.5 327.0h0.9v0.9h-0.9zM447.1 333.3h0.9v0.9h-0.9zM462.2 313.9h0.9v0.9h-0.9zM464.8 312.3h0.9v0.9h-0.9zM451.7 333.5h0.9v0.9h-0.9zM461.5 315.5h0.9v0.9h-0.9zM458.2 326.6h0.9v0.9h-0.9zM452.7 325.9h0.9v0.9h-0.9zM450.6 332.6h0.9v0.9h-0.9zM464.9 311.2h0.9v0.9h-0.9zM452.6 330.3h0.9v0.9h-0.9zM447.7 333.6h0.9v0.9h-0.9zM455.4 321.8h0.9v0.9h-0.9zM455.2 322.7h0.9v0.9h-0.9zM460.1 321.9h0.9v0.9h-0.9zM452.6 326.6h0.9v0.9h-0.9zM454.7 323.4h0.9v0.9h-0.9zM457.6 327.9h0.9v0.9h-0.9zM453.3 337.4h0.9v0.9h-0.9zM464.4 312.3h0.9v0.9h-0.9zM459.4 322.1h0.9v0.9h-0.9zM461.1 313.3h0.9v0.9h-0.9zM462.9 311.4h0.9v0.9h-0.9zM456.1 325.1h0.9v0.9h-0.9zM451.6 332.2h0.9v0.9h-0.9zM456.3 331.1h0.9v0.9h-0.9zM462.1 315.6h0.9v0.9h-0.9zM455.3 331.5h0.9v0.9h-0.9zM442.8 340.2h0.9v0.9h-0.9zM463.6 314.5h0.9v0.9h-0.9zM458.6 317.2h0.9v0.9h-0.9zM462.0 316.5h0.9v0.9h-0.9zM447.2 332.8h0.9v0.9h-0.9zM454.5 336.1h0.9v0.9h-0.9zM456.6 318.8h0.9v0.9h-0.9zM459.2 316.8h0.9v0.9h-0.9zM452.5 333.4h0.9v0.9h-0.9zM450.0 331.7h0.9v0.9h-0.9zM455.1 325.7h0.9v0.9h-0.9zM460.7 317.9h0.9v0.9h-0.9zM464.5 313.7h0.9v0.9h-0.9zM451.8 334.8h0.9v0.9h-0.9zM455.5 326.3h0.9v0.9h-0.9zM458.5 328.8h0.9v0.9h-0.9zM464.4 320.5h0.9v0.9h-0.9zM446.6 328.9h0.9v0.9h-0.9zM443.9 333.2h0.9v0.9h-0.9zM463.9 315.8h0.9v0.9h-0.9zM448.7 340.7h0.9v0.9h-0.9zM445.1 335.4h0.9v0.9h-0.9zM453.6 320.6h0.9v0.9h-0.9zM446.7 331.4h0.9v0.9h-0.9zM446.7 336.4h0.9v0.9h-0.9zM462.6 320.8h0.9v0.9h-0.9zM455.6 324.9h0.9v0.9h-0.9zM466.2 311.0h0.9v0.9h-0.9zM464.2 312.5h0.9v0.9h-0.9zM464.2 311.4h0.9v0.9h-0.9zM457.4 322.3h0.9v0.9h-0.9zM442.0 335.4h0.9v0.9h-0.9zM466.9 311.5h0.9v0.9h-0.9zM454.3 324.2h0.9v0.9h-0.9zM450.6 324.5h0.9v0.9h-0.9zM461.4 318.9h0.9v0.9h-0.9zM460.2 316.8h0.9v0.9h-0.9zM463.1 311.6h0.9v0.9h-0.9zM455.4 334.1h0.9v0.9h-0.9zM448.3 342.8h0.9v0.9h-0.9zM458.5 327.6h0.9v0.9h-0.9zM454.2 326.4h0.9v0.9h-0.9zM447.0 329.6h0.9v0.9h-0.9zM454.4 325.2h0.9v0.9h-0.9zM464.5 311.6h0.9v0.9h-0.9zM454.3 330.8h0.9v0.9h-0.9zM453.2 324.5h0.9v0.9h-0.9zM458.6 320.1h0.9v0.9h-0.9zM461.8 313.9h0.9v0.9h-0.9zM455.4 323.7h0.9v0.9h-0.9zM449.3 334.7h0.9v0.9h-0.9zM451.1 330.5h0.9v0.9h-0.9zM455.7 326.7h0.9v0.9h-0.9zM465.7 310.9h0.9v0.9h-0.9zM457.9 320.9h0.9v0.9h-0.9zM465.8 311.2h0.9v0.9h-0.9zM451.9 329.5h0.9v0.9h-0.9zM464.5 313.1h0.9v0.9h-0.9zM461.9 316.0h0.9v0.9h-0.9zM460.5 315.7h0.9v0.9h-0.9zM458.2 321.4h0.9v0.9h-0.9zM459.2 322.5h0.9v0.9h-0.9zM465.9 315.1h0.9v0.9h-0.9zM453.1 323.0h0.9v0.9h-0.9zM459.3 321.6h0.9v0.9h-0.9zM451.5 319.9h0.9v0.9h-0.9zM452.9 324.6h0.9v0.9h-0.9zM448.8 327.0h0.9v0.9h-0.9zM457.6 323.9h0.9v0.9h-0.9zM459.4 317.7h0.9v0.9h-0.9zM457.4 320.1h0.9v0.9h-0.9zM463.0 314.1h0.9v0.9h-0.9zM454.9 329.2h0.9v0.9h-0.9zM452.5 340.5h0.9v0.9h-0.9zM461.7 311.3h0.9v0.9h-0.9zM452.4 329.5h0.9v0.9h-0.9zM463.1 313.6h0.9v0.9h-0.9zM450.7 330.1h0.9v0.9h-0.9zM456.5 318.1h0.9v0.9h-0.9zM457.8 321.0h0.9v0.9h-0.9zM449.2 330.0h0.9v0.9h-0.9zM456.2 327.9h0.9v0.9h-0.9zM462.6 314.4h0.9v0.9h-0.9zM456.0 324.8h0.9v0.9h-0.9zM458.2 321.1h0.9v0.9h-0.9zM455.1 321.2h0.9v0.9h-0.9zM453.7 322.5h0.9v0.9h-0.9zM453.7 332.9h0.9v0.9h-0.9zM450.9 334.0h0.9v0.9h-0.9zM464.3 308.1h0.9v0.9h-0.9zM461.6 317.3h0.9v0.9h-0.9zM450.2 330.7h0.9v0.9h-0.9zM452.9 322.8h0.9v0.9h-0.9zM447.5 333.5h0.9v0.9h-0.9zM450.2 327.9h0.9v0.9h-0.9zM453.8 327.3h0.9v0.9h-0.9zM446.9 339.1h0.9v0.9h-0.9zM455.8 321.9h0.9v0.9h-0.9zM464.3 313.6h0.9v0.9h-0.9zM456.2 321.0h0.9v0.9h-0.9zM465.7 315.2h0.9v0.9h-0.9zM441.3 341.5h0.9v0.9h-0.9zM446.5 342.4h0.9v0.9h-0.9zM450.8 343.4h0.9v0.9h-0.9zM455.5 331.0h0.9v0.9h-0.9zM467.2 312.4h0.9v0.9h-0.9zM459.2 327.6h0.9v0.9h-0.9zM449.0 333.9h0.9v0.9h-0.9zM466.2 308.9h0.9v0.9h-0.9zM466.2 310.7h0.9v0.9h-0.9zM454.2 322.7h0.9v0.9h-0.9zM450.9 336.9h0.9v0.9h-0.9zM452.5 337.0h0.9v0.9h-0.9zM457.3 321.2h0.9v0.9h-0.9zM467.4 309.5h0.9v0.9h-0.9zM445.7 334.5h0.9v0.9h-0.9zM464.6 310.9h0.9v0.9h-0.9zM452.3 329.7h0.9v0.9h-0.9zM458.9 324.9h0.9v0.9h-0.9zM445.8 332.1h0.9v0.9h-0.9zM463.7 312.7h0.9v0.9h-0.9zM446.1 341.1h0.9v0.9h-0.9zM461.8 315.4h0.9v0.9h-0.9zM455.3 330.2h0.9v0.9h-0.9zM449.8 330.6h0.9v0.9h-0.9zM465.3 309.8h0.9v0.9h-0.9zM458.9 322.3h0.9v0.9h-0.9zM458.7 322.1h0.9v0.9h-0.9zM465.8 308.0h0.9v0.9h-0.9zM453.0 331.6h0.9v0.9h-0.9zM445.6 339.5h0.9v0.9h-0.9zM461.3 317.3h0.9v0.9h-0.9zM457.4 321.2h0.9v0.9h-0.9zM459.7 317.1h0.9v0.9h-0.9zM461.2 312.5h0.9v0.9h-0.9zM458.6 319.8h0.9v0.9h-0.9zM467.9 310.8h0.9v0.9h-0.9zM457.8 323.5h0.9v0.9h-0.9zM453.8 328.7h0.9v0.9h-0.9zM459.0 325.6h0.9v0.9h-0.9zM448.1 334.9h0.9v0.9h-0.9zM465.4 313.5h0.9v0.9h-0.9zM456.7 320.4h0.9v0.9h-0.9zM458.0 320.4h0.9v0.9h-0.9zM452.1 325.8h0.9v0.9h-0.9zM447.8 332.9h0.9v0.9h-0.9zM451.1 326.8h0.9v0.9h-0.9zM464.9 313.8h0.9v0.9h-0.9zM444.3 337.2h0.9v0.9h-0.9zM464.9 313.6h0.9v0.9h-0.9zM465.3 312.6h0.9v0.9h-0.9zM452.4 324.5h0.9v0.9h-0.9zM447.1 336.2h0.9v0.9h-0.9zM460.1 312.0h0.9v0.9h-0.9zM451.3 319.6h0.9v0.9h-0.9zM451.1 330.7h0.9v0.9h-0.9zM450.9 334.4h0.9v0.9h-0.9zM466.1 314.1h0.9v0.9h-0.9zM462.1 314.7h0.9v0.9h-0.9zM459.6 317.9h0.9v0.9h-0.9zM465.5 308.7h0.9v0.9h-0.9zM449.9 338.0h0.9v0.9h-0.9zM458.3 316.6h0.9v0.9h-0.9zM448.0 334.2h0.9v0.9h-0.9zM459.2 315.0h0.9v0.9h-0.9zM449.9 337.4h0.9v0.9h-0.9zM459.8 320.5h0.9v0.9h-0.9zM461.3 315.5h0.9v0.9h-0.9zM459.5 323.1h0.9v0.9h-0.9zM453.1 328.1h0.9v0.9h-0.9zM454.4 323.0h0.9v0.9h-0.9zM457.7 316.2h0.9v0.9h-0.9zM454.3 325.3h0.9v0.9h-0.9zM466.4 308.9h0.9v0.9h-0.9zM464.7 311.5h0.9v0.9h-0.9zM448.8 337.4h0.9v0.9h-0.9zM452.0 329.9h0.9v0.9h-0.9zM455.8 324.4h0.9v0.9h-0.9zM449.7 333.0h0.9v0.9h-0.9zM463.3 319.0h0.9v0.9h-0.9zM457.4 320.2h0.9v0.9h-0.9zM449.8 338.0h0.9v0.9h-0.9zM465.9 311.4h0.9v0.9h-0.9zM449.3 334.7h0.9v0.9h-0.9zM454.0 328.9h0.9v0.9h-0.9zM451.0 328.0h0.9v0.9h-0.9zM457.7 316.2h0.9v0.9h-0.9zM450.2 329.9h0.9v0.9h-0.9zM451.3 333.0h0.9v0.9h-0.9zM449.6 335.8h0.9v0.9h-0.9zM448.4 333.7h0.9v0.9h-0.9zM453.1 326.6h0.9v0.9h-0.9zM452.8 327.3h0.9v0.9h-0.9zM454.2 326.5h0.9v0.9h-0.9zM450.9 327.8h0.9v0.9h-0.9zM456.2 326.1h0.9v0.9h-0.9zM450.3 331.7h0.9v0.9h-0.9zM454.9 323.9h0.9v0.9h-0.9zM447.5 337.5h0.9v0.9h-0.9zM450.1 335.0h0.9v0.9h-0.9zM455.9 327.6h0.9v0.9h-0.9zM451.6 326.5h0.9v0.9h-0.9zM464.6 315.2h0.9v0.9h-0.9zM443.7 336.9h0.9v0.9h-0.9zM447.2 341.7h0.9v0.9h-0.9zM446.7 340.0h0.9v0.9h-0.9zM454.1 328.8h0.9v0.9h-0.9zM451.4 325.3h0.9v0.9h-0.9zM455.8 325.4h0.9v0.9h-0.9zM453.0 321.5h0.9v0.9h-0.9zM454.4 330.8h0.9v0.9h-0.9zM463.2 312.3h0.9v0.9h-0.9zM453.6 328.2h0.9v0.9h-0.9zM452.2 327.9h0.9v0.9h-0.9zM453.3 325.3h0.9v0.9h-0.9zM452.3 329.8h0.9v0.9h-0.9zM458.4 318.7h0.9v0.9h-0.9zM454.2 323.8h0.9v0.9h-0.9zM458.4 316.1h0.9v0.9h-0.9zM454.2 334.3h0.9v0.9h-0.9zM452.0 327.8h0.9v0.9h-0.9zM452.0 326.6h0.9v0.9h-0.9zM448.9 327.6h0.9v0.9h-0.9zM448.5 337.2h0.9v0.9h-0.9zM462.8 314.2h0.9v0.9h-0.9zM455.6 321.7h0.9v0.9h-0.9zM455.2 325.2h0.9v0.9h-0.9zM461.7 325.7h0.9v0.9h-0.9zM460.1 319.9h0.9v0.9h-0.9zM457.8 319.3h0.9v0.9h-0.9zM460.6 322.6h0.9v0.9h-0.9zM456.9 335.0h0.9v0.9h-0.9zM458.9 323.5h0.9v0.9h-0.9zM463.9 314.5h0.9v0.9h-0.9zM442.6 337.7h0.9v0.9h-0.9zM462.6 317.3h0.9v0.9h-0.9zM454.1 319.0h0.9v0.9h-0.9zM458.5 325.0h0.9v0.9h-0.9zM467.0 309.7h0.9v0.9h-0.9zM446.2 337.6h0.9v0.9h-0.9zM455.4 325.5h0.9v0.9h-0.9zM461.4 315.9h0.9v0.9h-0.9zM455.9 332.6h0.9v0.9h-0.9zM451.4 331.0h0.9v0.9h-0.9zM450.7 326.7h0.9v0.9h-0.9zM460.6 317.6h0.9v0.9h-0.9zM447.5 340.5h0.9v0.9h-0.9zM447.1 335.9h0.9v0.9h-0.9zM458.2 324.5h0.9v0.9h-0.9zM460.4 320.8h0.9v0.9h-0.9zM454.0 328.6h0.9v0.9h-0.9zM451.5 327.9h0.9v0.9h-0.9zM447.7 334.3h0.9v0.9h-0.9zM455.0 326.4h0.9v0.9h-0.9zM449.4 327.7h0.9v0.9h-0.9zM456.6 329.0h0.9v0.9h-0.9zM450.7 328.5h0.9v0.9h-0.9zM452.3 325.9h0.9v0.9h-0.9zM454.7 327.0h0.9v0.9h-0.9zM455.1 320.0h0.9v0.9h-0.9zM451.3 336.2h0.9v0.9h-0.9zM460.6 317.0h0.9v0.9h-0.9zM446.6 331.3h0.9v0.9h-0.9zM452.2 333.5h0.9v0.9h-0.9zM453.6 322.4h0.9v0.9h-0.9zM450.2 326.4h0.9v0.9h-0.9zM457.2 322.7h0.9v0.9h-0.9zM452.9 331.6h0.9v0.9h-0.9zM464.0 310.6h0.9v0.9h-0.9zM445.0 334.2h0.9v0.9h-0.9zM453.9 328.4h0.9v0.9h-0.9zM449.8 332.8h0.9v0.9h-0.9zM453.5 324.0h0.9v0.9h-0.9zM458.3 320.8h0.9v0.9h-0.9zM451.9 322.4h0.9v0.9h-0.9zM451.6 325.3h0.9v0.9h-0.9zM456.6 322.2h0.9v0.9h-0.9zM444.4 340.0h0.9v0.9h-0.9zM448.5 324.5h0.9v0.9h-0.9zM461.0 317.1h0.9v0.9h-0.9zM464.4 312.1h0.9v0.9h-0.9zM456.7 317.6h0.9v0.9h-0.9zM447.9 339.9h0.9v0.9h-0.9zM452.6 329.2h0.9v0.9h-0.9zM457.6 319.0h0.9v0.9h-0.9zM448.6 327.7h0.9v0.9h-0.9zM461.9 314.3h0.9v0.9h-0.9zM450.0 326.3h0.9v0.9h-0.9zM466.3 312.1h0.9v0.9h-0.9zM452.6 328.8h0.9v0.9h-0.9zM447.4 329.7h0.9v0.9h-0.9zM456.4 325.2h0.9v0.9h-0.9zM446.6 337.0h0.9v0.9h-0.9zM466.7 310.7h0.9v0.9h-0.9zM466.1 313.4h0.9v0.9h-0.9zM464.2 314.5h0.9v0.9h-0.9zM449.5 329.7h0.9v0.9h-0.9zM450.9 333.1h0.9v0.9h-0.9zM462.4 315.0h0.9v0.9h-0.9zM446.5 330.1h0.9v0.9h-0.9zM450.7 330.7h0.9v0.9h-0.9zM465.2 311.2h0.9v0.9h-0.9zM446.7 326.4h0.9v0.9h-0.9zM465.0 308.4h0.9v0.9h-0.9zM449.3 334.0h0.9v0.9h-0.9zM455.3 321.8h0.9v0.9h-0.9zM460.2 319.7h0.9v0.9h-0.9zM457.7 324.2h0.9v0.9h-0.9zM446.6 336.9h0.9v0.9h-0.9zM455.9 327.7h0.9v0.9h-0.9zM446.9 331.8h0.9v0.9h-0.9zM456.3 331.4h0.9v0.9h-0.9zM455.3 328.6h0.9v0.9h-0.9zM456.9 318.5h0.9v0.9h-0.9zM451.5 334.0h0.9v0.9h-0.9zM455.3 326.5h0.9v0.9h-0.9zM456.8 319.2h0.9v0.9h-0.9zM449.7 337.1h0.9v0.9h-0.9zM454.5 340.2h0.9v0.9h-0.9zM454.2 328.1h0.9v0.9h-0.9zM457.7 325.0h0.9v0.9h-0.9zM457.8 326.0h0.9v0.9h-0.9zM461.7 321.3h0.9v0.9h-0.9zM461.7 316.5h0.9v0.9h-0.9zM455.2 318.9h0.9v0.9h-0.9zM458.7 321.6h0.9v0.9h-0.9zM463.2 315.1h0.9v0.9h-0.9zM464.9 310.0h0.9v0.9h-0.9zM446.8 328.9h0.9v0.9h-0.9zM451.2 335.3h0.9v0.9h-0.9zM449.6 334.2h0.9v0.9h-0.9zM449.7 336.7h0.9v0.9h-0.9zM456.1 327.8h0.9v0.9h-0.9zM448.8 330.0h0.9v0.9h-0.9zM466.6 310.4h0.9v0.9h-0.9zM450.5 334.0h0.9v0.9h-0.9zM462.2 313.8h0.9v0.9h-0.9zM455.4 330.3h0.9v0.9h-0.9zM451.0 329.4h0.9v0.9h-0.9zM464.4 312.6h0.9v0.9h-0.9zM450.4 332.0h0.9v0.9h-0.9zM453.9 330.1h0.9v0.9h-0.9zM452.3 335.7h0.9v0.9h-0.9zM457.5 323.9h0.9v0.9h-0.9zM459.0 320.8h0.9v0.9h-0.9zM449.7 327.2h0.9v0.9h-0.9zM451.6 327.3h0.9v0.9h-0.9zM452.1 329.8h0.9v0.9h-0.9zM452.1 326.2h0.9v0.9h-0.9zM453.3 326.8h0.9v0.9h-0.9zM446.1 330.5h0.9v0.9h-0.9zM459.8 322.7h0.9v0.9h-0.9zM461.1 315.3h0.9v0.9h-0.9zM465.7 313.4h0.9v0.9h-0.9zM459.9 323.5h0.9v0.9h-0.9zM463.9 312.7h0.9v0.9h-0.9zM448.6 331.7h0.9v0.9h-0.9zM463.2 312.8h0.9v0.9h-0.9zM459.1 319.1h0.9v0.9h-0.9zM442.9 337.1h0.9v0.9h-0.9zM453.2 332.4h0.9v0.9h-0.9zM463.3 316.5h0.9v0.9h-0.9zM465.0 308.9h0.9v0.9h-0.9zM456.3 320.0h0.9v0.9h-0.9zM459.6 321.2h0.9v0.9h-0.9zM462.0 314.6h0.9v0.9h-0.9zM451.6 329.6h0.9v0.9h-0.9zM443.7 333.3h0.9v0.9h-0.9zM448.2 338.0h0.9v0.9h-0.9zM453.0 337.5h0.9v0.9h-0.9zM448.7 340.0h0.9v0.9h-0.9zM459.5 315.8h0.9v0.9h-0.9zM456.4 332.3h0.9v0.9h-0.9zM453.1 332.1h0.9v0.9h-0.9zM462.9 315.7h0.9v0.9h-0.9zM465.7 312.8h0.9v0.9h-0.9zM448.1 332.1h0.9v0.9h-0.9zM466.7 310.4h0.9v0.9h-0.9zM451.6 335.8h0.9v0.9h-0.9zM467.1 309.5h0.9v0.9h-0.9zM449.9 332.7h0.9v0.9h-0.9zM451.6 324.2h0.9v0.9h-0.9zM456.2 322.3h0.9v0.9h-0.9zM448.2 328.1h0.9v0.9h-0.9zM450.8 331.6h0.9v0.9h-0.9zM457.9 318.2h0.9v0.9h-0.9zM453.6 332.5h0.9v0.9h-0.9zM464.5 314.1h0.9v0.9h-0.9zM457.3 321.1h0.9v0.9h-0.9zM459.2 323.2h0.9v0.9h-0.9zM452.3 326.6h0.9v0.9h-0.9zM456.6 326.7h0.9v0.9h-0.9zM464.7 312.6h0.9v0.9h-0.9zM445.5 332.2h0.9v0.9h-0.9zM465.7 312.3h0.9v0.9h-0.9zM452.4 330.3h0.9v0.9h-0.9zM456.0 336.7h0.9v0.9h-0.9zM454.2 338.4h0.9v0.9h-0.9zM446.6 333.0h0.9v0.9h-0.9zM456.0 322.4h0.9v0.9h-0.9zM445.2 333.0h0.9v0.9h-0.9zM447.5 328.6h0.9v0.9h-0.9zM462.9 318.9h0.9v0.9h-0.9zM452.3 338.6h0.9v0.9h-0.9zM454.7 322.8h0.9v0.9h-0.9zM458.6 320.0h0.9v0.9h-0.9zM459.1 325.4h0.9v0.9h-0.9zM448.9 329.2h0.9v0.9h-0.9zM466.8 311.4h0.9v0.9h-0.9zM448.7 331.1h0.9v0.9h-0.9zM459.9 318.4h0.9v0.9h-0.9zM452.8 331.4h0.9v0.9h-0.9zM455.6 326.5h0.9v0.9h-0.9zM466.8 309.5h0.9v0.9h-0.9zM463.7 314.2h0.9v0.9h-0.9zM446.4 335.3h0.9v0.9h-0.9zM459.9 318.1h0.9v0.9h-0.9zM452.4 329.6h0.9v0.9h-0.9zM459.5 321.9h0.9v0.9h-0.9zM445.2 330.4h0.9v0.9h-0.9zM450.4 329.1h0.9v0.9h-0.9zM452.6 332.7h0.9v0.9h-0.9zM453.6 329.7h0.9v0.9h-0.9zM458.4 321.6h0.9v0.9h-0.9zM446.2 329.3h0.9v0.9h-0.9zM455.8 319.9h0.9v0.9h-0.9zM458.2 325.5h0.9v0.9h-0.9zM453.1 326.1h0.9v0.9h-0.9zM459.3 319.6h0.9v0.9h-0.9zM451.1 329.0h0.9v0.9h-0.9zM460.0 314.4h0.9v0.9h-0.9zM451.8 326.3h0.9v0.9h-0.9zM459.8 315.0h0.9v0.9h-0.9zM455.2 320.7h0.9v0.9h-0.9zM461.7 319.8h0.9v0.9h-0.9zM449.0 329.0h0.9v0.9h-0.9zM460.2 321.2h0.9v0.9h-0.9zM466.3 309.6h0.9v0.9h-0.9zM446.2 338.7h0.9v0.9h-0.9zM464.1 313.2h0.9v0.9h-0.9zM462.3 314.9h0.9v0.9h-0.9zM460.8 332.6h0.9v0.9h-0.9zM467.2 311.3h0.9v0.9h-0.9zM455.1 334.0h0.9v0.9h-0.9zM451.4 325.0h0.9v0.9h-0.9zM450.4 338.8h0.9v0.9h-0.9zM461.0 318.9h0.9v0.9h-0.9zM456.4 321.7h0.9v0.9h-0.9zM461.8 318.2h0.9v0.9h-0.9zM452.0 321.7h0.9v0.9h-0.9zM464.3 312.5h0.9v0.9h-0.9zM452.0 328.1h0.9v0.9h-0.9zM453.3 330.4h0.9v0.9h-0.9zM452.6 328.7h0.9v0.9h-0.9zM447.3 333.1h0.9v0.9h-0.9zM459.1 326.1h0.9v0.9h-0.9zM460.6 313.2h0.9v0.9h-0.9zM455.6 331.3h0.9v0.9h-0.9zM461.4 318.1h0.9v0.9h-0.9zM455.9 335.8h0.9v0.9h-0.9zM457.7 316.0h0.9v0.9h-0.9zM452.7 326.2h0.9v0.9h-0.9zM450.0 328.4h0.9v0.9h-0.9zM459.1 317.7h0.9v0.9h-0.9zM461.5 318.6h0.9v0.9h-0.9zM453.0 325.1h0.9v0.9h-0.9zM460.8 318.5h0.9v0.9h-0.9zM452.7 327.0h0.9v0.9h-0.9zM455.3 326.0h0.9v0.9h-0.9zM441.0 330.8h0.9v0.9h-0.9zM461.9 312.1h0.9v0.9h-0.9zM449.3 334.9h0.9v0.9h-0.9zM451.9 329.9h0.9v0.9h-0.9zM464.3 314.7h0.9v0.9h-0.9zM450.4 324.5h0.9v0.9h-0.9zM453.9 328.2h0.9v0.9h-0.9zM460.8 326.1h0.9v0.9h-0.9zM449.4 332.0h0.9v0.9h-0.9zM450.6 336.9h0.9v0.9h-0.9zM464.0 313.7h0.9v0.9h-0.9zM457.5 322.0h0.9v0.9h-0.9zM465.4 314.7h0.9v0.9h-0.9zM455.2 326.3h0.9v0.9h-0.9zM460.2 314.1h0.9v0.9h-0.9zM443.5 331.7h0.9v0.9h-0.9zM467.7 310.1h0.9v0.9h-0.9zM460.8 316.9h0.9v0.9h-0.9zM458.2 318.4h0.9v0.9h-0.9zM452.7 330.7h0.9v0.9h-0.9zM455.1 319.9h0.9v0.9h-0.9zM450.4 333.3h0.9v0.9h-0.9zM439.4 334.5h0.9v0.9h-0.9zM450.3 325.5h0.9v0.9h-0.9zM460.7 311.7h0.9v0.9h-0.9zM452.7 336.7h0.9v0.9h-0.9zM464.8 315.0h0.9v0.9h-0.9zM455.2 325.6h0.9v0.9h-0.9zM462.8 315.6h0.9v0.9h-0.9zM456.4 323.7h0.9v0.9h-0.9zM462.5 315.2h0.9v0.9h-0.9zM462.2 314.9h0.9v0.9h-0.9zM451.5 327.4h0.9v0.9h-0.9zM454.0 331.9h0.9v0.9h-0.9zM456.1 323.8h0.9v0.9h-0.9zM460.7 325.6h0.9v0.9h-0.9zM464.6 312.7h0.9v0.9h-0.9zM464.1 310.2h0.9v0.9h-0.9zM450.4 333.0h0.9v0.9h-0.9zM469.2 310.5h0.9v0.9h-0.9zM458.7 322.3h0.9v0.9h-0.9zM457.9 326.8h0.9v0.9h-0.9zM453.3 331.9h0.9v0.9h-0.9zM449.6 332.5h0.9v0.9h-0.9zM452.0 334.5h0.9v0.9h-0.9zM454.7 329.8h0.9v0.9h-0.9zM460.4 320.4h0.9v0.9h-0.9zM451.9 326.6h0.9v0.9h-0.9zM465.5 311.0h0.9v0.9h-0.9zM459.0 314.8h0.9v0.9h-0.9zM447.1 337.0h0.9v0.9h-0.9zM460.0 314.6h0.9v0.9h-0.9zM447.6 339.3h0.9v0.9h-0.9zM444.2 336.8h0.9v0.9h-0.9zM456.7 323.2h0.9v0.9h-0.9zM460.1 321.7h0.9v0.9h-0.9zM460.3 317.3h0.9v0.9h-0.9zM460.2 318.0h0.9v0.9h-0.9zM464.0 314.5h0.9v0.9h-0.9zM447.0 336.2h0.9v0.9h-0.9zM452.4 332.5h0.9v0.9h-0.9zM451.6 330.1h0.9v0.9h-0.9zM466.6 310.0h0.9v0.9h-0.9zM444.3 334.8h0.9v0.9h-0.9zM455.6 330.5h0.9v0.9h-0.9zM458.8 324.8h0.9v0.9h-0.9zM463.5 314.0h0.9v0.9h-0.9zM455.8 320.9h0.9v0.9h-0.9zM463.7 317.1h0.9v0.9h-0.9zM456.3 329.0h0.9v0.9h-0.9zM450.9 328.4h0.9v0.9h-0.9zM450.9 333.5h0.9v0.9h-0.9zM461.1 314.6h0.9v0.9h-0.9zM454.6 332.6h0.9v0.9h-0.9zM465.9 312.5h0.9v0.9h-0.9zM446.9 327.0h0.9v0.9h-0.9zM448.7 335.4h0.9v0.9h-0.9zM446.4 333.0h0.9v0.9h-0.9zM461.3 316.4h0.9v0.9h-0.9zM450.5 337.3h0.9v0.9h-0.9zM456.6 328.6h0.9v0.9h-0.9zM444.1 343.9h0.9v0.9h-0.9zM451.8 329.9h0.9v0.9h-0.9zM443.7 330.8h0.9v0.9h-0.9zM447.6 334.4h0.9v0.9h-0.9zM466.8 310.5h0.9v0.9h-0.9zM453.5 326.8h0.9v0.9h-0.9zM460.7 316.1h0.9v0.9h-0.9zM460.2 314.8h0.9v0.9h-0.9zM456.2 321.6h0.9v0.9h-0.9zM452.1 328.6h0.9v0.9h-0.9zM455.9 329.6h0.9v0.9h-0.9zM460.8 318.4h0.9v0.9h-0.9zM465.9 310.8h0.9v0.9h-0.9zM450.9 333.6h0.9v0.9h-0.9zM458.1 324.8h0.9v0.9h-0.9zM463.8 314.1h0.9v0.9h-0.9zM465.7 309.6h0.9v0.9h-0.9zM462.9 313.9h0.9v0.9h-0.9zM464.7 319.1h0.9v0.9h-0.9zM454.7 323.8h0.9v0.9h-0.9zM454.2 327.0h0.9v0.9h-0.9zM465.1 311.8h0.9v0.9h-0.9zM450.8 327.7h0.9v0.9h-0.9zM451.7 330.5h0.9v0.9h-0.9zM461.3 315.4h0.9v0.9h-0.9zM456.1 324.5h0.9v0.9h-0.9zM446.6 329.9h0.9v0.9h-0.9zM450.1 341.7h0.9v0.9h-0.9zM464.4 313.7h0.9v0.9h-0.9zM451.8 332.1h0.9v0.9h-0.9zM465.5 310.3h0.9v0.9h-0.9zM460.2 323.0h0.9v0.9h-0.9zM463.0 314.7h0.9v0.9h-0.9zM448.9 331.0h0.9v0.9h-0.9zM457.8 322.2h0.9v0.9h-0.9zM451.9 334.2h0.9v0.9h-0.9zM451.1 325.2h0.9v0.9h-0.9zM457.1 321.0h0.9v0.9h-0.9zM462.0 316.9h0.9v0.9h-0.9zM454.2 325.8h0.9v0.9h-0.9zM453.5 325.3h0.9v0.9h-0.9zM449.8 328.1h0.9v0.9h-0.9zM457.9 318.9h0.9v0.9h-0.9zM451.1 334.2h0.9v0.9h-0.9zM449.3 341.2h0.9v0.9h-0.9zM453.0 336.2h0.9v0.9h-0.9zM464.3 314.6h0.9v0.9h-0.9zM454.6 326.5h0.9v0.9h-0.9zM452.7 328.7h0.9v0.9h-0.9zM458.3 321.9h0.9v0.9h-0.9zM447.0 338.2h0.9v0.9h-0.9zM450.1 329.8h0.9v0.9h-0.9zM461.9 315.4h0.9v0.9h-0.9zM449.8 339.5h0.9v0.9h-0.9zM459.3 321.2h0.9v0.9h-0.9zM450.1 331.4h0.9v0.9h-0.9zM458.8 320.5h0.9v0.9h-0.9zM450.1 329.8h0.9v0.9h-0.9zM452.9 334.8h0.9v0.9h-0.9zM462.7 315.9h0.9v0.9h-0.9zM459.2 319.0h0.9v0.9h-0.9zM455.6 318.3h0.9v0.9h-0.9zM452.7 329.8h0.9v0.9h-0.9zM450.6 328.4h0.9v0.9h-0.9zM465.8 310.4h0.9v0.9h-0.9zM451.5 330.8h0.9v0.9h-0.9zM467.4 309.4h0.9v0.9h-0.9zM442.3 337.3h0.9v0.9h-0.9zM463.8 312.1h0.9v0.9h-0.9zM464.5 317.5h0.9v0.9h-0.9zM449.7 326.4h0.9v0.9h-0.9zM459.3 319.0h0.9v0.9h-0.9zM455.4 323.9h0.9v0.9h-0.9zM448.0 327.9h0.9v0.9h-0.9zM449.9 338.9h0.9v0.9h-0.9zM450.7 323.4h0.9v0.9h-0.9zM449.0 327.3h0.9v0.9h-0.9z" fill="#000" fill-opacity="0.5"/>
<rect x="431.50" y="275.50" width="71.00" height="72.00" fill="none" stroke="#000" stroke-width="1"/>
<line x1="468.50" y1="275.50" x2="468.50" y2="347.50" stroke="#1a1a1a" stroke-width="1"/>
<line x1="431.50" y1="307.50" x2="502.50" y2="307.50" stroke="#1a1a1a" stroke-width="1"/>
<line x1="430.40" y1="277.50" x2="430.40" y2="347.50" stroke="#333" stroke-width="0.9" stroke-dasharray="0.7 1.6"/>
<line x1="431.50" y1="348.60" x2="500.50" y2="348.60" stroke="#333" stroke-width="0.9" stroke-dasharray="0.7 1.6"/>
<line x1="429.70" y1="347.00" x2="431.50" y2="347.00" stroke="#222" stroke-width="0.9"/>
<line x1="432.00" y1="347.50" x2="432.00" y2="349.30" stroke="#222" stroke-width="0.9"/>
<line x1="429.70" y1="329.00" x2="431.50" y2="329.00" stroke="#222" stroke-width="0.9"/>
<line x1="450.00" y1="347.50" x2="450.00" y2="349.30" stroke="#222" stroke-width="0.9"/>
<line x1="429.70" y1="311.00" x2="431.50" y2="311.00" stroke="#222" stroke-width="0.9"/>
<line x1="468.00" y1="347.50" x2="468.00" y2="349.30" stroke="#222" stroke-width="0.9"/>
<line x1="429.70" y1="293.00" x2="431.50" y2="293.00" stroke="#222" stroke-width="0.9"/>
<line x1="486.00" y1="347.50" x2="486.00" y2="349.30" stroke="#222" stroke-width="0.9"/>
<text transform="translate(466.00,269.30) scale(1,1.15)" font-size="8.1" text-anchor="middle" >LPS+Rap+Dex</text>
<text transform="translate(432.70,283.80) scale(1,1.15)" font-size="7.8" text-anchor="start" >0.2</text>
<text transform="translate(501.70,283.80) scale(1,1.15)" font-size="7.8" text-anchor="end" >0.3</text>
<text transform="translate(432.70,344.80) scale(1,1.15)" font-size="7.8" text-anchor="start" >94.7</text>
<text transform="translate(501.70,344.80) scale(1,1.15)" font-size="7.8" text-anchor="end" >4.8</text>
<line x1="195.30" y1="357.70" x2="195.30" y2="317.00" stroke="#000" stroke-width="1.3"/>
<path d="M195.3 312.2 L192.8 318.4 L197.8 318.4 Z" fill="#000"/>
<line x1="194.65" y1="357.10" x2="235.00" y2="357.10" stroke="#000" stroke-width="1.3"/>
<path d="M240.3 357.1 L234.2 354.5 L234.2 359.7 Z" fill="#000"/>
<text x="0" y="0" font-size="7.8" text-anchor="middle" transform="translate(189.00,336.00) rotate(-90) scale(1,1.15)" dominant-baseline="central">IL-4</text>
<text transform="translate(216.70,365.30) scale(1,1.15)" font-size="7.8" text-anchor="middle" >IFN-γ</text></svg>
</body></html>
